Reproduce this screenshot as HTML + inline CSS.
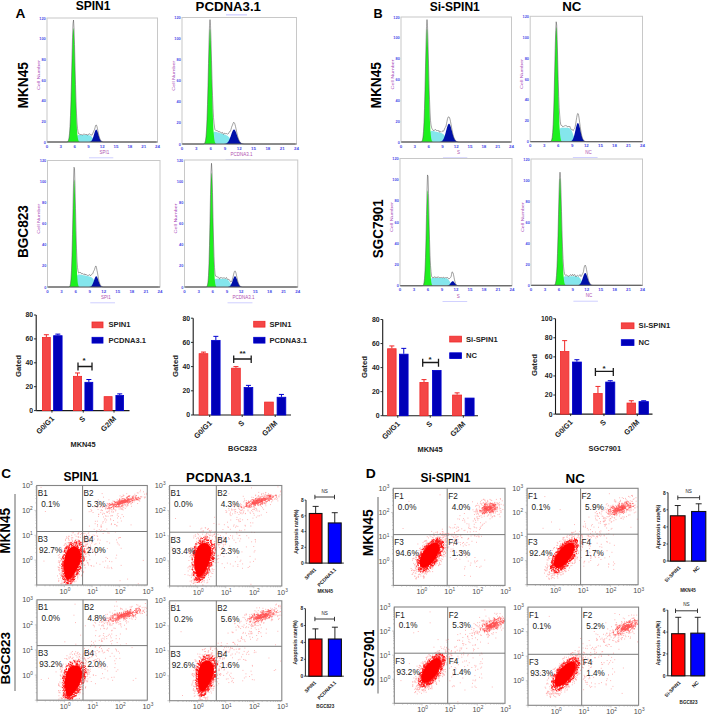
<!DOCTYPE html><html><head><meta charset="utf-8"><style>html,body{margin:0;padding:0;background:#fff;}svg{display:block;}</style></head><body><svg width="709" height="714" viewBox="0 0 709 714" font-family='"Liberation Sans", sans-serif'>
<rect width="709" height="714" fill="#fff"/>
<text x="15.6" y="18.3" font-size="12.57" font-weight="bold" fill="#000" textLength="9.91" lengthAdjust="spacingAndGlyphs">A</text>
<text x="75.67" y="10.2" font-size="13.13" font-weight="bold" fill="#000" textLength="34.85" lengthAdjust="spacingAndGlyphs">SPIN1</text>
<text x="195.59" y="10.5" font-size="12.78" font-weight="bold" fill="#000" textLength="65.32" lengthAdjust="spacingAndGlyphs">PCDNA3.1</text>
<text x="373.38" y="17.8" font-size="12.99" font-weight="bold" fill="#000" textLength="9.14" lengthAdjust="spacingAndGlyphs">B</text>
<text x="429.71" y="10.5" font-size="12.29" font-weight="bold" fill="#000" textLength="50.08" lengthAdjust="spacingAndGlyphs">Si-SPIN1</text>
<text x="562.21" y="10.5" font-size="12.29" font-weight="bold" fill="#000" textLength="19.18" lengthAdjust="spacingAndGlyphs">NC</text>
<text transform="translate(28.1,108.61) rotate(-90)" x="0" y="0" font-size="15.36" font-weight="bold" fill="#000" textLength="46.53" lengthAdjust="spacingAndGlyphs">MKN45</text>
<text transform="translate(28.1,258.1) rotate(-90)" x="0" y="0" font-size="15.08" font-weight="bold" fill="#000" textLength="53.01" lengthAdjust="spacingAndGlyphs">BGC823</text>
<text transform="translate(381,108.39) rotate(-90)" x="0" y="0" font-size="14.8" font-weight="bold" fill="#000" textLength="46.28" lengthAdjust="spacingAndGlyphs">MKN45</text>
<text transform="translate(382.7,258.19) rotate(-90)" x="0" y="0" font-size="14.8" font-weight="bold" fill="#000" textLength="58.98" lengthAdjust="spacingAndGlyphs">SGC7901</text>
<rect x="47" y="18" width="110.5" height="124" fill="#fff" stroke="#c8c8c8" stroke-width="1"/>
<polygon points="72.75,142 72.75,141.94 73,141.91 73.25,141.87 73.5,141.8 73.75,141.7 74,141.55 74.25,141.34 74.5,141.05 74.75,140.65 75,140.14 75.25,139.52 75.5,138.82 75.75,138.09 76,137.4 76.25,136.79 76.5,136.29 76.75,135.91 77,135.63 77.25,135.43 77.5,135.29 77.75,135.19 78,135.13 78.25,135.08 78.5,135.06 78.75,135.04 79,135.02 79.25,135.02 79.5,135.01 79.75,135.01 80,135 80.25,135 80.5,135 80.75,135 81,135 81.25,135 81.5,135 81.75,135 82,135 82.25,135 82.5,135 82.75,135 83,135 83.25,135 83.5,135 83.75,135 84,135 84.25,135 84.5,135.01 84.75,135.01 85,135.01 85.25,135.01 85.5,135.01 85.75,135.02 86,135.02 86.25,135.03 86.5,135.03 86.75,135.04 87,135.05 87.25,135.06 87.5,135.07 87.75,135.09 88,135.11 88.25,135.13 88.5,135.16 88.75,135.2 89,135.24 89.25,135.29 89.5,135.36 89.75,135.44 90,135.53 90.25,135.64 90.5,135.78 90.75,135.93 91,136.11 91.25,136.32 91.5,136.56 91.75,136.83 92,137.12 92.25,137.44 92.5,137.78 92.75,138.14 93,138.5 93.25,138.86 93.5,139.22 93.75,139.56 94,139.88 94.25,140.17 94.5,140.44 94.75,140.68 95,140.89 95.25,141.07 95.5,141.22 95.75,141.36 96,141.47 96.25,141.56 96.5,141.64 96.75,141.71 97,141.76 97.25,141.8 97.5,141.84 97.75,141.87 98,141.89 98.25,141.91 98.5,141.93 98.75,141.94 98.75,142" fill="#84e6ec"/>
<polygon points="67,142 67,141.9 67.25,141.84 67.5,141.72 67.75,141.54 68,141.27 68.25,140.84 68.5,140.21 68.75,139.29 69,138 69.25,136.21 69.5,133.8 69.75,130.63 70,126.57 70.25,121.52 70.5,115.39 70.75,108.17 71,99.92 71.25,90.76 71.5,80.95 71.75,70.82 72,60.79 72.25,51.31 72.5,42.91 72.75,36.04 73,31.11 73.25,28.44 73.5,28.2 73.75,30.39 74,34.88 74.25,41.4 74.5,49.53 74.75,58.83 75,68.79 75.25,78.94 75.5,88.84 75.75,98.15 76,106.6 76.25,114.04 76.5,120.38 76.75,125.64 77,129.89 77.25,133.23 77.5,135.78 77.75,137.68 78,139.07 78.25,140.05 78.5,140.73 78.75,141.19 79,141.5 79.25,141.69 79.5,141.82 79.75,141.89 79.75,142" fill="#1ef01e"/>
<polygon points="89.25,142 89.25,141.92 89.5,141.88 89.75,141.83 90,141.77 90.25,141.68 90.5,141.57 90.75,141.42 91,141.24 91.25,141.01 91.5,140.73 91.75,140.4 92,140 92.25,139.53 92.5,138.99 92.75,138.37 93,137.69 93.25,136.95 93.5,136.16 93.75,135.33 94,134.48 94.25,133.63 94.5,132.8 94.75,132.02 95,131.31 95.25,130.7 95.5,130.21 95.75,129.86 96,129.65 96.25,129.6 96.5,129.71 96.75,129.98 97,130.39 97.25,130.93 97.5,131.59 97.75,132.33 98,133.13 98.25,133.97 98.5,134.82 98.75,135.67 99,136.48 99.25,137.26 99.5,137.97 99.75,138.63 100,139.21 100.25,139.72 100.5,140.16 100.75,140.54 101,140.85 101.25,141.11 101.5,141.32 101.75,141.49 102,141.62 102.25,141.72 102.5,141.79 102.75,141.85 103,141.9 103,142" fill="#0010a8"/>
<path d="M48,142 L48.5,142 L49,142 L49.5,142 L50,142 L50.5,142 L51,142 L51.5,142 L52,142 L52.5,142 L53,142 L53.5,142 L54,142 L54.5,142 L55,142 L55.5,142 L56,142 L56.5,142 L57,142 L57.5,142 L58,142 L58.5,142 L59,142 L59.5,142 L60,142 L60.5,142 L61,142 L61.5,142 L62,142 L62.5,142 L63,142 L63.5,142 L64,142 L64.5,142 L65,142 L65.5,142 L66,141.99 L66.5,141.97 L67,141.9 L67.5,141.72 L68,141.27 L68.5,140.21 L69,138 L69.5,133.79 L70,126.56 L70.5,115.33 L71,99.62 L71.5,79.93 L72,58.16 L72.5,37.83 L73,23.71 L73.5,20.02 L74,27.88 L74.5,44.48 L75,65.1 L75.5,84.4 L76,101.34 L76.5,113.88 L77,122.93 L77.5,128.56 L78,131.61 L78.5,133.6 L79,133.91 L79.5,133.89 L80,134.8 L80.5,134.6 L81,134.28 L81.5,134.62 L82,134.93 L82.5,134.96 L83,134.51 L83.5,134.23 L84,134.31 L84.5,134.23 L85,134.5 L85.5,134.49 L86,134.79 L86.5,134.53 L87,134.29 L87.5,135.24 L88,134.81 L88.5,134.38 L89,134.24 L89.5,133.6 L90,134.25 L90.5,134.91 L91,134.71 L91.5,134.93 L92,135.31 L92.5,134.21 L93,132.9 L93.5,131.87 L94,130.64 L94.5,129.51 L95,127.88 L95.5,125.71 L96,124.91 L96.5,125.23 L97,126.63 L97.5,128.82 L98,131.35 L98.5,133.82 L99,135.99 L99.5,137.76 L100,139.12 L100.5,140.13 L101,140.84 L101.5,141.31 L102,141.61 L102.5,141.79 L103,141.89 L103.5,141.95 L104,141.98 L104.5,141.99 L105,142 L105.5,142 L106,142 L106.5,142 L107,142 L107.5,142 L108,142 L108.5,142 L109,142 L109.5,142 L110,142 L110.5,142 L111,142 L111.5,142 L112,142 L112.5,142 L113,142 L113.5,142 L114,142 L114.5,142 L115,142 L115.5,142 L116,142 L116.5,142 L117,142 L117.5,142 L118,142 L118.5,142 L119,142 L119.5,142 L120,142 L120.5,142 L121,142 L121.5,142 L122,142 L122.5,142 L123,142 L123.5,142 L124,142 L124.5,142 L125,142 L125.5,142 L126,142 L126.5,142 L127,142 L127.5,142 L128,142 L128.5,142 L129,142 L129.5,142 L130,142 L130.5,142 L131,142 L131.5,142 L132,142 L132.5,142 L133,142 L133.5,142 L134,142 L134.5,142 L135,142 L135.5,142 L136,142 L136.5,142 L137,142 L137.5,142 L138,142 L138.5,142 L139,142 L139.5,142 L140,142 L140.5,142 L141,142 L141.5,142 L142,142 L142.5,142 L143,142 L143.5,142 L144,142 L144.5,142 L145,142 L145.5,142 L146,142 L146.5,142 L147,142 L147.5,142 L148,142 L148.5,142 L149,142 L149.5,142 L150,142 L150.5,142 L151,142 L151.5,142 L152,142 L152.5,142 L153,142 L153.5,142 L154,142 L154.5,142 L155,142 L155.5,142 L156,142" fill="none" stroke="#444" stroke-width="0.5"/>
<line x1="47" y1="142" x2="157.5" y2="142" stroke="#5a5a5a" stroke-width="1"/>
<text x="45.8" y="19.5" font-size="3.9" fill="#4a4ae8" text-anchor="end" font-weight="bold">120</text>
<text x="45.8" y="40.17" font-size="3.9" fill="#4a4ae8" text-anchor="end" font-weight="bold">100</text>
<text x="45.8" y="60.83" font-size="3.9" fill="#4a4ae8" text-anchor="end" font-weight="bold">80</text>
<text x="45.8" y="81.5" font-size="3.9" fill="#4a4ae8" text-anchor="end" font-weight="bold">60</text>
<text x="45.8" y="102.17" font-size="3.9" fill="#4a4ae8" text-anchor="end" font-weight="bold">40</text>
<text x="45.8" y="122.83" font-size="3.9" fill="#4a4ae8" text-anchor="end" font-weight="bold">20</text>
<text x="45.8" y="143.5" font-size="3.9" fill="#4a4ae8" text-anchor="end" font-weight="bold">0</text>
<text x="47" y="147.6" font-size="4.4" fill="#4a4ae8" text-anchor="middle" font-weight="bold">0</text>
<text x="60.81" y="147.6" font-size="4.4" fill="#4a4ae8" text-anchor="middle" font-weight="bold">3</text>
<text x="74.62" y="147.6" font-size="4.4" fill="#4a4ae8" text-anchor="middle" font-weight="bold">6</text>
<text x="88.44" y="147.6" font-size="4.4" fill="#4a4ae8" text-anchor="middle" font-weight="bold">9</text>
<text x="102.25" y="147.6" font-size="4.4" fill="#4a4ae8" text-anchor="middle" font-weight="bold">12</text>
<text x="116.06" y="147.6" font-size="4.4" fill="#4a4ae8" text-anchor="middle" font-weight="bold">15</text>
<text x="129.88" y="147.6" font-size="4.4" fill="#4a4ae8" text-anchor="middle" font-weight="bold">18</text>
<text x="143.69" y="147.6" font-size="4.4" fill="#4a4ae8" text-anchor="middle" font-weight="bold">21</text>
<text x="157.5" y="147.6" font-size="4.4" fill="#4a4ae8" text-anchor="middle" font-weight="bold">24</text>
<text transform="translate(39.8,75.04) rotate(-90)" font-size="4.3" fill="#a848b8" text-anchor="middle" textLength="30" lengthAdjust="spacingAndGlyphs">Cell Number</text>
<text x="104.46" y="154" font-size="4.5" fill="#b050b0" text-anchor="middle">SPI1</text>
<rect x="88.99" y="157.5" width="24.31" height="0.7" fill="#9090ff" opacity="0.6"/>
<rect x="182" y="17.5" width="114.5" height="126.5" fill="#fff" stroke="#c8c8c8" stroke-width="1"/>
<polygon points="209,144 209,143.94 209.25,143.9 209.5,143.85 209.75,143.78 210,143.67 210.25,143.5 210.5,143.26 210.75,142.91 211,142.41 211.25,141.73 211.5,140.83 211.75,139.72 212,138.46 212.25,137.11 212.5,135.8 212.75,134.63 213,133.67 213.25,132.94 213.5,132.41 213.75,132.05 214,131.83 214.25,131.7 214.5,131.64 214.75,131.63 215,131.64 215.25,131.68 215.5,131.73 215.75,131.79 216,131.86 216.25,131.93 216.5,132 216.75,132.08 217,132.15 217.25,132.23 217.5,132.3 217.75,132.38 218,132.46 218.25,132.54 218.5,132.61 218.75,132.69 219,132.77 219.25,132.85 219.5,132.93 219.75,133 220,133.08 220.25,133.16 220.5,133.24 220.75,133.32 221,133.39 221.25,133.47 221.5,133.55 221.75,133.63 222,133.71 222.25,133.79 222.5,133.87 222.75,133.95 223,134.03 223.25,134.11 223.5,134.19 223.75,134.27 224,134.35 224.25,134.44 224.5,134.52 224.75,134.61 225,134.7 225.25,134.79 225.5,134.88 225.75,134.98 226,135.08 226.25,135.19 226.5,135.31 226.75,135.43 227,135.56 227.25,135.7 227.5,135.85 227.75,136.02 228,136.21 228.25,136.41 228.5,136.64 228.75,136.89 229,137.17 229.25,137.47 229.5,137.81 229.75,138.17 230,138.56 230.25,138.96 230.5,139.39 230.75,139.82 231,140.25 231.25,140.64 231.5,141.02 231.75,141.39 232,141.73 232.25,142.04 232.5,142.33 232.75,142.58 233,142.81 233.25,143 233.5,143.17 233.75,143.31 234,143.43 234.25,143.53 234.5,143.61 234.75,143.68 235,143.74 235.25,143.79 235.5,143.83 235.75,143.86 236,143.89 236.25,143.91 236.5,143.92 236.75,143.94 237,143.95 237,144" fill="#84e6ec"/>
<polygon points="203.75,144 203.75,143.87 204,143.77 204.25,143.62 204.5,143.38 204.75,143.02 205,142.47 205.25,141.67 205.5,140.53 205.75,138.93 206,136.76 206.25,133.88 206.5,130.15 206.75,125.46 207,119.7 207.25,112.84 207.5,104.9 207.75,95.98 208,86.29 208.25,76.12 208.5,65.88 208.75,56.01 209,47.02 209.25,39.39 209.5,33.58 209.75,29.94 210,28.7 210.25,29.94 210.5,33.58 210.75,39.39 211,47.02 211.25,56.01 211.5,65.88 211.75,76.12 212,86.29 212.25,95.98 212.5,104.9 212.75,112.84 213,119.7 213.25,125.46 213.5,130.15 213.75,133.88 214,136.76 214.25,138.93 214.5,140.53 214.75,141.67 215,142.47 215.25,143.02 215.5,143.38 215.75,143.62 216,143.77 216.25,143.87 216.25,144" fill="#1ef01e"/>
<polygon points="224.5,144 224.5,143.9 224.75,143.87 225,143.84 225.25,143.79 225.5,143.74 225.75,143.67 226,143.59 226.25,143.48 226.5,143.36 226.75,143.22 227,143.05 227.25,142.85 227.5,142.61 227.75,142.34 228,142.04 228.25,141.69 228.5,141.3 228.75,140.86 229,140.38 229.25,139.86 229.5,139.29 229.75,138.68 230,138.04 230.25,137.36 230.5,136.66 230.75,135.94 231,135.21 231.25,134.47 231.5,133.75 231.75,133.05 232,132.39 232.25,131.77 232.5,131.2 232.75,130.71 233,130.28 233.25,129.95 233.5,129.7 233.75,129.55 234,129.5 234.25,129.55 234.5,129.7 234.75,129.95 235,130.28 235.25,130.71 235.5,131.2 235.75,131.77 236,132.39 236.25,133.05 236.5,133.75 236.75,134.47 237,135.21 237.25,135.94 237.5,136.66 237.75,137.36 238,138.04 238.25,138.68 238.5,139.29 238.75,139.86 239,140.38 239.25,140.86 239.5,141.3 239.75,141.69 240,142.04 240.25,142.34 240.5,142.61 240.75,142.85 241,143.05 241.25,143.22 241.5,143.36 241.75,143.48 242,143.59 242.25,143.67 242.5,143.74 242.75,143.79 243,143.84 243.25,143.87 243.5,143.9 243.5,144" fill="#0010a8"/>
<path d="M183,144 L183.5,144 L184,144 L184.5,144 L185,144 L185.5,144 L186,144 L186.5,144 L187,144 L187.5,144 L188,144 L188.5,144 L189,144 L189.5,144 L190,144 L190.5,144 L191,144 L191.5,144 L192,144 L192.5,144 L193,144 L193.5,144 L194,144 L194.5,144 L195,144 L195.5,144 L196,144 L196.5,144 L197,144 L197.5,144 L198,144 L198.5,144 L199,144 L199.5,144 L200,144 L200.5,144 L201,144 L201.5,144 L202,144 L202.5,143.99 L203,143.98 L203.5,143.92 L204,143.77 L204.5,143.38 L205,142.47 L205.5,140.53 L206,136.76 L206.5,130.14 L207,119.65 L207.5,104.65 L208,85.39 L208.5,63.45 L209,42.04 L209.5,25.88 L210,19.64 L210.5,25.23 L211,40.8 L211.5,60.23 L212,78.91 L212.5,95.22 L213,108.28 L213.5,117.46 L214,123.18 L214.5,127.2 L215,129.71 L215.5,130.26 L216,130.11 L216.5,130.55 L217,130.36 L217.5,130.69 L218,131.59 L218.5,131.65 L219,131.9 L219.5,131.84 L220,131.54 L220.5,132.2 L221,132.98 L221.5,132.96 L222,132.48 L222.5,132.41 L223,133.45 L223.5,134.41 L224,133.83 L224.5,133.14 L225,133.17 L225.5,133.66 L226,134.12 L226.5,133.52 L227,133.84 L227.5,134.19 L228,133.56 L228.5,133.44 L229,132.59 L229.5,131.72 L230,131.77 L230.5,130.68 L231,129.38 L231.5,127.55 L232,125.94 L232.5,125.14 L233,123.54 L233.5,122.53 L234,122.37 L234.5,123.02 L235,124.43 L235.5,126.42 L236,128.76 L236.5,131.19 L237,133.53 L237.5,135.64 L238,137.46 L238.5,138.99 L239,140.24 L239.5,141.23 L240,142.01 L240.5,142.6 L241,143.04 L241.5,143.36 L242,143.58 L242.5,143.74 L243,143.84 L243.5,143.9 L244,143.94 L244.5,143.97 L245,143.98 L245.5,143.99 L246,144 L246.5,144 L247,144 L247.5,144 L248,144 L248.5,144 L249,144 L249.5,144 L250,144 L250.5,144 L251,144 L251.5,144 L252,144 L252.5,144 L253,144 L253.5,144 L254,144 L254.5,144 L255,144 L255.5,144 L256,144 L256.5,144 L257,144 L257.5,144 L258,144 L258.5,144 L259,144 L259.5,144 L260,144 L260.5,144 L261,144 L261.5,144 L262,144 L262.5,144 L263,144 L263.5,144 L264,144 L264.5,144 L265,144 L265.5,144 L266,144 L266.5,144 L267,144 L267.5,144 L268,144 L268.5,144 L269,144 L269.5,144 L270,144 L270.5,144 L271,144 L271.5,144 L272,144 L272.5,144 L273,144 L273.5,144 L274,144 L274.5,144 L275,144 L275.5,144 L276,144 L276.5,144 L277,144 L277.5,144 L278,144 L278.5,144 L279,144 L279.5,144 L280,144 L280.5,144 L281,144 L281.5,144 L282,144 L282.5,144 L283,144 L283.5,144 L284,144 L284.5,144 L285,144 L285.5,144 L286,144 L286.5,144 L287,144 L287.5,144 L288,144 L288.5,144 L289,144 L289.5,144 L290,144 L290.5,144 L291,144 L291.5,144 L292,144 L292.5,144 L293,144 L293.5,144 L294,144 L294.5,144 L295,144" fill="none" stroke="#444" stroke-width="0.5"/>
<line x1="182" y1="144" x2="296.5" y2="144" stroke="#5a5a5a" stroke-width="1"/>
<text x="180.8" y="19" font-size="3.9" fill="#4a4ae8" text-anchor="end" font-weight="bold">120</text>
<text x="180.8" y="40.08" font-size="3.9" fill="#4a4ae8" text-anchor="end" font-weight="bold">100</text>
<text x="180.8" y="61.17" font-size="3.9" fill="#4a4ae8" text-anchor="end" font-weight="bold">80</text>
<text x="180.8" y="82.25" font-size="3.9" fill="#4a4ae8" text-anchor="end" font-weight="bold">60</text>
<text x="180.8" y="103.33" font-size="3.9" fill="#4a4ae8" text-anchor="end" font-weight="bold">40</text>
<text x="180.8" y="124.42" font-size="3.9" fill="#4a4ae8" text-anchor="end" font-weight="bold">20</text>
<text x="180.8" y="145.5" font-size="3.9" fill="#4a4ae8" text-anchor="end" font-weight="bold">0</text>
<text x="182" y="149.6" font-size="4.4" fill="#4a4ae8" text-anchor="middle" font-weight="bold">0</text>
<text x="196.31" y="149.6" font-size="4.4" fill="#4a4ae8" text-anchor="middle" font-weight="bold">3</text>
<text x="210.62" y="149.6" font-size="4.4" fill="#4a4ae8" text-anchor="middle" font-weight="bold">6</text>
<text x="224.94" y="149.6" font-size="4.4" fill="#4a4ae8" text-anchor="middle" font-weight="bold">9</text>
<text x="239.25" y="149.6" font-size="4.4" fill="#4a4ae8" text-anchor="middle" font-weight="bold">12</text>
<text x="253.56" y="149.6" font-size="4.4" fill="#4a4ae8" text-anchor="middle" font-weight="bold">15</text>
<text x="267.88" y="149.6" font-size="4.4" fill="#4a4ae8" text-anchor="middle" font-weight="bold">18</text>
<text x="282.19" y="149.6" font-size="4.4" fill="#4a4ae8" text-anchor="middle" font-weight="bold">21</text>
<text x="296.5" y="149.6" font-size="4.4" fill="#4a4ae8" text-anchor="middle" font-weight="bold">24</text>
<text transform="translate(174.8,75.69) rotate(-90)" font-size="4.3" fill="#a848b8" text-anchor="middle" textLength="30" lengthAdjust="spacingAndGlyphs">Cell Number</text>
<text x="241.54" y="156" font-size="4.5" fill="#b050b0" text-anchor="middle">PCDNA3.1</text>
<rect x="225.51" y="159.5" width="25.19" height="0.7" fill="#9090ff" opacity="0.6"/>
<rect x="47.5" y="160.5" width="112.5" height="126.5" fill="#fff" stroke="#c8c8c8" stroke-width="1"/>
<polygon points="72.75,287 72.75,286.94 73,286.91 73.25,286.87 73.5,286.8 73.75,286.7 74,286.56 74.25,286.34 74.5,286.02 74.75,285.57 75,284.95 75.25,284.11 75.5,283.06 75.75,281.83 76,280.5 76.25,279.17 76.5,277.94 76.75,276.91 77,276.1 77.25,275.5 77.5,275.08 77.75,274.8 78,274.63 78.25,274.52 78.5,274.47 78.75,274.45 79,274.45 79.25,274.47 79.5,274.5 79.75,274.54 80,274.58 80.25,274.62 80.5,274.67 80.75,274.71 81,274.76 81.25,274.81 81.5,274.86 81.75,274.91 82,274.95 82.25,275 82.5,275.05 82.75,275.1 83,275.15 83.25,275.2 83.5,275.25 83.75,275.3 84,275.35 84.25,275.4 84.5,275.45 84.75,275.49 85,275.54 85.25,275.59 85.5,275.64 85.75,275.69 86,275.74 86.25,275.79 86.5,275.84 86.75,275.9 87,275.95 87.25,276 87.5,276.05 87.75,276.11 88,276.16 88.25,276.22 88.5,276.27 88.75,276.33 89,276.4 89.25,276.46 89.5,276.53 89.75,276.6 90,276.68 90.25,276.77 90.5,276.86 90.75,276.96 91,277.07 91.25,277.2 91.5,277.34 91.75,277.5 92,277.68 92.25,277.88 92.5,278.12 92.75,278.38 93,278.68 93.25,279.01 93.5,279.39 93.75,279.8 94,280.24 94.25,280.72 94.5,281.22 94.75,281.73 95,282.25 95.25,282.74 95.5,283.23 95.75,283.69 96,284.12 96.25,284.52 96.5,284.88 96.75,285.21 97,285.49 97.25,285.74 97.5,285.95 97.75,286.13 98,286.28 98.25,286.41 98.5,286.51 98.75,286.6 99,286.67 99.25,286.73 99.5,286.78 99.75,286.82 100,286.85 100.25,286.88 100.5,286.9 100.75,286.92 101,286.94 101.25,286.95 101.25,287" fill="#84e6ec"/>
<polygon points="69,287 69,286.89 69.25,286.79 69.5,286.62 69.75,286.31 70,285.81 70.25,284.99 70.5,283.73 70.75,281.84 71,279.11 71.25,275.32 71.5,270.26 71.75,263.75 72,255.73 72.25,246.25 72.5,235.57 72.75,224.13 73,212.55 73.25,201.61 73.5,192.13 73.75,184.91 74,180.59 74.25,179.57 74.5,181.94 74.75,187.48 75,195.69 75.25,205.85 75.5,217.15 75.75,228.76 76,239.96 76.25,250.2 76.5,259.12 76.75,266.54 77,272.45 77.25,276.98 77.5,280.32 77.75,282.68 78,284.3 78.25,285.36 78.5,286.04 78.75,286.45 79,286.7 79.25,286.84 79.5,286.92 79.5,287" fill="#1ef01e"/>
<polygon points="89.5,287 89.5,286.9 89.75,286.85 90,286.8 90.25,286.72 90.5,286.62 90.75,286.5 91,286.34 91.25,286.14 91.5,285.9 91.75,285.6 92,285.25 92.25,284.85 92.5,284.37 92.75,283.84 93,283.25 93.25,282.6 93.5,281.91 93.75,281.19 94,280.45 94.25,279.71 94.5,278.99 94.75,278.31 95,277.69 95.25,277.16 95.5,276.73 95.75,276.42 96,276.24 96.25,276.2 96.5,276.3 96.75,276.53 97,276.89 97.25,277.36 97.5,277.93 97.75,278.57 98,279.27 98.25,280 98.5,280.75 98.75,281.48 99,282.2 99.25,282.87 99.5,283.49 99.75,284.06 100,284.57 100.25,285.02 100.5,285.4 100.75,285.73 101,286 101.25,286.23 101.5,286.41 101.75,286.55 102,286.67 102.25,286.75 102.5,286.82 102.75,286.87 103,286.91 103,287" fill="#0010a8"/>
<path d="M48.5,287 L49,287 L49.5,287 L50,287 L50.5,287 L51,287 L51.5,287 L52,287 L52.5,287 L53,287 L53.5,287 L54,287 L54.5,287 L55,287 L55.5,287 L56,287 L56.5,287 L57,287 L57.5,287 L58,287 L58.5,287 L59,287 L59.5,287 L60,287 L60.5,287 L61,287 L61.5,287 L62,287 L62.5,287 L63,287 L63.5,287 L64,287 L64.5,287 L65,287 L65.5,287 L66,287 L66.5,287 L67,287 L67.5,287 L68,286.99 L68.5,286.97 L69,286.89 L69.5,286.62 L70,285.81 L70.5,283.73 L71,279.11 L71.5,270.22 L72,255.48 L72.5,234.36 L73,208.51 L73.5,183.12 L74,167.24 L74.5,168.54 L75,185.74 L75.5,208.74 L76,230.36 L76.5,248.83 L77,261.12 L77.5,267.53 L78,271.06 L78.5,272.81 L79,273.2 L79.5,272.47 L80,272.55 L80.5,272.49 L81,272.77 L81.5,273.84 L82,273.43 L82.5,273.47 L83,274.23 L83.5,274.26 L84,273.7 L84.5,274.15 L85,275.1 L85.5,274.49 L86,274.26 L86.5,274.99 L87,275.32 L87.5,275.39 L88,275.73 L88.5,275.37 L89,274.98 L89.5,274.55 L90,275.14 L90.5,275.9 L91,274.98 L91.5,274.4 L92,274.26 L92.5,273.92 L93,273.12 L93.5,271.39 L94,270.58 L94.5,269.57 L95,267.84 L95.5,266.38 L96,265.91 L96.5,267.78 L97,270.62 L97.5,272.85 L98,275.84 L98.5,278.74 L99,281.13 L99.5,282.96 L100,284.3 L100.5,285.26 L101,285.92 L101.5,286.36 L102,286.63 L102.5,286.8 L103,286.9 L103.5,286.95 L104,286.97 L104.5,286.99 L105,286.99 L105.5,287 L106,287 L106.5,287 L107,287 L107.5,287 L108,287 L108.5,287 L109,287 L109.5,287 L110,287 L110.5,287 L111,287 L111.5,287 L112,287 L112.5,287 L113,287 L113.5,287 L114,287 L114.5,287 L115,287 L115.5,287 L116,287 L116.5,287 L117,287 L117.5,287 L118,287 L118.5,287 L119,287 L119.5,287 L120,287 L120.5,287 L121,287 L121.5,287 L122,287 L122.5,287 L123,287 L123.5,287 L124,287 L124.5,287 L125,287 L125.5,287 L126,287 L126.5,287 L127,287 L127.5,287 L128,287 L128.5,287 L129,287 L129.5,287 L130,287 L130.5,287 L131,287 L131.5,287 L132,287 L132.5,287 L133,287 L133.5,287 L134,287 L134.5,287 L135,287 L135.5,287 L136,287 L136.5,287 L137,287 L137.5,287 L138,287 L138.5,287 L139,287 L139.5,287 L140,287 L140.5,287 L141,287 L141.5,287 L142,287 L142.5,287 L143,287 L143.5,287 L144,287 L144.5,287 L145,287 L145.5,287 L146,287 L146.5,287 L147,287 L147.5,287 L148,287 L148.5,287 L149,287 L149.5,287 L150,287 L150.5,287 L151,287 L151.5,287 L152,287 L152.5,287 L153,287 L153.5,287 L154,287 L154.5,287 L155,287 L155.5,287 L156,287 L156.5,287 L157,287 L157.5,287 L158,287 L158.5,287" fill="none" stroke="#444" stroke-width="0.5"/>
<line x1="47.5" y1="287" x2="160" y2="287" stroke="#5a5a5a" stroke-width="1"/>
<text x="46.3" y="162" font-size="3.9" fill="#4a4ae8" text-anchor="end" font-weight="bold">120</text>
<text x="46.3" y="183.08" font-size="3.9" fill="#4a4ae8" text-anchor="end" font-weight="bold">100</text>
<text x="46.3" y="204.17" font-size="3.9" fill="#4a4ae8" text-anchor="end" font-weight="bold">80</text>
<text x="46.3" y="225.25" font-size="3.9" fill="#4a4ae8" text-anchor="end" font-weight="bold">60</text>
<text x="46.3" y="246.33" font-size="3.9" fill="#4a4ae8" text-anchor="end" font-weight="bold">40</text>
<text x="46.3" y="267.42" font-size="3.9" fill="#4a4ae8" text-anchor="end" font-weight="bold">20</text>
<text x="46.3" y="288.5" font-size="3.9" fill="#4a4ae8" text-anchor="end" font-weight="bold">0</text>
<text x="47.5" y="292.6" font-size="4.4" fill="#4a4ae8" text-anchor="middle" font-weight="bold">0</text>
<text x="61.56" y="292.6" font-size="4.4" fill="#4a4ae8" text-anchor="middle" font-weight="bold">3</text>
<text x="75.62" y="292.6" font-size="4.4" fill="#4a4ae8" text-anchor="middle" font-weight="bold">6</text>
<text x="89.69" y="292.6" font-size="4.4" fill="#4a4ae8" text-anchor="middle" font-weight="bold">9</text>
<text x="103.75" y="292.6" font-size="4.4" fill="#4a4ae8" text-anchor="middle" font-weight="bold">12</text>
<text x="117.81" y="292.6" font-size="4.4" fill="#4a4ae8" text-anchor="middle" font-weight="bold">15</text>
<text x="131.88" y="292.6" font-size="4.4" fill="#4a4ae8" text-anchor="middle" font-weight="bold">18</text>
<text x="145.94" y="292.6" font-size="4.4" fill="#4a4ae8" text-anchor="middle" font-weight="bold">21</text>
<text x="160" y="292.6" font-size="4.4" fill="#4a4ae8" text-anchor="middle" font-weight="bold">24</text>
<text transform="translate(40.3,218.69) rotate(-90)" font-size="4.3" fill="#a848b8" text-anchor="middle" textLength="30" lengthAdjust="spacingAndGlyphs">Cell Number</text>
<text x="106" y="299" font-size="4.5" fill="#b050b0" text-anchor="middle">SPI1</text>
<rect x="90.25" y="302.5" width="24.75" height="0.7" fill="#9090ff" opacity="0.6"/>
<rect x="184.5" y="160" width="113.25" height="127" fill="#fff" stroke="#c8c8c8" stroke-width="1"/>
<polygon points="210.5,287 210.5,286.93 210.75,286.89 211,286.83 211.25,286.74 211.5,286.62 211.75,286.43 212,286.17 212.25,285.81 212.5,285.31 212.75,284.69 213,283.93 213.25,283.09 213.5,282.23 213.75,281.42 214,280.72 214.25,280.15 214.5,279.72 214.75,279.4 215,279.18 215.25,279.02 215.5,278.91 215.75,278.84 216,278.79 216.25,278.76 216.5,278.74 216.75,278.73 217,278.72 217.25,278.71 217.5,278.71 217.75,278.71 218,278.7 218.25,278.7 218.5,278.7 218.75,278.7 219,278.7 219.25,278.7 219.5,278.7 219.75,278.7 220,278.7 220.25,278.7 220.5,278.7 220.75,278.7 221,278.7 221.25,278.71 221.5,278.71 221.75,278.71 222,278.71 222.25,278.71 222.5,278.72 222.75,278.72 223,278.72 223.25,278.73 223.5,278.74 223.75,278.75 224,278.76 224.25,278.77 224.5,278.78 224.75,278.8 225,278.83 225.25,278.86 225.5,278.89 225.75,278.93 226,278.99 226.25,279.05 226.5,279.13 226.75,279.22 227,279.33 227.25,279.46 227.5,279.62 227.75,279.8 228,280.02 228.25,280.27 228.5,280.55 228.75,280.86 229,281.21 229.25,281.59 229.5,282 229.75,282.42 230,282.85 230.25,283.28 230.5,283.7 230.75,284.11 231,284.49 231.25,284.84 231.5,285.15 231.75,285.43 232,285.68 232.25,285.9 232.5,286.08 232.75,286.24 233,286.37 233.25,286.48 233.5,286.57 233.75,286.65 234,286.71 234.25,286.77 234.5,286.81 234.75,286.84 235,286.87 235.25,286.9 235.5,286.92 235.75,286.93 236,286.94 236,287" fill="#84e6ec"/>
<polygon points="206.25,287 206.25,286.9 206.5,286.81 206.75,286.64 207,286.35 207.25,285.86 207.5,285.07 207.75,283.83 208,281.97 208.25,279.26 208.5,275.47 208.75,270.37 209,263.75 209.25,255.53 209.5,245.73 209.75,234.58 210,222.5 210.25,210.14 210.5,198.28 210.75,187.81 211,179.57 211.25,174.31 211.5,172.5 211.75,174.31 212,179.57 212.25,187.81 212.5,198.28 212.75,210.14 213,222.5 213.25,234.58 213.5,245.73 213.75,255.53 214,263.75 214.25,270.37 214.5,275.47 214.75,279.26 215,281.97 215.25,283.83 215.5,285.07 215.75,285.86 216,286.35 216.25,286.64 216.5,286.81 216.75,286.9 216.75,287" fill="#1ef01e"/>
<polygon points="228,287 228,286.89 228.25,286.85 228.5,286.8 228.75,286.73 229,286.64 229.25,286.53 229.5,286.38 229.75,286.2 230,285.98 230.25,285.72 230.5,285.41 230.75,285.04 231,284.62 231.25,284.14 231.5,283.61 231.75,283.02 232,282.39 232.25,281.72 232.5,281.02 232.75,280.31 233,279.6 233.25,278.91 233.5,278.27 233.75,277.68 234,277.17 234.25,276.76 234.5,276.45 234.75,276.26 235,276.2 235.25,276.26 235.5,276.45 235.75,276.76 236,277.17 236.25,277.68 236.5,278.27 236.75,278.91 237,279.6 237.25,280.31 237.5,281.02 237.75,281.72 238,282.39 238.25,283.02 238.5,283.61 238.75,284.14 239,284.62 239.25,285.04 239.5,285.41 239.75,285.72 240,285.98 240.25,286.2 240.5,286.38 240.75,286.53 241,286.64 241.25,286.73 241.5,286.8 241.75,286.85 242,286.89 242,287" fill="#0010a8"/>
<path d="M185.5,287 L186,287 L186.5,287 L187,287 L187.5,287 L188,287 L188.5,287 L189,287 L189.5,287 L190,287 L190.5,287 L191,287 L191.5,287 L192,287 L192.5,287 L193,287 L193.5,287 L194,287 L194.5,287 L195,287 L195.5,287 L196,287 L196.5,287 L197,287 L197.5,287 L198,287 L198.5,287 L199,287 L199.5,287 L200,287 L200.5,287 L201,287 L201.5,287 L202,287 L202.5,287 L203,287 L203.5,287 L204,287 L204.5,287 L205,287 L205.5,286.99 L206,286.95 L206.5,286.81 L207,286.35 L207.5,285.07 L208,281.97 L208.5,275.47 L209,263.7 L209.5,245.41 L210,221.15 L210.5,194.41 L211,172.26 L211.5,163.28 L212,171.54 L212.5,192.67 L213,217.75 L213.5,239.95 L214,256.38 L214.5,267.42 L215,273.93 L215.5,276.11 L216,276.28 L216.5,276.46 L217,276.74 L217.5,276.97 L218,277.07 L218.5,277.22 L219,277.73 L219.5,278.98 L220,278.54 L220.5,277.54 L221,277.58 L221.5,277.6 L222,278.18 L222.5,278.05 L223,277.73 L223.5,277.88 L224,277.86 L224.5,277.95 L225,278.13 L225.5,278.39 L226,278.18 L226.5,277.51 L227,278.89 L227.5,279.31 L228,279.12 L228.5,279.42 L229,279.33 L229.5,279.95 L230,280.92 L230.5,281.86 L231,281.54 L231.5,281.53 L232,280.57 L232.5,279 L233,277.09 L233.5,274.92 L234,272.86 L234.5,271.37 L235,270.86 L235.5,271.49 L236,273.11 L236.5,275.35 L237,277.75 L237.5,279.99 L238,281.89 L238.5,283.39 L239,284.54 L239.5,285.38 L240,285.97 L240.5,286.38 L241,286.64 L241.5,286.8 L242,286.89 L242.5,286.95 L243,286.97 L243.5,286.99 L244,286.99 L244.5,287 L245,287 L245.5,287 L246,287 L246.5,287 L247,287 L247.5,287 L248,287 L248.5,287 L249,287 L249.5,287 L250,287 L250.5,287 L251,287 L251.5,287 L252,287 L252.5,287 L253,287 L253.5,287 L254,287 L254.5,287 L255,287 L255.5,287 L256,287 L256.5,287 L257,287 L257.5,287 L258,287 L258.5,287 L259,287 L259.5,287 L260,287 L260.5,287 L261,287 L261.5,287 L262,287 L262.5,287 L263,287 L263.5,287 L264,287 L264.5,287 L265,287 L265.5,287 L266,287 L266.5,287 L267,287 L267.5,287 L268,287 L268.5,287 L269,287 L269.5,287 L270,287 L270.5,287 L271,287 L271.5,287 L272,287 L272.5,287 L273,287 L273.5,287 L274,287 L274.5,287 L275,287 L275.5,287 L276,287 L276.5,287 L277,287 L277.5,287 L278,287 L278.5,287 L279,287 L279.5,287 L280,287 L280.5,287 L281,287 L281.5,287 L282,287 L282.5,287 L283,287 L283.5,287 L284,287 L284.5,287 L285,287 L285.5,287 L286,287 L286.5,287 L287,287 L287.5,287 L288,287 L288.5,287 L289,287 L289.5,287 L290,287 L290.5,287 L291,287 L291.5,287 L292,287 L292.5,287 L293,287 L293.5,287 L294,287 L294.5,287 L295,287 L295.5,287 L296,287 L296.5,287" fill="none" stroke="#444" stroke-width="0.5"/>
<line x1="184.5" y1="287" x2="297.75" y2="287" stroke="#5a5a5a" stroke-width="1"/>
<text x="183.3" y="161.5" font-size="3.9" fill="#4a4ae8" text-anchor="end" font-weight="bold">120</text>
<text x="183.3" y="182.67" font-size="3.9" fill="#4a4ae8" text-anchor="end" font-weight="bold">100</text>
<text x="183.3" y="203.83" font-size="3.9" fill="#4a4ae8" text-anchor="end" font-weight="bold">80</text>
<text x="183.3" y="225" font-size="3.9" fill="#4a4ae8" text-anchor="end" font-weight="bold">60</text>
<text x="183.3" y="246.17" font-size="3.9" fill="#4a4ae8" text-anchor="end" font-weight="bold">40</text>
<text x="183.3" y="267.33" font-size="3.9" fill="#4a4ae8" text-anchor="end" font-weight="bold">20</text>
<text x="183.3" y="288.5" font-size="3.9" fill="#4a4ae8" text-anchor="end" font-weight="bold">0</text>
<text x="184.5" y="292.6" font-size="4.4" fill="#4a4ae8" text-anchor="middle" font-weight="bold">0</text>
<text x="198.66" y="292.6" font-size="4.4" fill="#4a4ae8" text-anchor="middle" font-weight="bold">3</text>
<text x="212.81" y="292.6" font-size="4.4" fill="#4a4ae8" text-anchor="middle" font-weight="bold">6</text>
<text x="226.97" y="292.6" font-size="4.4" fill="#4a4ae8" text-anchor="middle" font-weight="bold">9</text>
<text x="241.12" y="292.6" font-size="4.4" fill="#4a4ae8" text-anchor="middle" font-weight="bold">12</text>
<text x="255.28" y="292.6" font-size="4.4" fill="#4a4ae8" text-anchor="middle" font-weight="bold">15</text>
<text x="269.44" y="292.6" font-size="4.4" fill="#4a4ae8" text-anchor="middle" font-weight="bold">18</text>
<text x="283.59" y="292.6" font-size="4.4" fill="#4a4ae8" text-anchor="middle" font-weight="bold">21</text>
<text x="297.75" y="292.6" font-size="4.4" fill="#4a4ae8" text-anchor="middle" font-weight="bold">24</text>
<text transform="translate(177.3,218.42) rotate(-90)" font-size="4.3" fill="#a848b8" text-anchor="middle" textLength="30" lengthAdjust="spacingAndGlyphs">Cell Number</text>
<text x="243.39" y="299" font-size="4.5" fill="#b050b0" text-anchor="middle">PCDNA3.1</text>
<rect x="227.53" y="302.5" width="24.91" height="0.7" fill="#9090ff" opacity="0.6"/>
<rect x="401" y="17" width="110.5" height="125" fill="#fff" stroke="#c8c8c8" stroke-width="1"/>
<polygon points="426,142 426,141.93 426.25,141.89 426.5,141.84 426.75,141.76 427,141.64 427.25,141.46 427.5,141.2 427.75,140.82 428,140.3 428.25,139.59 428.5,138.69 428.75,137.62 429,136.44 429.25,135.24 429.5,134.12 429.75,133.16 430,132.39 430.25,131.83 430.5,131.43 430.75,131.16 431,131 431.25,130.91 431.5,130.86 431.75,130.85 432,130.87 432.25,130.9 432.5,130.93 432.75,130.98 433,131.03 433.25,131.08 433.5,131.13 433.75,131.19 434,131.24 434.25,131.3 434.5,131.36 434.75,131.42 435,131.47 435.25,131.53 435.5,131.59 435.75,131.65 436,131.7 436.25,131.76 436.5,131.82 436.75,131.88 437,131.94 437.25,132 437.5,132.05 437.75,132.11 438,132.17 438.25,132.23 438.5,132.29 438.75,132.36 439,132.42 439.25,132.48 439.5,132.55 439.75,132.61 440,132.68 440.25,132.75 440.5,132.83 440.75,132.91 441,132.99 441.25,133.08 441.5,133.17 441.75,133.28 442,133.39 442.25,133.51 442.5,133.65 442.75,133.8 443,133.97 443.25,134.16 443.5,134.37 443.75,134.62 444,134.88 444.25,135.18 444.5,135.51 444.75,135.87 445,136.26 445.25,136.68 445.5,137.11 445.75,137.55 446,138 446.25,138.42 446.5,138.82 446.75,139.21 447,139.58 447.25,139.91 447.5,140.22 447.75,140.49 448,140.73 448.25,140.94 448.5,141.11 448.75,141.27 449,141.39 449.25,141.5 449.5,141.59 449.75,141.66 450,141.72 450.25,141.77 450.5,141.82 450.75,141.85 451,141.88 451.25,141.9 451.5,141.92 451.75,141.93 452,141.95 452,142" fill="#84e6ec"/>
<polygon points="421,142 421,141.9 421.25,141.82 421.5,141.69 421.75,141.48 422,141.14 422.25,140.62 422.5,139.83 422.75,138.67 423,137.02 423.25,134.73 423.5,131.65 423.75,127.6 424,122.46 424.25,116.13 424.5,108.57 424.75,99.85 425,90.13 425.25,79.7 425.5,68.99 425.75,58.5 426,48.8 426.25,40.49 426.5,34.1 426.75,30.07 427,28.7 427.25,30.07 427.5,34.1 427.75,40.49 428,48.8 428.25,58.5 428.5,68.99 428.75,79.7 429,90.13 429.25,99.85 429.5,108.57 429.75,116.13 430,122.46 430.25,127.6 430.5,131.65 430.75,134.73 431,137.02 431.25,138.67 431.5,139.83 431.75,140.62 432,141.14 432.25,141.48 432.5,141.69 432.75,141.82 433,141.9 433,142" fill="#1ef01e"/>
<polygon points="439.5,142 439.5,141.91 439.75,141.89 440,141.85 440.25,141.81 440.5,141.75 440.75,141.68 441,141.59 441.25,141.49 441.5,141.35 441.75,141.2 442,141.01 442.25,140.78 442.5,140.52 442.75,140.21 443,139.85 443.25,139.44 443.5,138.97 443.75,138.45 444,137.86 444.25,137.21 444.5,136.51 444.75,135.75 445,134.93 445.25,134.07 445.5,133.17 445.75,132.23 446,131.28 446.25,130.33 446.5,129.38 446.75,128.46 447,127.57 447.25,126.75 447.5,125.99 447.75,125.32 448,124.76 448.25,124.3 448.5,123.97 448.75,123.77 449,123.7 449.25,123.77 449.5,123.97 449.75,124.3 450,124.76 450.25,125.32 450.5,125.99 450.75,126.75 451,127.57 451.25,128.46 451.5,129.38 451.75,130.33 452,131.28 452.25,132.23 452.5,133.17 452.75,134.07 453,134.93 453.25,135.75 453.5,136.51 453.75,137.21 454,137.86 454.25,138.45 454.5,138.97 454.75,139.44 455,139.85 455.25,140.21 455.5,140.52 455.75,140.78 456,141.01 456.25,141.2 456.5,141.35 456.75,141.49 457,141.59 457.25,141.68 457.5,141.75 457.75,141.81 458,141.85 458.25,141.89 458.5,141.91 458.5,142" fill="#0010a8"/>
<path d="M402,142 L402.5,142 L403,142 L403.5,142 L404,142 L404.5,142 L405,142 L405.5,142 L406,142 L406.5,142 L407,142 L407.5,142 L408,142 L408.5,142 L409,142 L409.5,142 L410,142 L410.5,142 L411,142 L411.5,142 L412,142 L412.5,142 L413,142 L413.5,142 L414,142 L414.5,142 L415,142 L415.5,142 L416,142 L416.5,142 L417,142 L417.5,142 L418,142 L418.5,142 L419,142 L419.5,142 L420,141.99 L420.5,141.97 L421,141.9 L421.5,141.69 L422,141.14 L422.5,139.83 L423,137.02 L423.5,131.64 L424,122.44 L424.5,108.41 L425,89.46 L425.5,66.92 L426,44.16 L426.5,26.52 L427,19.6 L427.5,25.81 L428,41.88 L428.5,63.07 L429,83.09 L429.5,99.19 L430,112.05 L430.5,120.62 L431,125.06 L431.5,127.25 L432,128.69 L432.5,129.35 L433,130.42 L433.5,130.48 L434,130.18 L434.5,130.14 L435,129.77 L435.5,129.54 L436,129.83 L436.5,130.65 L437,130.86 L437.5,130.33 L438,130.98 L438.5,130.86 L439,130.49 L439.5,131.92 L440,132.35 L440.5,131.7 L441,131.61 L441.5,132.15 L442,131.53 L442.5,131.05 L443,131.36 L443.5,131.19 L444,130.23 L444.5,129.1 L445,127.58 L445.5,127.16 L446,126.22 L446.5,123.7 L447,121.31 L447.5,118.81 L448,117.17 L448.5,117.05 L449,116.83 L449.5,117.57 L450,119.2 L450.5,121.51 L451,124.24 L451.5,127.08 L452,129.82 L452.5,132.31 L453,134.46 L453.5,136.27 L454,137.75 L454.5,138.92 L455,139.83 L455.5,140.51 L456,141 L456.5,141.35 L457,141.59 L457.5,141.75 L458,141.85 L458.5,141.91 L459,141.95 L459.5,141.97 L460,141.99 L460.5,141.99 L461,142 L461.5,142 L462,142 L462.5,142 L463,142 L463.5,142 L464,142 L464.5,142 L465,142 L465.5,142 L466,142 L466.5,142 L467,142 L467.5,142 L468,142 L468.5,142 L469,142 L469.5,142 L470,142 L470.5,142 L471,142 L471.5,142 L472,142 L472.5,142 L473,142 L473.5,142 L474,142 L474.5,142 L475,142 L475.5,142 L476,142 L476.5,142 L477,142 L477.5,142 L478,142 L478.5,142 L479,142 L479.5,142 L480,142 L480.5,142 L481,142 L481.5,142 L482,142 L482.5,142 L483,142 L483.5,142 L484,142 L484.5,142 L485,142 L485.5,142 L486,142 L486.5,142 L487,142 L487.5,142 L488,142 L488.5,142 L489,142 L489.5,142 L490,142 L490.5,142 L491,142 L491.5,142 L492,142 L492.5,142 L493,142 L493.5,142 L494,142 L494.5,142 L495,142 L495.5,142 L496,142 L496.5,142 L497,142 L497.5,142 L498,142 L498.5,142 L499,142 L499.5,142 L500,142 L500.5,142 L501,142 L501.5,142 L502,142 L502.5,142 L503,142 L503.5,142 L504,142 L504.5,142 L505,142 L505.5,142 L506,142 L506.5,142 L507,142 L507.5,142 L508,142 L508.5,142 L509,142 L509.5,142 L510,142" fill="none" stroke="#444" stroke-width="0.5"/>
<line x1="401" y1="142" x2="511.5" y2="142" stroke="#5a5a5a" stroke-width="1"/>
<text x="399.8" y="18.5" font-size="3.9" fill="#4a4ae8" text-anchor="end" font-weight="bold">120</text>
<text x="399.8" y="39.33" font-size="3.9" fill="#4a4ae8" text-anchor="end" font-weight="bold">100</text>
<text x="399.8" y="60.17" font-size="3.9" fill="#4a4ae8" text-anchor="end" font-weight="bold">80</text>
<text x="399.8" y="81" font-size="3.9" fill="#4a4ae8" text-anchor="end" font-weight="bold">60</text>
<text x="399.8" y="101.83" font-size="3.9" fill="#4a4ae8" text-anchor="end" font-weight="bold">40</text>
<text x="399.8" y="122.67" font-size="3.9" fill="#4a4ae8" text-anchor="end" font-weight="bold">20</text>
<text x="399.8" y="143.5" font-size="3.9" fill="#4a4ae8" text-anchor="end" font-weight="bold">0</text>
<text x="401" y="147.6" font-size="4.4" fill="#4a4ae8" text-anchor="middle" font-weight="bold">0</text>
<text x="414.81" y="147.6" font-size="4.4" fill="#4a4ae8" text-anchor="middle" font-weight="bold">3</text>
<text x="428.62" y="147.6" font-size="4.4" fill="#4a4ae8" text-anchor="middle" font-weight="bold">6</text>
<text x="442.44" y="147.6" font-size="4.4" fill="#4a4ae8" text-anchor="middle" font-weight="bold">9</text>
<text x="456.25" y="147.6" font-size="4.4" fill="#4a4ae8" text-anchor="middle" font-weight="bold">12</text>
<text x="470.06" y="147.6" font-size="4.4" fill="#4a4ae8" text-anchor="middle" font-weight="bold">15</text>
<text x="483.88" y="147.6" font-size="4.4" fill="#4a4ae8" text-anchor="middle" font-weight="bold">18</text>
<text x="497.69" y="147.6" font-size="4.4" fill="#4a4ae8" text-anchor="middle" font-weight="bold">21</text>
<text x="511.5" y="147.6" font-size="4.4" fill="#4a4ae8" text-anchor="middle" font-weight="bold">24</text>
<text transform="translate(393.8,74.5) rotate(-90)" font-size="4.3" fill="#a848b8" text-anchor="middle" textLength="30" lengthAdjust="spacingAndGlyphs">Cell Number</text>
<text x="458.46" y="154" font-size="4.5" fill="#b050b0" text-anchor="middle">S</text>
<rect x="442.99" y="157.5" width="24.31" height="0.7" fill="#9090ff" opacity="0.6"/>
<rect x="530.2" y="16.3" width="112.3" height="125.4" fill="#fff" stroke="#c8c8c8" stroke-width="1"/>
<polygon points="555.2,141.7 555.2,141.63 555.45,141.59 555.7,141.54 555.95,141.46 556.2,141.34 556.45,141.16 556.7,140.9 556.95,140.52 557.2,139.98 557.45,139.25 557.7,138.29 557.95,137.11 558.2,135.74 558.45,134.29 558.7,132.88 558.95,131.6 559.2,130.54 559.45,129.71 559.7,129.1 559.95,128.65 560.2,128.34 560.45,128.13 560.7,127.99 560.95,127.89 561.2,127.83 561.45,127.78 561.7,127.76 561.95,127.74 562.2,127.73 562.45,127.72 562.7,127.71 562.95,127.71 563.2,127.71 563.45,127.71 563.7,127.71 563.95,127.71 564.2,127.71 564.45,127.71 564.7,127.71 564.95,127.71 565.2,127.72 565.45,127.72 565.7,127.73 565.95,127.73 566.2,127.74 566.45,127.75 566.7,127.76 566.95,127.78 567.2,127.79 567.45,127.82 567.7,127.84 567.95,127.87 568.2,127.91 568.45,127.96 568.7,128.02 568.95,128.09 569.2,128.18 569.45,128.29 569.7,128.42 569.95,128.57 570.2,128.76 570.45,128.99 570.7,129.25 570.95,129.56 571.2,129.92 571.45,130.34 571.7,130.82 571.95,131.35 572.2,131.94 572.45,132.58 572.7,133.26 572.95,133.97 573.2,134.7 573.45,135.43 573.7,136.14 573.95,136.82 574.2,137.46 574.45,138.05 574.7,138.58 574.95,139.06 575.2,139.48 575.45,139.84 575.7,140.15 575.95,140.41 576.2,140.64 576.45,140.83 576.7,140.98 576.95,141.11 577.2,141.22 577.45,141.31 577.7,141.38 577.95,141.44 578.2,141.49 578.45,141.53 578.7,141.56 578.95,141.58 579.2,141.61 579.45,141.62 579.7,141.64 579.95,141.65 579.95,141.7" fill="#84e6ec"/>
<polygon points="550.2,141.7 550.2,141.62 550.45,141.56 550.7,141.45 550.95,141.27 551.2,140.99 551.45,140.54 551.7,139.86 551.95,138.85 552.2,137.4 552.45,135.36 552.7,132.57 552.95,128.89 553.2,124.14 553.45,118.23 553.7,111.07 553.95,102.69 554.2,93.23 554.45,82.92 554.7,72.13 554.95,61.35 555.2,51.14 555.45,42.1 555.7,34.79 555.95,29.71 556.2,27.22 556.45,27.5 556.7,30.53 556.95,36.08 557.2,43.78 557.45,53.11 557.7,63.48 557.95,74.3 558.2,85.03 558.45,95.2 558.7,104.46 558.95,112.6 559.2,119.51 559.45,125.18 559.7,129.7 559.95,133.2 560.2,135.82 560.45,137.73 560.7,139.09 560.95,140.02 561.2,140.65 561.45,141.05 561.7,141.31 561.95,141.48 562.2,141.57 562.2,141.7" fill="#1ef01e"/>
<polygon points="569.7,141.7 569.7,141.61 569.95,141.58 570.2,141.54 570.45,141.48 570.7,141.4 570.95,141.31 571.2,141.18 571.45,141.03 571.7,140.84 571.95,140.6 572.2,140.31 572.45,139.96 572.7,139.55 572.95,139.07 573.2,138.51 573.45,137.86 573.7,137.14 573.95,136.33 574.2,135.45 574.45,134.48 574.7,133.46 574.95,132.38 575.2,131.26 575.45,130.13 575.7,129 575.95,127.9 576.2,126.86 576.45,125.9 576.7,125.03 576.95,124.3 577.2,123.72 577.45,123.3 577.7,123.06 577.95,123 578.2,123.13 578.45,123.45 578.7,123.93 578.95,124.58 579.2,125.36 579.45,126.27 579.7,127.27 579.95,128.34 580.2,129.45 580.45,130.58 580.7,131.71 580.95,132.82 581.2,133.88 581.45,134.88 581.7,135.81 581.95,136.67 582.2,137.44 582.45,138.13 582.7,138.74 582.95,139.27 583.2,139.72 583.45,140.11 583.7,140.43 583.95,140.7 584.2,140.92 584.45,141.1 584.7,141.24 584.95,141.35 585.2,141.44 585.45,141.5 585.7,141.56 585.95,141.6 585.95,141.7" fill="#0010a8"/>
<path d="M531.2,141.7 L531.7,141.7 L532.2,141.7 L532.7,141.7 L533.2,141.7 L533.7,141.7 L534.2,141.7 L534.7,141.7 L535.2,141.7 L535.7,141.7 L536.2,141.7 L536.7,141.7 L537.2,141.7 L537.7,141.7 L538.2,141.7 L538.7,141.7 L539.2,141.7 L539.7,141.7 L540.2,141.7 L540.7,141.7 L541.2,141.7 L541.7,141.7 L542.2,141.7 L542.7,141.7 L543.2,141.7 L543.7,141.7 L544.2,141.7 L544.7,141.7 L545.2,141.7 L545.7,141.7 L546.2,141.7 L546.7,141.7 L547.2,141.7 L547.7,141.7 L548.2,141.7 L548.7,141.7 L549.2,141.69 L549.7,141.68 L550.2,141.62 L550.7,141.45 L551.2,140.99 L551.7,139.86 L552.2,137.4 L552.7,132.57 L553.2,124.13 L553.7,111 L554.2,92.92 L554.7,71.12 L555.2,48.73 L555.7,30.57 L556.2,21.76 L556.7,25.05 L557.2,39.53 L557.7,59.86 L558.2,79.39 L558.7,96.43 L559.2,107.5 L559.7,115.05 L560.2,121.2 L560.7,124.4 L561.2,125.5 L561.7,125.45 L562.2,125.79 L562.7,126.77 L563.2,126.74 L563.7,126.22 L564.2,125.77 L564.7,126.02 L565.2,125.93 L565.7,125.43 L566.2,125.56 L566.7,125.88 L567.2,126.66 L567.7,126.88 L568.2,126.22 L568.7,126.61 L569.2,126.65 L569.7,126.12 L570.2,127.36 L570.7,128.59 L571.2,129.14 L571.7,129.48 L572.2,129.41 L572.7,130.29 L573.2,130.69 L573.7,129.51 L574.2,129.16 L574.7,128.63 L575.2,126.62 L575.7,124.1 L576.2,120.6 L576.7,117.49 L577.2,114.85 L577.7,113.49 L578.2,113.78 L578.7,115.71 L579.2,118.87 L579.7,122.67 L580.2,126.54 L580.7,130.05 L581.2,133.03 L581.7,135.42 L582.2,137.28 L582.7,138.68 L583.2,139.7 L583.7,140.42 L584.2,140.92 L584.7,141.24 L585.2,141.44 L585.7,141.56 L586.2,141.62 L586.7,141.66 L587.2,141.68 L587.7,141.69 L588.2,141.7 L588.7,141.7 L589.2,141.7 L589.7,141.7 L590.2,141.7 L590.7,141.7 L591.2,141.7 L591.7,141.7 L592.2,141.7 L592.7,141.7 L593.2,141.7 L593.7,141.7 L594.2,141.7 L594.7,141.7 L595.2,141.7 L595.7,141.7 L596.2,141.7 L596.7,141.7 L597.2,141.7 L597.7,141.7 L598.2,141.7 L598.7,141.7 L599.2,141.7 L599.7,141.7 L600.2,141.7 L600.7,141.7 L601.2,141.7 L601.7,141.7 L602.2,141.7 L602.7,141.7 L603.2,141.7 L603.7,141.7 L604.2,141.7 L604.7,141.7 L605.2,141.7 L605.7,141.7 L606.2,141.7 L606.7,141.7 L607.2,141.7 L607.7,141.7 L608.2,141.7 L608.7,141.7 L609.2,141.7 L609.7,141.7 L610.2,141.7 L610.7,141.7 L611.2,141.7 L611.7,141.7 L612.2,141.7 L612.7,141.7 L613.2,141.7 L613.7,141.7 L614.2,141.7 L614.7,141.7 L615.2,141.7 L615.7,141.7 L616.2,141.7 L616.7,141.7 L617.2,141.7 L617.7,141.7 L618.2,141.7 L618.7,141.7 L619.2,141.7 L619.7,141.7 L620.2,141.7 L620.7,141.7 L621.2,141.7 L621.7,141.7 L622.2,141.7 L622.7,141.7 L623.2,141.7 L623.7,141.7 L624.2,141.7 L624.7,141.7 L625.2,141.7 L625.7,141.7 L626.2,141.7 L626.7,141.7 L627.2,141.7 L627.7,141.7 L628.2,141.7 L628.7,141.7 L629.2,141.7 L629.7,141.7 L630.2,141.7 L630.7,141.7 L631.2,141.7 L631.7,141.7 L632.2,141.7 L632.7,141.7 L633.2,141.7 L633.7,141.7 L634.2,141.7 L634.7,141.7 L635.2,141.7 L635.7,141.7 L636.2,141.7 L636.7,141.7 L637.2,141.7 L637.7,141.7 L638.2,141.7 L638.7,141.7 L639.2,141.7 L639.7,141.7 L640.2,141.7 L640.7,141.7 L641.2,141.7" fill="none" stroke="#444" stroke-width="0.5"/>
<line x1="530.2" y1="141.7" x2="642.5" y2="141.7" stroke="#5a5a5a" stroke-width="1"/>
<text x="529" y="17.8" font-size="3.9" fill="#4a4ae8" text-anchor="end" font-weight="bold">120</text>
<text x="529" y="38.7" font-size="3.9" fill="#4a4ae8" text-anchor="end" font-weight="bold">100</text>
<text x="529" y="59.6" font-size="3.9" fill="#4a4ae8" text-anchor="end" font-weight="bold">80</text>
<text x="529" y="80.5" font-size="3.9" fill="#4a4ae8" text-anchor="end" font-weight="bold">60</text>
<text x="529" y="101.4" font-size="3.9" fill="#4a4ae8" text-anchor="end" font-weight="bold">40</text>
<text x="529" y="122.3" font-size="3.9" fill="#4a4ae8" text-anchor="end" font-weight="bold">20</text>
<text x="529" y="143.2" font-size="3.9" fill="#4a4ae8" text-anchor="end" font-weight="bold">0</text>
<text x="530.2" y="147.3" font-size="4.4" fill="#4a4ae8" text-anchor="middle" font-weight="bold">0</text>
<text x="544.24" y="147.3" font-size="4.4" fill="#4a4ae8" text-anchor="middle" font-weight="bold">3</text>
<text x="558.28" y="147.3" font-size="4.4" fill="#4a4ae8" text-anchor="middle" font-weight="bold">6</text>
<text x="572.31" y="147.3" font-size="4.4" fill="#4a4ae8" text-anchor="middle" font-weight="bold">9</text>
<text x="586.35" y="147.3" font-size="4.4" fill="#4a4ae8" text-anchor="middle" font-weight="bold">12</text>
<text x="600.39" y="147.3" font-size="4.4" fill="#4a4ae8" text-anchor="middle" font-weight="bold">15</text>
<text x="614.42" y="147.3" font-size="4.4" fill="#4a4ae8" text-anchor="middle" font-weight="bold">18</text>
<text x="628.46" y="147.3" font-size="4.4" fill="#4a4ae8" text-anchor="middle" font-weight="bold">21</text>
<text x="642.5" y="147.3" font-size="4.4" fill="#4a4ae8" text-anchor="middle" font-weight="bold">24</text>
<text transform="translate(523,73.98) rotate(-90)" font-size="4.3" fill="#a848b8" text-anchor="middle" textLength="30" lengthAdjust="spacingAndGlyphs">Cell Number</text>
<text x="588.6" y="153.7" font-size="4.5" fill="#b050b0" text-anchor="middle">NC</text>
<rect x="572.87" y="157.2" width="24.71" height="0.7" fill="#9090ff" opacity="0.6"/>
<rect x="400" y="158.5" width="112" height="127.25" fill="#fff" stroke="#c8c8c8" stroke-width="1"/>
<polygon points="426.5,285.75 426.5,285.7 426.75,285.67 427,285.64 427.25,285.58 427.5,285.49 427.75,285.36 428,285.18 428.25,284.92 428.5,284.55 428.75,284.07 429,283.46 429.25,282.73 429.5,281.94 429.75,281.14 430,280.4 430.25,279.77 430.5,279.27 430.75,278.88 431,278.61 431.25,278.41 431.5,278.28 431.75,278.18 432,278.12 432.25,278.08 432.5,278.05 432.75,278.04 433,278.02 433.25,278.02 433.5,278.01 433.75,278.01 434,278 434.25,278 434.5,278 434.75,278 435,278 435.25,278 435.5,278 435.75,278 436,278 436.25,278 436.5,278 436.75,278 437,278 437.25,278 437.5,278 437.75,278 438,278 438.25,278 438.5,278 438.75,278 439,278 439.25,278 439.5,278 439.75,278 440,278 440.25,278 440.5,278 440.75,278 441,278 441.25,278.01 441.5,278.01 441.75,278.01 442,278.01 442.25,278.01 442.5,278.01 442.75,278.02 443,278.02 443.25,278.03 443.5,278.03 443.75,278.04 444,278.05 444.25,278.06 444.5,278.08 444.75,278.1 445,278.12 445.25,278.15 445.5,278.18 445.75,278.22 446,278.27 446.25,278.33 446.5,278.4 446.75,278.48 447,278.59 447.25,278.71 447.5,278.86 447.75,279.03 448,279.23 448.25,279.46 448.5,279.73 448.75,280.02 449,280.35 449.25,280.7 449.5,281.08 449.75,281.47 450,281.88 450.25,282.28 450.5,282.67 450.75,283.05 451,283.4 451.25,283.73 451.5,284.02 451.75,284.29 452,284.52 452.25,284.72 452.5,284.89 452.75,285.04 453,285.16 453.25,285.27 453.5,285.35 453.75,285.42 454,285.48 454.25,285.53 454.5,285.57 454.75,285.6 455,285.63 455.25,285.65 455.5,285.67 455.75,285.69 456,285.7 456,285.75" fill="#84e6ec"/>
<polygon points="422.5,285.75 422.5,285.65 422.75,285.57 423,285.41 423.25,285.14 423.5,284.69 423.75,283.96 424,282.84 424.25,281.15 424.5,278.72 424.75,275.35 425,270.84 425.25,265.04 425.5,257.89 425.75,249.45 426,239.94 426.25,229.75 426.5,219.44 426.75,209.69 427,201.25 427.25,194.82 427.5,190.97 427.75,190.06 428,192.17 428.25,197.11 428.5,204.42 428.75,213.47 429,223.53 429.25,233.87 429.5,243.85 429.75,252.97 430,260.92 430.25,267.52 430.5,272.79 430.75,276.83 431,279.8 431.25,281.9 431.5,283.34 431.75,284.29 432,284.89 432.25,285.26 432.5,285.48 432.75,285.61 432.75,285.75" fill="#1ef01e"/>
<polygon points="447.25,285.75 447.25,285.64 447.5,285.6 447.75,285.54 448,285.46 448.25,285.37 448.5,285.25 448.75,285.1 449,284.93 449.25,284.72 449.5,284.48 449.75,284.22 450,283.92 450.25,283.6 450.5,283.27 450.75,282.92 451,282.58 451.25,282.25 451.5,281.95 451.75,281.69 452,281.47 452.25,281.31 452.5,281.22 452.75,281.2 453,281.25 453.25,281.37 453.5,281.55 453.75,281.79 454,282.07 454.25,282.38 454.5,282.72 454.75,283.06 455,283.4 455.25,283.73 455.5,284.04 455.75,284.33 456,284.58 456.25,284.81 456.5,285 456.75,285.16 457,285.3 457.25,285.41 457.5,285.49 457.75,285.56 458,285.61 458.25,285.65 458.25,285.75" fill="#0010a8"/>
<path d="M401,285.75 L401.5,285.75 L402,285.75 L402.5,285.75 L403,285.75 L403.5,285.75 L404,285.75 L404.5,285.75 L405,285.75 L405.5,285.75 L406,285.75 L406.5,285.75 L407,285.75 L407.5,285.75 L408,285.75 L408.5,285.75 L409,285.75 L409.5,285.75 L410,285.75 L410.5,285.75 L411,285.75 L411.5,285.75 L412,285.75 L412.5,285.75 L413,285.75 L413.5,285.75 L414,285.75 L414.5,285.75 L415,285.75 L415.5,285.75 L416,285.75 L416.5,285.75 L417,285.75 L417.5,285.75 L418,285.75 L418.5,285.75 L419,285.75 L419.5,285.75 L420,285.75 L420.5,285.75 L421,285.75 L421.5,285.74 L422,285.73 L422.5,285.65 L423,285.41 L423.5,284.69 L424,282.84 L424.5,278.72 L425,270.8 L425.5,257.61 L426,238.49 L426.5,214.54 L427,190.34 L427.5,174.93 L428,176.44 L428.5,193.37 L429,217.06 L429.5,239.19 L430,255.29 L430.5,265.48 L431,271.76 L431.5,275.84 L432,277.3 L432.5,277.58 L433,277.8 L433.5,277.51 L434,277.63 L434.5,276.87 L435,276.58 L435.5,277.63 L436,277.38 L436.5,277.3 L437,277.98 L437.5,277.45 L438,276.65 L438.5,277.24 L439,277.66 L439.5,277.56 L440,278.01 L440.5,277.56 L441,277.16 L441.5,277.44 L442,277.48 L442.5,277.75 L443,277.52 L443.5,277.33 L444,277.55 L444.5,278.14 L445,277.76 L445.5,277.12 L446,277.69 L446.5,277.8 L447,277.74 L447.5,277.54 L448,277.83 L448.5,278.77 L449,278.81 L449.5,278.52 L450,278.16 L450.5,277.58 L451,276.81 L451.5,274.81 L452,271.9 L452.5,272.19 L453,272.66 L453.5,274.55 L454,277.21 L454.5,279.86 L455,281.96 L455.5,283.42 L456,284.34 L456.5,284.91 L457,285.26 L457.5,285.48 L458,285.6 L458.5,285.67 L459,285.71 L459.5,285.73 L460,285.74 L460.5,285.75 L461,285.75 L461.5,285.75 L462,285.75 L462.5,285.75 L463,285.75 L463.5,285.75 L464,285.75 L464.5,285.75 L465,285.75 L465.5,285.75 L466,285.75 L466.5,285.75 L467,285.75 L467.5,285.75 L468,285.75 L468.5,285.75 L469,285.75 L469.5,285.75 L470,285.75 L470.5,285.75 L471,285.75 L471.5,285.75 L472,285.75 L472.5,285.75 L473,285.75 L473.5,285.75 L474,285.75 L474.5,285.75 L475,285.75 L475.5,285.75 L476,285.75 L476.5,285.75 L477,285.75 L477.5,285.75 L478,285.75 L478.5,285.75 L479,285.75 L479.5,285.75 L480,285.75 L480.5,285.75 L481,285.75 L481.5,285.75 L482,285.75 L482.5,285.75 L483,285.75 L483.5,285.75 L484,285.75 L484.5,285.75 L485,285.75 L485.5,285.75 L486,285.75 L486.5,285.75 L487,285.75 L487.5,285.75 L488,285.75 L488.5,285.75 L489,285.75 L489.5,285.75 L490,285.75 L490.5,285.75 L491,285.75 L491.5,285.75 L492,285.75 L492.5,285.75 L493,285.75 L493.5,285.75 L494,285.75 L494.5,285.75 L495,285.75 L495.5,285.75 L496,285.75 L496.5,285.75 L497,285.75 L497.5,285.75 L498,285.75 L498.5,285.75 L499,285.75 L499.5,285.75 L500,285.75 L500.5,285.75 L501,285.75 L501.5,285.75 L502,285.75 L502.5,285.75 L503,285.75 L503.5,285.75 L504,285.75 L504.5,285.75 L505,285.75 L505.5,285.75 L506,285.75 L506.5,285.75 L507,285.75 L507.5,285.75 L508,285.75 L508.5,285.75 L509,285.75 L509.5,285.75 L510,285.75 L510.5,285.75" fill="none" stroke="#444" stroke-width="0.5"/>
<line x1="400" y1="285.75" x2="512" y2="285.75" stroke="#5a5a5a" stroke-width="1"/>
<text x="398.8" y="160" font-size="3.9" fill="#4a4ae8" text-anchor="end" font-weight="bold">120</text>
<text x="398.8" y="181.21" font-size="3.9" fill="#4a4ae8" text-anchor="end" font-weight="bold">100</text>
<text x="398.8" y="202.42" font-size="3.9" fill="#4a4ae8" text-anchor="end" font-weight="bold">80</text>
<text x="398.8" y="223.62" font-size="3.9" fill="#4a4ae8" text-anchor="end" font-weight="bold">60</text>
<text x="398.8" y="244.83" font-size="3.9" fill="#4a4ae8" text-anchor="end" font-weight="bold">40</text>
<text x="398.8" y="266.04" font-size="3.9" fill="#4a4ae8" text-anchor="end" font-weight="bold">20</text>
<text x="398.8" y="287.25" font-size="3.9" fill="#4a4ae8" text-anchor="end" font-weight="bold">0</text>
<text x="400" y="291.35" font-size="4.4" fill="#4a4ae8" text-anchor="middle" font-weight="bold">0</text>
<text x="414" y="291.35" font-size="4.4" fill="#4a4ae8" text-anchor="middle" font-weight="bold">3</text>
<text x="428" y="291.35" font-size="4.4" fill="#4a4ae8" text-anchor="middle" font-weight="bold">6</text>
<text x="442" y="291.35" font-size="4.4" fill="#4a4ae8" text-anchor="middle" font-weight="bold">9</text>
<text x="456" y="291.35" font-size="4.4" fill="#4a4ae8" text-anchor="middle" font-weight="bold">12</text>
<text x="470" y="291.35" font-size="4.4" fill="#4a4ae8" text-anchor="middle" font-weight="bold">15</text>
<text x="484" y="291.35" font-size="4.4" fill="#4a4ae8" text-anchor="middle" font-weight="bold">18</text>
<text x="498" y="291.35" font-size="4.4" fill="#4a4ae8" text-anchor="middle" font-weight="bold">21</text>
<text x="512" y="291.35" font-size="4.4" fill="#4a4ae8" text-anchor="middle" font-weight="bold">24</text>
<text transform="translate(392.8,217.03) rotate(-90)" font-size="4.3" fill="#a848b8" text-anchor="middle" textLength="30" lengthAdjust="spacingAndGlyphs">Cell Number</text>
<text x="458.24" y="297.75" font-size="4.5" fill="#b050b0" text-anchor="middle">S</text>
<rect x="442.56" y="301.25" width="24.64" height="0.7" fill="#9090ff" opacity="0.6"/>
<rect x="531" y="159" width="111.5" height="126.3" fill="#fff" stroke="#c8c8c8" stroke-width="1"/>
<polygon points="559,285.3 559,285.25 559.25,285.22 559.5,285.18 559.75,285.12 560,285.03 560.25,284.89 560.5,284.7 560.75,284.42 561,284.02 561.25,283.5 561.5,282.82 561.75,282.01 562,281.1 562.25,280.17 562.5,279.29 562.75,278.52 563,277.9 563.25,277.42 563.5,277.07 563.75,276.82 564,276.65 564.25,276.54 564.5,276.46 564.75,276.4 565,276.37 565.25,276.35 565.5,276.33 565.75,276.32 566,276.31 566.25,276.31 566.5,276.31 566.75,276.3 567,276.3 567.25,276.3 567.5,276.3 567.75,276.3 568,276.3 568.25,276.3 568.5,276.3 568.75,276.3 569,276.3 569.25,276.3 569.5,276.3 569.75,276.3 570,276.3 570.25,276.3 570.5,276.3 570.75,276.3 571,276.3 571.25,276.3 571.5,276.3 571.75,276.3 572,276.3 572.25,276.3 572.5,276.3 572.75,276.31 573,276.31 573.25,276.31 573.5,276.31 573.75,276.31 574,276.32 574.25,276.32 574.5,276.32 574.75,276.33 575,276.34 575.25,276.35 575.5,276.36 575.75,276.37 576,276.38 576.25,276.4 576.5,276.43 576.75,276.46 577,276.49 577.25,276.53 577.5,276.59 577.75,276.65 578,276.73 578.25,276.82 578.5,276.93 578.75,277.07 579,277.23 579.25,277.41 579.5,277.63 579.75,277.89 580,278.18 580.25,278.51 580.5,278.87 580.75,279.27 581,279.7 581.25,280.15 581.5,280.61 581.75,281.08 582,281.54 582.25,281.99 582.5,282.41 582.75,282.81 583,283.16 583.25,283.48 583.5,283.77 583.75,284.01 584,284.23 584.25,284.41 584.5,284.56 584.75,284.69 585,284.8 585.25,284.89 585.5,284.96 585.75,285.03 586,285.08 586.25,285.12 586.5,285.15 586.75,285.18 587,285.2 587.25,285.22 587.5,285.23 587.75,285.25 587.75,285.3" fill="#84e6ec"/>
<polygon points="554,285.3 554,285.21 554.25,285.13 554.5,285.01 554.75,284.81 555,284.49 555.25,283.99 555.5,283.24 555.75,282.15 556,280.59 556.25,278.42 556.5,275.49 556.75,271.66 557,266.8 557.25,260.8 557.5,253.64 557.75,245.38 558,236.17 558.25,226.3 558.5,216.16 558.75,206.22 559,197.04 559.25,189.16 559.5,183.11 559.75,179.3 560,178 560.25,179.3 560.5,183.11 560.75,189.16 561,197.04 561.25,206.22 561.5,216.16 561.75,226.3 562,236.17 562.25,245.38 562.5,253.64 562.75,260.8 563,266.8 563.25,271.66 563.5,275.49 563.75,278.42 564,280.59 564.25,282.15 564.5,283.24 564.75,283.99 565,284.49 565.25,284.81 565.5,285.01 565.75,285.13 566,285.21 566,285.3" fill="#1ef01e"/>
<polygon points="577.75,285.3 577.75,285.2 578,285.16 578.25,285.11 578.5,285.05 578.75,284.97 579,284.86 579.25,284.73 579.5,284.57 579.75,284.37 580,284.12 580.25,283.83 580.5,283.49 580.75,283.1 581,282.64 581.25,282.13 581.5,281.55 581.75,280.92 582,280.24 582.25,279.52 582.5,278.77 582.75,278 583,277.22 583.25,276.46 583.5,275.73 583.75,275.05 584,274.45 584.25,273.93 584.5,273.51 584.75,273.21 585,273.04 585.25,273 585.5,273.1 585.75,273.32 586,273.66 586.25,274.12 586.5,274.68 586.75,275.32 587,276.02 587.25,276.76 587.5,277.53 587.75,278.31 588,279.07 588.25,279.81 588.5,280.52 588.75,281.18 589,281.79 589.25,282.34 589.5,282.83 589.75,283.26 590,283.64 590.25,283.96 590.5,284.23 590.75,284.45 591,284.64 591.25,284.79 591.5,284.91 591.75,285 592,285.08 592.25,285.14 592.5,285.18 592.75,285.21 592.75,285.3" fill="#0010a8"/>
<path d="M532,285.3 L532.5,285.3 L533,285.3 L533.5,285.3 L534,285.3 L534.5,285.3 L535,285.3 L535.5,285.3 L536,285.3 L536.5,285.3 L537,285.3 L537.5,285.3 L538,285.3 L538.5,285.3 L539,285.3 L539.5,285.3 L540,285.3 L540.5,285.3 L541,285.3 L541.5,285.3 L542,285.3 L542.5,285.3 L543,285.3 L543.5,285.3 L544,285.3 L544.5,285.3 L545,285.3 L545.5,285.3 L546,285.3 L546.5,285.3 L547,285.3 L547.5,285.3 L548,285.3 L548.5,285.3 L549,285.3 L549.5,285.3 L550,285.3 L550.5,285.3 L551,285.3 L551.5,285.3 L552,285.3 L552.5,285.3 L553,285.29 L553.5,285.27 L554,285.21 L554.5,285.01 L555,284.49 L555.5,283.24 L556,280.58 L556.5,275.49 L557,266.78 L557.5,253.54 L558,235.75 L558.5,214.85 L559,194.1 L559.5,178.3 L560,172.2 L560.5,177.77 L561,192.92 L561.5,211.68 L562,230.43 L562.5,246.89 L563,258.52 L563.5,266.09 L564,271.21 L564.5,273.62 L565,274.98 L565.5,275.28 L566,274.97 L566.5,275 L567,275.17 L567.5,275.92 L568,276.14 L568.5,276.2 L569,276.33 L569.5,275.65 L570,274.98 L570.5,274.62 L571,275.08 L571.5,275.86 L572,275.04 L572.5,274.31 L573,275.17 L573.5,275.9 L574,274.95 L574.5,274.37 L575,274.94 L575.5,276.16 L576,276.86 L576.5,275.92 L577,275.47 L577.5,275.34 L578,275.77 L578.5,276.2 L579,275.91 L579.5,275.25 L580,274.57 L580.5,275.74 L581,276.62 L581.5,275.84 L582,274.91 L582.5,273.82 L583,273.1 L583.5,271.66 L584,268.09 L584.5,266.13 L585,265.16 L585.5,265.49 L586,267.08 L586.5,269.59 L587,272.52 L587.5,275.39 L588,277.91 L588.5,279.95 L589,281.54 L589.5,282.73 L590,283.6 L590.5,284.21 L591,284.63 L591.5,284.9 L592,285.08 L592.5,285.18 L593,285.24 L593.5,285.27 L594,285.28 L594.5,285.29 L595,285.3 L595.5,285.3 L596,285.3 L596.5,285.3 L597,285.3 L597.5,285.3 L598,285.3 L598.5,285.3 L599,285.3 L599.5,285.3 L600,285.3 L600.5,285.3 L601,285.3 L601.5,285.3 L602,285.3 L602.5,285.3 L603,285.3 L603.5,285.3 L604,285.3 L604.5,285.3 L605,285.3 L605.5,285.3 L606,285.3 L606.5,285.3 L607,285.3 L607.5,285.3 L608,285.3 L608.5,285.3 L609,285.3 L609.5,285.3 L610,285.3 L610.5,285.3 L611,285.3 L611.5,285.3 L612,285.3 L612.5,285.3 L613,285.3 L613.5,285.3 L614,285.3 L614.5,285.3 L615,285.3 L615.5,285.3 L616,285.3 L616.5,285.3 L617,285.3 L617.5,285.3 L618,285.3 L618.5,285.3 L619,285.3 L619.5,285.3 L620,285.3 L620.5,285.3 L621,285.3 L621.5,285.3 L622,285.3 L622.5,285.3 L623,285.3 L623.5,285.3 L624,285.3 L624.5,285.3 L625,285.3 L625.5,285.3 L626,285.3 L626.5,285.3 L627,285.3 L627.5,285.3 L628,285.3 L628.5,285.3 L629,285.3 L629.5,285.3 L630,285.3 L630.5,285.3 L631,285.3 L631.5,285.3 L632,285.3 L632.5,285.3 L633,285.3 L633.5,285.3 L634,285.3 L634.5,285.3 L635,285.3 L635.5,285.3 L636,285.3 L636.5,285.3 L637,285.3 L637.5,285.3 L638,285.3 L638.5,285.3 L639,285.3 L639.5,285.3 L640,285.3 L640.5,285.3 L641,285.3" fill="none" stroke="#444" stroke-width="0.5"/>
<line x1="531" y1="285.3" x2="642.5" y2="285.3" stroke="#5a5a5a" stroke-width="1"/>
<text x="529.8" y="160.5" font-size="3.9" fill="#4a4ae8" text-anchor="end" font-weight="bold">120</text>
<text x="529.8" y="181.55" font-size="3.9" fill="#4a4ae8" text-anchor="end" font-weight="bold">100</text>
<text x="529.8" y="202.6" font-size="3.9" fill="#4a4ae8" text-anchor="end" font-weight="bold">80</text>
<text x="529.8" y="223.65" font-size="3.9" fill="#4a4ae8" text-anchor="end" font-weight="bold">60</text>
<text x="529.8" y="244.7" font-size="3.9" fill="#4a4ae8" text-anchor="end" font-weight="bold">40</text>
<text x="529.8" y="265.75" font-size="3.9" fill="#4a4ae8" text-anchor="end" font-weight="bold">20</text>
<text x="529.8" y="286.8" font-size="3.9" fill="#4a4ae8" text-anchor="end" font-weight="bold">0</text>
<text x="531" y="290.9" font-size="4.4" fill="#4a4ae8" text-anchor="middle" font-weight="bold">0</text>
<text x="544.94" y="290.9" font-size="4.4" fill="#4a4ae8" text-anchor="middle" font-weight="bold">3</text>
<text x="558.88" y="290.9" font-size="4.4" fill="#4a4ae8" text-anchor="middle" font-weight="bold">6</text>
<text x="572.81" y="290.9" font-size="4.4" fill="#4a4ae8" text-anchor="middle" font-weight="bold">9</text>
<text x="586.75" y="290.9" font-size="4.4" fill="#4a4ae8" text-anchor="middle" font-weight="bold">12</text>
<text x="600.69" y="290.9" font-size="4.4" fill="#4a4ae8" text-anchor="middle" font-weight="bold">15</text>
<text x="614.62" y="290.9" font-size="4.4" fill="#4a4ae8" text-anchor="middle" font-weight="bold">18</text>
<text x="628.56" y="290.9" font-size="4.4" fill="#4a4ae8" text-anchor="middle" font-weight="bold">21</text>
<text x="642.5" y="290.9" font-size="4.4" fill="#4a4ae8" text-anchor="middle" font-weight="bold">24</text>
<text transform="translate(523.8,217.1) rotate(-90)" font-size="4.3" fill="#a848b8" text-anchor="middle" textLength="30" lengthAdjust="spacingAndGlyphs">Cell Number</text>
<text x="588.98" y="297.3" font-size="4.5" fill="#b050b0" text-anchor="middle">NC</text>
<rect x="573.37" y="300.8" width="24.53" height="0.7" fill="#9090ff" opacity="0.6"/>
<rect x="226" y="14.5" width="21" height="0.8" fill="#8080ff" opacity="0.6"/>
<line x1="36.2" y1="315" x2="36.2" y2="410.6" stroke="#1a1a1a" stroke-width="1.1"/>
<line x1="36.2" y1="410.6" x2="129.5" y2="410.6" stroke="#1a1a1a" stroke-width="1.1"/>
<line x1="34" y1="410.6" x2="36.2" y2="410.6" stroke="#1a1a1a" stroke-width="0.9"/>
<text x="33.2" y="413" font-size="6.9" font-weight="bold" fill="#222" text-anchor="end">0</text>
<line x1="34" y1="386.7" x2="36.2" y2="386.7" stroke="#1a1a1a" stroke-width="0.9"/>
<text x="33.2" y="389.1" font-size="6.9" font-weight="bold" fill="#222" text-anchor="end">20</text>
<line x1="34" y1="362.8" x2="36.2" y2="362.8" stroke="#1a1a1a" stroke-width="0.9"/>
<text x="33.2" y="365.2" font-size="6.9" font-weight="bold" fill="#222" text-anchor="end">40</text>
<line x1="34" y1="338.9" x2="36.2" y2="338.9" stroke="#1a1a1a" stroke-width="0.9"/>
<text x="33.2" y="341.3" font-size="6.9" font-weight="bold" fill="#222" text-anchor="end">60</text>
<line x1="34" y1="315" x2="36.2" y2="315" stroke="#1a1a1a" stroke-width="0.9"/>
<text x="33.2" y="317.4" font-size="6.9" font-weight="bold" fill="#222" text-anchor="end">80</text>
<line x1="46.35" y1="337.11" x2="46.35" y2="334.72" stroke="#f02828" stroke-width="1"/>
<line x1="43.85" y1="334.72" x2="48.85" y2="334.72" stroke="#f02828" stroke-width="1"/>
<rect x="42.4" y="337.51" width="7.9" height="73.09" fill="#f44646" stroke="#f02828" stroke-width="0.8"/>
<line x1="57.85" y1="335.31" x2="57.85" y2="334.12" stroke="#0000d0" stroke-width="1"/>
<line x1="55.35" y1="334.12" x2="60.35" y2="334.12" stroke="#0000d0" stroke-width="1"/>
<rect x="53.6" y="335.71" width="8.5" height="74.89" fill="#0000b8" stroke="#0000d0" stroke-width="0.8"/>
<line x1="77.5" y1="375.94" x2="77.5" y2="372.96" stroke="#f02828" stroke-width="1"/>
<line x1="75" y1="372.96" x2="80" y2="372.96" stroke="#f02828" stroke-width="1"/>
<rect x="73.4" y="376.34" width="8.2" height="34.26" fill="#f44646" stroke="#f02828" stroke-width="0.8"/>
<line x1="88.85" y1="381.92" x2="88.85" y2="379.53" stroke="#0000d0" stroke-width="1"/>
<line x1="86.35" y1="379.53" x2="91.35" y2="379.53" stroke="#0000d0" stroke-width="1"/>
<rect x="84.9" y="382.32" width="7.9" height="28.28" fill="#0000b8" stroke="#0000d0" stroke-width="0.8"/>
<rect x="104.1" y="396.66" width="8" height="13.94" fill="#f44646" stroke="#f02828" stroke-width="0.8"/>
<line x1="119.75" y1="395.06" x2="119.75" y2="393.87" stroke="#0000d0" stroke-width="1"/>
<line x1="117.25" y1="393.87" x2="122.25" y2="393.87" stroke="#0000d0" stroke-width="1"/>
<rect x="115.9" y="395.46" width="7.7" height="15.14" fill="#0000b8" stroke="#0000d0" stroke-width="0.8"/>
<rect x="92" y="322" width="11" height="5.8" fill="#f44646" stroke="#f02828" stroke-width="0.8"/>
<rect x="92" y="337.3" width="11" height="5.8" fill="#0000b8" stroke="#0000d0" stroke-width="0.8"/>
<text x="108.5" y="327.4" font-size="7.6" font-weight="bold" fill="#222">SPIN1</text>
<text x="108.5" y="342.7" font-size="7.6" font-weight="bold" fill="#222">PCDNA3.1</text>
<path d="M78,362.5 V370.5 M78,366.5 H92 M92,362.5 V370.5" stroke="#1a1a1a" stroke-width="1.3" fill="none"/>
<text x="84" y="363.3" font-size="8" font-weight="bold" fill="#222" text-anchor="middle">*</text>
<line x1="51.95" y1="410.6" x2="51.95" y2="412.6" stroke="#1a1a1a" stroke-width="0.9"/>
<text transform="translate(54.55,419.2) rotate(-45)" font-size="7.4" font-weight="bold" fill="#222" text-anchor="end">G0/G1</text>
<line x1="83.25" y1="410.6" x2="83.25" y2="412.6" stroke="#1a1a1a" stroke-width="0.9"/>
<text transform="translate(85.85,419.2) rotate(-45)" font-size="7.4" font-weight="bold" fill="#222" text-anchor="end">S</text>
<line x1="114" y1="410.6" x2="114" y2="412.6" stroke="#1a1a1a" stroke-width="0.9"/>
<text transform="translate(116.6,419.2) rotate(-45)" font-size="7.4" font-weight="bold" fill="#222" text-anchor="end">G2/M</text>
<text x="83" y="446.7" font-size="7.4" font-weight="bold" fill="#222" text-anchor="middle">MKN45</text>
<text transform="translate(20.6,366) rotate(-90)" font-size="7.7" font-weight="bold" fill="#222" text-anchor="middle">Gated</text>
<line x1="193.2" y1="318.2" x2="193.2" y2="415" stroke="#1a1a1a" stroke-width="1.1"/>
<line x1="193.2" y1="415" x2="291" y2="415" stroke="#1a1a1a" stroke-width="1.1"/>
<line x1="191" y1="415" x2="193.2" y2="415" stroke="#1a1a1a" stroke-width="0.9"/>
<text x="190.2" y="417.4" font-size="6.9" font-weight="bold" fill="#222" text-anchor="end">0</text>
<line x1="191" y1="390.8" x2="193.2" y2="390.8" stroke="#1a1a1a" stroke-width="0.9"/>
<text x="190.2" y="393.2" font-size="6.9" font-weight="bold" fill="#222" text-anchor="end">20</text>
<line x1="191" y1="366.6" x2="193.2" y2="366.6" stroke="#1a1a1a" stroke-width="0.9"/>
<text x="190.2" y="369" font-size="6.9" font-weight="bold" fill="#222" text-anchor="end">40</text>
<line x1="191" y1="342.4" x2="193.2" y2="342.4" stroke="#1a1a1a" stroke-width="0.9"/>
<text x="190.2" y="344.8" font-size="6.9" font-weight="bold" fill="#222" text-anchor="end">60</text>
<line x1="191" y1="318.2" x2="193.2" y2="318.2" stroke="#1a1a1a" stroke-width="0.9"/>
<text x="190.2" y="320.6" font-size="6.9" font-weight="bold" fill="#222" text-anchor="end">80</text>
<line x1="203.45" y1="353.29" x2="203.45" y2="352.08" stroke="#f02828" stroke-width="1"/>
<line x1="200.95" y1="352.08" x2="205.95" y2="352.08" stroke="#f02828" stroke-width="1"/>
<rect x="199.1" y="353.69" width="8.7" height="61.31" fill="#f44646" stroke="#f02828" stroke-width="0.8"/>
<line x1="215.85" y1="339.98" x2="215.85" y2="336.35" stroke="#0000d0" stroke-width="1"/>
<line x1="213.35" y1="336.35" x2="218.35" y2="336.35" stroke="#0000d0" stroke-width="1"/>
<rect x="211.6" y="340.38" width="8.5" height="74.62" fill="#0000b8" stroke="#0000d0" stroke-width="0.8"/>
<line x1="235.95" y1="367.81" x2="235.95" y2="366.6" stroke="#f02828" stroke-width="1"/>
<line x1="233.45" y1="366.6" x2="238.45" y2="366.6" stroke="#f02828" stroke-width="1"/>
<rect x="231.6" y="368.21" width="8.7" height="46.79" fill="#f44646" stroke="#f02828" stroke-width="0.8"/>
<line x1="248.45" y1="387.17" x2="248.45" y2="385.36" stroke="#0000d0" stroke-width="1"/>
<line x1="245.95" y1="385.36" x2="250.95" y2="385.36" stroke="#0000d0" stroke-width="1"/>
<rect x="244.1" y="387.57" width="8.7" height="27.43" fill="#0000b8" stroke="#0000d0" stroke-width="0.8"/>
<rect x="264.6" y="402.09" width="8.7" height="12.91" fill="#f44646" stroke="#f02828" stroke-width="0.8"/>
<line x1="281.45" y1="396.85" x2="281.45" y2="394.43" stroke="#0000d0" stroke-width="1"/>
<line x1="278.95" y1="394.43" x2="283.95" y2="394.43" stroke="#0000d0" stroke-width="1"/>
<rect x="277.1" y="397.25" width="8.7" height="17.75" fill="#0000b8" stroke="#0000d0" stroke-width="0.8"/>
<rect x="253.7" y="321.3" width="11.3" height="5.8" fill="#f44646" stroke="#f02828" stroke-width="0.8"/>
<rect x="253.7" y="337.3" width="11.3" height="5.8" fill="#0000b8" stroke="#0000d0" stroke-width="0.8"/>
<text x="269.5" y="326.7" font-size="7.6" font-weight="bold" fill="#222">SPIN1</text>
<text x="269.5" y="342.7" font-size="7.6" font-weight="bold" fill="#222">PCDNA3.1</text>
<path d="M233.7,355.5 V363 M233.7,359 H251.2 M251.2,355.5 V363" stroke="#1a1a1a" stroke-width="1.3" fill="none"/>
<text x="242.5" y="356.3" font-size="8" font-weight="bold" fill="#222" text-anchor="middle">**</text>
<line x1="209.7" y1="415" x2="209.7" y2="417" stroke="#1a1a1a" stroke-width="0.9"/>
<text transform="translate(212.3,423.6) rotate(-45)" font-size="7.4" font-weight="bold" fill="#222" text-anchor="end">G0/G1</text>
<line x1="242.2" y1="415" x2="242.2" y2="417" stroke="#1a1a1a" stroke-width="0.9"/>
<text transform="translate(244.8,423.6) rotate(-45)" font-size="7.4" font-weight="bold" fill="#222" text-anchor="end">S</text>
<line x1="275.2" y1="415" x2="275.2" y2="417" stroke="#1a1a1a" stroke-width="0.9"/>
<text transform="translate(277.8,423.6) rotate(-45)" font-size="7.4" font-weight="bold" fill="#222" text-anchor="end">G2/M</text>
<text x="242.5" y="450.7" font-size="7.4" font-weight="bold" fill="#222" text-anchor="middle">BGC823</text>
<text transform="translate(177.6,366) rotate(-90)" font-size="7.7" font-weight="bold" fill="#222" text-anchor="middle">Gated</text>
<line x1="382.7" y1="319.5" x2="382.7" y2="415.7" stroke="#1a1a1a" stroke-width="1.1"/>
<line x1="382.7" y1="415.7" x2="478" y2="415.7" stroke="#1a1a1a" stroke-width="1.1"/>
<line x1="380.5" y1="415.7" x2="382.7" y2="415.7" stroke="#1a1a1a" stroke-width="0.9"/>
<text x="379.7" y="418.1" font-size="6.9" font-weight="bold" fill="#222" text-anchor="end">0</text>
<line x1="380.5" y1="391.65" x2="382.7" y2="391.65" stroke="#1a1a1a" stroke-width="0.9"/>
<text x="379.7" y="394.05" font-size="6.9" font-weight="bold" fill="#222" text-anchor="end">20</text>
<line x1="380.5" y1="367.6" x2="382.7" y2="367.6" stroke="#1a1a1a" stroke-width="0.9"/>
<text x="379.7" y="370" font-size="6.9" font-weight="bold" fill="#222" text-anchor="end">40</text>
<line x1="380.5" y1="343.55" x2="382.7" y2="343.55" stroke="#1a1a1a" stroke-width="0.9"/>
<text x="379.7" y="345.95" font-size="6.9" font-weight="bold" fill="#222" text-anchor="end">60</text>
<line x1="380.5" y1="319.5" x2="382.7" y2="319.5" stroke="#1a1a1a" stroke-width="0.9"/>
<text x="379.7" y="321.9" font-size="6.9" font-weight="bold" fill="#222" text-anchor="end">80</text>
<line x1="391.85" y1="348.36" x2="391.85" y2="345.95" stroke="#f02828" stroke-width="1"/>
<line x1="389.35" y1="345.95" x2="394.35" y2="345.95" stroke="#f02828" stroke-width="1"/>
<rect x="387.6" y="348.76" width="8.5" height="66.94" fill="#f44646" stroke="#f02828" stroke-width="0.8"/>
<line x1="403.75" y1="353.77" x2="403.75" y2="348.36" stroke="#0000d0" stroke-width="1"/>
<line x1="401.25" y1="348.36" x2="406.25" y2="348.36" stroke="#0000d0" stroke-width="1"/>
<rect x="399.4" y="354.17" width="8.7" height="61.53" fill="#0000b8" stroke="#0000d0" stroke-width="0.8"/>
<line x1="424" y1="382.03" x2="424" y2="379.62" stroke="#f02828" stroke-width="1"/>
<line x1="421.5" y1="379.62" x2="426.5" y2="379.62" stroke="#f02828" stroke-width="1"/>
<rect x="419.9" y="382.43" width="8.2" height="33.27" fill="#f44646" stroke="#f02828" stroke-width="0.8"/>
<rect x="432.4" y="370.4" width="8.7" height="45.29" fill="#0000b8" stroke="#0000d0" stroke-width="0.8"/>
<line x1="457.1" y1="394.66" x2="457.1" y2="392.85" stroke="#f02828" stroke-width="1"/>
<line x1="454.6" y1="392.85" x2="459.6" y2="392.85" stroke="#f02828" stroke-width="1"/>
<rect x="452.6" y="395.06" width="9" height="20.64" fill="#f44646" stroke="#f02828" stroke-width="0.8"/>
<rect x="465.1" y="398.06" width="9" height="17.64" fill="#0000b8" stroke="#0000d0" stroke-width="0.8"/>
<rect x="449.7" y="336.2" width="11.8" height="5.8" fill="#f44646" stroke="#f02828" stroke-width="0.8"/>
<rect x="449.7" y="352.8" width="11.8" height="5.8" fill="#0000b8" stroke="#0000d0" stroke-width="0.8"/>
<text x="466" y="341.6" font-size="7.6" font-weight="bold" fill="#222">Si-SPIN1</text>
<text x="466" y="358.2" font-size="7.6" font-weight="bold" fill="#222">NC</text>
<path d="M422.7,358.7 V366.7 M422.7,362.5 H438.5 M438.5,358.7 V366.7" stroke="#1a1a1a" stroke-width="1.3" fill="none"/>
<text x="430" y="362.1" font-size="8" font-weight="bold" fill="#222" text-anchor="middle">*</text>
<line x1="397.75" y1="415.7" x2="397.75" y2="417.7" stroke="#1a1a1a" stroke-width="0.9"/>
<text transform="translate(400.35,424.3) rotate(-45)" font-size="7.4" font-weight="bold" fill="#222" text-anchor="end">G0/G1</text>
<line x1="430.25" y1="415.7" x2="430.25" y2="417.7" stroke="#1a1a1a" stroke-width="0.9"/>
<text transform="translate(432.85,424.3) rotate(-45)" font-size="7.4" font-weight="bold" fill="#222" text-anchor="end">S</text>
<line x1="463.35" y1="415.7" x2="463.35" y2="417.7" stroke="#1a1a1a" stroke-width="0.9"/>
<text transform="translate(465.95,424.3) rotate(-45)" font-size="7.4" font-weight="bold" fill="#222" text-anchor="end">G2/M</text>
<text x="430" y="451.7" font-size="7.4" font-weight="bold" fill="#222" text-anchor="middle">MKN45</text>
<text transform="translate(367.1,367) rotate(-90)" font-size="7.7" font-weight="bold" fill="#222" text-anchor="middle">Gated</text>
<line x1="555.5" y1="318.7" x2="555.5" y2="414.1" stroke="#1a1a1a" stroke-width="1.1"/>
<line x1="555.5" y1="414.1" x2="652.5" y2="414.1" stroke="#1a1a1a" stroke-width="1.1"/>
<line x1="553.3" y1="414.1" x2="555.5" y2="414.1" stroke="#1a1a1a" stroke-width="0.9"/>
<text x="552.5" y="416.5" font-size="6.9" font-weight="bold" fill="#222" text-anchor="end">0</text>
<line x1="553.3" y1="395.02" x2="555.5" y2="395.02" stroke="#1a1a1a" stroke-width="0.9"/>
<text x="552.5" y="397.42" font-size="6.9" font-weight="bold" fill="#222" text-anchor="end">20</text>
<line x1="553.3" y1="375.94" x2="555.5" y2="375.94" stroke="#1a1a1a" stroke-width="0.9"/>
<text x="552.5" y="378.34" font-size="6.9" font-weight="bold" fill="#222" text-anchor="end">40</text>
<line x1="553.3" y1="356.86" x2="555.5" y2="356.86" stroke="#1a1a1a" stroke-width="0.9"/>
<text x="552.5" y="359.26" font-size="6.9" font-weight="bold" fill="#222" text-anchor="end">60</text>
<line x1="553.3" y1="337.78" x2="555.5" y2="337.78" stroke="#1a1a1a" stroke-width="0.9"/>
<text x="552.5" y="340.18" font-size="6.9" font-weight="bold" fill="#222" text-anchor="end">80</text>
<line x1="553.3" y1="318.7" x2="555.5" y2="318.7" stroke="#1a1a1a" stroke-width="0.9"/>
<text x="552.5" y="321.1" font-size="6.9" font-weight="bold" fill="#222" text-anchor="end">100</text>
<line x1="564.65" y1="351.14" x2="564.65" y2="340.64" stroke="#f02828" stroke-width="1"/>
<line x1="562.15" y1="340.64" x2="567.15" y2="340.64" stroke="#f02828" stroke-width="1"/>
<rect x="560.4" y="351.54" width="8.5" height="62.56" fill="#f44646" stroke="#f02828" stroke-width="0.8"/>
<line x1="576.9" y1="361.63" x2="576.9" y2="359.72" stroke="#0000d0" stroke-width="1"/>
<line x1="574.4" y1="359.72" x2="579.4" y2="359.72" stroke="#0000d0" stroke-width="1"/>
<rect x="572.4" y="362.03" width="9" height="52.07" fill="#0000b8" stroke="#0000d0" stroke-width="0.8"/>
<line x1="597.95" y1="393.11" x2="597.95" y2="386.43" stroke="#f02828" stroke-width="1"/>
<line x1="595.45" y1="386.43" x2="600.45" y2="386.43" stroke="#f02828" stroke-width="1"/>
<rect x="593.7" y="393.51" width="8.5" height="20.59" fill="#f44646" stroke="#f02828" stroke-width="0.8"/>
<line x1="610.25" y1="381.66" x2="610.25" y2="380.71" stroke="#0000d0" stroke-width="1"/>
<line x1="607.75" y1="380.71" x2="612.75" y2="380.71" stroke="#0000d0" stroke-width="1"/>
<rect x="605.7" y="382.06" width="9.1" height="32.04" fill="#0000b8" stroke="#0000d0" stroke-width="0.8"/>
<line x1="631.3" y1="402.65" x2="631.3" y2="400.74" stroke="#f02828" stroke-width="1"/>
<line x1="628.8" y1="400.74" x2="633.8" y2="400.74" stroke="#f02828" stroke-width="1"/>
<rect x="627" y="403.05" width="8.6" height="11.05" fill="#f44646" stroke="#f02828" stroke-width="0.8"/>
<line x1="643.7" y1="401.22" x2="643.7" y2="400.74" stroke="#0000d0" stroke-width="1"/>
<line x1="641.2" y1="400.74" x2="646.2" y2="400.74" stroke="#0000d0" stroke-width="1"/>
<rect x="639" y="401.62" width="9.4" height="12.48" fill="#0000b8" stroke="#0000d0" stroke-width="0.8"/>
<rect x="621.3" y="322.9" width="12.7" height="5.8" fill="#f44646" stroke="#f02828" stroke-width="0.8"/>
<rect x="621.3" y="339.7" width="12.7" height="5.8" fill="#0000b8" stroke="#0000d0" stroke-width="0.8"/>
<text x="638.6" y="328.3" font-size="7.6" font-weight="bold" fill="#222">Si-SPIN1</text>
<text x="638.6" y="345.1" font-size="7.6" font-weight="bold" fill="#222">NC</text>
<path d="M595.4,368 V376 M595.4,371.4 H613.3 M613.3,368 V376" stroke="#1a1a1a" stroke-width="1.3" fill="none"/>
<text x="604" y="370.6" font-size="8" font-weight="bold" fill="#222" text-anchor="middle">*</text>
<line x1="570.65" y1="414.1" x2="570.65" y2="416.1" stroke="#1a1a1a" stroke-width="0.9"/>
<text transform="translate(573.25,422.7) rotate(-45)" font-size="7.4" font-weight="bold" fill="#222" text-anchor="end">G0/G1</text>
<line x1="603.95" y1="414.1" x2="603.95" y2="416.1" stroke="#1a1a1a" stroke-width="0.9"/>
<text transform="translate(606.55,422.7) rotate(-45)" font-size="7.4" font-weight="bold" fill="#222" text-anchor="end">S</text>
<line x1="637.3" y1="414.1" x2="637.3" y2="416.1" stroke="#1a1a1a" stroke-width="0.9"/>
<text transform="translate(639.9,422.7) rotate(-45)" font-size="7.4" font-weight="bold" fill="#222" text-anchor="end">G2/M</text>
<text x="604.8" y="450.7" font-size="7.4" font-weight="bold" fill="#222" text-anchor="middle">SGC7901</text>
<text transform="translate(536.5,365) rotate(-90)" font-size="7.7" font-weight="bold" fill="#222" text-anchor="middle">Gated</text>
<text x="1.18" y="477.8" font-size="12.99" font-weight="bold" fill="#000" textLength="9.84" lengthAdjust="spacingAndGlyphs">C</text>
<text x="63.49" y="480.6" font-size="12.71" font-weight="bold" fill="#000" textLength="34.82" lengthAdjust="spacingAndGlyphs">SPIN1</text>
<text x="186.08" y="482" font-size="12.99" font-weight="bold" fill="#000" textLength="65.34" lengthAdjust="spacingAndGlyphs">PCDNA3.1</text>
<text x="365.67" y="478.3" font-size="13.27" font-weight="bold" fill="#000" textLength="10.06" lengthAdjust="spacingAndGlyphs">D</text>
<text x="420.38" y="482" font-size="12.99" font-weight="bold" fill="#000" textLength="50.04" lengthAdjust="spacingAndGlyphs">Si-SPIN1</text>
<text x="565.47" y="482.9" font-size="13.13" font-weight="bold" fill="#000" textLength="19.35" lengthAdjust="spacingAndGlyphs">NC</text>
<text transform="translate(10.3,553.76) rotate(-90)" x="0" y="0" font-size="13.97" font-weight="bold" fill="#000" textLength="45.82" lengthAdjust="spacingAndGlyphs">MKN45</text>
<text transform="translate(10.3,684.54) rotate(-90)" x="0" y="0" font-size="13.41" font-weight="bold" fill="#000" textLength="52.67" lengthAdjust="spacingAndGlyphs">BGC823</text>
<text transform="translate(372.8,556.18) rotate(-90)" x="0" y="0" font-size="14.39" font-weight="bold" fill="#000" textLength="46.75" lengthAdjust="spacingAndGlyphs">MKN45</text>
<text transform="translate(374.3,686.18) rotate(-90)" x="0" y="0" font-size="14.39" font-weight="bold" fill="#000" textLength="56.75" lengthAdjust="spacingAndGlyphs">SGC7901</text>
<line x1="15" y1="494" x2="15" y2="691" stroke="#666" stroke-width="1"/>
<line x1="378" y1="497" x2="378" y2="693.5" stroke="#666" stroke-width="1"/>
<rect x="36.7" y="485.5" width="110.6" height="99.5" fill="#fff"/>
<clipPath id="cp11"><rect x="36.7" y="485.5" width="110.6" height="99.5"/></clipPath>
<g clip-path="url(#cp11)">
<path d="M87.6 563.7h0.9M70.9 557.6h0.9M74.7 563.9h0.9M114.2 524.4h0.9M104.3 519.9h0.9M117.5 513.5h0.9M118.0 507.1h0.9M84.7 545.8h0.9M83.8 538.2h0.9M102.0 514.3h0.9M93.7 529.3h0.9M122.2 506.2h0.9M113.1 520.5h0.9M85.0 551.5h0.9M80.1 537.3h0.9M94.9 521.3h0.9M74.5 563.0h0.9M111.1 523.7h0.9M105.3 515.7h0.9M75.3 546.1h0.9M78.2 558.4h0.9M80.4 549.1h0.9M101.3 529.9h0.9M120.2 518.1h0.9M76.8 570.7h0.9M85.6 539.1h0.9M86.9 536.7h0.9M110.7 509.6h0.9M76.3 541.7h0.9M76.6 569.5h0.9M102.2 507.4h0.9M116.3 525.6h0.9M120.9 506.3h0.9M73.7 556.9h0.9M116.5 506.9h0.9M86.4 549.5h0.9M68.8 563.6h0.9M89.4 559.7h0.9M69.5 562.5h0.9M96.9 521.2h0.9M71.6 554.1h0.9M89.4 550.9h0.9M84.6 552.1h0.9M103.1 497.2h0.9M96.0 532.8h0.9M116.5 526.0h0.9M105.6 516.4h0.9M70.6 552.1h0.9M111.9 515.7h0.9M98.3 514.3h0.9M99.0 543.2h0.9M97.3 540.1h0.9M116.1 539.9h0.9M89.0 548.5h0.9M103.5 530.7h0.9M74.1 546.1h0.9M100.4 526.2h0.9M118.0 516.4h0.9M118.1 504.9h0.9M100.9 526.4h0.9M120.3 500.2h0.9M94.7 523.7h0.9M96.4 530.5h0.9M105.6 507.4h0.9M97.1 524.6h0.9M105.3 522.1h0.9M106.4 529.0h0.9M117.1 518.0h0.9M94.4 544.4h0.9M100.0 530.9h0.9M68.4 564.4h0.9M66.1 562.9h0.9M84.4 552.1h0.9M104.7 518.6h0.9M68.3 548.8h0.9M88.9 526.1h0.9M114.4 509.6h0.9M89.8 548.5h0.9M60.8 560.8h0.9M106.2 520.0h0.9M67.8 549.9h0.9M115.3 506.4h0.9M121.6 514.6h0.9M107.4 532.9h0.9M110.0 518.8h0.9M83.1 551.5h0.9M114.7 524.5h0.9M97.2 536.5h0.9M106.7 512.5h0.9M123.3 495.8h0.9M76.6 539.9h0.9M90.3 547.2h0.9M92.2 542.0h0.9M99.7 540.2h0.9M121.2 500.7h0.9M123.0 516.6h0.9M94.2 535.4h0.9M107.6 516.2h0.9M104.6 531.0h0.9M88.5 538.2h0.9M64.1 565.1h0.9M106.7 512.5h0.9M73.8 549.2h0.9M86.3 548.9h0.9M86.2 535.2h0.9M137.2 503.5h0.9M100.7 527.4h0.9M88.6 538.4h0.9M118.2 538.1h0.9M88.6 535.2h0.9M81.3 563.4h0.9M125.8 506.8h0.9M80.4 564.3h0.9M90.1 546.8h0.9M97.1 526.1h0.9M101.6 502.1h0.9M110.3 519.8h0.9M116.8 515.1h0.9M82.5 551.6h0.9M90.6 565.5h0.9M71.7 548.3h0.9M97.6 539.0h0.9M62.3 564.6h0.9M88.3 549.1h0.9M118.7 509.0h0.9M111.5 515.6h0.9M92.8 551.4h0.9M110.3 515.9h0.9M93.8 539.1h0.9M98.1 516.4h0.9M102.3 523.0h0.9M92.3 536.6h0.9M117.3 522.3h0.9M121.8 509.1h0.9M80.0 555.9h0.9M112.5 512.1h0.9M102.7 521.6h0.9M120.9 521.0h0.9M80.2 548.7h0.9M110.9 524.6h0.9M87.8 533.3h0.9M108.5 499.8h0.9M84.1 535.6h0.9M102.7 533.5h0.9M116.7 499.7h0.9M100.8 525.0h0.9M103.1 517.0h0.9M80.7 555.6h0.9M92.6 535.1h0.9M122.7 509.9h0.9M120.0 537.5h0.9M89.0 540.1h0.9M96.6 535.8h0.9M88.4 532.2h0.9M118.8 545.0h0.9M106.9 548.5h0.9M111.4 561.7h0.9M97.5 551.5h0.9M86.4 542.2h0.9M91.2 543.1h0.9M95.2 553.0h0.9M95.5 543.7h0.9M114.9 532.0h0.9M82.8 533.6h0.9M116.2 555.2h0.9M110.9 567.4h0.9M91.1 566.0h0.9M92.0 550.9h0.9M109.0 561.4h0.9M92.2 549.4h0.9M84.4 542.3h0.9M120.7 565.4h0.9M105.2 561.0h0.9M117.6 543.9h0.9M120.7 548.3h0.9M88.8 551.4h0.9M105.6 557.4h0.9M108.6 533.1h0.9M107.4 566.0h0.9M108.6 568.0h0.9M102.5 561.8h0.9M88.0 565.0h0.9M99.5 564.3h0.9M95.1 554.9h0.9M115.5 558.1h0.9M106.7 567.9h0.9M86.0 535.3h0.9M104.0 567.3h0.9M109.2 543.1h0.9M86.8 548.3h0.9M101.2 549.0h0.9M106.6 541.7h0.9M116.8 542.3h0.9M86.8 544.6h0.9M118.9 537.5h0.9M93.4 566.2h0.9M96.1 563.1h0.9M84.4 564.8h0.9M91.8 538.3h0.9M111.4 568.6h0.9M142.8 560.4h0.9M137.8 583.7h0.9M97.8 499.9h0.9M130.6 524.9h0.9M71.3 535.3h0.9M40.6 487.4h0.9M65.9 544.8h0.9M119.6 580.7h0.9M127.2 579.1h0.9M107.1 558.5h0.9M101.7 493.6h0.9M43.5 561.1h0.9M59.1 564.1h0.9M98.8 529.6h0.9M44.9 511.5h0.9M70.6 519.9h0.9M114.9 502.1h0.9M85.7 545.9h0.9M141.4 496.9h0.9M135.1 499.4h0.9M125.8 503.8h0.9M135.5 499.2h0.9M127.0 504.8h0.9M111.5 502.6h0.9M129.4 502.2h0.9M122.3 505.1h0.9M92.6 512.5h0.9M118.7 500.2h0.9M134.7 498.6h0.9M107.3 508.4h0.9M116.6 501.4h0.9M123.4 507.2h0.9M103.4 506.3h0.9M132.5 497.1h0.9M131.1 503.7h0.9M90.5 509.4h0.9M144.2 494.2h0.9M122.3 496.5h0.9M138.7 500.4h0.9M117.7 507.0h0.9M129.8 501.8h0.9M136.8 492.8h0.9M121.7 498.8h0.9M111.1 507.2h0.9M97.8 506.1h0.9M126.3 493.7h0.9M122.5 507.6h0.9M138.1 500.2h0.9M139.5 499.4h0.9M106.2 506.3h0.9M108.9 511.0h0.9M104.9 508.2h0.9M134.8 500.2h0.9M140.0 490.2h0.9M102.7 513.2h0.9M131.9 496.7h0.9M120.4 508.2h0.9M113.1 511.9h0.9M106.5 511.5h0.9M117.8 500.5h0.9M132.5 496.1h0.9M132.4 500.5h0.9M100.6 510.6h0.9M120.5 509.1h0.9M121.2 509.0h0.9M137.4 497.8h0.9M133.6 501.9h0.9M113.0 508.2h0.9M134.4 494.2h0.9M108.0 504.3h0.9M128.4 495.9h0.9M119.6 495.9h0.9M107.6 504.2h0.9M121.8 509.2h0.9M123.3 495.5h0.9M127.0 504.6h0.9M132.8 496.5h0.9M129.4 495.5h0.9M126.9 504.3h0.9M145.0 497.2h0.9M120.0 500.2h0.9M115.5 510.0h0.9M130.2 503.9h0.9M128.6 495.5h0.9M120.7 497.8h0.9M112.8 509.4h0.9M113.0 506.9h0.9M131.8 500.8h0.9M130.4 502.3h0.9M106.9 503.4h0.9M97.2 506.8h0.9M137.6 499.3h0.9M139.0 498.6h0.9M133.8 499.6h0.9M137.1 499.6h0.9M122.8 498.5h0.9M120.8 499.3h0.9M119.2 507.2h0.9M139.8 498.3h0.9M96.5 507.2h0.9M102.0 506.6h0.9M120.2 507.3h0.9M91.3 510.5h0.9M93.6 506.9h0.9M126.8 505.9h0.9M103.9 506.0h0.9M106.7 503.7h0.9M111.6 510.0h0.9M140.0 498.5h0.9M109.2 507.2h0.9M99.6 507.2h0.9M134.3 500.6h0.9M143.8 497.0h0.9M135.6 499.3h0.9M105.0 509.0h0.9M126.8 505.6h0.9M127.8 505.1h0.9M113.7 507.7h0.9M100.9 509.8h0.9M101.2 505.7h0.9M121.8 505.0h0.9M123.2 505.4h0.9M107.7 504.3h0.9M118.5 505.9h0.9M111.5 504.0h0.9M97.6 509.5h0.9M112.3 503.2h0.9M104.0 513.7h0.9M144.1 497.9h0.9M102.0 510.6h0.9M112.8 506.9h0.9M111.1 504.7h0.9M139.6 491.8h0.9M108.8 509.7h0.9M88.7 511.7h0.9M137.8 498.0h0.9M100.3 512.6h0.9M119.0 499.1h0.9M146.3 494.6h0.9M112.2 506.9h0.9M108.9 503.4h0.9M118.2 506.5h0.9M107.7 506.4h0.9M98.2 514.4h0.9M107.9 507.2h0.9M90.6 511.4h0.9M137.7 493.0h0.9M143.1 491.8h0.9M113.6 501.2h0.9M139.3 501.2h0.9M98.6 504.2h0.9M111.1 511.8h0.9M131.0 506.3h0.9M134.7 498.0h0.9M108.9 513.2h0.9M146.1 493.3h0.9M131.0 501.2h0.9M124.8 508.5h0.9M127.6 496.5h0.9M122.7 495.0h0.9M115.0 510.9h0.9M121.6 505.9h0.9M135.6 498.6h0.9M110.8 505.0h0.9M109.2 505.5h0.9M121.6 499.4h0.9M127.5 503.6h0.9M96.9 507.2h0.9M121.3 496.5h0.9M112.5 501.0h0.9M115.7 506.7h0.9M133.4 495.5h0.9M114.6 502.4h0.9M115.0 506.6h0.9M107.9 511.3h0.9M61.0 583.9h0.9M73.4 579.9h0.9M60.6 573.8h0.9M88.0 546.6h0.9M80.4 570.0h0.9M61.6 582.3h0.9M77.3 578.9h0.9M57.1 575.9h0.9M80.8 568.2h0.9M57.9 562.2h0.9M77.0 543.2h0.9M61.9 571.2h0.9M88.3 554.1h0.9M61.5 580.9h0.9M83.2 556.7h0.9M89.0 550.2h0.9M75.7 536.3h0.9M71.4 539.3h0.9M64.7 550.8h0.9M61.5 549.8h0.9M59.1 562.5h0.9M58.0 567.5h0.9M74.1 543.5h0.9M78.2 542.6h0.9M75.8 574.2h0.9M62.5 583.5h0.9M63.8 579.8h0.9M78.5 541.6h0.9M83.2 550.4h0.9M71.8 541.6h0.9M85.4 544.3h0.9M70.9 544.4h0.9M77.0 541.3h0.9M77.7 533.6h0.9M73.2 577.4h0.9M80.3 531.7h0.9M84.8 552.2h0.9M81.1 548.0h0.9M78.8 574.3h0.9M58.9 554.6h0.9M81.8 564.1h0.9M60.0 575.2h0.9M80.9 564.7h0.9M71.9 540.9h0.9M62.1 573.5h0.9M59.8 565.7h0.9M60.9 576.1h0.9M66.1 538.2h0.9M63.1 552.1h0.9M82.2 560.6h0.9M81.7 574.6h0.9M66.0 582.4h0.9M61.9 575.7h0.9M65.2 581.5h0.9M61.3 570.5h0.9M82.3 533.3h0.9M58.5 557.8h0.9M64.3 551.2h0.9M65.6 582.5h0.9M79.4 545.1h0.9M60.5 583.6h0.9M85.1 546.3h0.9M74.8 542.3h0.9M81.9 535.7h0.9M62.1 572.6h0.9M81.0 571.0h0.9M67.8 547.2h0.9M57.8 555.4h0.9M79.0 568.6h0.9M78.3 573.3h0.9M58.4 580.6h0.9M76.9 573.0h0.9M82.3 558.0h0.9M81.1 565.5h0.9M64.3 545.0h0.9M64.6 543.9h0.9M66.7 548.5h0.9M68.6 540.5h0.9M65.5 582.2h0.9M82.9 537.7h0.9M85.8 544.2h0.9M60.7 572.6h0.9M61.7 551.5h0.9M83.2 558.5h0.9M77.5 544.5h0.9M86.7 553.0h0.9M59.0 561.9h0.9M87.3 562.5h0.9M69.8 581.5h0.9M65.2 581.7h0.9M80.2 534.5h0.9M72.1 578.9h0.9M79.0 540.6h0.9M66.2 536.8h0.9M82.7 551.7h0.9M74.5 534.8h0.9M84.7 553.1h0.9M71.2 583.4h0.9M62.0 577.8h0.9M82.6 539.8h0.9M70.9 537.9h0.9M72.1 578.9h0.9M58.3 578.8h0.9M67.5 537.9h0.9M65.1 540.6h0.9M84.2 565.5h0.9M89.1 541.7h0.9M77.6 534.2h0.9M75.9 573.7h0.9M83.4 555.9h0.9M64.7 580.9h0.9M67.9 547.0h0.9M80.3 543.9h0.9M78.4 532.4h0.9M71.9 540.8h0.9M65.0 539.3h0.9M73.5 542.3h0.9M84.7 567.8h0.9M67.2 547.7h0.9M61.5 552.2h0.9M67.0 582.7h0.9M63.9 582.4h0.9M86.5 548.4h0.9M73.5 579.8h0.9M75.6 581.1h0.9M82.1 549.4h0.9M62.0 560.7h0.9M82.2 562.5h0.9M62.7 554.9h0.9M78.6 574.9h0.9M76.2 543.3h0.9M65.4 549.3h0.9M77.7 542.4h0.9M71.8 537.6h0.9M64.3 551.4h0.9M82.5 545.8h0.9M79.0 540.4h0.9M58.7 569.0h0.9M58.5 569.6h0.9M72.9 532.1h0.9M61.5 573.0h0.9M82.8 565.0h0.9M59.1 573.8h0.9M78.3 537.3h0.9M88.0 552.5h0.9M82.8 555.1h0.9M77.9 533.2h0.9M62.4 563.8h0.9M63.0 555.1h0.9M83.0 572.6h0.9M84.4 542.6h0.9M77.9 536.8h0.9M62.2 565.5h0.9M64.4 550.2h0.9M73.1 579.8h0.9M62.9 555.2h0.9M60.2 561.0h0.9M81.6 575.6h0.9M63.2 556.0h0.9M81.4 563.2h0.9M75.3 539.4h0.9M61.2 563.2h0.9M59.0 570.9h0.9M69.0 581.5h0.9M81.2 547.8h0.9M66.7 542.8h0.9M81.8 562.3h0.9M82.9 552.4h0.9M70.7 544.3h0.9M80.3 542.0h0.9M81.6 561.4h0.9M77.4 577.2h0.9M84.2 553.7h0.9M77.7 571.2h0.9M60.5 550.1h0.9M78.0 540.0h0.9M67.1 582.6h0.9M67.7 583.1h0.9M84.6 553.2h0.9M74.3 581.9h0.9M62.5 566.1h0.9M87.3 562.7h0.9M59.0 567.6h0.9M68.1 538.4h0.9M62.2 568.3h0.9M81.4 542.6h0.9M58.4 570.2h0.9M71.4 531.8h0.9M60.1 577.8h0.9M75.6 574.4h0.9M66.1 583.8h0.9M61.8 567.8h0.9M84.4 556.8h0.9M58.2 581.3h0.9M82.9 537.4h0.9M87.5 552.1h0.9M83.2 571.4h0.9M61.5 571.6h0.9M61.0 564.1h0.9M87.3 543.7h0.9M76.3 542.5h0.9M62.4 568.3h0.9M75.7 543.9h0.9M62.6 573.5h0.9M88.1 541.1h0.9M65.8 546.8h0.9M84.4 533.4h0.9M63.8 580.8h0.9M76.3 574.1h0.9M79.6 568.6h0.9M74.5 543.3h0.9M68.4 544.4h0.9M60.7 569.8h0.9M74.1 581.2h0.9M82.6 554.2h0.9M77.0 577.2h0.9M63.9 581.0h0.9M81.9 563.9h0.9M86.3 553.8h0.9M79.4 569.1h0.9M77.3 576.2h0.9M82.7 554.7h0.9M78.8 568.4h0.9M65.7 582.4h0.9M86.3 560.8h0.9M85.6 556.7h0.9M84.3 540.5h0.9M81.3 546.1h0.9M62.0 565.5h0.9M63.9 581.3h0.9M85.1 551.4h0.9M85.0 554.5h0.9M88.9 555.3h0.9M61.1 548.1h0.9M65.3 581.5h0.9M66.1 549.3h0.9M59.4 565.5h0.9M81.0 533.5h0.9M59.7 560.7h0.9M57.6 566.9h0.9M65.1 580.5h0.9M84.5 541.9h0.9M73.8 543.3h0.9M77.7 536.9h0.9M63.6 545.4h0.9M71.7 582.6h0.9M59.4 556.9h0.9M72.5 533.0h0.9M82.0 549.7h0.9M69.9 542.3h0.9M75.2 578.6h0.9M86.4 541.6h0.9M74.4 576.9h0.9M72.6 531.8h0.9M76.0 573.7h0.9M72.4 537.9h0.9M80.6 545.5h0.9M58.3 560.8h0.9M61.7 576.5h0.9M82.1 571.8h0.9M61.1 568.1h0.9M68.1 536.3h0.9M83.6 549.0h0.9M65.5 546.7h0.9M86.2 541.2h0.9M68.8 536.3h0.9M60.3 558.6h0.9M81.7 565.8h0.9M65.2 543.4h0.9M63.7 552.5h0.9M68.4 539.4h0.9M64.5 548.7h0.9M71.4 584.2h0.9M81.1 575.8h0.9M62.9 578.6h0.9M62.3 567.0h0.9M89.9 545.1h0.9M83.4 542.5h0.9" stroke="#ff2828" stroke-width="0.9" opacity="0.4"/>
<ellipse cx="122.5" cy="502" rx="9.8" ry="1.68" transform="rotate(-18 122.5 502)" fill="#ff3030" opacity="0.3"/>
<path d="M127.6 499.9h1M118.9 503.4h1M108.4 508.2h1M117.4 502.0h1M112.2 504.8h1M116.6 502.9h1M119.3 503.0h1M112.3 506.2h1M123.6 502.7h1M123.4 501.0h1M128.1 503.1h1M126.5 501.5h1M128.0 499.4h1M127.0 497.9h1M126.7 500.7h1M127.0 499.9h1M109.5 508.3h1M136.6 499.9h1M115.7 502.4h1M132.8 498.7h1M124.9 499.9h1M125.6 501.3h1M128.7 500.7h1M123.5 501.1h1M117.3 504.5h1M116.0 505.2h1M118.5 503.1h1M124.3 499.6h1M113.1 508.1h1M121.3 501.6h1M131.6 498.6h1M120.4 503.5h1M126.7 501.0h1M121.5 503.6h1M132.1 498.7h1M125.0 502.4h1M119.8 503.1h1M114.6 504.9h1M128.2 499.3h1M117.6 501.3h1M127.2 502.3h1M119.1 503.4h1M140.4 496.8h1M136.1 499.4h1M120.6 503.1h1M133.0 498.1h1M111.1 507.5h1M120.3 501.3h1M119.2 500.4h1M128.8 502.3h1M132.0 497.7h1M126.8 496.9h1M124.2 499.8h1M110.2 504.9h1M120.4 502.2h1M127.1 500.9h1M124.0 500.6h1M117.4 506.5h1M126.1 501.6h1M122.6 502.6h1M121.9 501.0h1M118.0 504.1h1M136.2 498.8h1M126.1 501.7h1M121.1 501.2h1M116.9 503.8h1M117.4 503.2h1M120.0 503.0h1M130.7 499.5h1M128.8 496.3h1M124.8 499.5h1M115.1 502.5h1M119.1 499.2h1M118.9 504.5h1M123.0 500.9h1M136.0 499.6h1M138.1 497.3h1M125.6 500.6h1M122.3 500.9h1M121.3 506.2h1M131.7 497.1h1M106.7 508.7h1M106.2 505.6h1M121.8 501.6h1M125.9 497.9h1M129.5 498.2h1M137.3 498.0h1M119.1 503.5h1M123.8 502.4h1M123.5 501.1h1M124.8 501.0h1M121.5 501.4h1M118.7 503.2h1M125.3 500.6h1M112.9 505.6h1M118.6 503.6h1M119.4 506.5h1M124.5 501.8h1M134.9 496.1h1M119.0 501.6h1M128.8 499.5h1M129.6 499.8h1M113.7 504.5h1M124.6 500.9h1M127.2 499.0h1M121.3 500.9h1M121.2 503.6h1M121.8 503.8h1M110.3 504.1h1M126.3 502.2h1M108.6 505.9h1M119.3 500.8h1M118.8 501.8h1M126.6 497.7h1M119.4 502.7h1M118.4 503.8h1M124.6 502.4h1M124.6 500.2h1M117.0 504.4h1M126.8 502.5h1M108.7 508.3h1M108.9 503.8h1M127.1 499.1h1M126.7 500.7h1M132.1 500.7h1M129.9 501.4h1M119.5 504.5h1M122.4 500.9h1M125.2 502.1h1M130.7 498.6h1M121.9 502.9h1M127.8 500.8h1M116.6 502.8h1M128.2 496.5h1M117.1 503.2h1M123.2 501.1h1M122.4 498.6h1M122.8 501.2h1M110.1 504.5h1M110.6 507.5h1M127.3 502.1h1M109.7 505.1h1M118.7 503.8h1M121.5 501.6h1M117.8 504.8h1M123.7 500.1h1M111.9 504.5h1M113.8 501.5h1M113.6 505.4h1M126.5 500.8h1M122.8 502.8h1M118.5 503.2h1M109.3 505.0h1M126.7 501.1h1M119.7 502.9h1M128.8 501.6h1M110.3 508.0h1M110.6 504.7h1M119.3 504.2h1M128.1 498.4h1M126.3 500.2h1M131.4 500.7h1M124.7 501.7h1M114.2 506.3h1M115.0 506.6h1M117.8 503.8h1M112.7 504.7h1M128.7 501.7h1M131.9 502.3h1M118.4 503.1h1M126.6 500.9h1M119.2 505.0h1M115.7 502.0h1M113.1 505.9h1M117.5 503.2h1M124.2 502.9h1M121.0 501.8h1M120.6 502.2h1M127.6 502.6h1M126.3 498.1h1M120.3 501.8h1M132.2 498.7h1M135.9 495.7h1M124.8 505.0h1M132.0 500.1h1M122.6 502.7h1M118.6 502.9h1M123.7 500.0h1M122.3 502.6h1M118.1 501.3h1M124.3 500.1h1M124.7 501.0h1M133.4 497.1h1M137.3 499.5h1M133.6 499.9h1M123.6 504.2h1M124.0 500.9h1M116.4 507.1h1M119.0 503.3h1M125.5 501.4h1M127.4 501.2h1M123.2 500.2h1M127.5 501.1h1M115.3 504.5h1M114.8 502.6h1M121.8 500.3h1M135.4 498.3h1M124.2 498.8h1M108.6 507.8h1M133.2 500.1h1M112.5 503.8h1M138.7 498.3h1M126.3 500.9h1M113.2 504.8h1M125.0 502.2h1M127.0 499.9h1M119.5 503.2h1M111.6 504.5h1M122.0 501.2h1M115.7 506.0h1M135.2 497.4h1M123.2 502.4h1M119.0 504.8h1M121.5 505.3h1M122.6 502.7h1M111.8 503.8h1M124.4 502.6h1M122.5 502.6h1M121.2 501.9h1M114.2 503.2h1M119.7 502.8h1M130.7 499.8h1M119.8 502.9h1M135.6 497.9h1M117.8 505.9h1M124.3 502.4h1M125.6 500.5h1M116.0 505.1h1M120.9 501.4h1M119.8 502.1h1" stroke="#ff0000" stroke-width="1" opacity="0.55"/>
<polygon points="78.84,564.83 77.96,566.87 76.99,568.84 75.95,570.72 74.87,572.48 73.79,574.09 72.72,575.52 71.68,576.76 70.7,577.77 69.78,578.54 68.93,579.05 68.15,579.3 67.44,579.27 66.8,578.96 66.23,578.38 65.72,577.53 65.27,576.41 64.88,575.06 64.54,573.49 64.27,571.72 64.07,569.79 63.95,567.73 63.91,565.58 63.98,563.38 64.16,561.17 64.47,558.99 64.91,556.88 65.5,554.89 66.22,553.04 67.09,551.38 68.08,549.93 69.19,548.71 70.39,547.76 71.66,547.07 72.97,546.67 74.28,546.56 75.56,546.73 76.76,547.18 77.87,547.89 78.83,548.86 79.63,550.06 80.25,551.47 80.66,553.06 80.85,554.81 80.83,556.69 80.61,558.66 80.19,560.69 79.59,562.76" fill="#ff0000"/>
<path d="M71.2 549.2h1M70.1 576.7h1M74.5 576.3h1M61.9 565.4h1M79.2 562.4h1M78.6 541.2h1M66.4 576.0h1M63.1 565.4h1M71.6 545.5h1M66.5 576.6h1M64.8 576.5h1M70.0 577.8h1M81.1 553.7h1M73.0 577.5h1M64.3 575.8h1M65.0 571.0h1M75.1 545.0h1M78.4 563.7h1M65.7 553.4h1M62.3 568.9h1M67.7 579.4h1M72.5 577.3h1M64.8 567.1h1M68.1 579.3h1M65.3 558.4h1M66.6 547.0h1M66.0 574.8h1M71.8 579.9h1M65.2 558.3h1M70.5 581.8h1M71.0 544.5h1M72.2 581.7h1M67.4 578.9h1M68.0 548.3h1M62.5 571.3h1M63.5 564.5h1M71.5 580.8h1M77.3 573.7h1M81.7 556.3h1M71.0 576.5h1M72.2 578.8h1M62.0 578.8h1M65.2 575.5h1M70.7 542.6h1M65.2 558.8h1M70.4 580.8h1M78.4 540.9h1M64.3 551.7h1M70.7 546.1h1M78.2 549.8h1M71.4 576.6h1M61.7 576.1h1M81.1 546.8h1M81.0 554.5h1M82.2 563.5h1M69.9 578.4h1M66.3 576.5h1M80.8 558.7h1M81.7 551.5h1M76.3 570.7h1M77.1 548.0h1M66.8 576.6h1M61.1 564.2h1M80.3 567.8h1M67.0 552.2h1M84.3 552.4h1M80.3 562.2h1M62.8 571.1h1M80.8 554.4h1M65.2 576.6h1M79.9 568.0h1M63.5 565.7h1M67.5 546.0h1M72.7 547.1h1M66.3 577.8h1M62.7 556.5h1M79.5 566.0h1M80.9 549.7h1M64.1 573.4h1M63.2 559.1h1M76.4 574.0h1M65.3 556.2h1M81.0 556.6h1M76.8 548.0h1M65.5 556.8h1M66.8 578.4h1M72.0 579.6h1M63.9 566.3h1M66.5 553.6h1M63.1 568.1h1M67.4 550.3h1M76.2 541.8h1M81.0 561.1h1M83.2 560.9h1M69.8 549.7h1M68.6 547.9h1M72.5 547.6h1M79.1 564.2h1M78.6 564.7h1M62.5 563.6h1M67.1 579.3h1M69.7 544.7h1M81.8 556.2h1M79.8 561.3h1M66.2 548.4h1M75.8 574.8h1M79.9 548.0h1M82.6 556.4h1M62.8 576.9h1M63.0 558.5h1M80.9 563.8h1M78.6 543.4h1M69.6 576.9h1M75.5 572.2h1M80.4 561.4h1M80.5 557.6h1M72.0 576.7h1M83.3 546.3h1M64.7 557.2h1M77.8 547.5h1M64.7 581.2h1M75.8 574.7h1M79.5 560.6h1M76.7 549.5h1M72.8 575.0h1M78.1 564.6h1M63.6 565.8h1M69.8 583.9h1M63.5 555.5h1M75.7 544.0h1M81.0 544.3h1M71.9 575.0h1M64.6 565.7h1M64.5 548.7h1M64.9 559.9h1M73.4 575.9h1M76.1 542.5h1M76.1 546.2h1M81.6 552.3h1M71.3 549.2h1M64.8 562.2h1M68.9 578.5h1M66.4 554.9h1M73.2 546.6h1M70.0 548.4h1M73.0 576.1h1M77.2 546.2h1M66.4 576.1h1M67.6 583.2h1M70.9 583.0h1M74.3 546.5h1M69.7 579.2h1M79.5 560.5h1M68.1 577.4h1M74.8 540.7h1M65.4 555.7h1M81.2 561.1h1M80.2 560.9h1M71.7 575.1h1M66.8 579.4h1M76.6 546.4h1M65.3 584.1h1M65.1 552.4h1M80.5 547.1h1M71.1 576.2h1M69.0 547.0h1M67.6 582.2h1M74.3 574.2h1M83.5 558.6h1M65.8 548.6h1M70.2 548.9h1M81.6 550.5h1M64.8 548.0h1M65.4 555.4h1M63.2 569.8h1M83.3 550.1h1M63.8 572.0h1M77.5 570.6h1M77.9 549.6h1M68.8 550.6h1M81.6 548.0h1M80.4 558.6h1M70.5 579.4h1M77.6 572.3h1M69.4 577.3h1M71.7 579.4h1M76.8 569.7h1M69.8 581.9h1M76.1 569.4h1M77.2 546.2h1M74.0 579.5h1M64.4 573.9h1M75.2 545.8h1M80.2 548.8h1M67.3 580.6h1M79.5 551.1h1M68.2 547.8h1M71.9 547.2h1M67.8 581.8h1M80.6 550.6h1M72.4 579.6h1M63.3 557.4h1M74.6 576.5h1M62.3 577.0h1M68.0 577.2h1M64.4 579.9h1M74.3 542.0h1M68.6 580.9h1M75.3 571.0h1M77.7 570.1h1M82.1 553.9h1M65.4 547.7h1M64.7 577.8h1M78.2 549.9h1M72.5 548.6h1M65.1 572.9h1M64.4 567.8h1M76.3 570.9h1M62.8 574.0h1M79.4 566.7h1M77.3 569.4h1M80.3 568.1h1M63.5 562.4h1M76.6 573.5h1M66.7 579.7h1M74.3 542.6h1M65.2 571.4h1M79.1 563.5h1M77.8 569.7h1M79.7 554.1h1M77.8 570.3h1M66.0 554.5h1M66.0 582.7h1M77.7 566.7h1M63.1 577.0h1M66.3 575.7h1M75.8 543.8h1M72.9 578.2h1M67.9 550.1h1M65.5 552.9h1M80.4 542.6h1M65.8 574.5h1M63.8 575.6h1M67.6 577.6h1M68.1 583.7h1M73.1 548.3h1M66.3 577.3h1M74.0 577.9h1M65.8 579.9h1M65.2 571.7h1M78.4 569.3h1M67.9 549.0h1M70.3 577.8h1M64.6 560.6h1M64.2 551.0h1M69.8 583.4h1M61.3 559.3h1M79.1 561.8h1M71.2 548.2h1M66.5 546.2h1M62.6 565.9h1M70.5 549.0h1M64.2 568.6h1M62.1 562.9h1M71.8 577.9h1M64.1 560.7h1M79.9 550.9h1M77.5 550.0h1M64.6 567.0h1M81.5 549.1h1M68.8 579.0h1M73.1 579.6h1M84.0 551.9h1M67.2 551.9h1M62.6 566.2h1M64.8 568.2h1M65.2 559.0h1M67.0 583.5h1M66.4 547.6h1M71.0 544.9h1M66.8 582.3h1M72.6 574.0h1M65.7 574.8h1M72.0 547.7h1M78.9 569.4h1M82.6 557.6h1M82.5 559.8h1M82.4 557.1h1M79.0 543.9h1M73.2 574.6h1M67.6 550.8h1M79.6 554.1h1M72.6 575.4h1M63.3 579.3h1M80.2 567.2h1M78.9 562.2h1M81.9 559.7h1M72.7 579.5h1M73.1 575.1h1M67.8 579.3h1M71.8 576.7h1M65.3 553.9h1M62.0 557.6h1M79.4 552.6h1M75.4 542.6h1M81.0 556.0h1M81.8 556.8h1M63.3 564.5h1M62.7 571.4h1M62.4 556.3h1M64.7 564.2h1M71.2 577.5h1M61.8 564.4h1M66.8 553.4h1M65.5 579.1h1M79.2 545.2h1M68.9 549.8h1M66.0 554.7h1M76.9 572.7h1M68.5 542.8h1M75.1 547.7h1M77.9 567.7h1M64.6 576.8h1M65.3 572.2h1M75.7 571.1h1M66.7 553.5h1M70.3 577.2h1M75.8 543.0h1M64.8 562.5h1M83.5 557.8h1M66.7 576.1h1M64.6 562.1h1M64.3 573.1h1M63.8 582.3h1M65.0 571.2h1M63.9 550.8h1M67.9 580.3h1M63.3 574.9h1M66.0 576.6h1M82.6 560.4h1M72.7 544.3h1M79.7 558.9h1M62.8 568.0h1M73.1 580.8h1M71.5 543.6h1M81.0 561.4h1M80.9 556.4h1M81.6 556.8h1M76.7 548.2h1M63.1 563.7h1M61.7 558.3h1M61.4 566.5h1M73.4 573.7h1M70.5 576.8h1M66.7 553.9h1M70.5 542.9h1M79.8 558.0h1M67.5 579.7h1M79.5 566.8h1M63.6 566.0h1M71.3 575.6h1M82.0 552.8h1M63.0 579.4h1M73.2 575.0h1M76.5 573.8h1M80.5 554.2h1M81.9 544.3h1M64.0 578.7h1M64.8 557.4h1M67.4 553.0h1M63.6 560.8h1M67.7 546.3h1M83.2 551.2h1M80.7 552.9h1M74.2 575.9h1M78.9 571.4h1M64.3 563.0h1M79.4 569.2h1M78.9 551.4h1M76.3 549.0h1M72.2 545.6h1M69.1 550.4h1M79.5 544.4h1M80.1 550.5h1M66.8 580.6h1M72.5 543.3h1M62.8 567.0h1M68.8 547.1h1M73.4 547.2h1M68.1 578.6h1M80.3 542.3h1M64.7 579.4h1M64.3 550.2h1M79.3 566.8h1M84.1 548.9h1M63.6 570.1h1M82.9 546.2h1M72.9 573.7h1M76.9 567.5h1M74.1 572.8h1M77.7 550.0h1M69.3 581.4h1M66.6 551.3h1M62.3 570.1h1M62.4 561.9h1M77.8 565.7h1M69.7 580.2h1M64.4 550.2h1M83.3 551.8h1M66.0 574.9h1M84.2 550.8h1M77.1 566.7h1M70.3 578.0h1M72.8 546.1h1M69.6 544.1h1M70.4 577.6h1M80.7 561.9h1M63.3 561.8h1M63.6 555.0h1M81.9 551.4h1M67.9 548.1h1M67.0 582.9h1M69.5 577.9h1M64.6 576.9h1M79.0 549.4h1M66.8 551.2h1M60.9 568.2h1M69.5 550.4h1M81.1 551.6h1M79.3 561.4h1M81.7 560.5h1M67.5 549.4h1M82.5 561.2h1M64.4 558.7h1M63.9 572.8h1M70.3 577.2h1M69.6 544.5h1M80.1 556.5h1M66.3 576.4h1M68.1 550.4h1M66.2 575.5h1M78.8 541.9h1M72.3 576.9h1M79.4 543.1h1M65.6 573.8h1M77.5 544.1h1M61.4 575.0h1M73.6 545.0h1M66.9 553.7h1M83.8 560.0h1M70.7 581.0h1M65.9 553.3h1M66.9 553.5h1M65.0 575.0h1M71.2 546.1h1M77.6 567.2h1M64.4 572.6h1M79.3 543.6h1M83.7 559.1h1M63.2 562.3h1M66.6 550.7h1M76.7 567.9h1M79.6 544.9h1M66.2 576.4h1M63.8 551.8h1M77.2 571.2h1M68.5 578.3h1M64.5 566.9h1M74.8 548.5h1M62.7 561.4h1M80.3 548.7h1M72.8 579.1h1M79.6 559.3h1M82.2 555.8h1M66.6 551.9h1M70.9 579.3h1M79.7 555.1h1M64.2 554.5h1M79.8 557.7h1M65.3 572.8h1M63.8 582.3h1M70.2 578.1h1M81.0 546.5h1M80.0 557.4h1M75.3 570.9h1M62.7 561.5h1M73.4 576.6h1M65.8 556.2h1M80.2 549.4h1M77.2 545.9h1M80.5 554.4h1M79.0 562.0h1M65.1 572.3h1M78.5 563.6h1M66.3 578.5h1M76.7 574.8h1M77.2 545.9h1M64.7 570.1h1M70.8 577.8h1M66.2 547.2h1M66.6 584.1h1M70.1 549.4h1M76.9 567.3h1M79.7 561.4h1M76.6 572.3h1M69.7 543.2h1M68.9 545.5h1M63.6 565.3h1M76.9 548.9h1M77.4 573.7h1M63.7 573.7h1" stroke="#ff0000" stroke-width="1" opacity="0.9"/>
</g>
<rect x="36.7" y="485.5" width="110.6" height="99.5" fill="none" stroke="#858585" stroke-width="1.1"/>
<line x1="82.6" y1="485.5" x2="82.6" y2="585" stroke="#7a7a7a" stroke-width="1"/>
<line x1="36.7" y1="531.5" x2="147.3" y2="531.5" stroke="#7a7a7a" stroke-width="1"/>
<path d="M34.5,585H36.7M36.7,585V587.2M35.4,577.51H36.7M45.02,585V586.3M35.4,573.13H36.7M49.89,585V586.3M35.4,570.02H36.7M53.35,585V586.3M35.4,567.61H36.7M56.03,585V586.3M35.4,565.64H36.7M58.22,585V586.3M35.4,563.98H36.7M60.07,585V586.3M35.4,562.54H36.7M61.67,585V586.3M35.4,561.26H36.7M63.08,585V586.3M34.5,560.12H36.7M64.35,585V587.2M35.4,552.64H36.7M72.67,585V586.3M35.4,548.26H36.7M77.54,585V586.3M35.4,545.15H36.7M81,585V586.3M35.4,542.74H36.7M83.68,585V586.3M35.4,540.77H36.7M85.87,585V586.3M35.4,539.1H36.7M87.72,585V586.3M35.4,537.66H36.7M89.32,585V586.3M35.4,536.39H36.7M90.73,585V586.3M34.5,535.25H36.7M92,585V587.2M35.4,527.76H36.7M100.32,585V586.3M35.4,523.38H36.7M105.19,585V586.3M35.4,520.27H36.7M108.65,585V586.3M35.4,517.86H36.7M111.33,585V586.3M35.4,515.89H36.7M113.52,585V586.3M35.4,514.23H36.7M115.37,585V586.3M35.4,512.79H36.7M116.97,585V586.3M35.4,511.51H36.7M118.38,585V586.3M34.5,510.38H36.7M119.65,585V587.2M35.4,502.89H36.7M127.97,585V586.3M35.4,498.51H36.7M132.84,585V586.3M35.4,495.4H36.7M136.3,585V586.3M35.4,492.99H36.7M138.98,585V586.3M35.4,491.02H36.7M141.17,585V586.3M35.4,489.35H36.7M143.02,585V586.3M35.4,487.91H36.7M144.62,585V586.3M35.4,486.64H36.7M146.03,585V586.3" stroke="#999" stroke-width="0.5" fill="none"/>
<text x="32.7" y="562.73" font-size="7.3" fill="#505050" text-anchor="end">10<tspan dy="-2.7" font-size="4.8">0</tspan></text>
<text x="32.7" y="537.85" font-size="7.3" fill="#505050" text-anchor="end">10<tspan dy="-2.7" font-size="4.8">1</tspan></text>
<text x="32.7" y="512.98" font-size="7.3" fill="#505050" text-anchor="end">10<tspan dy="-2.7" font-size="4.8">2</tspan></text>
<text x="32.7" y="488.1" font-size="7.3" fill="#505050" text-anchor="end">10<tspan dy="-2.7" font-size="4.8">3</tspan></text>
<text x="64.95" y="593.6" font-size="7.3" fill="#505050" text-anchor="middle">10<tspan dy="-2.7" font-size="4.8">0</tspan></text>
<text x="92.6" y="593.6" font-size="7.3" fill="#505050" text-anchor="middle">10<tspan dy="-2.7" font-size="4.8">1</tspan></text>
<text x="120.25" y="593.6" font-size="7.3" fill="#505050" text-anchor="middle">10<tspan dy="-2.7" font-size="4.8">2</tspan></text>
<text x="147.9" y="593.6" font-size="7.3" fill="#505050" text-anchor="middle">10<tspan dy="-2.7" font-size="4.8">3</tspan></text>
<text x="37.7" y="496.1" font-size="8.2" fill="#222">B1</text>
<text x="50.5" y="506.9" font-size="8.2" fill="#222" text-anchor="middle">0.1%</text>
<text x="83.6" y="496.1" font-size="8.2" fill="#222">B2</text>
<text x="96.4" y="506.9" font-size="8.2" fill="#222" text-anchor="middle">5.3%</text>
<text x="37.7" y="542.1" font-size="8.2" fill="#222">B3</text>
<text x="50.5" y="552.9" font-size="8.2" fill="#222" text-anchor="middle">92.7%</text>
<text x="83.6" y="542.1" font-size="8.2" fill="#222">B4</text>
<text x="96.4" y="552.9" font-size="8.2" fill="#222" text-anchor="middle">2.0%</text>
<rect x="169.6" y="485.5" width="112.2" height="100.5" fill="#fff"/>
<clipPath id="cp12"><rect x="169.6" y="485.5" width="112.2" height="100.5"/></clipPath>
<g clip-path="url(#cp12)">
<path d="M223.4 550.5h0.9M223.4 541.1h0.9M230.3 520.0h0.9M249.9 513.3h0.9M209.0 547.4h0.9M233.6 540.1h0.9M220.8 549.5h0.9M251.5 503.8h0.9M201.4 554.3h0.9M256.2 497.8h0.9M242.0 509.8h0.9M212.3 546.5h0.9M199.4 559.5h0.9M238.5 520.9h0.9M210.6 554.2h0.9M240.1 503.8h0.9M235.9 526.0h0.9M224.7 539.7h0.9M266.2 512.4h0.9M251.3 532.3h0.9M252.3 511.7h0.9M229.6 513.7h0.9M221.6 532.2h0.9M205.5 552.7h0.9M255.9 517.2h0.9M256.2 500.2h0.9M215.4 552.3h0.9M244.6 525.3h0.9M194.3 550.1h0.9M250.0 503.7h0.9M209.7 547.1h0.9M236.4 519.5h0.9M241.6 513.8h0.9M231.2 509.0h0.9M240.5 512.3h0.9M212.9 556.1h0.9M242.2 519.8h0.9M240.0 521.4h0.9M239.4 535.4h0.9M215.3 538.4h0.9M209.2 551.9h0.9M216.2 547.3h0.9M204.7 548.4h0.9M223.9 524.7h0.9M240.7 530.7h0.9M197.5 559.5h0.9M216.3 544.3h0.9M219.3 539.9h0.9M213.5 523.5h0.9M217.7 534.6h0.9M252.5 518.1h0.9M257.4 511.0h0.9M232.2 536.0h0.9M215.7 543.5h0.9M227.3 526.9h0.9M206.5 547.5h0.9M206.5 564.4h0.9M220.1 554.9h0.9M228.0 527.3h0.9M201.5 531.3h0.9M228.4 508.6h0.9M244.9 526.0h0.9M203.3 556.1h0.9M218.9 547.6h0.9M256.3 509.6h0.9M265.4 503.7h0.9M228.6 539.4h0.9M242.8 496.3h0.9M242.9 512.0h0.9M206.8 562.9h0.9M244.9 513.7h0.9M238.0 519.9h0.9M213.2 561.7h0.9M221.3 543.2h0.9M265.4 505.8h0.9M202.8 550.6h0.9M238.7 535.5h0.9M228.0 537.6h0.9M213.4 559.5h0.9M216.2 541.8h0.9M216.1 524.7h0.9M205.6 539.3h0.9M204.3 557.7h0.9M206.4 542.3h0.9M233.7 524.9h0.9M250.4 526.0h0.9M261.9 496.4h0.9M245.0 513.4h0.9M257.5 515.9h0.9M263.2 509.3h0.9M242.8 506.0h0.9M238.4 506.7h0.9M260.8 515.0h0.9M229.9 529.3h0.9M244.3 529.8h0.9M253.6 504.2h0.9M250.2 522.8h0.9M233.0 526.1h0.9M201.0 551.8h0.9M259.1 511.2h0.9M237.4 526.4h0.9M225.2 544.0h0.9M259.9 505.1h0.9M240.2 538.8h0.9M261.1 501.3h0.9M222.5 529.5h0.9M258.9 515.8h0.9M220.0 542.5h0.9M219.3 544.7h0.9M211.7 539.3h0.9M252.4 522.9h0.9M211.2 562.6h0.9M225.7 532.7h0.9M239.7 518.9h0.9M234.5 511.8h0.9M239.0 530.3h0.9M205.1 556.9h0.9M253.7 508.0h0.9M236.9 512.6h0.9M224.7 544.6h0.9M258.3 492.4h0.9M251.3 497.2h0.9M252.1 502.8h0.9M214.2 547.9h0.9M255.6 510.7h0.9M221.7 547.3h0.9M194.5 555.9h0.9M235.2 511.5h0.9M222.8 542.1h0.9M211.1 543.1h0.9M236.5 517.4h0.9M210.9 560.1h0.9M248.9 501.7h0.9M235.0 527.2h0.9M216.7 558.8h0.9M247.2 519.6h0.9M205.3 548.7h0.9M214.8 545.6h0.9M207.1 547.9h0.9M228.7 538.5h0.9M219.6 543.1h0.9M207.9 547.9h0.9M230.5 515.6h0.9M220.9 539.5h0.9M238.7 521.7h0.9M224.4 551.4h0.9M211.9 536.3h0.9M227.1 522.2h0.9M225.7 533.7h0.9M197.6 543.1h0.9M225.3 550.3h0.9M255.1 539.9h0.9M247.7 567.5h0.9M237.6 538.3h0.9M234.9 561.7h0.9M242.2 563.9h0.9M236.1 532.5h0.9M217.6 562.3h0.9M237.4 566.5h0.9M249.6 556.4h0.9M239.6 561.4h0.9M223.0 546.1h0.9M241.5 551.9h0.9M222.8 544.4h0.9M221.7 563.7h0.9M223.4 556.6h0.9M222.9 537.0h0.9M217.9 545.8h0.9M249.2 566.4h0.9M237.4 564.7h0.9M242.0 568.3h0.9M224.5 541.8h0.9M226.9 563.1h0.9M253.1 561.4h0.9M254.1 532.5h0.9M222.7 537.9h0.9M229.3 546.1h0.9M232.1 538.1h0.9M236.9 557.0h0.9M248.3 537.9h0.9M255.0 541.9h0.9M232.7 566.1h0.9M222.2 548.1h0.9M230.1 535.5h0.9M218.0 540.0h0.9M236.5 533.9h0.9M224.1 567.7h0.9M235.4 542.6h0.9M254.8 559.1h0.9M229.9 564.0h0.9M217.8 544.2h0.9M253.7 552.0h0.9M220.1 535.5h0.9M253.3 546.5h0.9M251.2 541.8h0.9M239.3 541.1h0.9M249.7 562.1h0.9M254.5 550.7h0.9M246.3 535.7h0.9M240.4 560.2h0.9M253.3 513.4h0.9M171.5 547.4h0.9M254.7 539.5h0.9M189.7 526.2h0.9M194.9 573.7h0.9M245.9 546.9h0.9M250.5 584.3h0.9M277.5 486.9h0.9M211.4 559.3h0.9M212.1 565.5h0.9M253.8 515.2h0.9M251.0 487.9h0.9M174.7 537.0h0.9M175.0 518.5h0.9M184.5 574.5h0.9M214.2 517.3h0.9M218.6 524.2h0.9M228.5 493.7h0.9M271.1 499.0h0.9M277.4 500.9h0.9M249.6 512.2h0.9M272.3 500.8h0.9M253.7 500.2h0.9M238.7 506.7h0.9M262.5 496.1h0.9M246.0 505.7h0.9M243.9 498.9h0.9M261.3 493.8h0.9M257.3 498.3h0.9M269.3 496.5h0.9M230.0 512.2h0.9M255.2 499.0h0.9M253.8 507.8h0.9M249.0 506.7h0.9M255.7 508.5h0.9M239.0 509.3h0.9M267.4 500.2h0.9M234.3 509.9h0.9M248.0 501.0h0.9M268.2 499.7h0.9M255.0 495.7h0.9M238.2 508.2h0.9M228.6 510.3h0.9M243.8 507.5h0.9M265.4 492.5h0.9M245.9 503.3h0.9M271.1 501.9h0.9M247.0 503.9h0.9M251.8 501.0h0.9M245.9 500.6h0.9M268.7 495.3h0.9M234.1 506.9h0.9M271.6 497.8h0.9M232.7 506.0h0.9M229.7 514.8h0.9M275.4 495.4h0.9M243.5 510.8h0.9M237.6 502.4h0.9M270.0 504.6h0.9M242.8 507.3h0.9M247.9 507.2h0.9M252.7 509.6h0.9M240.2 513.3h0.9M248.1 501.2h0.9M241.2 510.4h0.9M244.8 503.8h0.9M279.6 494.8h0.9M247.6 510.9h0.9M269.7 494.9h0.9M238.5 514.5h0.9M262.8 493.4h0.9M262.0 507.8h0.9M241.2 504.8h0.9M260.9 506.5h0.9M261.3 496.2h0.9M258.2 495.5h0.9M255.4 508.2h0.9M274.0 499.1h0.9M231.5 510.1h0.9M257.6 496.4h0.9M271.0 497.4h0.9M234.4 504.7h0.9M233.6 509.8h0.9M275.7 496.1h0.9M269.5 496.2h0.9M263.8 503.6h0.9M246.1 505.9h0.9M278.5 496.9h0.9M272.6 496.6h0.9M257.5 505.2h0.9M270.0 495.8h0.9M249.1 501.9h0.9M280.4 490.9h0.9M265.2 504.0h0.9M246.5 504.5h0.9M267.1 495.7h0.9M253.2 500.3h0.9M241.6 508.0h0.9M253.5 499.5h0.9M270.5 499.4h0.9M242.9 512.9h0.9M225.7 512.4h0.9M244.5 506.4h0.9M260.3 505.0h0.9M276.9 498.8h0.9M276.2 497.0h0.9M225.5 510.5h0.9M232.0 513.9h0.9M235.2 509.4h0.9M268.0 493.8h0.9M239.0 512.0h0.9M266.6 501.5h0.9M268.2 495.4h0.9M269.8 496.1h0.9M244.5 506.5h0.9M252.8 497.5h0.9M254.1 505.9h0.9M280.0 491.8h0.9M236.7 505.2h0.9M270.7 497.3h0.9M266.9 495.3h0.9M255.3 495.0h0.9M268.8 495.3h0.9M261.0 494.4h0.9M234.6 513.2h0.9M246.2 506.9h0.9M246.4 503.9h0.9M269.5 496.5h0.9M253.8 506.8h0.9M272.2 499.4h0.9M246.7 506.2h0.9M276.2 497.5h0.9M251.0 510.6h0.9M267.6 500.1h0.9M226.3 511.9h0.9M246.6 503.3h0.9M240.0 505.2h0.9M278.5 496.0h0.9M265.0 492.9h0.9M251.7 506.9h0.9M240.6 510.1h0.9M270.3 498.8h0.9M275.7 499.4h0.9M232.3 505.8h0.9M257.8 505.6h0.9M273.9 495.8h0.9M248.1 502.5h0.9M259.3 498.0h0.9M264.1 495.9h0.9M244.3 500.7h0.9M261.0 504.1h0.9M276.0 496.3h0.9M240.3 510.3h0.9M269.0 500.3h0.9M247.5 510.0h0.9M252.4 509.4h0.9M231.5 509.8h0.9M257.2 498.3h0.9M260.7 496.5h0.9M265.3 494.5h0.9M263.6 494.9h0.9M274.9 498.3h0.9M263.9 497.0h0.9M258.2 496.9h0.9M243.3 501.8h0.9M254.1 509.6h0.9M215.8 566.1h0.9M187.7 571.0h0.9M208.0 528.7h0.9M200.9 540.8h0.9M208.1 575.4h0.9M210.8 530.4h0.9M201.4 528.2h0.9M195.4 580.9h0.9M211.2 573.1h0.9M198.0 534.7h0.9M193.2 556.4h0.9M219.1 538.4h0.9M207.3 582.2h0.9M195.2 536.3h0.9M218.3 544.5h0.9M189.6 566.3h0.9M209.0 569.6h0.9M193.2 565.4h0.9M214.0 534.4h0.9M192.2 564.8h0.9M209.0 579.3h0.9M204.9 573.7h0.9M190.1 585.1h0.9M208.8 566.9h0.9M195.2 582.3h0.9M206.7 538.7h0.9M189.4 575.7h0.9M198.5 581.1h0.9M215.1 537.4h0.9M217.6 555.3h0.9M200.9 541.1h0.9M205.6 573.9h0.9M209.2 538.7h0.9M212.3 573.5h0.9M194.0 572.6h0.9M210.1 532.8h0.9M195.7 578.3h0.9M206.2 540.2h0.9M206.2 535.2h0.9M214.4 551.2h0.9M216.1 544.5h0.9M192.9 583.6h0.9M192.6 573.6h0.9M191.9 568.5h0.9M213.5 569.5h0.9M199.5 579.3h0.9M215.4 558.7h0.9M209.0 537.6h0.9M215.1 562.8h0.9M215.0 551.5h0.9M206.6 573.1h0.9M212.5 555.5h0.9M193.7 573.1h0.9M208.9 530.7h0.9M189.4 556.7h0.9M212.7 559.3h0.9M189.2 550.3h0.9M208.0 577.4h0.9M195.9 580.1h0.9M202.9 580.1h0.9M196.3 543.6h0.9M193.4 554.3h0.9M196.2 541.4h0.9M208.4 572.9h0.9M196.2 542.9h0.9M190.9 554.9h0.9M192.9 561.9h0.9M210.4 566.5h0.9M199.6 532.0h0.9M191.3 554.9h0.9M201.7 538.5h0.9M215.4 551.4h0.9M195.0 585.2h0.9M199.8 541.9h0.9M204.7 539.1h0.9M191.6 547.6h0.9M202.8 531.2h0.9M190.7 549.3h0.9M212.3 565.5h0.9M194.9 534.8h0.9M193.4 569.7h0.9M193.3 548.3h0.9M194.6 550.1h0.9M207.8 574.5h0.9M206.5 533.7h0.9M193.4 583.5h0.9M218.0 540.5h0.9M213.9 541.5h0.9M213.9 555.6h0.9M211.5 560.9h0.9M208.3 568.6h0.9M193.3 537.9h0.9M202.3 581.7h0.9M210.7 566.4h0.9M209.4 531.2h0.9M209.5 535.6h0.9M211.7 568.8h0.9M207.6 537.4h0.9M215.8 559.2h0.9M194.2 551.3h0.9M211.7 565.8h0.9M190.8 552.6h0.9M197.3 533.8h0.9M200.4 540.1h0.9M193.7 578.5h0.9M201.6 578.7h0.9M195.1 546.3h0.9M193.5 581.2h0.9M214.3 533.2h0.9M188.5 552.7h0.9M193.7 573.2h0.9M190.3 547.9h0.9M212.4 564.9h0.9M203.8 582.0h0.9M216.3 559.4h0.9M206.2 533.4h0.9M216.3 540.3h0.9M191.9 558.0h0.9M207.4 573.5h0.9M193.3 579.7h0.9M192.3 566.3h0.9M202.9 578.6h0.9M203.9 576.2h0.9M193.2 551.8h0.9M189.8 566.9h0.9M193.3 549.6h0.9M212.2 546.4h0.9M193.1 564.6h0.9M209.7 535.1h0.9M205.2 528.0h0.9M218.2 555.7h0.9M207.7 528.8h0.9M214.7 536.5h0.9M192.7 579.9h0.9M189.4 569.2h0.9M210.2 540.3h0.9M191.5 574.3h0.9M211.8 569.2h0.9M200.7 580.0h0.9M190.0 553.5h0.9M193.8 582.4h0.9M198.5 580.1h0.9M191.7 565.3h0.9M203.2 540.3h0.9M203.5 576.1h0.9M192.1 548.5h0.9M212.4 560.2h0.9M209.7 531.3h0.9M206.2 538.3h0.9M214.0 534.5h0.9M204.6 535.8h0.9M197.9 538.3h0.9M219.6 538.3h0.9M201.5 578.1h0.9M205.6 538.9h0.9M207.6 570.5h0.9M211.3 561.6h0.9M187.6 575.0h0.9M212.6 571.2h0.9M209.7 564.7h0.9M195.4 578.9h0.9M191.7 573.2h0.9M209.7 571.9h0.9M216.8 556.1h0.9M199.5 536.2h0.9M202.1 579.7h0.9M196.8 542.5h0.9M192.8 573.9h0.9M208.3 534.2h0.9M202.4 585.1h0.9M192.5 561.7h0.9M189.3 550.7h0.9M193.3 548.6h0.9M209.4 569.8h0.9M213.0 552.8h0.9M213.8 547.5h0.9M207.1 529.5h0.9M215.5 539.9h0.9M194.5 545.0h0.9M202.2 534.2h0.9M198.7 541.0h0.9M208.7 567.1h0.9M208.5 570.2h0.9M190.5 548.7h0.9M202.9 539.2h0.9M196.9 581.8h0.9M200.8 582.3h0.9M211.6 535.1h0.9M193.0 556.7h0.9M192.8 565.2h0.9M191.6 548.6h0.9M193.8 546.7h0.9M196.0 546.2h0.9M201.4 577.9h0.9M196.1 538.7h0.9M216.7 559.7h0.9M194.3 546.6h0.9M203.6 539.4h0.9M198.0 582.3h0.9M210.9 540.5h0.9M202.4 585.0h0.9M202.5 578.2h0.9M216.1 548.6h0.9M210.2 571.1h0.9M191.6 565.1h0.9M191.0 582.0h0.9M204.7 539.8h0.9M215.0 536.8h0.9M192.3 572.8h0.9M213.5 562.4h0.9M189.7 581.2h0.9M198.2 538.2h0.9M208.1 540.2h0.9M208.6 572.4h0.9M212.9 544.3h0.9M200.3 580.5h0.9M205.8 574.2h0.9M219.4 542.4h0.9M193.0 554.0h0.9M187.5 567.8h0.9M217.4 542.9h0.9M192.8 583.2h0.9M192.6 576.0h0.9M188.4 552.4h0.9M191.3 575.9h0.9M208.5 540.0h0.9M192.7 561.9h0.9M202.2 540.7h0.9M193.5 536.0h0.9M204.2 574.8h0.9M195.7 543.9h0.9M198.9 582.1h0.9M209.3 535.4h0.9M214.5 560.2h0.9M192.8 555.2h0.9M192.6 562.0h0.9M194.5 548.4h0.9M211.3 542.2h0.9M210.4 576.6h0.9M191.8 574.9h0.9M203.8 540.3h0.9M208.8 571.8h0.9M205.5 534.8h0.9M200.8 538.2h0.9M192.3 564.2h0.9M192.3 551.6h0.9M203.9 580.4h0.9M203.2 540.0h0.9M206.1 571.7h0.9M202.8 530.9h0.9M206.5 582.8h0.9M213.3 544.2h0.9M203.6 536.9h0.9M211.4 563.8h0.9M194.6 578.4h0.9M191.4 556.9h0.9M190.6 566.9h0.9M194.3 551.0h0.9M214.7 541.7h0.9M206.0 572.3h0.9M215.1 536.5h0.9M188.5 566.7h0.9M190.9 577.6h0.9M190.4 548.0h0.9M193.4 573.7h0.9M201.7 581.6h0.9M191.7 564.7h0.9M204.8 527.7h0.9M200.1 579.4h0.9M200.4 529.0h0.9M207.6 540.0h0.9M200.9 582.6h0.9M211.0 564.5h0.9M191.2 580.7h0.9M190.2 555.3h0.9M193.4 578.0h0.9M206.8 580.1h0.9M196.1 580.7h0.9M216.1 549.7h0.9M213.4 549.6h0.9M209.0 541.6h0.9M211.4 543.2h0.9M190.5 549.7h0.9M188.5 560.5h0.9M197.5 537.7h0.9M215.5 553.9h0.9M218.3 558.5h0.9M198.1 540.2h0.9M213.2 534.9h0.9M216.3 543.9h0.9M216.0 550.6h0.9M215.3 549.8h0.9M209.0 568.0h0.9M214.7 531.5h0.9M189.4 565.9h0.9M191.7 563.6h0.9" stroke="#ff2828" stroke-width="0.9" opacity="0.4"/>
<ellipse cx="258" cy="501.5" rx="9.8" ry="1.8" transform="rotate(-19 258 501.5)" fill="#ff3030" opacity="0.3"/>
<path d="M258.9 500.4h1M246.0 504.0h1M250.3 507.2h1M256.5 503.5h1M261.6 501.3h1M262.8 498.4h1M248.7 505.0h1M250.3 505.5h1M256.3 501.2h1M253.8 503.1h1M269.4 497.9h1M271.7 496.0h1M253.9 503.1h1M266.3 497.9h1M261.8 499.3h1M250.4 501.4h1M256.8 500.6h1M269.3 496.8h1M258.9 502.1h1M257.7 500.6h1M257.8 503.5h1M258.7 502.1h1M254.9 503.6h1M253.0 506.0h1M264.6 500.0h1M257.4 499.6h1M260.7 500.7h1M260.4 498.1h1M253.5 502.2h1M254.7 504.0h1M251.0 506.2h1M259.3 502.7h1M254.6 500.7h1M257.6 502.4h1M245.8 502.5h1M252.2 499.5h1M253.2 500.2h1M270.5 495.0h1M255.0 498.9h1M255.2 502.3h1M264.6 500.4h1M260.6 500.9h1M254.2 503.3h1M272.3 497.5h1M240.9 507.4h1M264.1 498.5h1M258.2 502.8h1M270.1 496.5h1M245.5 506.3h1M258.6 499.4h1M268.8 500.8h1M246.0 505.3h1M262.2 501.8h1M256.8 502.7h1M261.4 500.3h1M259.6 499.5h1M268.9 497.2h1M260.7 501.6h1M249.7 506.9h1M248.6 507.6h1M261.7 503.2h1M268.8 498.6h1M240.7 507.0h1M260.2 501.9h1M258.0 500.8h1M265.9 502.0h1M257.4 499.7h1M254.5 501.6h1M258.3 502.1h1M264.5 499.2h1M253.0 500.5h1M258.8 500.0h1M259.4 499.6h1M246.7 505.5h1M264.2 499.2h1M254.6 505.4h1M265.3 499.3h1M266.9 498.3h1M261.1 501.6h1M260.5 503.4h1M261.4 499.4h1M264.4 498.8h1M264.8 501.7h1M263.5 503.1h1M259.3 498.5h1M257.3 500.0h1M267.4 496.3h1M252.9 503.4h1M261.2 502.9h1M261.2 499.3h1M255.0 503.1h1M261.7 501.1h1M256.2 500.5h1M247.1 506.9h1M245.8 504.4h1M268.6 496.9h1M255.2 502.4h1M270.1 498.8h1M266.5 499.6h1M266.5 501.5h1M256.5 500.9h1M258.6 499.2h1M254.1 504.6h1M261.7 500.0h1M259.5 500.5h1M260.6 501.2h1M241.1 507.4h1M261.0 501.3h1M253.8 502.7h1M253.3 502.8h1M263.0 499.8h1M270.6 498.8h1M258.2 502.6h1M266.3 498.8h1M267.4 498.7h1M259.8 498.2h1M261.7 498.4h1M261.8 503.6h1M240.5 506.5h1M261.2 499.4h1M270.1 495.7h1M259.5 497.0h1M265.7 497.0h1M256.7 500.5h1M263.1 497.3h1M253.1 504.2h1M253.9 501.7h1M257.4 500.7h1M260.2 501.2h1M251.9 503.3h1M257.1 501.0h1M261.1 499.2h1M267.6 495.2h1M247.7 502.2h1M247.3 503.3h1M260.5 500.5h1M255.7 499.8h1M256.8 501.1h1M263.1 500.1h1M252.2 503.8h1M255.8 503.2h1M254.0 502.5h1M268.4 495.6h1M262.9 498.6h1M257.1 504.3h1M264.9 498.7h1M258.0 500.6h1M264.0 500.5h1M248.7 502.7h1M255.6 503.0h1M264.5 497.0h1M248.2 506.0h1M243.5 508.2h1M247.4 503.4h1M272.8 496.2h1M253.1 501.3h1M256.5 501.0h1M248.8 506.1h1M255.3 503.9h1M257.0 499.3h1M256.3 501.4h1M255.1 502.3h1M268.7 499.3h1M253.0 502.1h1M245.4 506.2h1M265.7 499.7h1M254.0 503.1h1M248.6 502.1h1M245.8 506.2h1M265.7 495.7h1M267.7 497.4h1M255.3 500.4h1M270.5 499.1h1M275.4 495.1h1M275.5 495.4h1M256.0 502.6h1M259.8 501.4h1M257.7 502.8h1M262.1 502.5h1M253.8 500.2h1M268.9 496.6h1M257.1 503.2h1M249.2 505.8h1M259.5 504.8h1M262.2 502.5h1M251.9 502.0h1M257.3 499.4h1M254.9 498.8h1M255.2 504.5h1M256.2 502.7h1M248.5 506.2h1M254.2 503.8h1M255.1 502.1h1M255.6 502.9h1M268.3 498.5h1M255.1 502.6h1M261.6 501.2h1M252.8 502.2h1M272.7 496.9h1M257.3 500.6h1M267.3 498.3h1M265.0 500.1h1M260.0 504.2h1M258.4 499.6h1M261.9 504.2h1M254.1 503.2h1M269.1 495.3h1M259.7 502.3h1M260.7 500.8h1M258.5 498.5h1M257.0 500.7h1M267.8 500.3h1M264.3 502.8h1M251.7 502.5h1M265.1 499.5h1M254.8 505.6h1M258.2 498.7h1M255.7 498.7h1M270.4 496.3h1M259.3 502.0h1M261.4 498.9h1M253.2 503.9h1M250.9 504.3h1M257.7 504.9h1M255.1 503.6h1M256.9 501.3h1M268.5 499.8h1M252.8 502.9h1M256.4 501.0h1M251.3 499.9h1M249.0 505.8h1M256.6 502.9h1M255.2 500.9h1M250.2 501.0h1M256.1 502.9h1M261.8 500.3h1M261.3 500.5h1M252.3 503.0h1M262.1 500.6h1M269.6 497.6h1" stroke="#ff0000" stroke-width="1" opacity="0.55"/>
<polygon points="209.39,561.57 208.58,563.69 207.66,565.75 206.68,567.72 205.66,569.57 204.62,571.26 203.59,572.77 202.59,574.08 201.64,575.15 200.74,575.98 199.91,576.54 199.13,576.82 198.42,576.82 197.78,576.54 197.19,575.96 196.65,575.11 196.17,573.99 195.73,572.62 195.35,571.02 195.03,569.22 194.77,567.26 194.58,565.15 194.49,562.95 194.49,560.7 194.61,558.43 194.85,556.18 195.23,554.01 195.75,551.94 196.42,550.02 197.24,548.28 198.19,546.76 199.26,545.47 200.44,544.44 201.69,543.69 202.99,543.22 204.29,543.05 205.58,543.18 206.8,543.59 207.92,544.27 208.92,545.22 209.75,546.42 210.41,547.84 210.87,549.45 211.12,551.23 211.15,553.15 210.98,555.18 210.62,557.28 210.09,559.42" fill="#ff0000"/>
<path d="M210.4 546.7h1M207.0 536.9h1M199.9 575.2h1M199.4 576.5h1M204.6 569.6h1M211.9 556.4h1M204.7 575.1h1M204.2 573.9h1M210.2 553.7h1M207.1 565.4h1M192.6 555.6h1M194.7 566.0h1M197.1 572.9h1M210.1 562.4h1M195.0 558.2h1M200.7 575.7h1M209.1 547.4h1M195.4 552.5h1M200.1 546.1h1M196.2 570.2h1M205.6 543.9h1M197.4 580.4h1M210.7 541.7h1M192.7 554.1h1M201.9 574.0h1M201.3 575.9h1M194.7 562.8h1M195.1 563.6h1M197.7 576.6h1M199.0 576.8h1M209.4 562.7h1M205.9 545.4h1M209.8 550.0h1M194.6 565.8h1M206.1 568.9h1M205.3 571.6h1M204.2 543.7h1M208.4 565.5h1M194.7 568.1h1M193.3 572.4h1M201.2 546.0h1M200.0 579.8h1M204.6 572.9h1M210.5 565.7h1M210.1 541.0h1M192.2 570.1h1M195.8 550.9h1M209.3 559.4h1M211.5 550.3h1M202.2 541.4h1M207.8 567.3h1M200.0 575.1h1M194.2 551.0h1M199.1 580.8h1M193.1 551.5h1M210.1 542.6h1M211.7 557.5h1M203.5 575.6h1M211.7 556.3h1M208.1 568.8h1M193.7 554.2h1M193.5 550.8h1M194.6 569.4h1M202.7 578.0h1M212.7 561.1h1M210.0 551.8h1M210.7 552.1h1M202.2 543.8h1M214.8 550.1h1M193.0 571.6h1M197.5 547.1h1M205.3 569.4h1M196.7 572.3h1M200.9 544.3h1M213.5 544.7h1M203.5 543.3h1M210.0 540.8h1M203.6 542.8h1M195.4 567.9h1M196.4 544.2h1M210.5 547.9h1M195.1 568.2h1M209.2 566.8h1M210.4 560.5h1M197.3 578.9h1M194.7 572.6h1M194.0 555.1h1M211.7 554.4h1M207.4 543.6h1M202.0 574.4h1M196.9 575.3h1M208.5 567.9h1M207.6 564.1h1M207.0 565.7h1M201.4 576.5h1M197.1 576.3h1M193.8 557.1h1M211.0 544.7h1M209.7 545.5h1M194.2 559.7h1M194.8 553.2h1M201.9 579.1h1M211.1 558.6h1M215.0 549.0h1M195.6 569.2h1M208.4 565.9h1M210.6 552.5h1M198.6 543.7h1M212.1 548.7h1M207.0 566.1h1M212.5 551.4h1M205.0 545.3h1M199.7 545.1h1M212.3 552.3h1M195.1 558.3h1M197.1 574.2h1M203.0 573.7h1M208.0 540.1h1M193.0 574.3h1M204.1 577.4h1M194.3 565.8h1M195.3 543.8h1M199.3 579.2h1M213.3 548.6h1M196.8 579.4h1M200.7 538.0h1M197.9 542.4h1M208.1 546.7h1M195.3 546.1h1M210.3 555.1h1M199.9 542.9h1M196.7 582.5h1M203.4 577.5h1M195.3 566.4h1M204.1 571.3h1M197.2 549.0h1M199.6 576.6h1M202.1 574.4h1M209.6 562.6h1M201.7 544.6h1M205.4 568.9h1M194.6 550.4h1M202.0 545.1h1M205.9 569.2h1M213.6 557.8h1M194.5 563.5h1M211.6 553.8h1M199.9 541.6h1M212.8 557.6h1M207.0 571.8h1M194.1 580.0h1M205.0 544.6h1M198.3 578.2h1M196.0 550.6h1M203.3 537.5h1M197.6 549.6h1M200.3 576.6h1M205.5 568.8h1M210.7 553.4h1M212.5 561.5h1M193.6 572.1h1M202.4 575.1h1M199.8 545.9h1M199.9 580.3h1M211.1 564.3h1M203.6 541.3h1M195.4 558.4h1M198.0 575.3h1M194.3 559.1h1M210.1 555.6h1M194.5 554.9h1M195.2 562.0h1M194.2 560.5h1M193.8 552.7h1M212.0 552.0h1M194.3 576.0h1M209.0 563.3h1M201.5 575.8h1M194.3 572.8h1M199.4 547.0h1M204.6 541.9h1M194.9 560.5h1M203.8 572.5h1M195.0 577.3h1M194.5 558.2h1M207.3 572.9h1M197.9 546.4h1M203.6 574.1h1M214.7 547.1h1M210.2 565.0h1M193.6 562.0h1M213.8 558.3h1M203.5 572.5h1M198.1 576.6h1M191.9 564.7h1M196.5 550.1h1M194.1 562.6h1M194.3 567.9h1M198.7 548.2h1M197.9 575.8h1M197.1 550.9h1M199.6 579.9h1M194.6 579.2h1M193.6 552.9h1M196.4 552.5h1M199.7 544.9h1M195.3 556.0h1M206.0 568.1h1M198.0 575.8h1M207.2 565.7h1M201.5 577.7h1M205.1 569.1h1M214.2 543.8h1M214.2 553.2h1M199.0 578.9h1M195.0 572.7h1M198.9 576.2h1M208.0 564.0h1M196.4 572.1h1M197.1 575.6h1M208.0 542.5h1M201.5 579.7h1M196.5 548.1h1M203.0 572.6h1M212.6 544.9h1M195.4 544.1h1M213.6 555.1h1M200.1 575.9h1M194.0 547.6h1M200.4 575.0h1M200.7 544.4h1M202.0 575.6h1M192.9 575.5h1M210.7 553.5h1M206.4 572.5h1M211.2 563.1h1M207.4 573.0h1M194.3 573.7h1M198.5 548.5h1M200.1 575.8h1M196.7 576.8h1M200.6 545.3h1M205.0 568.9h1M194.9 548.9h1M207.2 570.7h1M195.7 569.9h1M210.7 555.2h1M198.6 582.0h1M210.4 551.0h1M213.4 555.3h1M212.2 548.9h1M194.1 550.6h1M199.8 543.4h1M206.1 568.2h1M207.7 565.6h1M206.7 540.5h1M202.0 541.3h1M212.7 558.2h1M196.5 580.0h1M196.2 552.0h1M207.2 542.4h1M204.1 539.8h1M201.4 545.3h1M191.5 558.0h1M194.5 557.2h1M195.3 573.3h1M195.3 558.2h1M197.9 577.4h1M198.9 578.1h1M211.4 553.4h1M199.9 580.0h1M195.6 553.8h1M205.0 570.9h1M194.4 554.6h1M194.8 552.8h1M211.7 549.7h1M200.8 579.3h1M201.9 541.1h1M193.6 571.4h1M197.2 574.8h1M194.2 568.0h1M208.7 546.5h1M205.2 570.2h1M194.9 561.5h1M201.0 542.8h1M208.9 565.4h1M196.5 579.0h1M204.7 571.0h1M202.0 538.6h1M198.5 581.4h1M211.5 551.0h1M205.0 570.5h1M196.2 548.3h1M196.4 552.6h1M205.2 544.8h1M199.4 547.4h1M205.6 536.9h1M203.8 571.3h1M195.9 580.2h1M196.1 553.2h1M211.1 565.0h1M198.3 578.2h1M193.5 554.2h1M210.0 547.8h1M208.7 569.2h1M203.4 573.6h1M193.8 564.0h1M194.2 548.1h1M201.4 544.6h1M199.7 575.0h1M191.8 569.2h1M212.0 558.1h1M195.6 577.5h1M206.4 570.7h1M213.9 547.0h1M209.9 550.0h1M195.0 563.5h1M214.4 552.9h1M212.5 552.7h1M210.2 547.5h1M195.8 555.3h1M209.4 547.4h1M205.6 568.5h1M192.0 559.1h1M196.4 571.1h1M194.5 553.9h1M211.2 545.3h1M201.1 574.4h1M209.3 564.7h1M213.3 558.5h1M194.6 549.6h1M208.0 540.5h1M194.9 558.9h1M207.4 564.7h1M213.0 559.4h1M196.5 577.5h1M202.2 542.6h1M206.2 542.6h1M202.1 542.7h1M209.0 547.8h1M204.0 575.8h1M209.2 547.3h1M212.1 544.3h1M199.9 577.7h1M210.9 558.0h1M212.1 544.6h1M205.6 538.0h1M211.3 548.7h1M193.5 572.9h1M213.7 553.7h1M196.2 551.5h1M214.0 545.1h1M195.1 561.0h1M195.6 573.8h1M195.8 554.3h1M206.7 544.4h1M193.1 552.7h1M208.9 570.1h1M205.4 574.0h1M199.6 575.3h1M211.1 562.6h1M211.4 545.1h1M195.0 561.8h1M193.5 574.8h1M211.7 558.3h1M195.9 568.7h1M195.9 568.5h1M194.7 550.7h1M194.4 546.7h1M201.0 575.5h1M199.5 546.6h1M200.7 574.5h1M202.2 572.8h1M209.4 549.1h1M200.7 576.1h1M201.7 577.3h1M191.3 562.9h1M199.2 541.2h1M191.5 559.7h1M195.9 554.9h1M211.7 553.9h1M204.1 575.5h1M199.8 546.3h1M199.7 543.8h1M203.6 573.3h1M210.9 556.0h1M195.4 579.3h1M195.5 572.7h1M212.3 558.6h1M196.3 573.5h1M194.5 572.4h1M208.3 564.0h1M194.0 561.3h1M195.9 552.0h1M197.2 573.8h1M202.5 575.7h1M212.0 559.5h1M209.7 566.1h1M210.3 557.5h1M192.2 559.9h1M210.4 554.0h1M209.9 560.4h1M194.2 550.3h1M204.8 538.9h1M195.9 572.4h1M203.6 571.1h1M194.1 564.7h1M195.9 578.5h1M212.8 557.2h1M204.5 570.3h1M211.6 546.5h1M205.2 575.9h1M201.7 543.5h1M207.5 545.0h1M212.6 558.1h1M199.0 546.3h1M199.5 540.2h1M201.1 544.2h1M202.5 545.3h1M195.5 567.3h1M204.6 573.1h1M203.2 541.1h1M199.5 540.2h1M198.9 574.9h1M204.1 572.4h1M194.3 563.2h1M205.9 574.3h1M206.3 573.4h1M210.7 543.4h1M203.3 577.0h1M192.4 567.3h1M212.0 559.4h1M193.9 547.0h1M192.9 566.0h1M206.6 568.9h1M206.6 540.7h1M204.3 539.1h1M210.6 552.5h1M208.4 563.8h1M203.6 578.1h1M197.7 576.5h1M207.5 571.9h1M199.3 579.2h1M213.0 547.9h1M209.0 563.3h1M196.8 576.4h1M206.5 543.4h1M209.1 544.7h1M208.1 562.7h1M210.2 555.1h1M200.3 538.8h1M208.6 562.3h1M192.5 565.0h1M201.7 541.6h1M202.3 577.0h1M206.5 544.4h1M209.1 559.8h1M205.6 539.7h1M197.7 579.7h1M203.0 574.3h1M200.3 546.1h1M197.2 573.7h1M205.2 544.6h1M204.6 537.0h1M211.2 563.9h1M209.9 550.1h1M203.1 545.2h1M195.1 557.8h1M199.3 577.6h1M195.3 558.0h1M208.4 566.6h1M210.7 540.4h1M195.3 578.8h1M199.5 574.7h1M210.0 548.6h1M199.1 543.4h1M196.8 579.3h1M199.8 575.8h1M209.2 564.0h1M203.5 571.7h1M200.8 577.5h1M196.1 575.5h1M197.4 578.7h1M196.3 551.6h1M193.0 553.0h1M198.9 543.3h1M195.3 547.6h1M206.7 545.8h1M211.5 550.6h1M197.2 576.8h1M194.2 557.2h1M200.2 543.4h1M194.4 566.2h1M209.3 560.5h1M202.7 577.3h1M206.6 540.3h1M207.0 540.1h1M194.6 579.8h1M206.6 568.7h1M198.2 579.1h1M203.7 577.6h1M204.5 544.0h1M211.0 543.2h1M194.8 557.9h1M212.3 558.6h1M199.4 576.5h1M209.7 559.0h1M201.6 573.4h1M209.5 563.5h1M195.7 555.5h1M195.1 551.7h1M207.1 569.6h1M208.4 544.0h1M211.9 559.3h1M191.7 569.5h1M204.7 543.2h1M195.7 553.9h1M198.8 579.2h1M204.6 543.8h1M210.0 547.8h1" stroke="#ff0000" stroke-width="1" opacity="0.9"/>
</g>
<rect x="169.6" y="485.5" width="112.2" height="100.5" fill="none" stroke="#858585" stroke-width="1.1"/>
<line x1="216.3" y1="485.5" x2="216.3" y2="586" stroke="#7a7a7a" stroke-width="1"/>
<line x1="169.6" y1="532.2" x2="281.8" y2="532.2" stroke="#7a7a7a" stroke-width="1"/>
<path d="M167.4,586H169.6M169.6,586V588.2M168.3,578.44H169.6M178.04,586V587.3M168.3,574.01H169.6M182.98,586V587.3M168.3,570.87H169.6M186.49,586V587.3M168.3,568.44H169.6M189.21,586V587.3M168.3,566.45H169.6M191.43,586V587.3M168.3,564.77H169.6M193.31,586V587.3M168.3,563.31H169.6M194.93,586V587.3M168.3,562.02H169.6M196.37,586V587.3M167.4,560.88H169.6M197.65,586V588.2M168.3,553.31H169.6M206.09,586V587.3M168.3,548.89H169.6M211.03,586V587.3M168.3,545.75H169.6M214.54,586V587.3M168.3,543.31H169.6M217.26,586V587.3M168.3,541.32H169.6M219.48,586V587.3M168.3,539.64H169.6M221.36,586V587.3M168.3,538.18H169.6M222.98,586V587.3M168.3,536.9H169.6M224.42,586V587.3M167.4,535.75H169.6M225.7,586V588.2M168.3,528.19H169.6M234.14,586V587.3M168.3,523.76H169.6M239.08,586V587.3M168.3,520.62H169.6M242.59,586V587.3M168.3,518.19H169.6M245.31,586V587.3M168.3,516.2H169.6M247.53,586V587.3M168.3,514.52H169.6M249.41,586V587.3M168.3,513.06H169.6M251.03,586V587.3M168.3,511.77H169.6M252.47,586V587.3M167.4,510.62H169.6M253.75,586V588.2M168.3,503.06H169.6M262.19,586V587.3M168.3,498.64H169.6M267.13,586V587.3M168.3,495.5H169.6M270.64,586V587.3M168.3,493.06H169.6M273.36,586V587.3M168.3,491.07H169.6M275.58,586V587.3M168.3,489.39H169.6M277.46,586V587.3M168.3,487.93H169.6M279.08,586V587.3M168.3,486.65H169.6M280.52,586V587.3" stroke="#999" stroke-width="0.5" fill="none"/>
<text x="165.6" y="563.48" font-size="7.3" fill="#505050" text-anchor="end">10<tspan dy="-2.7" font-size="4.8">0</tspan></text>
<text x="165.6" y="538.35" font-size="7.3" fill="#505050" text-anchor="end">10<tspan dy="-2.7" font-size="4.8">1</tspan></text>
<text x="165.6" y="513.23" font-size="7.3" fill="#505050" text-anchor="end">10<tspan dy="-2.7" font-size="4.8">2</tspan></text>
<text x="165.6" y="488.1" font-size="7.3" fill="#505050" text-anchor="end">10<tspan dy="-2.7" font-size="4.8">3</tspan></text>
<text x="198.25" y="594.6" font-size="7.3" fill="#505050" text-anchor="middle">10<tspan dy="-2.7" font-size="4.8">0</tspan></text>
<text x="226.3" y="594.6" font-size="7.3" fill="#505050" text-anchor="middle">10<tspan dy="-2.7" font-size="4.8">1</tspan></text>
<text x="254.35" y="594.6" font-size="7.3" fill="#505050" text-anchor="middle">10<tspan dy="-2.7" font-size="4.8">2</tspan></text>
<text x="282.4" y="594.6" font-size="7.3" fill="#505050" text-anchor="middle">10<tspan dy="-2.7" font-size="4.8">3</tspan></text>
<text x="170.6" y="496.1" font-size="8.2" fill="#222">B1</text>
<text x="183.4" y="506.9" font-size="8.2" fill="#222" text-anchor="middle">0.0%</text>
<text x="217.3" y="496.1" font-size="8.2" fill="#222">B2</text>
<text x="230.1" y="506.9" font-size="8.2" fill="#222" text-anchor="middle">4.3%</text>
<text x="170.6" y="542.8" font-size="8.2" fill="#222">B3</text>
<text x="183.4" y="553.6" font-size="8.2" fill="#222" text-anchor="middle">93.4%</text>
<text x="217.3" y="542.8" font-size="8.2" fill="#222">B4</text>
<text x="230.1" y="553.6" font-size="8.2" fill="#222" text-anchor="middle">2.3%</text>
<rect x="37" y="599.8" width="110.3" height="100.4" fill="#fff"/>
<clipPath id="cp13"><rect x="37" y="599.8" width="110.3" height="100.4"/></clipPath>
<g clip-path="url(#cp13)">
<path d="M95.5 630.6h0.9M95.2 666.4h0.9M104.3 636.9h0.9M126.2 613.5h0.9M81.8 680.5h0.9M91.0 641.4h0.9M83.7 674.0h0.9M113.8 656.2h0.9M84.4 672.4h0.9M68.2 675.7h0.9M111.3 630.8h0.9M72.8 685.0h0.9M120.0 609.0h0.9M100.1 628.9h0.9M125.5 621.4h0.9M101.7 641.3h0.9M111.2 643.8h0.9M93.2 660.6h0.9M81.4 679.8h0.9M100.9 639.1h0.9M85.1 666.0h0.9M99.5 661.1h0.9M55.6 671.9h0.9M106.8 623.4h0.9M88.6 652.5h0.9M114.7 628.4h0.9M119.7 623.5h0.9M98.8 640.4h0.9M104.2 628.6h0.9M103.4 628.3h0.9M97.4 658.5h0.9M115.7 638.7h0.9M120.7 615.1h0.9M98.0 667.1h0.9M107.1 628.0h0.9M102.8 652.9h0.9M113.5 628.1h0.9M100.8 645.3h0.9M83.4 653.6h0.9M111.8 640.5h0.9M119.9 634.0h0.9M92.1 666.8h0.9M106.3 629.1h0.9M71.7 680.3h0.9M94.9 651.9h0.9M94.1 660.5h0.9M76.9 665.6h0.9M75.2 680.6h0.9M119.0 638.8h0.9M101.4 640.9h0.9M68.4 683.9h0.9M114.3 618.7h0.9M84.2 674.0h0.9M114.2 606.2h0.9M93.1 642.8h0.9M88.0 649.5h0.9M92.8 660.5h0.9M80.6 671.9h0.9M96.2 660.0h0.9M125.8 643.7h0.9M126.1 629.0h0.9M94.8 641.2h0.9M120.3 625.1h0.9M99.6 665.5h0.9M110.7 637.8h0.9M84.9 625.8h0.9M120.8 626.9h0.9M91.2 644.7h0.9M88.5 653.7h0.9M107.8 635.4h0.9M85.4 660.4h0.9M101.9 650.3h0.9M93.1 653.7h0.9M81.4 670.3h0.9M90.8 681.5h0.9M103.8 639.0h0.9M88.6 670.7h0.9M94.7 647.1h0.9M108.8 634.3h0.9M82.2 656.0h0.9M79.9 678.0h0.9M101.8 651.4h0.9M103.5 645.6h0.9M93.2 654.8h0.9M71.6 658.7h0.9M118.4 619.1h0.9M82.4 662.0h0.9M75.4 644.2h0.9M88.7 674.2h0.9M98.2 652.0h0.9M99.0 647.3h0.9M111.3 634.0h0.9M77.1 661.3h0.9M103.3 633.5h0.9M99.5 635.7h0.9M111.6 630.3h0.9M77.4 669.6h0.9M110.0 636.0h0.9M100.6 665.2h0.9M115.9 622.8h0.9M78.0 670.8h0.9M88.8 664.4h0.9M93.7 644.8h0.9M75.2 673.9h0.9M85.7 673.7h0.9M103.9 623.5h0.9M77.7 654.8h0.9M116.7 642.6h0.9M75.4 660.1h0.9M99.1 659.3h0.9M100.0 646.3h0.9M74.0 672.3h0.9M89.3 657.6h0.9M118.9 615.9h0.9M95.6 653.7h0.9M75.5 684.3h0.9M101.0 648.6h0.9M95.3 655.3h0.9M110.4 641.4h0.9M89.3 657.5h0.9M106.6 650.3h0.9M106.3 636.5h0.9M89.8 671.3h0.9M73.3 668.2h0.9M99.1 647.6h0.9M101.4 622.0h0.9M99.2 651.7h0.9M73.1 686.1h0.9M67.1 672.1h0.9M108.4 648.6h0.9M109.5 624.6h0.9M98.7 636.4h0.9M111.6 653.3h0.9M73.3 686.6h0.9M124.1 625.2h0.9M120.4 623.9h0.9M95.1 635.7h0.9M102.5 638.3h0.9M125.6 628.9h0.9M102.9 635.4h0.9M105.7 620.3h0.9M96.1 656.2h0.9M69.4 678.2h0.9M101.1 641.1h0.9M94.7 659.5h0.9M108.7 622.8h0.9M104.2 652.3h0.9M115.8 635.6h0.9M106.3 638.6h0.9M101.4 641.1h0.9M115.7 658.7h0.9M86.9 669.5h0.9M116.0 649.9h0.9M84.1 657.8h0.9M93.5 651.5h0.9M93.7 661.8h0.9M91.6 665.9h0.9M98.8 660.7h0.9M87.3 674.5h0.9M106.9 666.8h0.9M95.0 683.7h0.9M111.3 677.4h0.9M104.6 669.2h0.9M109.7 656.4h0.9M92.8 674.9h0.9M95.2 646.7h0.9M100.8 678.5h0.9M99.3 667.1h0.9M117.8 651.4h0.9M90.1 646.3h0.9M96.7 650.5h0.9M105.1 658.3h0.9M86.5 673.4h0.9M112.2 680.3h0.9M96.7 666.4h0.9M107.6 679.1h0.9M119.4 658.4h0.9M91.3 656.2h0.9M93.1 675.2h0.9M107.0 650.2h0.9M107.2 670.9h0.9M102.0 673.7h0.9M85.7 672.0h0.9M85.2 678.3h0.9M103.6 677.8h0.9M88.6 653.2h0.9M115.2 649.0h0.9M95.4 675.5h0.9M116.0 650.9h0.9M85.5 669.6h0.9M91.5 656.9h0.9M85.1 659.1h0.9M114.4 667.6h0.9M84.1 648.4h0.9M117.4 669.8h0.9M89.8 669.2h0.9M113.7 677.2h0.9M108.0 651.0h0.9M115.8 671.3h0.9M114.8 663.7h0.9M132.8 680.4h0.9M73.5 615.2h0.9M105.5 620.5h0.9M75.0 622.6h0.9M80.2 635.2h0.9M114.3 660.8h0.9M55.8 665.4h0.9M120.1 645.2h0.9M40.8 679.5h0.9M116.6 606.2h0.9M67.5 676.1h0.9M106.9 614.3h0.9M74.6 604.2h0.9M135.4 678.4h0.9M64.4 641.8h0.9M119.1 653.1h0.9M48.0 678.3h0.9M115.9 601.8h0.9M131.6 647.6h0.9M101.4 668.0h0.9M137.8 607.5h0.9M125.1 619.1h0.9M138.7 606.3h0.9M103.9 619.6h0.9M92.8 625.1h0.9M138.8 609.2h0.9M137.1 611.1h0.9M124.9 619.2h0.9M112.1 613.2h0.9M93.5 625.5h0.9M138.5 613.4h0.9M131.1 607.1h0.9M100.2 620.6h0.9M95.2 623.1h0.9M132.7 616.3h0.9M139.1 609.7h0.9M109.5 612.1h0.9M104.6 619.7h0.9M109.6 619.0h0.9M99.0 622.1h0.9M108.4 619.8h0.9M114.8 619.7h0.9M107.2 624.7h0.9M115.7 614.2h0.9M117.7 622.6h0.9M100.8 622.2h0.9M106.8 618.0h0.9M110.6 615.6h0.9M143.1 611.1h0.9M123.3 620.2h0.9M144.1 612.5h0.9M109.7 623.3h0.9M145.4 607.4h0.9M126.8 611.3h0.9M116.6 622.3h0.9M133.1 617.2h0.9M115.0 621.8h0.9M146.4 611.4h0.9M124.4 619.0h0.9M132.4 615.6h0.9M146.0 615.1h0.9M131.7 606.4h0.9M136.9 613.0h0.9M134.9 616.7h0.9M114.6 613.9h0.9M117.9 620.1h0.9M119.1 612.6h0.9M121.0 612.9h0.9M94.4 622.4h0.9M132.8 614.5h0.9M121.1 612.4h0.9M113.0 617.2h0.9M106.6 620.5h0.9M139.1 610.8h0.9M105.5 622.1h0.9M115.7 623.0h0.9M123.0 612.1h0.9M137.3 608.7h0.9M98.1 618.0h0.9M116.0 613.2h0.9M123.4 611.1h0.9M103.2 626.1h0.9M113.1 619.3h0.9M102.5 625.6h0.9M140.1 606.2h0.9M114.5 610.4h0.9M141.7 607.7h0.9M135.7 612.3h0.9M101.9 621.6h0.9M144.0 612.2h0.9M120.0 608.2h0.9M93.9 626.8h0.9M131.3 618.0h0.9M126.7 618.4h0.9M126.1 623.0h0.9M143.6 607.3h0.9M136.7 612.8h0.9M132.5 615.8h0.9M108.5 621.3h0.9M98.7 625.0h0.9M106.9 622.5h0.9M109.8 619.8h0.9M112.5 616.7h0.9M141.5 613.1h0.9M119.0 613.5h0.9M111.5 618.8h0.9M112.9 623.5h0.9M114.0 614.1h0.9M136.2 604.7h0.9M134.9 619.5h0.9M127.7 621.9h0.9M97.0 618.4h0.9M111.4 625.2h0.9M112.3 623.9h0.9M120.9 608.7h0.9M110.6 615.7h0.9M112.5 617.1h0.9M117.2 613.0h0.9M112.8 614.5h0.9M129.7 607.0h0.9M144.9 603.5h0.9M146.1 608.3h0.9M135.5 611.1h0.9M123.8 611.2h0.9M112.4 617.4h0.9M105.3 614.7h0.9M121.9 609.2h0.9M139.1 606.9h0.9M129.3 618.5h0.9M129.5 609.7h0.9M101.2 625.7h0.9M135.4 612.6h0.9M109.6 625.6h0.9M140.3 613.6h0.9M117.7 614.2h0.9M137.4 605.1h0.9M142.6 610.1h0.9M102.5 624.8h0.9M140.0 610.8h0.9M143.2 610.7h0.9M119.4 619.1h0.9M119.6 621.4h0.9M128.3 616.9h0.9M125.6 609.1h0.9M129.9 609.8h0.9M144.3 609.1h0.9M109.0 618.1h0.9M115.5 619.5h0.9M135.4 610.5h0.9M110.6 620.2h0.9M112.9 616.0h0.9M142.8 611.0h0.9M125.8 620.5h0.9M118.5 624.3h0.9M106.1 618.2h0.9M103.4 622.1h0.9M104.4 619.6h0.9M135.6 617.8h0.9M114.3 620.5h0.9M105.3 617.0h0.9M109.4 624.3h0.9M128.5 616.5h0.9M131.7 619.2h0.9M142.1 613.5h0.9M103.8 619.0h0.9M117.0 621.1h0.9M130.4 609.1h0.9M141.8 611.3h0.9M136.2 612.6h0.9M63.2 672.9h0.9M79.2 687.9h0.9M66.3 669.6h0.9M80.5 658.0h0.9M60.6 667.9h0.9M59.7 692.8h0.9M65.6 664.2h0.9M58.6 692.7h0.9M64.7 671.6h0.9M87.8 671.0h0.9M84.0 652.9h0.9M76.5 660.7h0.9M78.6 657.0h0.9M89.5 677.3h0.9M83.7 677.0h0.9M84.1 667.6h0.9M62.5 695.5h0.9M82.6 663.5h0.9M76.7 653.6h0.9M85.3 686.7h0.9M85.0 688.0h0.9M79.1 698.4h0.9M60.3 676.1h0.9M71.3 664.0h0.9M72.0 662.4h0.9M78.7 698.5h0.9M81.0 662.1h0.9M58.3 683.7h0.9M69.5 698.8h0.9M83.6 653.9h0.9M63.6 692.1h0.9M87.5 678.9h0.9M81.9 662.4h0.9M87.5 673.9h0.9M84.0 681.2h0.9M65.1 695.9h0.9M79.1 662.3h0.9M64.7 695.2h0.9M62.1 687.4h0.9M88.9 672.8h0.9M83.9 673.7h0.9M75.5 693.1h0.9M66.7 665.3h0.9M63.5 697.3h0.9M79.7 663.8h0.9M79.7 686.7h0.9M79.9 692.8h0.9M63.8 677.8h0.9M64.6 694.2h0.9M61.1 670.7h0.9M86.0 653.6h0.9M61.6 676.3h0.9M85.1 687.5h0.9M82.7 658.7h0.9M79.0 662.3h0.9M84.0 658.5h0.9M61.7 670.0h0.9M59.7 698.0h0.9M81.6 682.6h0.9M70.1 664.7h0.9M70.0 657.1h0.9M62.2 683.0h0.9M84.4 680.9h0.9M59.4 682.0h0.9M78.5 694.7h0.9M83.9 674.8h0.9M86.7 681.8h0.9M83.9 674.0h0.9M60.1 675.3h0.9M80.1 662.9h0.9M82.3 681.1h0.9M75.2 651.7h0.9M87.8 658.5h0.9M58.2 685.6h0.9M87.3 670.6h0.9M70.1 664.5h0.9M70.8 652.9h0.9M83.9 659.1h0.9M61.7 694.9h0.9M62.2 674.4h0.9M82.1 656.7h0.9M63.5 693.1h0.9M71.0 663.0h0.9M79.5 660.3h0.9M61.4 698.9h0.9M76.6 657.1h0.9M80.4 660.4h0.9M87.0 676.0h0.9M74.5 662.8h0.9M61.4 671.8h0.9M58.0 690.7h0.9M85.4 663.9h0.9M60.4 679.0h0.9M76.9 652.9h0.9M64.3 698.5h0.9M62.2 667.7h0.9M66.5 655.7h0.9M62.5 675.3h0.9M71.9 651.5h0.9M71.9 658.4h0.9M66.3 669.6h0.9M81.2 689.2h0.9M62.1 666.1h0.9M78.2 659.0h0.9M82.9 664.1h0.9M85.0 662.8h0.9M86.9 672.2h0.9M82.5 654.7h0.9M61.8 665.6h0.9M62.0 685.2h0.9M60.6 686.7h0.9M72.4 697.4h0.9M74.5 696.7h0.9M74.1 695.8h0.9M87.1 673.2h0.9M74.3 653.6h0.9M71.9 699.3h0.9M58.3 684.5h0.9M68.5 657.2h0.9M64.0 671.7h0.9M63.8 673.5h0.9M79.0 656.6h0.9M63.7 689.5h0.9M64.0 677.0h0.9M80.5 686.8h0.9M83.6 672.5h0.9M71.8 698.6h0.9M72.6 657.4h0.9M86.1 671.4h0.9M58.5 695.7h0.9M63.0 686.8h0.9M71.5 698.3h0.9M63.5 672.1h0.9M79.7 689.6h0.9M82.1 689.8h0.9M69.8 656.9h0.9M88.0 669.6h0.9M76.9 691.5h0.9M82.1 661.7h0.9M83.6 674.7h0.9M83.2 669.3h0.9M79.2 661.7h0.9M71.7 663.7h0.9M66.8 698.8h0.9M59.9 690.5h0.9M63.5 681.9h0.9M82.1 681.3h0.9M65.3 666.5h0.9M62.8 664.1h0.9M63.5 680.8h0.9M72.8 661.8h0.9M63.2 683.5h0.9M65.7 699.3h0.9M87.1 674.5h0.9M72.4 696.7h0.9M78.8 689.4h0.9M79.6 654.7h0.9M64.7 669.6h0.9M85.9 661.7h0.9M60.8 683.0h0.9M85.6 670.6h0.9M87.5 658.4h0.9M81.4 686.9h0.9M79.7 661.2h0.9M74.8 699.2h0.9M84.6 669.6h0.9M77.6 652.3h0.9M59.8 675.2h0.9M62.0 677.5h0.9M65.1 667.7h0.9M82.1 658.3h0.9M66.6 659.4h0.9M62.0 696.6h0.9M79.2 653.8h0.9M70.6 663.6h0.9M63.5 680.4h0.9M77.3 691.1h0.9M62.4 688.0h0.9M62.2 698.5h0.9M68.7 699.2h0.9M75.6 655.6h0.9M74.1 654.3h0.9M62.9 686.3h0.9M85.8 669.7h0.9M82.4 666.9h0.9M80.3 685.8h0.9M87.7 672.4h0.9M71.9 654.6h0.9M84.4 680.1h0.9M76.5 698.7h0.9M85.2 660.2h0.9M60.9 672.0h0.9M69.6 654.2h0.9M81.8 689.3h0.9M58.4 690.7h0.9M85.9 668.3h0.9M64.5 658.5h0.9M83.1 669.3h0.9M65.8 667.5h0.9M62.7 683.9h0.9M85.7 680.7h0.9M61.3 697.7h0.9M87.6 666.7h0.9M81.3 683.5h0.9M62.9 684.8h0.9M68.7 658.7h0.9M63.3 677.9h0.9M86.6 681.3h0.9M83.8 675.4h0.9M77.7 689.9h0.9M66.2 658.5h0.9M58.4 699.2h0.9M78.1 661.7h0.9M78.4 659.9h0.9M73.3 695.7h0.9M76.4 692.6h0.9M70.7 662.3h0.9M79.9 692.0h0.9M60.5 671.8h0.9M82.6 693.8h0.9M66.6 698.2h0.9M70.1 699.0h0.9M82.0 656.8h0.9M58.9 692.2h0.9M75.6 662.8h0.9M64.7 697.7h0.9M63.2 690.1h0.9M87.3 681.0h0.9M59.8 669.5h0.9M61.2 698.4h0.9M63.4 677.4h0.9M63.2 697.1h0.9M82.0 687.1h0.9M78.7 693.2h0.9M80.5 686.7h0.9M75.9 693.3h0.9M61.3 666.6h0.9M81.8 683.7h0.9M77.4 660.5h0.9M83.0 685.6h0.9M60.0 668.0h0.9M86.7 669.4h0.9M81.6 686.9h0.9M65.8 666.3h0.9M72.2 662.2h0.9M70.7 662.4h0.9M86.4 676.5h0.9M64.4 699.4h0.9M79.6 690.6h0.9M77.4 691.7h0.9M58.4 685.3h0.9M63.6 689.1h0.9M73.9 662.6h0.9M59.1 686.0h0.9M67.5 665.7h0.9M65.1 696.2h0.9M80.5 686.4h0.9M83.1 688.1h0.9M87.9 669.7h0.9M61.4 687.2h0.9M70.8 662.6h0.9M60.9 666.6h0.9M75.6 661.7h0.9" stroke="#ff2828" stroke-width="0.9" opacity="0.4"/>
<ellipse cx="124" cy="615" rx="9.45" ry="1.92" transform="rotate(-17 124 615)" fill="#ff3030" opacity="0.3"/>
<path d="M122.5 614.3h1M122.3 614.8h1M129.0 611.3h1M117.8 614.4h1M122.6 616.0h1M125.7 611.3h1M118.2 619.8h1M118.1 617.7h1M117.9 616.9h1M112.7 621.0h1M129.8 613.6h1M116.3 615.1h1M123.8 617.3h1M117.5 619.8h1M123.0 614.6h1M115.5 620.4h1M114.6 614.3h1M123.1 614.3h1M133.6 615.8h1M127.8 614.4h1M117.3 616.8h1M127.3 616.7h1M124.9 612.0h1M132.6 612.3h1M136.3 612.0h1M120.7 615.4h1M121.4 615.8h1M117.9 617.7h1M126.4 613.6h1M125.7 615.1h1M128.0 612.6h1M113.6 615.1h1M124.2 614.1h1M122.4 616.2h1M126.9 614.2h1M114.7 620.2h1M125.5 615.2h1M120.3 616.0h1M120.4 616.5h1M117.0 618.7h1M134.0 610.5h1M127.6 615.0h1M121.7 616.9h1M107.6 618.2h1M119.0 613.0h1M139.4 611.9h1M127.1 616.2h1M111.5 620.5h1M125.1 613.2h1M136.9 611.3h1M112.4 616.1h1M116.4 620.6h1M117.2 613.3h1M120.4 617.6h1M116.9 615.6h1M120.5 615.1h1M127.3 614.2h1M125.7 613.8h1M130.1 609.7h1M128.1 613.9h1M110.5 619.2h1M120.4 615.9h1M127.7 614.6h1M112.9 621.3h1M116.1 619.0h1M128.5 613.0h1M125.2 615.3h1M114.6 615.7h1M117.5 617.1h1M131.0 613.5h1M124.0 613.6h1M126.7 613.9h1M112.7 618.1h1M135.6 613.0h1M119.0 617.2h1M109.8 619.4h1M117.4 615.3h1M128.8 613.0h1M118.0 616.4h1M110.1 619.7h1M134.8 615.1h1M124.4 614.0h1M123.4 616.7h1M127.9 614.7h1M121.0 614.7h1M117.7 618.5h1M127.2 611.9h1M131.0 613.6h1M127.0 614.4h1M123.7 615.9h1M124.1 616.2h1M131.6 615.9h1M122.0 614.8h1M124.3 614.1h1M136.0 612.7h1M124.1 615.7h1M124.9 617.0h1M125.3 611.4h1M136.0 609.9h1M128.5 612.8h1M121.8 615.1h1M120.8 617.4h1M135.4 608.7h1M117.7 615.6h1M120.5 613.2h1M115.2 621.0h1M111.6 617.4h1M116.9 619.1h1M114.6 618.6h1M124.6 614.2h1M127.6 614.4h1M123.1 613.7h1M128.3 613.5h1M127.5 615.3h1M109.9 618.6h1M128.4 613.6h1M132.0 614.5h1M112.2 615.6h1M135.2 614.5h1M121.3 613.8h1M127.8 611.3h1M127.4 612.2h1M129.0 615.4h1M130.5 615.8h1M130.4 610.2h1M123.9 618.7h1M125.5 616.5h1M110.6 616.9h1M119.3 615.0h1M126.6 614.2h1M135.5 609.2h1M116.7 614.8h1M118.6 618.3h1M125.9 613.9h1M112.7 620.6h1M116.8 615.1h1M130.1 613.9h1M123.0 616.2h1M120.5 615.7h1M127.3 612.6h1M120.6 615.2h1M132.8 616.0h1M116.5 619.3h1M115.8 619.5h1M132.9 611.7h1M118.8 616.7h1M133.7 612.6h1M124.0 615.8h1M139.0 608.7h1M129.0 616.4h1M125.6 613.3h1M122.9 614.7h1M128.3 615.7h1M121.2 616.2h1M113.5 618.8h1M124.4 615.8h1M135.6 612.1h1M125.3 616.6h1M120.9 617.6h1M138.2 610.1h1M120.4 614.5h1M111.7 621.5h1M135.3 611.8h1M128.1 612.4h1M125.6 615.2h1M129.1 612.1h1M109.6 619.7h1M123.5 614.4h1M133.3 615.6h1M122.9 612.8h1M127.1 610.6h1M127.7 614.2h1M127.0 613.1h1M122.2 614.7h1M124.8 616.0h1M135.3 610.1h1M115.4 618.5h1M125.1 615.5h1M117.3 617.8h1M129.3 613.3h1M126.7 611.6h1M126.7 615.6h1M123.4 617.6h1M132.4 612.7h1M129.8 611.4h1M120.4 618.6h1M118.8 618.6h1M130.2 612.4h1M126.7 612.9h1M128.2 613.1h1M127.6 613.8h1M126.5 616.7h1M121.6 616.2h1M122.9 616.3h1M127.5 614.1h1M131.6 611.9h1M122.5 614.9h1M119.0 618.3h1M109.6 617.4h1M114.4 614.4h1M120.8 615.1h1M139.2 612.1h1M129.0 614.0h1M116.5 618.2h1M125.2 612.7h1M129.5 612.2h1M108.2 620.7h1M127.5 612.7h1M112.0 618.7h1M123.0 617.8h1M128.6 616.6h1M128.7 612.7h1M131.8 612.8h1M137.7 608.7h1M114.6 614.9h1M120.4 615.7h1M119.3 615.3h1M140.0 609.7h1M137.6 610.7h1M123.8 613.2h1M107.9 620.8h1M127.2 612.9h1M124.4 617.1h1M125.9 618.1h1M129.2 613.0h1M129.1 611.2h1M121.3 615.8h1M119.7 616.5h1M129.2 613.9h1M139.8 610.2h1M131.6 613.4h1M126.1 613.9h1M122.3 617.7h1M129.9 615.6h1M127.4 614.8h1M136.3 608.4h1M123.1 618.8h1M122.7 616.3h1M137.0 613.2h1M117.3 618.3h1" stroke="#ff0000" stroke-width="1" opacity="0.55"/>
<polygon points="79.8,682.96 78.92,684.87 77.94,686.72 76.9,688.48 75.82,690.12 74.73,691.62 73.66,692.96 72.62,694.1 71.64,695.03 70.72,695.74 69.86,696.2 69.09,696.42 68.38,696.37 67.75,696.06 67.18,695.48 66.68,694.66 66.23,693.58 65.85,692.28 65.52,690.78 65.26,689.09 65.07,687.24 64.95,685.28 64.93,683.23 65.01,681.14 65.2,679.04 65.51,676.98 65.96,674.99 66.55,673.1 67.29,671.37 68.16,669.81 69.15,668.46 70.26,667.33 71.47,666.46 72.74,665.85 74.04,665.5 75.35,665.43 76.62,665.63 77.82,666.09 78.92,666.81 79.87,667.76 80.67,668.92 81.27,670.28 81.67,671.81 81.86,673.48 81.83,675.26 81.6,677.13 81.17,679.06 80.56,681.01" fill="#ff0000"/>
<path d="M83.3 680.8h1M84.7 677.6h1M67.3 698.3h1M81.7 678.1h1M80.8 681.2h1M82.5 662.5h1M69.4 664.3h1M84.7 676.4h1M77.4 661.1h1M79.5 668.6h1M72.3 666.2h1M68.7 697.0h1M79.5 681.7h1M68.0 672.0h1M83.2 673.4h1M81.4 683.3h1M71.5 699.1h1M77.3 686.8h1M65.4 680.8h1M66.1 669.4h1M65.0 683.0h1M76.1 689.2h1M74.4 667.0h1M75.5 690.5h1M73.5 691.7h1M64.7 672.0h1M74.9 695.6h1M75.5 689.2h1M81.7 672.9h1M77.4 665.9h1M74.6 693.0h1M76.2 664.0h1M65.7 697.9h1M83.6 671.9h1M82.6 673.5h1M64.6 671.9h1M73.8 694.5h1M65.1 682.4h1M78.2 666.6h1M82.6 670.8h1M80.7 680.1h1M73.0 694.5h1M70.3 694.8h1M78.5 667.0h1M63.0 695.0h1M75.9 690.5h1M83.1 674.5h1M68.2 695.1h1M63.8 675.0h1M81.6 674.6h1M75.9 667.3h1M69.0 670.4h1M68.5 665.4h1M78.1 690.2h1M65.1 697.7h1M66.0 677.0h1M75.1 689.7h1M75.8 665.4h1M66.0 676.2h1M75.8 690.0h1M81.5 676.1h1M69.0 695.9h1M63.4 697.1h1M72.0 693.2h1M67.7 696.8h1M63.9 696.0h1M79.5 681.9h1M79.4 669.0h1M71.4 666.4h1M69.7 697.8h1M63.8 672.9h1M77.4 691.7h1M82.9 667.8h1M67.5 673.2h1M67.8 699.0h1M63.8 683.3h1M64.0 687.2h1M72.0 665.1h1M68.3 664.2h1M82.8 667.5h1M67.5 672.6h1M64.5 678.1h1M66.1 671.9h1M66.7 690.9h1M64.1 670.3h1M69.1 670.4h1M72.2 693.8h1M76.7 687.7h1M69.9 696.0h1M71.2 697.0h1M84.0 678.4h1M75.0 690.1h1M66.3 694.8h1M83.3 682.2h1M65.4 683.8h1M64.6 682.8h1M65.3 672.1h1M80.4 671.5h1M63.4 685.8h1M62.9 680.3h1M64.8 694.7h1M84.2 676.1h1M64.0 693.2h1M66.1 671.9h1M84.9 670.3h1M76.5 666.3h1M64.1 673.0h1M78.0 685.5h1M66.1 678.1h1M76.9 688.6h1M76.2 664.1h1M66.4 672.0h1M73.6 667.1h1M73.8 696.6h1M71.5 694.7h1M66.4 675.0h1M78.2 691.9h1M71.9 698.3h1M81.4 667.2h1M81.0 674.3h1M83.1 675.5h1M72.0 693.4h1M81.1 677.2h1M75.0 693.2h1M70.5 668.8h1M83.0 676.6h1M71.1 694.0h1M64.4 684.6h1M67.3 665.7h1M81.7 669.6h1M70.9 665.5h1M69.0 695.8h1M83.6 672.0h1M80.3 668.9h1M63.4 683.7h1M80.6 672.8h1M65.7 690.4h1M81.3 673.3h1M66.4 666.0h1M81.3 666.8h1M78.1 688.3h1M71.2 697.4h1M65.7 685.9h1M82.9 665.7h1M64.9 682.1h1M68.1 663.8h1M71.2 694.7h1M68.8 694.4h1M76.5 691.8h1M65.2 671.4h1M62.8 676.0h1M65.6 690.3h1M72.6 665.3h1M74.7 693.2h1M67.1 674.1h1M68.4 694.5h1M62.4 690.7h1M71.1 667.8h1M69.9 667.8h1M71.5 697.4h1M64.2 685.6h1M77.2 686.4h1M80.7 673.2h1M70.2 694.7h1M67.6 697.7h1M66.9 692.8h1M70.0 698.7h1M70.1 699.0h1M65.8 693.0h1M76.4 688.9h1M65.8 685.8h1M64.9 679.5h1M76.7 663.4h1M63.0 676.5h1M66.9 698.0h1M76.9 664.6h1M75.7 663.9h1M65.5 673.8h1M79.5 681.7h1M81.0 668.1h1M72.3 694.4h1M82.0 673.0h1M66.7 694.0h1M82.9 683.0h1M68.2 671.7h1M69.6 697.4h1M78.6 683.8h1M81.3 667.9h1M75.4 662.2h1M65.8 689.8h1M80.9 668.2h1M77.0 663.2h1M70.1 666.8h1M79.3 682.5h1M63.6 686.6h1M72.9 694.5h1M63.8 681.9h1M78.2 667.5h1M80.9 673.3h1M82.5 676.7h1M66.8 691.4h1M71.9 668.1h1M72.9 666.2h1M71.0 665.6h1M77.0 666.4h1M68.6 694.9h1M81.8 675.5h1M83.1 665.3h1M70.8 664.9h1M71.4 667.8h1M64.9 679.8h1M79.6 689.5h1M65.8 687.2h1M65.7 693.1h1M69.7 695.7h1M65.5 682.1h1M80.1 679.9h1M66.3 690.4h1M82.5 683.4h1M66.6 691.5h1M70.7 695.1h1M67.8 672.2h1M68.3 670.2h1M73.2 660.3h1M71.0 694.1h1M64.7 682.3h1M79.0 682.9h1M79.6 687.6h1M74.6 690.3h1M80.6 678.1h1M80.5 671.6h1M83.3 666.3h1M74.2 661.9h1M84.2 673.3h1M70.6 698.3h1M80.9 665.1h1M68.3 694.1h1M78.1 692.1h1M80.5 684.6h1M85.0 666.3h1M63.3 686.6h1M81.6 682.5h1M76.9 689.1h1M65.6 690.9h1M78.4 685.9h1M68.7 697.9h1M78.6 667.5h1M73.1 666.7h1M81.5 672.4h1M65.1 696.8h1M79.9 670.3h1M81.7 665.8h1M63.7 679.1h1M66.0 687.3h1M69.1 670.1h1M80.8 671.5h1M71.2 668.3h1M85.2 668.5h1M74.7 667.2h1M73.1 692.5h1M80.3 680.4h1M70.5 694.9h1M65.7 683.0h1M62.8 693.1h1M67.5 672.7h1M67.7 697.7h1M84.6 671.8h1M72.9 696.4h1M66.2 695.7h1M65.8 687.2h1M77.3 665.4h1M65.5 680.8h1M68.9 666.4h1M72.8 667.6h1M69.8 669.7h1M64.1 682.6h1M66.8 673.1h1M84.4 679.0h1M81.4 677.8h1M71.7 693.7h1M66.6 692.8h1M62.9 680.1h1M78.8 661.5h1M85.7 672.0h1M81.8 673.4h1M78.7 686.8h1M66.2 673.2h1M65.6 680.2h1M67.4 698.9h1M68.7 670.2h1M64.0 691.2h1M79.6 670.1h1M68.4 695.3h1M70.1 664.4h1M76.1 693.8h1M80.6 672.3h1M76.1 666.6h1M65.7 682.8h1M64.9 674.7h1M69.7 695.9h1M77.6 690.2h1M62.4 677.4h1M66.3 666.2h1M82.2 671.5h1M66.0 697.1h1M77.8 668.4h1M64.6 682.4h1M72.2 696.4h1M65.2 681.1h1M75.6 665.2h1M65.3 693.1h1M68.9 668.1h1M80.1 679.7h1M67.2 673.3h1M70.6 668.5h1M83.2 663.3h1M71.9 663.4h1M66.0 694.9h1M79.7 668.3h1M70.2 662.5h1M78.5 666.1h1M62.3 682.3h1M65.4 682.3h1M74.0 692.9h1M63.1 692.8h1M64.0 687.9h1M78.6 664.3h1M68.1 668.3h1M65.8 669.3h1M74.5 692.8h1M64.6 689.9h1M63.1 680.9h1M65.7 683.6h1M78.4 692.0h1M77.6 667.6h1M66.3 676.7h1M66.7 695.7h1M74.2 666.7h1M65.5 686.2h1M68.6 694.8h1M82.0 667.0h1M82.0 679.9h1M63.9 677.0h1M78.2 684.7h1M63.6 678.1h1M79.3 689.6h1M68.1 669.3h1M65.2 679.8h1M72.3 694.8h1M68.1 698.1h1M65.7 678.2h1M62.2 685.0h1M83.8 669.9h1M83.6 677.0h1M65.5 681.2h1M72.1 663.5h1M77.3 664.5h1M63.3 678.3h1M77.1 686.7h1M82.6 677.0h1M78.7 669.1h1M84.1 667.5h1M70.4 667.4h1M65.4 687.5h1M85.4 672.6h1M77.1 689.7h1M64.4 686.4h1M85.3 672.6h1M76.2 693.1h1M84.2 674.5h1M82.0 673.2h1M74.6 696.0h1M74.3 660.7h1M81.4 675.1h1M84.5 676.7h1M69.1 699.2h1M82.1 678.0h1M67.4 694.4h1M63.6 686.0h1M67.0 692.2h1M84.9 672.5h1M67.6 672.6h1M82.8 682.4h1M66.4 674.6h1M66.2 690.8h1M82.7 670.4h1M64.0 682.7h1M75.9 664.4h1M63.1 689.9h1M80.1 668.5h1M71.0 668.6h1M67.0 696.5h1M67.6 695.1h1M83.4 675.5h1M82.1 673.4h1M69.7 666.0h1M76.3 666.9h1M64.5 688.1h1M73.9 692.1h1M65.2 683.0h1M65.8 695.0h1M83.7 674.4h1M80.6 668.5h1M77.5 667.6h1M81.5 674.3h1M74.9 695.5h1M76.6 687.4h1M77.0 692.9h1M78.3 685.2h1M81.9 676.7h1M79.4 666.6h1M63.5 695.0h1M72.2 698.8h1M84.0 676.6h1M75.7 695.7h1M62.9 695.5h1M82.2 663.0h1M67.8 672.0h1M72.5 697.3h1M63.3 688.7h1M69.4 670.1h1M69.0 670.3h1M82.0 673.1h1M75.5 692.8h1M70.4 694.3h1M75.6 664.0h1M65.3 695.5h1M73.4 691.7h1M66.8 672.6h1M66.0 687.9h1M72.5 692.6h1M82.1 670.2h1M78.8 689.2h1M78.3 667.6h1M83.1 679.3h1M68.9 699.1h1M78.8 667.4h1M68.2 696.9h1M66.3 695.5h1M80.5 672.2h1M73.8 695.9h1M81.4 671.0h1M64.6 671.1h1M65.2 697.6h1M70.5 666.2h1M74.1 661.5h1M68.9 694.8h1M64.9 679.4h1M63.7 694.4h1M64.2 685.4h1M74.8 691.2h1M66.3 674.4h1M67.1 693.3h1M69.4 661.8h1M66.3 697.5h1M83.7 669.5h1M80.6 667.1h1M68.4 671.1h1M62.9 680.4h1M76.2 666.4h1M79.6 667.9h1M79.3 669.9h1M66.3 691.1h1M65.7 678.3h1M65.6 678.4h1M65.5 684.1h1M65.4 678.6h1M62.1 678.5h1M66.0 668.6h1M80.5 672.5h1M83.6 675.6h1M65.3 669.8h1M65.6 683.3h1M79.0 684.4h1M65.0 690.2h1M80.0 669.2h1M78.7 665.7h1M63.8 690.7h1M82.0 672.2h1M68.6 696.1h1M76.7 661.7h1M70.3 662.2h1M80.2 663.8h1M68.8 696.7h1M77.0 690.7h1M75.4 695.7h1M82.4 663.1h1M64.1 676.4h1M65.5 686.0h1M83.7 665.8h1M80.8 676.8h1M64.0 681.2h1M71.1 695.5h1M78.7 690.5h1M65.5 684.6h1M78.4 659.9h1M82.3 673.4h1M62.1 687.6h1M68.9 697.3h1M67.3 695.4h1M65.7 681.0h1M80.7 682.1h1M63.8 687.4h1M80.8 662.4h1M65.1 676.3h1" stroke="#ff0000" stroke-width="1" opacity="0.9"/>
</g>
<rect x="37" y="599.8" width="110.3" height="100.4" fill="none" stroke="#858585" stroke-width="1.1"/>
<line x1="83" y1="599.8" x2="83" y2="700.2" stroke="#7a7a7a" stroke-width="1"/>
<line x1="37" y1="645.6" x2="147.3" y2="645.6" stroke="#7a7a7a" stroke-width="1"/>
<path d="M34.8,700.2H37M37,700.2V702.4M35.7,692.64H37M45.3,700.2V701.5M35.7,688.22H37M50.16,700.2V701.5M35.7,685.09H37M53.6,700.2V701.5M35.7,682.66H37M56.27,700.2V701.5M35.7,680.67H37M58.46,700.2V701.5M35.7,678.99H37M60.3,700.2V701.5M35.7,677.53H37M61.9,700.2V701.5M35.7,676.25H37M63.31,700.2V701.5M34.8,675.1H37M64.58,700.2V702.4M35.7,667.54H37M72.88,700.2V701.5M35.7,663.12H37M77.73,700.2V701.5M35.7,659.99H37M81.18,700.2V701.5M35.7,657.56H37M83.85,700.2V701.5M35.7,655.57H37M86.03,700.2V701.5M35.7,653.89H37M87.88,700.2V701.5M35.7,652.43H37M89.48,700.2V701.5M35.7,651.15H37M90.89,700.2V701.5M34.8,650H37M92.15,700.2V702.4M35.7,642.44H37M100.45,700.2V701.5M35.7,638.02H37M105.31,700.2V701.5M35.7,634.89H37M108.75,700.2V701.5M35.7,632.46H37M111.42,700.2V701.5M35.7,630.47H37M113.61,700.2V701.5M35.7,628.79H37M115.45,700.2V701.5M35.7,627.33H37M117.05,700.2V701.5M35.7,626.05H37M118.46,700.2V701.5M34.8,624.9H37M119.73,700.2V702.4M35.7,617.34H37M128.03,700.2V701.5M35.7,612.92H37M132.88,700.2V701.5M35.7,609.79H37M136.33,700.2V701.5M35.7,607.36H37M139,700.2V701.5M35.7,605.37H37M141.18,700.2V701.5M35.7,603.69H37M143.03,700.2V701.5M35.7,602.23H37M144.63,700.2V701.5M35.7,600.95H37M146.04,700.2V701.5" stroke="#999" stroke-width="0.5" fill="none"/>
<text x="33" y="677.7" font-size="7.3" fill="#505050" text-anchor="end">10<tspan dy="-2.7" font-size="4.8">0</tspan></text>
<text x="33" y="652.6" font-size="7.3" fill="#505050" text-anchor="end">10<tspan dy="-2.7" font-size="4.8">1</tspan></text>
<text x="33" y="627.5" font-size="7.3" fill="#505050" text-anchor="end">10<tspan dy="-2.7" font-size="4.8">2</tspan></text>
<text x="33" y="602.4" font-size="7.3" fill="#505050" text-anchor="end">10<tspan dy="-2.7" font-size="4.8">3</tspan></text>
<text x="65.17" y="708.8" font-size="7.3" fill="#505050" text-anchor="middle">10<tspan dy="-2.7" font-size="4.8">0</tspan></text>
<text x="92.75" y="708.8" font-size="7.3" fill="#505050" text-anchor="middle">10<tspan dy="-2.7" font-size="4.8">1</tspan></text>
<text x="120.33" y="708.8" font-size="7.3" fill="#505050" text-anchor="middle">10<tspan dy="-2.7" font-size="4.8">2</tspan></text>
<text x="147.9" y="708.8" font-size="7.3" fill="#505050" text-anchor="middle">10<tspan dy="-2.7" font-size="4.8">3</tspan></text>
<text x="38" y="610.4" font-size="8.2" fill="#222">B1</text>
<text x="50.8" y="621.2" font-size="8.2" fill="#222" text-anchor="middle">0.0%</text>
<text x="84" y="610.4" font-size="8.2" fill="#222">B2</text>
<text x="96.8" y="621.2" font-size="8.2" fill="#222" text-anchor="middle">4.8%</text>
<text x="38" y="656.2" font-size="8.2" fill="#222">B3</text>
<text x="50.8" y="667" font-size="8.2" fill="#222" text-anchor="middle">93.2%</text>
<text x="84" y="656.2" font-size="8.2" fill="#222">B4</text>
<text x="96.8" y="667" font-size="8.2" fill="#222" text-anchor="middle">2.0%</text>
<rect x="169.6" y="600.8" width="112.2" height="99.9" fill="#fff"/>
<clipPath id="cp14"><rect x="169.6" y="600.8" width="112.2" height="99.9"/></clipPath>
<g clip-path="url(#cp14)">
<path d="M245.5 615.1h0.9M251.6 633.1h0.9M252.0 637.4h0.9M256.2 635.5h0.9M261.0 636.4h0.9M230.3 647.9h0.9M255.8 629.6h0.9M254.1 625.1h0.9M244.2 640.0h0.9M258.8 619.0h0.9M257.7 613.4h0.9M241.3 637.5h0.9M254.0 622.9h0.9M244.6 641.6h0.9M206.9 668.1h0.9M223.9 669.2h0.9M251.7 626.5h0.9M232.0 657.8h0.9M213.2 674.5h0.9M209.9 666.3h0.9M223.0 654.3h0.9M254.5 622.9h0.9M212.8 660.6h0.9M222.9 663.6h0.9M203.8 666.9h0.9M250.8 628.3h0.9M233.6 649.7h0.9M215.5 648.2h0.9M217.7 643.2h0.9M258.3 629.2h0.9M193.4 670.4h0.9M228.6 651.3h0.9M241.0 636.7h0.9M222.2 659.3h0.9M223.6 670.1h0.9M251.3 633.8h0.9M217.2 657.9h0.9M230.1 647.9h0.9M240.1 641.0h0.9M257.7 625.6h0.9M257.9 633.2h0.9M260.8 627.8h0.9M249.4 636.8h0.9M253.6 623.4h0.9M207.4 661.5h0.9M238.6 641.4h0.9M235.7 630.0h0.9M210.9 676.5h0.9M223.2 654.1h0.9M250.2 631.8h0.9M226.7 643.6h0.9M222.3 653.4h0.9M222.3 658.0h0.9M256.4 607.9h0.9M263.6 622.8h0.9M240.7 638.4h0.9M217.3 661.0h0.9M239.5 659.3h0.9M216.9 653.8h0.9M251.4 624.0h0.9M246.7 620.9h0.9M239.4 648.7h0.9M221.3 645.6h0.9M230.4 655.2h0.9M212.6 675.3h0.9M205.8 666.9h0.9M237.9 659.8h0.9M265.9 629.1h0.9M231.6 632.0h0.9M237.5 640.0h0.9M250.6 633.4h0.9M229.5 649.8h0.9M241.1 656.9h0.9M246.1 623.4h0.9M232.1 648.3h0.9M248.0 633.8h0.9M207.6 669.5h0.9M251.1 631.6h0.9M250.1 639.3h0.9M208.1 670.7h0.9M240.2 628.5h0.9M232.8 642.4h0.9M219.1 657.9h0.9M263.5 617.8h0.9M239.4 646.4h0.9M209.6 678.2h0.9M258.1 631.5h0.9M242.5 633.4h0.9M232.7 642.4h0.9M228.4 652.3h0.9M242.9 632.4h0.9M248.9 631.2h0.9M223.9 657.9h0.9M263.1 623.0h0.9M255.9 614.6h0.9M220.5 674.1h0.9M245.1 633.1h0.9M247.9 651.3h0.9M242.4 654.4h0.9M246.8 652.4h0.9M261.2 621.7h0.9M235.8 649.2h0.9M217.5 661.6h0.9M210.6 656.7h0.9M209.4 670.8h0.9M246.0 635.6h0.9M236.5 652.0h0.9M223.2 649.8h0.9M254.6 618.5h0.9M217.1 650.1h0.9M227.9 647.1h0.9M208.1 666.2h0.9M205.4 673.6h0.9M220.9 642.8h0.9M234.9 654.0h0.9M260.4 632.8h0.9M227.6 633.1h0.9M265.7 633.2h0.9M219.7 666.8h0.9M212.7 664.8h0.9M232.8 642.5h0.9M206.0 664.5h0.9M210.9 681.3h0.9M254.7 627.9h0.9M231.5 648.4h0.9M225.5 646.1h0.9M225.7 650.4h0.9M229.6 662.8h0.9M249.5 633.9h0.9M238.7 652.9h0.9M258.4 623.0h0.9M237.1 644.9h0.9M217.4 653.5h0.9M226.5 651.5h0.9M242.4 639.4h0.9M234.2 643.3h0.9M251.0 614.4h0.9M220.5 645.6h0.9M241.1 638.5h0.9M218.2 683.7h0.9M225.9 647.1h0.9M257.3 622.8h0.9M232.5 632.4h0.9M210.0 662.6h0.9M252.9 626.1h0.9M257.3 638.8h0.9M234.6 644.6h0.9M257.1 618.5h0.9M254.5 619.1h0.9M259.0 631.5h0.9M242.5 670.4h0.9M253.8 652.6h0.9M243.7 651.4h0.9M225.9 679.1h0.9M225.4 652.5h0.9M216.4 665.1h0.9M248.4 654.4h0.9M217.1 657.5h0.9M224.1 647.7h0.9M217.5 664.5h0.9M231.8 654.0h0.9M243.9 678.0h0.9M239.2 649.2h0.9M251.4 674.7h0.9M230.6 673.2h0.9M226.2 652.4h0.9M251.9 679.6h0.9M229.1 675.1h0.9M219.8 658.7h0.9M246.0 654.2h0.9M217.7 670.8h0.9M250.6 671.2h0.9M255.5 652.2h0.9M227.4 672.2h0.9M230.2 676.7h0.9M227.6 678.8h0.9M226.6 664.8h0.9M233.2 678.4h0.9M243.2 659.5h0.9M244.4 648.1h0.9M242.3 680.8h0.9M245.5 673.8h0.9M220.7 656.4h0.9M254.1 650.7h0.9M226.4 673.7h0.9M232.9 682.6h0.9M245.5 676.8h0.9M231.4 681.6h0.9M249.0 676.5h0.9M253.8 679.9h0.9M231.4 678.2h0.9M238.1 649.1h0.9M223.2 675.4h0.9M242.3 646.5h0.9M231.8 680.4h0.9M244.7 659.9h0.9M251.9 665.4h0.9M252.0 666.1h0.9M218.6 660.4h0.9M245.5 660.5h0.9M252.3 622.7h0.9M268.5 658.0h0.9M202.0 667.8h0.9M280.3 661.1h0.9M174.9 604.0h0.9M216.3 602.1h0.9M277.4 631.3h0.9M253.0 618.7h0.9M223.7 658.8h0.9M275.2 669.7h0.9M180.6 631.7h0.9M182.0 695.5h0.9M229.9 618.8h0.9M273.8 670.5h0.9M228.4 682.6h0.9M256.4 640.2h0.9M234.1 620.6h0.9M232.4 632.7h0.9M275.0 644.8h0.9M271.5 619.7h0.9M269.4 610.8h0.9M279.4 611.9h0.9M270.0 610.6h0.9M261.3 620.6h0.9M271.0 616.6h0.9M277.1 610.4h0.9M260.9 612.8h0.9M263.4 612.2h0.9M255.0 624.6h0.9M273.6 610.6h0.9M268.1 617.1h0.9M271.3 619.4h0.9M246.1 626.8h0.9M265.2 609.3h0.9M251.2 624.9h0.9M274.1 609.4h0.9M278.4 606.8h0.9M266.7 611.1h0.9M245.0 619.6h0.9M260.1 625.0h0.9M246.1 614.3h0.9M240.6 621.3h0.9M234.4 623.7h0.9M253.8 613.5h0.9M262.5 608.3h0.9M274.3 607.7h0.9M245.6 614.0h0.9M272.4 610.1h0.9M279.6 605.3h0.9M275.3 604.9h0.9M239.4 622.0h0.9M271.4 619.0h0.9M271.7 616.3h0.9M273.5 615.7h0.9M270.9 609.6h0.9M273.0 609.9h0.9M249.4 618.1h0.9M251.0 624.3h0.9M261.5 611.0h0.9M235.5 627.2h0.9M253.8 615.9h0.9M244.0 615.1h0.9M271.9 608.9h0.9M245.8 621.0h0.9M238.5 627.5h0.9M259.0 607.8h0.9M238.3 626.4h0.9M252.3 625.3h0.9M262.9 611.5h0.9M254.2 620.3h0.9M254.3 620.6h0.9M279.9 606.7h0.9M256.5 625.6h0.9M252.2 615.4h0.9M278.7 618.4h0.9M270.9 610.7h0.9M252.2 625.9h0.9M252.6 614.2h0.9M253.4 614.3h0.9M267.9 611.5h0.9M260.3 619.9h0.9M247.9 627.3h0.9M280.0 611.5h0.9M234.5 623.3h0.9M278.3 606.3h0.9M256.8 621.1h0.9M245.3 627.7h0.9M274.1 610.4h0.9M275.2 612.1h0.9M257.7 620.1h0.9M244.3 617.9h0.9M270.2 616.7h0.9M272.5 613.9h0.9M249.3 614.8h0.9M266.8 611.8h0.9M260.9 622.6h0.9M241.7 626.4h0.9M272.7 612.3h0.9M277.2 616.6h0.9M256.3 621.4h0.9M260.8 620.9h0.9M268.8 617.2h0.9M238.2 626.3h0.9M278.4 615.4h0.9M254.5 610.7h0.9M261.8 619.8h0.9M263.0 611.6h0.9M237.0 625.4h0.9M272.1 616.4h0.9M280.6 608.2h0.9M259.5 624.8h0.9M275.7 614.1h0.9M257.0 613.1h0.9M250.4 625.3h0.9M248.8 618.9h0.9M276.8 615.4h0.9M260.1 620.3h0.9M255.2 615.0h0.9M279.5 615.0h0.9M254.9 622.3h0.9M280.9 615.4h0.9M262.8 610.6h0.9M276.0 604.2h0.9M248.7 624.4h0.9M269.6 610.7h0.9M253.0 620.7h0.9M261.8 610.9h0.9M254.8 625.2h0.9M260.5 620.9h0.9M234.3 620.5h0.9M274.8 615.1h0.9M265.2 611.9h0.9M278.0 619.4h0.9M273.7 613.0h0.9M255.7 612.0h0.9M275.4 609.0h0.9M266.9 609.8h0.9M251.5 621.2h0.9M249.2 619.7h0.9M278.0 605.6h0.9M262.4 619.2h0.9M242.6 617.4h0.9M272.2 619.8h0.9M250.9 626.3h0.9M268.4 611.7h0.9M271.0 611.6h0.9M270.8 620.7h0.9M257.5 620.5h0.9M250.8 617.9h0.9M243.6 625.0h0.9M239.2 622.9h0.9M275.8 608.4h0.9M271.8 612.1h0.9M262.4 612.2h0.9M254.4 624.2h0.9M243.0 627.2h0.9M257.8 610.6h0.9M255.5 623.1h0.9M250.9 617.3h0.9M254.3 615.2h0.9M270.3 608.2h0.9M201.2 693.7h0.9M204.3 651.5h0.9M209.6 658.3h0.9M207.4 697.0h0.9M194.5 690.0h0.9M205.4 699.8h0.9M213.3 661.4h0.9M212.6 655.4h0.9M200.5 661.4h0.9M199.4 698.4h0.9M195.8 667.8h0.9M197.6 695.2h0.9M195.0 672.7h0.9M208.2 650.7h0.9M200.3 699.5h0.9M201.0 694.5h0.9M219.0 674.4h0.9M199.0 662.6h0.9M217.1 662.0h0.9M193.8 693.3h0.9M216.8 653.2h0.9M210.1 649.5h0.9M207.1 691.3h0.9M214.4 675.4h0.9M196.4 683.7h0.9M204.0 658.4h0.9M216.9 674.4h0.9M204.3 692.5h0.9M206.7 690.7h0.9M203.1 655.6h0.9M197.8 667.1h0.9M215.8 662.6h0.9M197.1 662.2h0.9M203.6 693.5h0.9M209.7 687.4h0.9M210.5 687.3h0.9M198.4 695.6h0.9M195.9 678.2h0.9M199.5 699.7h0.9M200.4 657.5h0.9M205.5 697.5h0.9M214.1 675.4h0.9M210.8 654.3h0.9M192.4 681.1h0.9M209.8 658.0h0.9M195.4 672.5h0.9M198.5 690.3h0.9M215.0 672.4h0.9M204.3 697.6h0.9M203.9 649.3h0.9M197.9 692.1h0.9M202.8 697.3h0.9M207.6 656.0h0.9M210.3 648.6h0.9M197.3 654.0h0.9M215.5 668.6h0.9M194.6 691.7h0.9M203.5 694.3h0.9M199.8 657.2h0.9M195.7 661.6h0.9M196.4 682.4h0.9M218.9 674.3h0.9M220.4 656.4h0.9M207.4 690.8h0.9M211.0 654.1h0.9M195.7 685.0h0.9M194.8 661.2h0.9M196.3 685.0h0.9M191.7 674.8h0.9M202.4 649.8h0.9M193.1 688.7h0.9M196.7 683.7h0.9M216.1 648.7h0.9M198.9 656.9h0.9M214.5 648.9h0.9M212.7 660.2h0.9M204.6 657.9h0.9M201.5 659.7h0.9M194.6 659.6h0.9M218.6 668.7h0.9M196.1 675.7h0.9M201.9 649.7h0.9M207.8 657.5h0.9M212.8 686.3h0.9M195.4 671.1h0.9M215.4 664.2h0.9M218.5 654.0h0.9M218.2 678.4h0.9M195.3 668.6h0.9M209.1 656.9h0.9M215.9 684.7h0.9M191.6 674.1h0.9M200.0 693.4h0.9M206.6 692.0h0.9M215.6 670.4h0.9M214.6 681.6h0.9M202.2 659.5h0.9M206.7 657.4h0.9M216.7 665.5h0.9M196.6 679.4h0.9M214.9 660.9h0.9M195.3 686.2h0.9M204.0 694.1h0.9M211.0 686.2h0.9M212.8 684.3h0.9M211.0 688.8h0.9M208.9 689.0h0.9M202.3 658.7h0.9M197.9 665.8h0.9M212.2 650.5h0.9M199.6 663.4h0.9M193.9 668.4h0.9M198.0 690.7h0.9M200.9 659.2h0.9M218.8 670.2h0.9M207.1 658.1h0.9M194.0 668.1h0.9M205.1 654.1h0.9M209.8 688.3h0.9M212.7 690.1h0.9M198.0 688.8h0.9M199.5 663.3h0.9M215.1 657.5h0.9M200.3 693.1h0.9M210.9 693.0h0.9M196.3 686.0h0.9M203.8 696.7h0.9M216.8 681.9h0.9M211.2 657.9h0.9M203.7 655.3h0.9M218.2 651.8h0.9M219.3 658.1h0.9M215.1 674.5h0.9M201.4 659.3h0.9M211.8 658.5h0.9M214.1 676.8h0.9M200.2 697.9h0.9M211.3 684.3h0.9M199.2 662.2h0.9M212.8 660.4h0.9M210.4 691.2h0.9M196.7 681.0h0.9M204.8 648.6h0.9M216.3 685.4h0.9M220.0 663.5h0.9M210.7 653.0h0.9M207.8 651.3h0.9M210.4 684.6h0.9M209.1 687.2h0.9M216.5 665.1h0.9M202.3 694.5h0.9M208.7 654.8h0.9M209.8 656.8h0.9M196.1 688.8h0.9M196.4 680.5h0.9M200.3 658.7h0.9M221.0 668.7h0.9M194.8 665.6h0.9M210.9 646.9h0.9M212.8 681.5h0.9M219.3 653.0h0.9M193.6 676.1h0.9M207.7 652.4h0.9M193.0 686.1h0.9M216.1 679.1h0.9M218.1 669.9h0.9M215.5 659.7h0.9M196.4 673.4h0.9M196.3 670.4h0.9M194.8 665.8h0.9M198.5 695.6h0.9M204.0 693.1h0.9M195.4 667.7h0.9M213.9 677.2h0.9M200.6 694.6h0.9M197.0 671.1h0.9M214.4 675.0h0.9M213.2 678.4h0.9M202.0 660.3h0.9M194.5 674.4h0.9M195.4 673.1h0.9M199.6 695.4h0.9M195.6 680.0h0.9M212.1 680.7h0.9M196.1 681.8h0.9M220.1 673.7h0.9M207.3 699.2h0.9M195.4 680.0h0.9M195.9 676.3h0.9M197.0 667.8h0.9M208.5 690.4h0.9M212.6 683.3h0.9M192.7 690.0h0.9M211.6 652.6h0.9M203.9 654.5h0.9M213.7 655.7h0.9M193.7 686.4h0.9M196.1 680.2h0.9M219.8 675.3h0.9M193.3 673.9h0.9M199.6 663.0h0.9M194.2 686.8h0.9M196.4 681.7h0.9M215.1 661.3h0.9M213.1 661.3h0.9M199.5 663.5h0.9M205.1 651.6h0.9M193.0 680.3h0.9M205.6 658.2h0.9M194.9 684.7h0.9M216.2 667.9h0.9M199.3 692.3h0.9M219.1 669.3h0.9M213.5 686.5h0.9M198.4 699.7h0.9M209.6 658.2h0.9M211.5 682.3h0.9M216.7 663.5h0.9M194.5 674.1h0.9M198.0 665.0h0.9M214.9 665.4h0.9M195.0 680.2h0.9M192.2 673.5h0.9M208.0 688.1h0.9M214.0 686.1h0.9M192.4 682.8h0.9M216.3 657.6h0.9M208.2 688.4h0.9M202.1 659.0h0.9M204.5 694.9h0.9M214.7 680.4h0.9M214.2 675.1h0.9M191.6 684.0h0.9M195.5 660.4h0.9M214.9 679.0h0.9M221.9 662.9h0.9M215.0 679.7h0.9M215.6 669.9h0.9M217.4 673.1h0.9M208.6 657.0h0.9M193.0 690.2h0.9M191.4 685.1h0.9M198.6 691.3h0.9M212.8 686.6h0.9M211.4 655.9h0.9M215.2 661.6h0.9M219.8 654.4h0.9M200.8 699.5h0.9M195.1 686.8h0.9M212.1 658.4h0.9M215.8 666.9h0.9M200.3 658.4h0.9M200.9 660.8h0.9M208.5 692.5h0.9M209.7 657.2h0.9M196.2 665.3h0.9M194.8 683.3h0.9M204.7 697.9h0.9M196.2 666.9h0.9M212.5 646.7h0.9M202.7 694.2h0.9M192.4 675.5h0.9M215.5 681.6h0.9M193.0 676.7h0.9M212.7 659.3h0.9M211.1 683.2h0.9M216.2 669.7h0.9M202.9 694.4h0.9M219.3 666.0h0.9M196.8 672.4h0.9M198.6 661.6h0.9M216.4 653.7h0.9M220.0 657.8h0.9M207.0 689.6h0.9M201.8 654.9h0.9M195.3 667.5h0.9M207.7 688.9h0.9M217.8 662.8h0.9M212.5 688.6h0.9M217.0 678.5h0.9M206.6 698.0h0.9M194.5 691.0h0.9M196.9 693.7h0.9M198.6 656.8h0.9M205.2 698.7h0.9M196.0 663.5h0.9M213.4 688.2h0.9M218.9 670.6h0.9M203.0 657.1h0.9M210.0 685.8h0.9M202.0 699.8h0.9M204.4 658.5h0.9M199.4 697.4h0.9M199.5 694.0h0.9M217.1 675.5h0.9M194.6 695.7h0.9M219.4 666.6h0.9M199.5 654.2h0.9M202.3 695.7h0.9M206.3 657.8h0.9M216.9 653.6h0.9M193.8 696.3h0.9M215.2 668.7h0.9M211.6 653.8h0.9M200.3 693.2h0.9M209.9 647.8h0.9M216.2 676.4h0.9M202.4 656.0h0.9M194.2 680.3h0.9" stroke="#ff2828" stroke-width="0.9" opacity="0.4"/>
<ellipse cx="262" cy="616" rx="8.4" ry="2.1" transform="rotate(-16 262 616)" fill="#ff3030" opacity="0.3"/>
<path d="M266.3 615.0h1M264.9 615.2h1M259.4 618.0h1M262.8 616.7h1M261.0 618.9h1M267.8 614.8h1M261.5 612.7h1M250.9 618.9h1M265.4 615.1h1M263.6 616.4h1M271.8 613.8h1M269.2 615.4h1M259.8 615.1h1M260.1 615.7h1M262.3 612.7h1M267.2 611.5h1M272.4 614.2h1M269.4 611.9h1M262.0 613.3h1M269.4 615.9h1M263.1 610.9h1M258.3 615.1h1M254.5 618.8h1M259.5 618.0h1M260.1 617.2h1M257.4 615.0h1M270.1 612.4h1M250.2 621.0h1M264.2 612.0h1M270.2 614.1h1M273.7 614.1h1M252.4 617.2h1M264.5 615.4h1M255.4 621.6h1M268.3 617.8h1M260.6 615.2h1M268.0 615.1h1M267.0 616.5h1M260.8 617.0h1M253.9 614.2h1M264.2 619.0h1M264.8 616.5h1M265.7 614.7h1M256.2 619.7h1M256.5 617.2h1M260.1 615.9h1M260.9 617.3h1M267.4 618.1h1M258.1 617.2h1M256.8 617.6h1M266.4 618.7h1M268.9 612.4h1M264.5 615.4h1M260.8 618.4h1M253.0 619.3h1M257.6 614.6h1M260.8 618.5h1M269.2 617.1h1M247.3 619.9h1M251.2 617.0h1M256.6 618.3h1M265.6 617.7h1M270.1 612.1h1M275.9 611.6h1M254.0 614.6h1M268.8 610.5h1M256.6 618.1h1M256.4 619.6h1M274.2 611.3h1M263.4 618.8h1M255.0 621.7h1M269.3 612.3h1M271.4 615.1h1M251.1 617.5h1M257.4 615.7h1M256.9 615.9h1M260.6 617.1h1M257.9 617.6h1M265.0 613.7h1M266.6 615.4h1M265.4 615.8h1M259.4 618.6h1M260.4 615.2h1M249.3 616.8h1M270.7 614.0h1M261.3 620.9h1M263.9 616.5h1M265.6 613.2h1M267.9 610.0h1M259.9 616.9h1M255.6 616.5h1M256.3 614.4h1M260.2 617.0h1M259.2 617.3h1M264.8 619.7h1M258.8 620.4h1M262.1 617.8h1M256.7 614.9h1M268.7 617.8h1M259.0 615.5h1M265.1 614.2h1M261.4 613.0h1M261.9 616.8h1M254.8 618.9h1M265.0 615.2h1M267.1 614.3h1M266.7 615.0h1M264.6 615.2h1M268.2 610.1h1M254.8 617.2h1M249.8 621.8h1M260.7 614.2h1M262.9 617.7h1M260.6 615.0h1M268.5 611.7h1M268.3 611.2h1M262.6 613.0h1M249.5 621.6h1M264.5 616.5h1M253.7 622.3h1M253.8 617.2h1M257.4 620.1h1M254.1 615.2h1M258.0 615.4h1M265.0 614.6h1M264.4 615.2h1M270.0 615.3h1M262.2 614.8h1M264.4 615.1h1M255.4 617.8h1M261.7 611.2h1M266.9 616.4h1M261.5 615.0h1M264.4 615.9h1M265.1 617.6h1M258.0 618.9h1M266.4 615.2h1M264.6 615.8h1M261.1 617.4h1M257.1 617.6h1M265.9 617.8h1M249.4 622.0h1M256.1 617.9h1M267.6 612.7h1M259.9 612.0h1M259.5 616.2h1M265.8 616.6h1M258.1 621.5h1M264.7 615.5h1M258.4 616.2h1M272.9 612.9h1M264.6 617.6h1M266.1 614.3h1M273.2 614.0h1M249.7 618.8h1M270.1 610.5h1M259.5 617.7h1M258.0 618.5h1M257.7 616.7h1M265.3 613.6h1M256.4 621.1h1M265.6 611.5h1M250.2 618.0h1M257.0 617.2h1M265.2 617.9h1M268.5 614.3h1M258.5 617.5h1M261.1 617.5h1M269.0 617.7h1M264.3 615.7h1M269.3 613.3h1M270.7 612.7h1M262.0 620.1h1M263.5 614.9h1M252.2 616.0h1M277.4 612.4h1M252.4 616.4h1M253.1 617.9h1M259.6 617.9h1M269.6 616.1h1M254.3 619.3h1M262.3 617.2h1M266.5 611.9h1M259.2 618.2h1M263.7 614.3h1M259.3 616.8h1M259.4 618.7h1M263.4 614.6h1M260.2 619.2h1M275.8 612.3h1M264.1 614.6h1M262.4 617.3h1M263.6 614.0h1M259.7 616.4h1M268.6 611.9h1M272.6 614.4h1M262.3 619.5h1M262.9 614.9h1M269.2 615.9h1M249.3 618.8h1M267.9 610.5h1M259.5 616.7h1M271.3 617.0h1M265.0 616.4h1M259.3 616.8h1M262.0 614.1h1M264.3 615.7h1M257.4 614.5h1M263.0 613.7h1M259.8 614.5h1M261.2 615.3h1M256.4 621.0h1M247.6 618.5h1M263.7 615.0h1M272.9 614.1h1M259.9 615.7h1M258.6 618.0h1M262.6 616.5h1M257.9 618.4h1M265.6 615.3h1M262.9 616.5h1M263.8 614.7h1M258.6 617.4h1M258.3 615.5h1M266.7 614.5h1M262.7 616.5h1M264.1 617.2h1M252.4 615.8h1M251.7 617.3h1M256.0 619.4h1M266.2 613.3h1M262.4 616.7h1M256.2 618.0h1M256.2 619.3h1M264.9 618.2h1M264.9 615.9h1M260.0 616.0h1M266.5 615.9h1M263.5 615.0h1M267.9 613.3h1" stroke="#ff0000" stroke-width="1" opacity="0.55"/>
<polygon points="211.98,677.48 211.23,679.39 210.39,681.24 209.48,683.01 208.53,684.66 207.57,686.18 206.62,687.53 205.69,688.7 204.8,689.66 203.96,690.4 203.17,690.9 202.45,691.15 201.78,691.14 201.17,690.88 200.61,690.35 200.09,689.58 199.63,688.56 199.21,687.32 198.83,685.88 198.51,684.26 198.25,682.48 198.06,680.58 197.94,678.6 197.93,676.56 198.02,674.52 198.22,672.49 198.56,670.54 199.04,668.68 199.65,666.95 200.41,665.39 201.29,664.02 202.29,662.87 203.39,661.95 204.56,661.29 205.78,660.88 207.01,660.74 208.22,660.86 209.37,661.24 210.44,661.87 211.39,662.74 212.19,663.82 212.82,665.11 213.26,666.57 213.51,668.18 213.56,669.91 213.42,671.73 213.1,673.63 212.62,675.55" fill="#ff0000"/>
<path d="M208.3 661.9h1M207.9 686.7h1M202.8 658.4h1M197.7 688.4h1M204.4 689.9h1M204.0 694.9h1M214.9 676.9h1M206.9 685.5h1M202.1 660.2h1M214.5 668.0h1M212.9 671.2h1M215.5 671.6h1M196.8 690.9h1M205.0 688.7h1M196.7 678.2h1M212.5 663.4h1M211.7 678.0h1M197.4 681.4h1M211.5 678.0h1M200.2 687.0h1M196.3 676.4h1M210.9 686.2h1M212.7 668.8h1M198.2 686.5h1M204.5 693.8h1M209.8 680.8h1M215.5 660.4h1M213.2 659.9h1M201.5 689.0h1M203.0 659.8h1M215.3 663.3h1M206.0 662.7h1M201.1 663.1h1M210.9 679.4h1M203.6 695.4h1M203.1 656.8h1M196.2 673.2h1M198.3 664.2h1M214.3 676.2h1M213.3 668.6h1M212.2 656.8h1M199.8 664.4h1M212.8 659.9h1M212.6 679.8h1M199.8 688.5h1M203.1 690.2h1M201.0 688.7h1M213.5 665.6h1M199.6 684.8h1M206.6 661.7h1M197.5 676.6h1M201.6 689.7h1M210.5 664.2h1M206.4 655.3h1M204.5 689.3h1M202.4 691.7h1M195.8 684.1h1M209.1 658.2h1M200.7 689.5h1M207.3 688.5h1M206.6 689.8h1M195.7 671.0h1M202.7 689.5h1M199.6 664.1h1M196.1 678.4h1M212.8 669.2h1M204.7 693.9h1M211.3 678.4h1M209.5 685.6h1M205.2 693.1h1M213.0 671.1h1M199.1 682.9h1M201.2 660.1h1M208.0 688.9h1M201.7 692.1h1M204.9 694.0h1M198.6 664.6h1M196.3 672.1h1M201.2 692.5h1M199.7 668.7h1M197.2 674.2h1M198.3 687.0h1M199.3 669.5h1M198.2 683.5h1M200.8 689.1h1M209.5 663.1h1M206.3 689.8h1M214.3 676.5h1M199.7 664.7h1M195.5 669.8h1M203.8 663.1h1M199.5 689.5h1M201.8 695.3h1M196.7 674.7h1M202.6 692.0h1M200.5 687.6h1M213.0 673.3h1M205.9 662.2h1M200.3 695.8h1M198.0 671.6h1M209.3 682.5h1M200.2 665.6h1M195.7 680.2h1M209.2 659.5h1M198.4 691.0h1M197.1 670.5h1M202.6 660.1h1M199.4 689.8h1M215.1 667.4h1M215.1 667.2h1M200.7 696.1h1M198.4 670.4h1M198.5 678.5h1M204.2 694.1h1M199.0 687.4h1M208.4 660.1h1M212.8 667.1h1M212.8 658.7h1M209.1 661.8h1M211.4 660.6h1M197.5 672.0h1M195.3 680.3h1M202.5 659.6h1M213.7 672.5h1M200.5 663.5h1M198.4 692.4h1M204.9 691.9h1M197.6 680.5h1M211.5 678.1h1M198.3 685.7h1M205.3 662.8h1M204.8 662.9h1M201.2 695.6h1M198.3 676.7h1M198.6 686.7h1M205.2 689.5h1M198.6 686.7h1M204.3 689.6h1M205.2 694.1h1M207.5 690.4h1M214.2 672.5h1M213.1 673.5h1M198.4 664.4h1M197.2 683.8h1M208.9 683.1h1M211.2 680.7h1M195.7 677.2h1M197.9 681.0h1M201.3 694.0h1M209.4 684.1h1M206.5 655.9h1M198.9 685.4h1M209.0 661.8h1M211.6 664.7h1M214.6 674.9h1M197.6 674.7h1M204.4 661.6h1M199.3 664.1h1M211.2 685.6h1M199.2 661.8h1M214.0 658.7h1M211.9 675.5h1M212.7 669.7h1M200.2 667.5h1M198.4 675.1h1M211.4 678.5h1M197.8 663.4h1M214.1 658.0h1M212.3 675.3h1M206.7 685.8h1M210.1 658.3h1M212.0 678.5h1M209.9 661.9h1M198.8 689.4h1M215.2 674.5h1M211.9 665.8h1M213.4 679.7h1M205.3 692.0h1M204.3 688.9h1M199.0 669.5h1M201.4 689.4h1M200.4 689.6h1M205.4 690.8h1M204.2 659.5h1M205.4 662.5h1M199.7 665.3h1M213.7 675.7h1M209.6 682.8h1M196.3 688.5h1M207.6 659.6h1M198.7 676.7h1M202.1 662.5h1M203.0 689.2h1M199.2 687.0h1M208.5 656.3h1M198.8 683.0h1M199.7 686.8h1M201.2 661.9h1M198.5 680.6h1M197.5 691.2h1M208.1 684.8h1M201.5 664.5h1M215.0 667.9h1M212.9 665.3h1M209.8 680.9h1M198.9 690.3h1M207.8 662.6h1M213.1 666.6h1M210.1 680.7h1M210.0 680.3h1M200.0 687.8h1M198.9 695.0h1M201.8 689.2h1M214.9 667.2h1M207.3 658.6h1M209.5 655.1h1M212.5 671.9h1M196.4 685.8h1M205.0 658.7h1M196.6 666.5h1M198.9 692.2h1M205.2 659.9h1M197.1 669.5h1M198.7 679.7h1M200.6 687.9h1M198.9 684.3h1M210.8 664.1h1M211.2 658.2h1M197.8 681.2h1M213.6 675.0h1M204.7 660.4h1M215.0 664.7h1M199.5 669.5h1M197.6 678.6h1M213.3 664.4h1M201.4 692.2h1M211.9 679.1h1M203.1 663.7h1M198.7 675.1h1M196.3 668.3h1M212.6 676.5h1M200.2 691.8h1M199.0 682.4h1M207.2 662.5h1M196.3 670.6h1M207.7 655.2h1M196.7 689.0h1M198.8 684.4h1M206.4 689.5h1M202.6 689.5h1M211.7 676.2h1M198.4 668.6h1M198.3 678.8h1M215.5 670.9h1M195.2 682.4h1M207.3 686.3h1M209.7 681.8h1M199.3 689.3h1M199.7 669.3h1M208.3 655.2h1M200.7 689.7h1M198.6 682.6h1M209.6 660.4h1M210.2 685.1h1M200.0 667.5h1M196.7 679.5h1M205.6 688.3h1M204.0 690.7h1M210.5 662.3h1M211.8 660.6h1M207.7 691.1h1M200.0 687.5h1M200.6 688.1h1M202.8 656.9h1M212.4 666.8h1M198.2 682.4h1M212.6 680.1h1M208.6 683.4h1M212.7 677.5h1M214.3 671.3h1M204.1 657.3h1M196.2 687.0h1M215.7 671.1h1M196.0 669.7h1M202.7 690.5h1M200.4 688.4h1M199.4 688.5h1M206.6 687.4h1M209.8 660.1h1M208.0 690.0h1M214.0 663.0h1M199.7 668.2h1M196.8 685.8h1M195.9 674.3h1M207.5 689.5h1M200.0 663.8h1M209.6 658.3h1M212.7 669.1h1M207.1 688.3h1M200.4 689.8h1M202.6 663.1h1M214.2 672.2h1M207.3 662.1h1M201.7 659.6h1M212.9 672.3h1M211.3 664.4h1M209.0 663.0h1M204.5 690.3h1M200.2 688.0h1M198.3 667.8h1M204.4 656.9h1M200.7 666.7h1M198.7 679.1h1M206.0 661.8h1M209.7 681.7h1M210.1 680.1h1M203.7 656.4h1M213.1 659.0h1M203.0 695.5h1M200.1 694.3h1M211.8 656.1h1M212.5 682.2h1M198.9 665.4h1M211.3 679.1h1M200.3 690.4h1M215.3 665.4h1M198.7 681.3h1M198.3 693.4h1M204.9 657.1h1M196.7 674.6h1M198.3 684.9h1M215.9 666.0h1M207.5 684.6h1M197.4 667.3h1M201.7 690.8h1M201.8 664.1h1M200.9 661.7h1M202.6 689.5h1M201.5 695.2h1M216.8 663.7h1M196.0 681.4h1M206.6 687.1h1M204.5 689.2h1M206.2 658.3h1M203.0 691.2h1M200.4 690.4h1M210.6 683.3h1M205.8 660.8h1M201.2 689.1h1M196.9 682.0h1M206.7 661.6h1M212.2 678.3h1M208.9 661.5h1M206.2 655.7h1M203.2 694.9h1M198.0 677.4h1M210.8 661.9h1M200.1 687.0h1M198.9 660.5h1M196.8 685.2h1M214.2 661.5h1M200.1 687.8h1M215.7 662.9h1M211.1 664.6h1M195.9 673.3h1M213.5 666.1h1M201.4 664.5h1M200.6 665.8h1M200.5 688.2h1M198.1 682.0h1M200.7 693.7h1M215.8 664.8h1M196.4 674.8h1M211.0 685.6h1M206.9 658.8h1M211.7 685.1h1M201.8 691.7h1M215.6 668.8h1M209.4 686.6h1M198.9 682.0h1M204.7 690.6h1M198.3 671.4h1M208.7 684.4h1M210.9 664.6h1M197.5 670.6h1M199.1 688.3h1M214.9 672.3h1M213.9 676.4h1M211.5 665.6h1M214.1 660.2h1M196.1 673.6h1M199.9 665.6h1M207.8 658.0h1M205.7 690.0h1M211.0 657.6h1M198.3 673.0h1M203.8 689.4h1M211.9 675.8h1M197.9 674.5h1M201.5 689.1h1M213.9 662.2h1M212.6 674.4h1M200.3 687.2h1M212.5 676.1h1M203.3 690.8h1M201.4 664.3h1M213.0 666.4h1M207.9 687.3h1M211.3 660.1h1M213.1 660.3h1M213.5 666.8h1M213.3 677.3h1M204.1 690.7h1M214.4 675.1h1M200.0 686.7h1M198.2 690.0h1M210.4 681.1h1M199.0 682.5h1M212.6 675.1h1M201.3 695.4h1M208.9 685.2h1M207.5 662.2h1M215.8 666.7h1M197.3 663.7h1M211.7 666.0h1M212.7 670.0h1M200.2 688.5h1M198.8 696.0h1M199.0 669.4h1M198.5 687.8h1M199.1 661.8h1M207.5 660.5h1M210.6 682.8h1M202.4 690.0h1M209.2 681.9h1M199.4 686.6h1M207.2 686.7h1M212.6 659.8h1M215.3 671.5h1M204.2 659.8h1M200.6 688.2h1M215.7 660.8h1M199.9 691.6h1M215.2 671.1h1M215.3 663.0h1M195.5 675.7h1M201.6 689.2h1M206.2 661.0h1M200.0 690.4h1M212.4 679.3h1M209.3 682.7h1M203.1 663.2h1M207.4 685.8h1M214.7 663.6h1M215.2 666.8h1M214.1 674.7h1M199.2 688.7h1M212.2 663.2h1M195.7 669.5h1M206.4 655.1h1M210.1 663.4h1M197.1 669.7h1M198.8 673.0h1M200.0 687.6h1M213.2 665.7h1M201.2 691.9h1M199.2 691.3h1M198.2 685.2h1M209.4 683.5h1M205.4 687.7h1M214.4 663.6h1M212.6 677.6h1M197.5 663.6h1M205.3 687.6h1M209.8 684.7h1M200.8 694.9h1M216.1 663.6h1M199.9 662.5h1M195.9 678.3h1M209.2 659.9h1M212.8 678.5h1M210.6 681.5h1M198.0 692.1h1M204.4 689.9h1M204.0 662.6h1M197.5 670.7h1M215.2 676.5h1M209.8 683.5h1M213.9 671.9h1M196.9 679.2h1M214.5 677.4h1M199.3 688.2h1M211.3 658.8h1M210.0 680.3h1M216.9 664.6h1M197.3 666.6h1M199.0 670.9h1M215.1 675.7h1M206.7 662.5h1M212.7 669.3h1M213.8 665.7h1M202.8 661.9h1M212.0 675.8h1M201.7 694.3h1M207.6 686.9h1M196.6 689.1h1M195.7 683.9h1M200.8 696.3h1M211.7 678.1h1M198.2 678.8h1M199.6 669.5h1M209.1 689.2h1M200.7 666.5h1M203.9 691.0h1M198.5 669.9h1M212.1 675.0h1M198.3 674.0h1M208.9 661.4h1M209.6 681.1h1M197.5 679.3h1" stroke="#ff0000" stroke-width="1" opacity="0.9"/>
</g>
<rect x="169.6" y="600.8" width="112.2" height="99.9" fill="none" stroke="#858585" stroke-width="1.1"/>
<line x1="216.3" y1="600.8" x2="216.3" y2="700.7" stroke="#7a7a7a" stroke-width="1"/>
<line x1="169.6" y1="646.3" x2="281.8" y2="646.3" stroke="#7a7a7a" stroke-width="1"/>
<path d="M167.4,700.7H169.6M169.6,700.7V702.9M168.3,693.18H169.6M178.04,700.7V702M168.3,688.78H169.6M182.98,700.7V702M168.3,685.66H169.6M186.49,700.7V702M168.3,683.24H169.6M189.21,700.7V702M168.3,681.27H169.6M191.43,700.7V702M168.3,679.59H169.6M193.31,700.7V702M168.3,678.15H169.6M194.93,700.7V702M168.3,676.87H169.6M196.37,700.7V702M167.4,675.73H169.6M197.65,700.7V702.9M168.3,668.21H169.6M206.09,700.7V702M168.3,663.81H169.6M211.03,700.7V702M168.3,660.69H169.6M214.54,700.7V702M168.3,658.27H169.6M217.26,700.7V702M168.3,656.29H169.6M219.48,700.7V702M168.3,654.62H169.6M221.36,700.7V702M168.3,653.17H169.6M222.98,700.7V702M168.3,651.89H169.6M224.42,700.7V702M167.4,650.75H169.6M225.7,700.7V702.9M168.3,643.23H169.6M234.14,700.7V702M168.3,638.83H169.6M239.08,700.7V702M168.3,635.71H169.6M242.59,700.7V702M168.3,633.29H169.6M245.31,700.7V702M168.3,631.32H169.6M247.53,700.7V702M168.3,629.64H169.6M249.41,700.7V702M168.3,628.2H169.6M251.03,700.7V702M168.3,626.92H169.6M252.47,700.7V702M167.4,625.77H169.6M253.75,700.7V702.9M168.3,618.26H169.6M262.19,700.7V702M168.3,613.86H169.6M267.13,700.7V702M168.3,610.74H169.6M270.64,700.7V702M168.3,608.32H169.6M273.36,700.7V702M168.3,606.34H169.6M275.58,700.7V702M168.3,604.67H169.6M277.46,700.7V702M168.3,603.22H169.6M279.08,700.7V702M168.3,601.94H169.6M280.52,700.7V702" stroke="#999" stroke-width="0.5" fill="none"/>
<text x="165.6" y="678.33" font-size="7.3" fill="#505050" text-anchor="end">10<tspan dy="-2.7" font-size="4.8">0</tspan></text>
<text x="165.6" y="653.35" font-size="7.3" fill="#505050" text-anchor="end">10<tspan dy="-2.7" font-size="4.8">1</tspan></text>
<text x="165.6" y="628.38" font-size="7.3" fill="#505050" text-anchor="end">10<tspan dy="-2.7" font-size="4.8">2</tspan></text>
<text x="165.6" y="603.4" font-size="7.3" fill="#505050" text-anchor="end">10<tspan dy="-2.7" font-size="4.8">3</tspan></text>
<text x="198.25" y="709.3" font-size="7.3" fill="#505050" text-anchor="middle">10<tspan dy="-2.7" font-size="4.8">0</tspan></text>
<text x="226.3" y="709.3" font-size="7.3" fill="#505050" text-anchor="middle">10<tspan dy="-2.7" font-size="4.8">1</tspan></text>
<text x="254.35" y="709.3" font-size="7.3" fill="#505050" text-anchor="middle">10<tspan dy="-2.7" font-size="4.8">2</tspan></text>
<text x="282.4" y="709.3" font-size="7.3" fill="#505050" text-anchor="middle">10<tspan dy="-2.7" font-size="4.8">3</tspan></text>
<text x="170.6" y="611.4" font-size="8.2" fill="#222">B1</text>
<text x="183.4" y="622.2" font-size="8.2" fill="#222" text-anchor="middle">0.2%</text>
<text x="217.3" y="611.4" font-size="8.2" fill="#222">B2</text>
<text x="230.1" y="622.2" font-size="8.2" fill="#222" text-anchor="middle">5.6%</text>
<text x="170.6" y="656.9" font-size="8.2" fill="#222">B3</text>
<text x="183.4" y="667.7" font-size="8.2" fill="#222" text-anchor="middle">92.6%</text>
<text x="217.3" y="656.9" font-size="8.2" fill="#222">B4</text>
<text x="230.1" y="667.7" font-size="8.2" fill="#222" text-anchor="middle">1.6%</text>
<rect x="393.3" y="488.3" width="111.7" height="97.1" fill="#fff"/>
<clipPath id="cp15"><rect x="393.3" y="488.3" width="111.7" height="97.1"/></clipPath>
<g clip-path="url(#cp15)">
<path d="M475.5 512.8h0.9M434.9 549.2h0.9M477.2 511.5h0.9M482.4 524.3h0.9M458.2 530.6h0.9M483.8 523.4h0.9M472.4 534.6h0.9M472.0 501.8h0.9M479.0 529.6h0.9M464.4 522.0h0.9M418.0 556.7h0.9M439.1 550.1h0.9M422.6 563.8h0.9M457.4 531.0h0.9M454.6 524.5h0.9M469.8 531.9h0.9M481.8 525.3h0.9M456.3 542.4h0.9M485.5 522.0h0.9M479.3 511.4h0.9M452.4 534.1h0.9M459.7 542.5h0.9M439.1 563.7h0.9M442.6 531.7h0.9M433.4 541.9h0.9M453.0 545.5h0.9M458.1 527.3h0.9M451.9 541.1h0.9M458.5 529.8h0.9M499.0 514.2h0.9M475.7 531.5h0.9M456.3 534.7h0.9M451.3 535.9h0.9M473.8 524.3h0.9M460.5 534.8h0.9M474.4 527.6h0.9M477.1 510.2h0.9M476.2 527.9h0.9M461.1 552.6h0.9M483.2 506.3h0.9M434.2 554.0h0.9M464.5 530.3h0.9M485.6 509.5h0.9M463.6 530.6h0.9M468.6 526.0h0.9M487.1 505.6h0.9M448.3 546.9h0.9M452.6 536.3h0.9M473.6 526.8h0.9M434.7 546.6h0.9M457.6 536.5h0.9M463.1 542.5h0.9M464.2 520.1h0.9M433.9 548.9h0.9M426.7 557.3h0.9M484.5 508.6h0.9M457.6 542.3h0.9M432.1 549.5h0.9M454.1 532.7h0.9M479.9 503.4h0.9M448.9 527.0h0.9M452.5 528.0h0.9M478.4 518.5h0.9M448.2 533.4h0.9M442.4 549.2h0.9M499.6 516.8h0.9M447.8 535.6h0.9M424.1 547.6h0.9M448.4 533.6h0.9M485.5 508.5h0.9M448.9 539.8h0.9M485.3 512.0h0.9M474.2 519.1h0.9M459.0 519.2h0.9M457.9 509.4h0.9M457.4 518.9h0.9M470.2 528.8h0.9M446.7 550.6h0.9M467.5 518.1h0.9M496.6 502.6h0.9M480.0 528.4h0.9M490.0 508.0h0.9M491.6 517.7h0.9M450.1 543.6h0.9M441.9 529.2h0.9M435.9 561.1h0.9M432.5 544.3h0.9M467.4 539.2h0.9M445.9 541.2h0.9M454.1 539.9h0.9M463.0 518.6h0.9M454.6 537.0h0.9M454.0 527.3h0.9M457.2 536.8h0.9M459.5 515.6h0.9M431.7 543.3h0.9M446.7 547.1h0.9M481.3 500.4h0.9M460.2 535.9h0.9M477.4 520.1h0.9M453.1 537.4h0.9M444.9 538.9h0.9M432.0 557.1h0.9M443.0 554.4h0.9M438.3 565.3h0.9M438.6 548.9h0.9M430.6 536.7h0.9M483.3 499.2h0.9M468.0 527.8h0.9M456.4 531.5h0.9M466.5 523.7h0.9M475.6 510.2h0.9M467.1 532.0h0.9M425.6 559.2h0.9M430.5 553.0h0.9M461.1 537.5h0.9M452.3 551.2h0.9M426.8 536.7h0.9M444.7 545.1h0.9M432.1 556.8h0.9M475.4 522.4h0.9M472.8 521.0h0.9M463.9 513.5h0.9M462.3 520.4h0.9M454.6 539.0h0.9M454.0 532.8h0.9M482.0 513.0h0.9M434.5 546.4h0.9M453.1 544.6h0.9M432.8 545.9h0.9M430.5 565.7h0.9M478.6 534.0h0.9M456.7 527.0h0.9M478.6 516.1h0.9M479.7 527.8h0.9M473.3 531.4h0.9M461.3 528.8h0.9M437.3 540.9h0.9M474.2 534.9h0.9M455.3 535.2h0.9M464.5 544.2h0.9M469.2 509.7h0.9M450.6 549.1h0.9M468.9 528.4h0.9M436.7 543.8h0.9M446.6 547.5h0.9M447.0 547.8h0.9M468.5 524.1h0.9M450.7 534.0h0.9M480.0 522.7h0.9M457.6 539.4h0.9M471.5 541.3h0.9M469.9 565.2h0.9M449.8 557.5h0.9M464.0 568.9h0.9M462.1 543.3h0.9M470.6 536.0h0.9M474.5 557.5h0.9M456.0 558.5h0.9M464.6 566.7h0.9M475.9 561.3h0.9M474.6 562.8h0.9M474.0 561.1h0.9M466.3 557.1h0.9M476.1 542.3h0.9M479.3 567.3h0.9M468.2 538.6h0.9M459.7 551.9h0.9M467.8 561.1h0.9M478.5 537.0h0.9M466.5 542.6h0.9M476.2 566.5h0.9M480.6 566.2h0.9M449.2 542.4h0.9M452.6 549.0h0.9M460.0 544.7h0.9M470.5 563.0h0.9M481.1 536.3h0.9M462.8 546.0h0.9M478.5 536.3h0.9M477.5 535.9h0.9M450.8 543.2h0.9M465.7 545.5h0.9M474.1 535.9h0.9M465.9 554.5h0.9M468.6 544.7h0.9M463.2 553.5h0.9M450.4 551.4h0.9M461.6 537.7h0.9M462.4 555.4h0.9M452.7 540.8h0.9M454.6 559.4h0.9M456.3 552.3h0.9M447.4 548.0h0.9M459.4 559.3h0.9M477.2 560.8h0.9M455.6 540.3h0.9M455.9 537.1h0.9M474.9 534.7h0.9M468.1 538.3h0.9M402.6 528.5h0.9M480.6 526.3h0.9M475.1 520.3h0.9M476.6 516.5h0.9M439.6 494.8h0.9M470.1 576.3h0.9M417.4 544.0h0.9M496.9 509.0h0.9M450.2 527.8h0.9M431.2 531.4h0.9M440.3 564.4h0.9M464.3 575.5h0.9M428.0 537.9h0.9M455.8 528.4h0.9M484.3 560.1h0.9M398.1 550.1h0.9M408.5 501.3h0.9M475.8 536.4h0.9M489.6 518.8h0.9M495.9 499.4h0.9M484.6 512.7h0.9M476.5 517.7h0.9M488.3 514.7h0.9M494.5 506.5h0.9M481.5 512.0h0.9M495.1 504.2h0.9M494.1 508.5h0.9M495.1 507.5h0.9M501.8 500.8h0.9M498.8 504.6h0.9M481.9 512.4h0.9M484.6 500.3h0.9M485.2 502.0h0.9M495.2 509.3h0.9M492.0 516.5h0.9M476.3 514.2h0.9M490.1 504.4h0.9M487.3 501.5h0.9M473.7 511.6h0.9M486.4 513.2h0.9M489.0 513.0h0.9M482.9 502.6h0.9M494.6 509.4h0.9M497.3 504.2h0.9M482.0 514.1h0.9M494.2 505.7h0.9M490.5 503.4h0.9M494.2 503.4h0.9M478.1 514.2h0.9M481.0 511.2h0.9M480.9 504.4h0.9M502.9 505.1h0.9M494.1 510.7h0.9M476.2 508.8h0.9M474.0 514.5h0.9M483.5 505.6h0.9M493.1 505.2h0.9M487.2 500.4h0.9M485.0 503.5h0.9M500.7 511.0h0.9M481.4 503.7h0.9M479.6 512.5h0.9M484.0 506.6h0.9M495.0 512.9h0.9M478.4 505.3h0.9M487.3 502.0h0.9M484.6 506.0h0.9M500.1 499.3h0.9M492.2 510.7h0.9M488.0 503.8h0.9M500.2 508.4h0.9M492.9 505.0h0.9M502.4 509.5h0.9M489.1 504.2h0.9M490.6 515.9h0.9M481.9 513.1h0.9M500.7 504.3h0.9M494.6 508.2h0.9M494.3 507.0h0.9M497.5 514.6h0.9M480.6 515.6h0.9M493.8 508.3h0.9M489.8 512.5h0.9M498.7 505.3h0.9M486.9 516.1h0.9M484.2 506.0h0.9M494.1 502.4h0.9M481.7 505.5h0.9M481.1 511.1h0.9M498.6 504.8h0.9M492.4 510.0h0.9M482.8 503.1h0.9M475.1 506.2h0.9M496.8 503.4h0.9M492.6 510.7h0.9M477.0 513.0h0.9M498.9 508.8h0.9M481.4 517.2h0.9M493.2 505.2h0.9M474.2 518.4h0.9M480.1 501.8h0.9M482.8 499.5h0.9M476.0 511.1h0.9M478.8 509.2h0.9M487.8 515.1h0.9M493.3 513.3h0.9M481.9 509.2h0.9M484.3 504.6h0.9M499.0 507.0h0.9M472.5 509.8h0.9M482.1 511.5h0.9M479.2 516.4h0.9M486.7 504.8h0.9M499.9 498.5h0.9M489.6 503.8h0.9M495.4 507.0h0.9M489.6 503.6h0.9M492.1 503.2h0.9M479.5 510.8h0.9M499.7 510.7h0.9M500.5 512.5h0.9M492.2 512.6h0.9M489.5 499.4h0.9M484.2 500.0h0.9M494.1 506.4h0.9M490.3 511.5h0.9M476.7 505.3h0.9M477.1 518.7h0.9M484.2 503.4h0.9M494.7 511.3h0.9M483.2 507.2h0.9M484.1 503.9h0.9M481.9 507.6h0.9M478.8 507.1h0.9M479.2 506.8h0.9M489.8 513.2h0.9M494.5 508.6h0.9M481.5 509.0h0.9M490.4 500.0h0.9M481.9 509.2h0.9M491.3 500.5h0.9M480.2 510.3h0.9M482.9 513.1h0.9M493.7 516.0h0.9M493.8 504.4h0.9M481.8 510.5h0.9M493.2 512.4h0.9M498.9 502.7h0.9M475.9 505.6h0.9M480.7 511.8h0.9M490.5 514.7h0.9M493.2 503.7h0.9M497.8 503.5h0.9M483.2 506.9h0.9M491.8 511.8h0.9M487.4 504.7h0.9M475.3 511.4h0.9M494.5 502.7h0.9M496.6 506.3h0.9M483.9 513.6h0.9M485.5 504.1h0.9M486.2 502.5h0.9M497.1 511.4h0.9M481.4 511.7h0.9M475.9 509.6h0.9M495.7 511.4h0.9M496.5 510.1h0.9M483.0 512.9h0.9M490.9 512.9h0.9M477.1 503.3h0.9M482.8 512.5h0.9M493.8 515.7h0.9M491.2 511.0h0.9M483.8 516.2h0.9M494.4 516.3h0.9M477.5 513.3h0.9M494.5 510.4h0.9M441.9 546.2h0.9M432.3 566.3h0.9M422.7 576.3h0.9M420.0 572.4h0.9M435.2 560.9h0.9M421.6 552.2h0.9M414.8 573.1h0.9M417.8 577.3h0.9M446.5 534.7h0.9M417.6 569.2h0.9M426.9 545.6h0.9M443.7 535.6h0.9M432.6 566.4h0.9M426.7 544.6h0.9M415.4 570.2h0.9M426.9 569.7h0.9M417.9 571.5h0.9M445.1 547.9h0.9M424.4 570.6h0.9M428.1 571.4h0.9M445.1 553.3h0.9M443.4 536.8h0.9M446.3 534.8h0.9M415.9 577.4h0.9M445.5 544.6h0.9M445.7 533.8h0.9M424.3 548.0h0.9M444.7 556.1h0.9M424.4 570.7h0.9M426.9 545.1h0.9M412.0 560.2h0.9M442.5 550.2h0.9M444.6 533.8h0.9M443.0 554.5h0.9M438.5 558.2h0.9M415.9 569.6h0.9M418.2 552.6h0.9M435.6 540.2h0.9M444.0 551.5h0.9M439.1 556.2h0.9M441.2 541.9h0.9M431.6 569.0h0.9M418.3 574.5h0.9M419.9 548.0h0.9M439.6 553.0h0.9M439.6 538.2h0.9M436.7 563.5h0.9M443.9 551.2h0.9M443.9 551.2h0.9M437.1 532.9h0.9M419.7 554.4h0.9M435.5 532.4h0.9M441.5 550.3h0.9M438.9 541.4h0.9M431.1 541.7h0.9M445.6 542.1h0.9M432.2 565.9h0.9M436.4 559.7h0.9M440.6 550.1h0.9M420.7 551.0h0.9M442.1 533.8h0.9M441.1 545.4h0.9M445.6 542.2h0.9M415.4 557.3h0.9M414.2 576.1h0.9M440.8 558.8h0.9M424.9 573.6h0.9M444.7 542.1h0.9M418.9 558.2h0.9M436.4 561.8h0.9M425.2 569.1h0.9M445.0 553.3h0.9M432.3 539.6h0.9M439.8 537.3h0.9M427.6 543.8h0.9M416.5 567.2h0.9M429.6 535.9h0.9M415.6 559.1h0.9M438.3 537.9h0.9M411.8 569.9h0.9M445.1 547.4h0.9M424.8 540.6h0.9M425.5 541.2h0.9M420.4 554.3h0.9M426.2 540.4h0.9M439.9 533.6h0.9M440.4 560.3h0.9M420.9 553.3h0.9M442.2 549.2h0.9M425.0 572.4h0.9M442.4 544.0h0.9M433.7 565.0h0.9M442.2 535.8h0.9M425.9 546.5h0.9M440.0 541.8h0.9M433.2 565.3h0.9M441.5 556.4h0.9M443.0 552.8h0.9M415.1 557.0h0.9M432.7 537.8h0.9M415.5 573.2h0.9M445.1 540.1h0.9M412.3 573.9h0.9M420.3 571.2h0.9M438.6 537.0h0.9M412.9 572.4h0.9M443.9 543.5h0.9M441.0 543.6h0.9M434.8 561.9h0.9M431.9 567.1h0.9M424.1 576.9h0.9M421.7 549.0h0.9M440.7 542.9h0.9M416.4 571.4h0.9M423.6 544.9h0.9M418.1 566.1h0.9M445.4 552.2h0.9M414.5 576.3h0.9M439.0 562.6h0.9M443.1 537.5h0.9M425.5 543.4h0.9M445.6 535.0h0.9M417.8 567.2h0.9M417.0 564.6h0.9M413.4 558.2h0.9M446.9 540.2h0.9M419.2 554.1h0.9M441.0 548.0h0.9M410.7 568.5h0.9M413.2 563.4h0.9M418.0 559.8h0.9M444.8 547.9h0.9M442.0 542.9h0.9M440.8 554.9h0.9M436.1 562.7h0.9M433.4 533.2h0.9M443.0 544.8h0.9M426.1 544.2h0.9M443.1 544.5h0.9M438.8 564.6h0.9M433.4 535.6h0.9M419.6 574.5h0.9M441.8 538.0h0.9M427.0 569.6h0.9M418.9 574.1h0.9M415.9 578.8h0.9M426.1 574.1h0.9M437.7 558.7h0.9M435.4 540.5h0.9M416.3 567.9h0.9M441.7 555.4h0.9M437.4 536.3h0.9M415.3 578.7h0.9M419.6 570.5h0.9M445.5 533.9h0.9M441.0 544.9h0.9M414.0 564.6h0.9M441.8 531.5h0.9M424.3 571.9h0.9M440.5 537.6h0.9M444.1 554.6h0.9M437.9 557.1h0.9M445.9 535.1h0.9M421.5 573.6h0.9M419.7 569.0h0.9M441.4 542.5h0.9M438.9 541.4h0.9M433.8 541.1h0.9M426.7 545.7h0.9M441.7 546.7h0.9M441.1 555.2h0.9M426.4 572.7h0.9M437.6 540.5h0.9M427.8 543.9h0.9M431.6 566.6h0.9M414.2 570.9h0.9M438.2 557.0h0.9M442.4 537.7h0.9M432.2 537.4h0.9M432.2 571.6h0.9M419.4 554.2h0.9M427.0 568.8h0.9M442.7 539.9h0.9M421.8 551.0h0.9M415.0 559.6h0.9M441.4 535.4h0.9M415.9 553.3h0.9M443.1 556.9h0.9M415.6 555.5h0.9M444.5 552.1h0.9M415.1 568.3h0.9M432.4 541.0h0.9M414.9 553.0h0.9M422.6 547.4h0.9M418.1 553.5h0.9M435.5 562.0h0.9M438.9 537.5h0.9M429.5 567.4h0.9M423.1 576.7h0.9M436.2 561.2h0.9M423.8 541.5h0.9M426.2 544.0h0.9M416.0 557.6h0.9M440.4 553.1h0.9M417.7 569.2h0.9M439.1 538.3h0.9M440.4 541.6h0.9M444.3 548.3h0.9M411.1 570.5h0.9M444.6 536.7h0.9M418.4 568.1h0.9M441.1 542.6h0.9M435.6 539.7h0.9M442.5 555.9h0.9M438.6 560.1h0.9M435.9 534.8h0.9M440.8 555.7h0.9M441.7 534.0h0.9M443.6 535.7h0.9M435.3 565.0h0.9M429.1 567.3h0.9M424.6 541.0h0.9M419.2 548.6h0.9M431.7 567.2h0.9M433.8 539.5h0.9M433.5 534.4h0.9M421.4 549.6h0.9M415.1 564.0h0.9M431.7 542.0h0.9M441.1 546.5h0.9M414.3 570.4h0.9M429.6 571.7h0.9M431.1 567.2h0.9M445.5 549.7h0.9M427.0 572.1h0.9M434.8 561.5h0.9M423.1 575.9h0.9M421.1 569.5h0.9M440.2 560.6h0.9M413.4 558.6h0.9M419.0 555.1h0.9M440.1 551.7h0.9M441.2 539.6h0.9M422.0 545.8h0.9M442.0 548.1h0.9M445.9 545.6h0.9M426.4 542.1h0.9M419.5 569.2h0.9M429.1 570.5h0.9M440.9 561.7h0.9M436.9 531.8h0.9M441.2 544.3h0.9M411.7 574.5h0.9M418.7 554.7h0.9M418.9 556.2h0.9M442.1 531.8h0.9M419.4 568.4h0.9M417.8 576.2h0.9M423.6 577.9h0.9M428.5 570.9h0.9M421.5 551.8h0.9M425.8 544.1h0.9M415.9 559.4h0.9M436.0 540.6h0.9M432.8 565.0h0.9M443.3 545.3h0.9M422.5 569.8h0.9M438.7 558.4h0.9M438.3 560.9h0.9M439.7 533.4h0.9M422.6 542.6h0.9M418.1 576.8h0.9M447.8 535.0h0.9M416.1 557.2h0.9M427.0 571.4h0.9M442.2 559.3h0.9M418.5 557.2h0.9M422.5 546.9h0.9M417.8 562.7h0.9M444.1 548.6h0.9M443.3 533.1h0.9M420.4 576.0h0.9M441.1 546.6h0.9M438.0 565.7h0.9M435.8 538.0h0.9M412.4 558.6h0.9M445.7 536.7h0.9M414.5 565.8h0.9M420.3 549.9h0.9M435.4 564.0h0.9M439.9 537.2h0.9M444.3 540.9h0.9M438.6 557.7h0.9M423.1 578.0h0.9M433.8 535.9h0.9M440.2 541.8h0.9M426.8 568.8h0.9M436.0 561.4h0.9M416.8 565.8h0.9M423.8 573.9h0.9M433.6 563.8h0.9M447.3 538.4h0.9M413.0 570.4h0.9M445.8 538.5h0.9M435.1 539.2h0.9M418.5 550.5h0.9M443.7 551.5h0.9M438.5 556.1h0.9M432.4 567.8h0.9M414.8 567.8h0.9M429.7 566.9h0.9M447.1 533.7h0.9M444.6 539.3h0.9M422.9 569.8h0.9M428.2 544.3h0.9M441.7 541.5h0.9M442.6 552.5h0.9M420.6 549.5h0.9M418.3 571.0h0.9M443.9 547.0h0.9" stroke="#ff2828" stroke-width="0.9" opacity="0.4"/>
<ellipse cx="488" cy="508.5" rx="4.9" ry="2.4" transform="rotate(-20 488 508.5)" fill="#ff3030" opacity="0.3"/>
<path d="M493.6 506.8h1M492.8 506.3h1M489.3 508.4h1M485.7 506.7h1M489.4 508.7h1M483.4 509.9h1M493.7 509.2h1M484.5 511.6h1M493.5 508.7h1M489.8 506.7h1M488.4 509.7h1M494.0 505.9h1M484.8 506.6h1M483.9 508.4h1M484.5 504.3h1M483.7 506.4h1M492.6 507.6h1M493.3 507.6h1M485.3 505.7h1M492.7 512.0h1M483.3 509.0h1M482.5 510.4h1M486.3 507.9h1M484.3 511.7h1M490.3 506.3h1M486.6 509.0h1M489.1 512.1h1M484.2 513.4h1M486.4 508.7h1M491.3 505.6h1M489.3 507.0h1M486.0 508.5h1M487.6 510.6h1M488.6 510.9h1M491.9 503.9h1M491.9 509.3h1M489.9 507.2h1M493.3 509.7h1M487.9 511.3h1M485.5 508.2h1M487.4 507.1h1M483.4 508.2h1M489.7 509.7h1M482.9 512.1h1M491.5 507.3h1M490.6 509.7h1M488.8 509.4h1M488.9 507.2h1M489.2 506.6h1M488.9 509.0h1M489.8 510.8h1M492.0 504.7h1M487.1 510.3h1M488.9 507.3h1M486.3 508.3h1M491.3 508.8h1M484.2 508.3h1M484.7 508.6h1M488.5 506.9h1M491.7 511.5h1M483.4 511.7h1M488.6 509.3h1M489.5 509.7h1M484.7 507.9h1M488.9 512.5h1M487.2 507.8h1M486.4 508.9h1M485.8 507.9h1M485.9 506.6h1M486.4 508.4h1M487.5 507.0h1M481.8 513.3h1M488.5 507.5h1M487.1 508.0h1M489.3 510.0h1M494.7 507.9h1M490.1 506.6h1M491.4 504.3h1M485.6 504.2h1M487.1 507.9h1M488.3 507.2h1M491.6 507.1h1M488.8 509.8h1M486.3 507.9h1M489.7 507.3h1M486.1 509.4h1M487.2 509.4h1M480.7 510.9h1M485.8 510.2h1M491.9 511.4h1M486.1 506.7h1M486.8 508.1h1M495.0 508.9h1M489.0 505.0h1M483.2 509.8h1M485.7 509.5h1M486.0 510.9h1M489.7 505.6h1M486.9 510.3h1M486.6 507.8h1M489.9 511.9h1M486.9 509.5h1M479.6 510.7h1M486.4 512.7h1M490.2 507.2h1M493.6 505.3h1M492.9 505.5h1M495.1 504.7h1M488.5 509.5h1M484.2 513.3h1M495.1 504.6h1M489.1 508.7h1M493.2 504.6h1M486.2 508.4h1M491.8 507.4h1M491.0 507.8h1M489.3 507.5h1M492.6 511.1h1M487.2 510.4h1M488.2 509.4h1M484.4 509.4h1M496.8 507.3h1M488.8 507.5h1M487.8 509.5h1M488.2 507.0h1M486.5 508.3h1M483.7 507.6h1M489.2 509.2h1M489.1 507.3h1M489.3 506.8h1M489.5 509.9h1M486.8 508.3h1M492.8 507.5h1M488.5 510.4h1M491.7 510.9h1M491.1 507.9h1M494.6 506.1h1M496.3 508.0h1M495.5 509.3h1M485.9 511.5h1M491.6 508.7h1M489.9 506.3h1M490.6 507.7h1M485.3 504.1h1M486.8 509.2h1M488.5 507.1h1M484.2 507.4h1M488.1 509.5h1M496.5 507.7h1M490.9 507.0h1M488.9 509.2h1M484.3 504.5h1M495.4 504.9h1M485.0 512.5h1M487.2 507.5h1M485.1 508.5h1M494.1 509.2h1M485.6 506.6h1M485.2 510.6h1M489.8 503.8h1M486.3 508.6h1M492.1 505.6h1M485.1 508.1h1M486.0 509.2h1M483.8 513.8h1M492.1 511.3h1M487.5 506.0h1M489.7 502.9h1M482.5 509.9h1M485.8 509.3h1M493.4 504.3h1M485.1 507.6h1M486.3 506.5h1M488.9 509.2h1M492.3 509.7h1M491.6 511.5h1M483.8 506.7h1M484.0 506.2h1M493.1 506.9h1M491.0 510.1h1M490.0 508.7h1M484.2 508.8h1M487.8 507.7h1M484.0 506.6h1M491.0 503.6h1M488.1 507.3h1M489.4 507.6h1M490.6 508.3h1M483.4 507.4h1M479.9 510.9h1M487.1 510.5h1M490.0 506.7h1M493.2 505.1h1M484.1 510.2h1M482.2 507.7h1M485.2 509.1h1M490.6 507.9h1M483.6 512.4h1M489.2 507.4h1M492.8 511.5h1M489.8 509.4h1M489.2 512.2h1M486.3 507.9h1M492.2 504.6h1M491.7 511.3h1M492.8 507.6h1M489.3 509.5h1M479.4 510.5h1M492.1 505.4h1M488.9 509.1h1M491.0 508.4h1M489.0 506.0h1M490.6 512.2h1M491.3 510.6h1M488.7 507.5h1M489.6 509.4h1M489.3 508.6h1M485.4 506.1h1M491.3 510.7h1M492.6 509.7h1M486.6 509.0h1M486.6 508.3h1M490.5 507.7h1M486.6 504.0h1M488.8 509.2h1M485.8 511.7h1M491.2 510.2h1M485.4 506.5h1M494.3 505.3h1M481.4 508.2h1M494.3 505.1h1M486.7 509.7h1M489.5 506.4h1M488.0 509.6h1M482.4 513.7h1M484.2 504.7h1M486.6 512.2h1M482.1 508.0h1M489.8 508.1h1M484.1 510.7h1" stroke="#ff0000" stroke-width="1" opacity="0.55"/>
<polygon points="435,558.85 433.9,560.34 432.71,561.73 431.47,563.01 430.2,564.15 428.91,565.13 427.64,565.94 426.39,566.57 425.2,566.99 424.09,567.21 423.06,567.23 422.15,567.03 421.36,566.62 420.71,566.02 420.21,565.23 419.87,564.26 419.7,563.14 419.69,561.88 419.85,560.49 420.18,559.02 420.66,557.47 421.3,555.89 422.08,554.29 422.98,552.7 424,551.15 425.1,549.66 426.29,548.27 427.53,546.99 428.8,545.85 430.09,544.87 431.36,544.06 432.61,543.43 433.8,543.01 434.91,542.79 435.94,542.77 436.85,542.97 437.64,543.38 438.29,543.98 438.79,544.77 439.13,545.74 439.3,546.86 439.31,548.12 439.15,549.51 438.82,550.98 438.34,552.53 437.7,554.11 436.92,555.71 436.02,557.3" fill="#ff0000"/>
<path d="M436.0 542.8h1M419.9 568.7h1M434.5 540.9h1M427.5 543.3h1M421.1 554.9h1M438.4 545.6h1M430.8 544.0h1M436.6 544.5h1M418.6 557.8h1M438.1 542.5h1M420.7 557.1h1M435.5 541.3h1M421.2 565.4h1M427.9 565.8h1M434.5 560.0h1M437.7 552.2h1M418.0 562.1h1M421.8 564.8h1M424.5 551.3h1M437.0 539.4h1M435.4 558.6h1M433.1 539.4h1M434.9 561.5h1M437.6 555.2h1M420.2 571.9h1M422.4 568.0h1M425.0 565.9h1M432.8 560.9h1M440.3 542.6h1M436.0 539.5h1M429.9 564.6h1M424.7 566.9h1M424.9 565.7h1M425.1 569.0h1M439.4 552.5h1M438.3 549.2h1M433.3 562.1h1M418.9 569.8h1M420.5 568.3h1M421.0 566.4h1M417.1 561.2h1M427.0 546.5h1M435.8 560.5h1M417.8 565.5h1M419.6 560.6h1M425.9 566.2h1M423.1 553.0h1M436.8 556.1h1M423.5 550.0h1M431.7 540.4h1M441.4 546.8h1M442.7 541.9h1M442.6 548.6h1M441.1 544.2h1M433.6 559.8h1M427.4 548.0h1M436.7 559.8h1M441.5 540.9h1M439.4 544.7h1M439.6 543.3h1M439.5 541.5h1M420.3 565.9h1M442.8 547.7h1M440.1 546.9h1M422.9 552.2h1M418.8 557.0h1M431.0 562.3h1M436.9 542.5h1M419.5 571.1h1M418.1 556.0h1M430.1 568.2h1M438.2 551.9h1M417.6 562.9h1M426.2 545.8h1M429.9 545.4h1M441.6 543.6h1M417.4 564.8h1M437.6 552.0h1M420.7 560.9h1M433.6 543.2h1M441.3 546.1h1M427.3 546.4h1M434.3 558.8h1M422.3 566.2h1M427.4 547.9h1M419.9 569.2h1M427.0 568.4h1M425.8 547.5h1M426.1 548.2h1M427.8 547.6h1M420.4 561.5h1M427.0 568.4h1M419.0 563.2h1M434.0 563.4h1M433.9 564.3h1M439.4 545.0h1M422.5 571.0h1M417.2 559.5h1M440.2 543.7h1M427.4 565.6h1M424.0 565.7h1M436.8 557.0h1M425.0 549.9h1M425.2 548.2h1M424.9 567.5h1M437.5 544.0h1M425.8 569.8h1M437.4 542.3h1M426.3 549.3h1M421.1 563.3h1M442.5 541.8h1M430.4 562.8h1M432.7 542.7h1M429.4 545.4h1M434.3 558.9h1M433.3 543.4h1M415.9 566.2h1M439.5 539.7h1M437.9 550.6h1M433.3 544.2h1M421.0 564.6h1M421.0 569.2h1M421.6 554.9h1M420.6 568.3h1M428.1 543.9h1M425.4 546.2h1M438.7 545.8h1M420.5 563.9h1M422.1 553.6h1M437.3 543.3h1M435.9 543.5h1M440.9 543.1h1M435.4 541.1h1M422.7 567.4h1M417.9 569.4h1M439.2 550.7h1M438.8 546.0h1M427.8 546.3h1M434.6 559.9h1M438.4 548.8h1M441.0 545.5h1M437.7 552.2h1M438.9 550.4h1M432.1 563.9h1M429.4 544.9h1M429.8 542.9h1M436.6 543.1h1M419.4 557.6h1M419.5 555.2h1M442.5 546.0h1M419.2 560.6h1M421.3 553.2h1M418.9 558.4h1M439.6 553.7h1M422.4 549.3h1M439.8 547.7h1M438.6 551.1h1M421.9 567.0h1M438.7 548.6h1M436.9 541.9h1M419.9 563.2h1M434.7 558.1h1M435.8 544.3h1M439.6 552.6h1M424.9 567.2h1M420.9 561.2h1M420.5 554.7h1M425.5 566.2h1M442.0 541.6h1M436.8 538.1h1M438.4 541.3h1M431.3 565.1h1M421.5 553.6h1M436.4 555.1h1M439.6 546.9h1M422.9 548.6h1M430.3 544.7h1M439.4 543.3h1M425.9 549.8h1M437.1 538.2h1M432.9 544.4h1M425.8 567.0h1M426.2 569.0h1M438.0 553.4h1M417.6 563.4h1M433.7 561.9h1M420.7 568.7h1M427.1 567.1h1M428.1 546.4h1M439.6 543.2h1M419.9 566.9h1M436.1 544.4h1M425.1 565.7h1M434.3 562.8h1M436.4 541.8h1M424.3 548.0h1M435.0 557.6h1M424.0 570.5h1M425.3 548.0h1M437.2 541.4h1M430.8 545.3h1M423.9 568.4h1M432.5 544.7h1M441.2 551.5h1M438.6 544.0h1M435.1 541.3h1M423.2 553.4h1M417.9 560.4h1M420.7 564.9h1M435.9 544.2h1M429.8 563.8h1M437.4 539.8h1M420.4 565.3h1M431.7 562.3h1M423.5 569.6h1M433.4 543.7h1M443.0 542.6h1M433.9 562.7h1M424.4 551.3h1M428.0 564.9h1M439.5 545.2h1M431.8 561.8h1M433.5 562.3h1M422.3 571.9h1M418.3 569.0h1M421.8 556.5h1M427.9 565.2h1M437.9 550.9h1M438.7 552.5h1M436.9 560.9h1M420.4 558.5h1M425.8 546.5h1M430.3 564.6h1M438.0 545.3h1M429.3 543.6h1M440.6 544.4h1M430.5 565.5h1M438.9 540.3h1M435.6 538.2h1M426.3 548.7h1M422.4 555.1h1M433.1 543.9h1M423.8 570.6h1M434.2 562.9h1M439.8 551.6h1M432.6 562.4h1M426.2 545.8h1M442.1 542.6h1M421.6 566.4h1M437.6 545.0h1M430.8 545.3h1M419.4 556.0h1M427.7 564.7h1M443.1 544.9h1M424.6 566.7h1M431.3 544.5h1M426.1 567.7h1M422.3 567.8h1M427.0 548.5h1M438.9 553.6h1M435.5 561.7h1M426.9 566.5h1M436.0 557.6h1M420.3 553.3h1M421.2 554.5h1M431.5 540.0h1M418.8 563.6h1M431.4 543.2h1M441.6 546.5h1M423.4 548.5h1M435.8 541.8h1M421.5 564.2h1M418.4 559.1h1M436.6 543.3h1M421.1 564.6h1M437.2 543.5h1M421.8 566.6h1M430.7 542.6h1M437.1 538.7h1M420.8 562.3h1M424.6 569.6h1M441.6 546.4h1M421.1 555.8h1M432.4 541.0h1M426.6 546.3h1M432.4 565.4h1M438.9 538.3h1M423.8 550.5h1M423.7 568.7h1M425.3 571.2h1M431.3 543.4h1M432.8 560.6h1M422.5 569.3h1M420.4 555.3h1M422.1 553.7h1M437.4 552.9h1M419.7 562.6h1M441.9 546.6h1M439.5 547.4h1M438.4 547.9h1M438.2 541.7h1M422.5 565.4h1M442.8 542.5h1M434.5 562.4h1M422.6 566.6h1M420.6 557.6h1M430.9 564.5h1M431.4 563.0h1M423.9 546.7h1M437.1 544.0h1M438.3 550.3h1M440.3 555.5h1M426.3 547.1h1M426.9 567.1h1M433.6 562.1h1M428.8 543.1h1M437.6 541.4h1M434.7 542.7h1M421.5 565.1h1M420.1 561.3h1M423.1 570.4h1M423.6 551.1h1M420.2 569.5h1M441.7 547.3h1M420.3 560.1h1M427.6 545.4h1M438.2 553.3h1M437.4 539.8h1M431.5 566.0h1M434.7 544.2h1M440.7 543.1h1M426.1 568.0h1M435.6 561.2h1M425.1 548.4h1M429.8 542.0h1M433.7 561.1h1M421.4 557.0h1M420.9 555.3h1M426.1 549.4h1M418.3 567.9h1M434.6 542.3h1M423.0 552.4h1M419.2 556.5h1M433.1 541.7h1M429.5 568.0h1M419.1 560.3h1M425.1 548.7h1M423.5 567.2h1M424.1 549.4h1M437.4 554.4h1M416.3 561.0h1M428.2 545.1h1M423.0 551.6h1M421.2 555.1h1M429.1 545.5h1M422.9 566.6h1M439.0 549.6h1M421.7 553.6h1M440.6 551.0h1M435.4 559.8h1M428.2 566.3h1M430.2 563.1h1M440.6 547.3h1M430.5 545.4h1M419.2 567.8h1M420.9 560.1h1M438.6 551.8h1M431.4 545.0h1M425.2 567.4h1M438.5 549.1h1M440.9 541.9h1M434.7 558.2h1M432.2 563.0h1M425.8 549.8h1M424.6 546.1h1M440.2 541.0h1M417.7 562.6h1M419.3 561.4h1M420.8 558.3h1M427.8 546.4h1M432.5 540.4h1M420.8 567.1h1M440.6 544.9h1M438.9 548.2h1M435.6 542.1h1M428.5 545.5h1M421.7 549.6h1M434.3 543.4h1M420.6 551.9h1M424.8 566.4h1M441.6 546.4h1M420.7 563.0h1M422.7 567.7h1M434.5 561.5h1M423.3 567.5h1M422.4 555.3h1M436.2 555.9h1M425.6 568.8h1M420.7 568.6h1M430.3 545.8h1M439.8 553.2h1M420.4 552.3h1M442.6 548.1h1M423.7 567.3h1M427.9 569.2h1M429.1 564.2h1M435.8 559.1h1M417.5 564.1h1M437.9 541.5h1M439.4 553.8h1M442.0 551.0h1M432.4 563.3h1M433.0 544.5h1M429.7 567.0h1M439.2 552.3h1M436.8 540.9h1M439.4 549.5h1M416.6 562.8h1M436.2 555.5h1M423.3 568.1h1M427.6 547.2h1M422.5 572.0h1M420.7 559.7h1M420.6 554.1h1M419.6 561.8h1M421.2 557.9h1M433.3 560.8h1M429.0 564.2h1M420.2 566.2h1M427.7 545.6h1M422.5 549.6h1M430.0 545.6h1M427.6 546.8h1M438.1 540.2h1M439.8 555.5h1M437.7 551.8h1M439.2 547.7h1M425.9 565.7h1M435.4 540.5h1M420.8 559.3h1M429.7 566.0h1M439.2 540.9h1M436.6 540.6h1M438.8 543.6h1M441.6 547.4h1M437.8 554.2h1M421.7 565.6h1M438.8 556.0h1M440.7 544.7h1M430.9 541.5h1M440.3 552.1h1M432.7 565.7h1M428.3 564.4h1M429.2 564.3h1M431.9 565.7h1M423.1 565.7h1M430.7 565.3h1M423.0 571.0h1M439.1 549.1h1M432.3 542.8h1M436.5 541.6h1M442.4 542.4h1M443.1 547.5h1M439.1 555.0h1M420.3 563.6h1M431.8 562.0h1M420.0 557.4h1M431.8 562.6h1M416.7 560.1h1M418.7 561.9h1M433.1 562.7h1M424.2 550.2h1M436.0 544.5h1M431.8 544.0h1M429.0 546.3h1M438.1 549.8h1M436.1 540.9h1M418.4 570.9h1M438.8 542.2h1M427.8 566.2h1M427.6 547.7h1M433.7 539.9h1M420.7 571.1h1M420.1 557.8h1M420.3 565.4h1M436.2 540.5h1M430.0 563.5h1M438.7 548.2h1M427.7 544.8h1M425.0 567.6h1M420.3 563.3h1M425.8 567.2h1M434.2 563.5h1M422.6 566.2h1M423.5 565.8h1M442.6 549.7h1M422.4 553.6h1M440.2 554.8h1M438.4 542.4h1M438.6 541.5h1M435.2 557.7h1M424.7 547.0h1M434.6 558.3h1M432.7 541.4h1M435.4 558.9h1M439.0 547.3h1M430.7 562.9h1M436.1 544.2h1M434.2 561.3h1M420.9 563.2h1M418.5 556.1h1M440.3 540.0h1M432.0 541.9h1M438.6 545.8h1M423.3 553.2h1M425.6 570.9h1M421.2 557.1h1M438.1 549.9h1M426.1 547.6h1M437.3 556.8h1" stroke="#ff0000" stroke-width="1" opacity="0.9"/>
</g>
<rect x="393.3" y="488.3" width="111.7" height="97.1" fill="none" stroke="#858585" stroke-width="1.1"/>
<line x1="447.2" y1="488.3" x2="447.2" y2="585.4" stroke="#7a7a7a" stroke-width="1"/>
<line x1="393.3" y1="534.6" x2="505" y2="534.6" stroke="#7a7a7a" stroke-width="1"/>
<path d="M391.1,585.4H393.3M393.3,585.4V587.6M392,578.09H393.3M401.71,585.4V586.7M392,573.82H393.3M406.62,585.4V586.7M392,570.78H393.3M410.11,585.4V586.7M392,568.43H393.3M412.82,585.4V586.7M392,566.51H393.3M415.03,585.4V586.7M392,564.89H393.3M416.9,585.4V586.7M392,563.48H393.3M418.52,585.4V586.7M392,562.24H393.3M419.95,585.4V586.7M391.1,561.12H393.3M421.23,585.4V587.6M392,553.82H393.3M429.63,585.4V586.7M392,549.54H393.3M434.55,585.4V586.7M392,546.51H393.3M438.04,585.4V586.7M392,544.16H393.3M440.74,585.4V586.7M392,542.24H393.3M442.95,585.4V586.7M392,540.61H393.3M444.82,585.4V586.7M392,539.2H393.3M446.44,585.4V586.7M392,537.96H393.3M447.87,585.4V586.7M391.1,536.85H393.3M449.15,585.4V587.6M392,529.54H393.3M457.56,585.4V586.7M392,525.27H393.3M462.47,585.4V586.7M392,522.23H393.3M465.96,585.4V586.7M392,519.88H393.3M468.67,585.4V586.7M392,517.96H393.3M470.88,585.4V586.7M392,516.34H393.3M472.75,585.4V586.7M392,514.93H393.3M474.37,585.4V586.7M392,513.69H393.3M475.8,585.4V586.7M391.1,512.58H393.3M477.07,585.4V587.6M392,505.27H393.3M485.48,585.4V586.7M392,500.99H393.3M490.4,585.4V586.7M392,497.96H393.3M493.89,585.4V586.7M392,495.61H393.3M496.59,585.4V586.7M392,493.69H393.3M498.8,585.4V586.7M392,492.06H393.3M500.67,585.4V586.7M392,490.65H393.3M502.29,585.4V586.7M392,489.41H393.3M503.72,585.4V586.7" stroke="#999" stroke-width="0.5" fill="none"/>
<text x="389.3" y="563.73" font-size="7.3" fill="#505050" text-anchor="end">10<tspan dy="-2.7" font-size="4.8">0</tspan></text>
<text x="389.3" y="539.45" font-size="7.3" fill="#505050" text-anchor="end">10<tspan dy="-2.7" font-size="4.8">1</tspan></text>
<text x="389.3" y="515.18" font-size="7.3" fill="#505050" text-anchor="end">10<tspan dy="-2.7" font-size="4.8">2</tspan></text>
<text x="389.3" y="490.9" font-size="7.3" fill="#505050" text-anchor="end">10<tspan dy="-2.7" font-size="4.8">3</tspan></text>
<text x="421.83" y="594" font-size="7.3" fill="#505050" text-anchor="middle">10<tspan dy="-2.7" font-size="4.8">0</tspan></text>
<text x="449.75" y="594" font-size="7.3" fill="#505050" text-anchor="middle">10<tspan dy="-2.7" font-size="4.8">1</tspan></text>
<text x="477.68" y="594" font-size="7.3" fill="#505050" text-anchor="middle">10<tspan dy="-2.7" font-size="4.8">2</tspan></text>
<text x="505.6" y="594" font-size="7.3" fill="#505050" text-anchor="middle">10<tspan dy="-2.7" font-size="4.8">3</tspan></text>
<text x="394.3" y="498.9" font-size="8.2" fill="#222">F1</text>
<text x="407.1" y="509.7" font-size="8.2" fill="#222" text-anchor="middle">0.0%</text>
<text x="448.2" y="498.9" font-size="8.2" fill="#222">F2</text>
<text x="461" y="509.7" font-size="8.2" fill="#222" text-anchor="middle">4.0%</text>
<text x="394.3" y="545.2" font-size="8.2" fill="#222">F3</text>
<text x="407.1" y="556" font-size="8.2" fill="#222" text-anchor="middle">94.6%</text>
<text x="448.2" y="545.2" font-size="8.2" fill="#222">F4</text>
<text x="461" y="556" font-size="8.2" fill="#222" text-anchor="middle">1.3%</text>
<rect x="527.1" y="488.3" width="111" height="96.4" fill="#fff"/>
<clipPath id="cp16"><rect x="527.1" y="488.3" width="111" height="96.4"/></clipPath>
<g clip-path="url(#cp16)">
<path d="M600.2 536.1h0.9M596.2 536.4h0.9M621.1 518.2h0.9M599.0 512.9h0.9M566.3 546.9h0.9M623.2 513.2h0.9M584.9 523.9h0.9M570.2 542.9h0.9M572.7 550.7h0.9M593.5 527.1h0.9M556.4 560.2h0.9M611.5 528.4h0.9M610.4 518.7h0.9M608.3 530.5h0.9M603.9 524.5h0.9M571.3 556.3h0.9M579.2 560.4h0.9M592.6 536.1h0.9M588.5 517.1h0.9M600.0 521.5h0.9M567.7 562.1h0.9M589.9 546.1h0.9M565.5 550.7h0.9M581.4 543.0h0.9M571.5 555.8h0.9M581.9 535.0h0.9M573.9 554.6h0.9M565.5 550.1h0.9M628.2 515.1h0.9M592.5 535.4h0.9M616.7 514.6h0.9M610.7 529.1h0.9M621.4 509.7h0.9M601.3 511.8h0.9M583.2 526.8h0.9M604.5 526.2h0.9M595.4 538.0h0.9M602.9 518.6h0.9M588.5 545.7h0.9M587.2 538.8h0.9M609.4 512.3h0.9M582.2 539.7h0.9M556.8 542.4h0.9M576.5 541.1h0.9M601.4 547.2h0.9M574.1 524.6h0.9M586.9 528.4h0.9M584.9 527.3h0.9M578.8 538.2h0.9M566.7 552.3h0.9M603.8 535.8h0.9M603.1 517.9h0.9M570.6 550.9h0.9M591.1 525.8h0.9M574.2 562.8h0.9M562.6 554.3h0.9M570.0 550.7h0.9M569.7 541.8h0.9M591.8 524.5h0.9M610.1 518.6h0.9M608.7 509.4h0.9M568.2 554.3h0.9M559.9 553.0h0.9M569.5 535.4h0.9M596.6 533.5h0.9M575.6 540.3h0.9M558.7 553.8h0.9M583.8 561.6h0.9M606.4 534.1h0.9M569.0 555.3h0.9M572.3 546.3h0.9M582.1 547.3h0.9M570.7 555.1h0.9M577.1 541.2h0.9M598.4 523.0h0.9M576.8 540.6h0.9M619.9 509.1h0.9M622.8 519.0h0.9M621.0 508.4h0.9M599.9 523.2h0.9M622.0 507.9h0.9M596.5 534.4h0.9M605.6 518.4h0.9M595.0 532.0h0.9M610.8 522.3h0.9M567.4 541.9h0.9M590.0 533.4h0.9M614.4 514.4h0.9M584.2 521.4h0.9M606.2 528.0h0.9M599.7 533.1h0.9M616.0 514.5h0.9M613.8 510.9h0.9M596.1 511.5h0.9M591.1 537.2h0.9M605.1 524.3h0.9M592.1 531.7h0.9M582.8 526.2h0.9M565.1 549.7h0.9M590.1 529.6h0.9M590.2 536.4h0.9M559.9 546.5h0.9M613.6 510.1h0.9M574.2 556.7h0.9M606.1 524.3h0.9M621.9 504.3h0.9M604.8 525.2h0.9M608.2 505.3h0.9M608.4 533.7h0.9M618.8 504.8h0.9M609.8 508.0h0.9M585.2 526.0h0.9M580.2 546.4h0.9M605.8 504.7h0.9M597.2 537.1h0.9M586.8 535.8h0.9M568.6 547.8h0.9M602.8 521.3h0.9M593.0 506.7h0.9M587.8 530.0h0.9M572.0 547.1h0.9M599.1 531.8h0.9M611.8 517.1h0.9M603.1 521.3h0.9M600.4 531.0h0.9M626.0 511.9h0.9M588.2 535.5h0.9M571.4 542.7h0.9M614.2 518.1h0.9M585.3 542.3h0.9M622.4 516.9h0.9M590.1 538.9h0.9M608.5 523.8h0.9M611.4 516.8h0.9M605.7 512.0h0.9M604.5 517.7h0.9M596.7 543.2h0.9M591.4 534.8h0.9M597.2 516.0h0.9M621.7 508.2h0.9M616.7 506.3h0.9M596.7 536.2h0.9M598.0 527.3h0.9M561.8 558.2h0.9M558.4 553.6h0.9M577.2 557.1h0.9M615.9 511.1h0.9M572.7 541.3h0.9M561.3 551.7h0.9M563.9 548.9h0.9M599.4 546.7h0.9M598.6 534.8h0.9M606.6 550.7h0.9M613.3 569.4h0.9M614.2 563.7h0.9M608.1 566.9h0.9M606.2 538.1h0.9M599.9 554.2h0.9M580.7 557.5h0.9M603.1 551.9h0.9M594.4 556.3h0.9M598.5 554.6h0.9M596.0 550.8h0.9M590.7 543.5h0.9M613.0 562.0h0.9M593.6 536.2h0.9M583.4 566.2h0.9M588.5 562.0h0.9M600.8 544.3h0.9M602.2 554.8h0.9M612.9 534.9h0.9M600.9 534.9h0.9M598.2 564.3h0.9M607.1 542.0h0.9M589.2 548.5h0.9M611.5 552.3h0.9M588.4 536.4h0.9M590.4 558.4h0.9M589.4 552.2h0.9M590.3 560.5h0.9M594.9 557.3h0.9M598.4 557.5h0.9M613.9 545.3h0.9M608.5 564.2h0.9M595.0 550.3h0.9M598.9 535.3h0.9M590.6 557.0h0.9M597.4 565.5h0.9M608.0 564.0h0.9M583.5 562.9h0.9M606.2 541.7h0.9M609.4 543.2h0.9M604.4 557.9h0.9M612.9 565.2h0.9M588.5 536.9h0.9M596.9 536.3h0.9M584.3 561.2h0.9M590.4 556.3h0.9M603.6 535.0h0.9M600.5 559.5h0.9M631.6 503.6h0.9M555.0 565.6h0.9M630.5 527.3h0.9M636.9 519.2h0.9M544.4 496.6h0.9M633.3 505.3h0.9M551.1 522.0h0.9M559.7 509.6h0.9M561.0 553.7h0.9M559.3 529.3h0.9M609.0 556.7h0.9M569.4 540.7h0.9M578.0 544.8h0.9M542.6 528.3h0.9M627.0 501.0h0.9M608.9 493.7h0.9M562.5 543.1h0.9M585.6 492.6h0.9M629.6 509.6h0.9M603.4 510.2h0.9M610.0 508.3h0.9M612.1 513.0h0.9M594.8 516.0h0.9M604.7 507.8h0.9M614.4 513.3h0.9M609.7 512.5h0.9M610.0 510.6h0.9M616.5 515.0h0.9M608.8 519.9h0.9M631.2 505.2h0.9M635.7 501.2h0.9M601.7 516.1h0.9M623.9 510.9h0.9M596.9 513.5h0.9M620.0 500.3h0.9M629.5 514.9h0.9M621.1 504.0h0.9M604.3 518.2h0.9M630.7 510.7h0.9M629.5 511.0h0.9M631.5 501.5h0.9M612.6 513.6h0.9M610.4 511.3h0.9M600.1 508.4h0.9M612.3 514.7h0.9M635.5 497.7h0.9M613.4 520.7h0.9M632.8 499.5h0.9M600.3 507.3h0.9M614.7 501.7h0.9M595.0 518.2h0.9M619.6 514.4h0.9M607.7 516.8h0.9M610.5 512.1h0.9M623.1 498.5h0.9M633.8 505.6h0.9M604.3 520.2h0.9M630.6 507.2h0.9M614.3 499.7h0.9M607.7 506.0h0.9M620.3 512.3h0.9M598.0 516.4h0.9M613.4 506.4h0.9M622.3 503.3h0.9M628.5 507.7h0.9M610.2 508.8h0.9M620.4 518.3h0.9M615.9 515.7h0.9M615.5 519.6h0.9M634.3 507.9h0.9M625.6 499.7h0.9M596.6 515.8h0.9M609.7 518.5h0.9M619.1 504.6h0.9M596.7 520.2h0.9M622.1 504.0h0.9M626.6 503.7h0.9M610.5 505.9h0.9M621.8 497.7h0.9M626.3 501.2h0.9M633.6 498.7h0.9M630.2 506.4h0.9M607.0 508.8h0.9M599.0 518.5h0.9M611.3 521.5h0.9M610.6 509.1h0.9M629.8 500.8h0.9M629.4 508.5h0.9M613.8 517.6h0.9M619.2 512.9h0.9M600.7 514.0h0.9M624.8 502.8h0.9M631.0 495.5h0.9M634.6 507.8h0.9M610.4 512.0h0.9M613.9 500.9h0.9M606.6 503.6h0.9M629.4 497.0h0.9M619.2 497.8h0.9M631.9 495.4h0.9M599.2 512.8h0.9M630.8 509.0h0.9M604.2 521.4h0.9M609.7 507.0h0.9M623.1 503.7h0.9M620.0 501.1h0.9M617.9 513.3h0.9M626.0 516.6h0.9M612.6 505.1h0.9M625.1 498.4h0.9M615.9 513.7h0.9M627.6 509.4h0.9M602.5 516.4h0.9M613.9 514.1h0.9M610.9 507.6h0.9M608.8 516.5h0.9M631.7 501.2h0.9M626.7 510.3h0.9M616.3 513.4h0.9M624.5 502.7h0.9M629.8 505.3h0.9M606.2 512.6h0.9M611.8 514.0h0.9M636.8 506.9h0.9M604.7 509.4h0.9M596.6 513.9h0.9M629.5 507.6h0.9M619.3 512.7h0.9M632.8 509.8h0.9M616.8 505.6h0.9M634.7 505.1h0.9M601.6 510.9h0.9M632.0 496.4h0.9M633.8 512.8h0.9M628.5 510.5h0.9M617.8 503.0h0.9M623.8 517.1h0.9M627.7 501.7h0.9M604.9 520.2h0.9M620.9 512.9h0.9M626.1 503.3h0.9M613.5 513.5h0.9M615.3 501.0h0.9M615.2 505.4h0.9M628.1 496.4h0.9M609.5 520.8h0.9M632.5 506.4h0.9M595.6 519.8h0.9M619.4 501.6h0.9M615.4 502.0h0.9M609.1 509.5h0.9M594.8 512.7h0.9M635.3 512.1h0.9M612.2 506.6h0.9M631.0 507.0h0.9M606.6 516.7h0.9M603.3 521.9h0.9M619.0 516.0h0.9M600.3 507.1h0.9M626.6 510.1h0.9M608.8 514.1h0.9M606.2 509.9h0.9M564.4 542.5h0.9M568.2 570.3h0.9M562.1 544.8h0.9M553.9 547.5h0.9M562.3 571.7h0.9M574.1 560.9h0.9M572.2 539.5h0.9M544.9 570.6h0.9M562.7 573.6h0.9M550.8 576.2h0.9M560.3 569.1h0.9M558.4 573.8h0.9M573.9 537.8h0.9M556.8 576.5h0.9M578.6 537.7h0.9M557.6 574.6h0.9M567.2 566.0h0.9M551.3 560.3h0.9M563.2 543.9h0.9M554.7 555.9h0.9M575.4 557.7h0.9M558.4 569.8h0.9M581.3 535.2h0.9M546.7 569.8h0.9M557.3 570.1h0.9M565.7 571.3h0.9M570.3 565.8h0.9M557.4 573.8h0.9M575.5 558.3h0.9M563.2 540.1h0.9M553.6 573.8h0.9M547.2 574.2h0.9M555.0 572.2h0.9M551.5 569.2h0.9M579.0 541.9h0.9M572.0 540.5h0.9M550.9 578.7h0.9M568.8 568.3h0.9M549.0 556.3h0.9M552.3 566.6h0.9M552.8 558.0h0.9M566.3 542.6h0.9M545.5 570.8h0.9M571.5 533.2h0.9M547.5 566.5h0.9M577.9 553.5h0.9M575.5 549.4h0.9M572.4 540.4h0.9M580.1 552.3h0.9M581.7 546.4h0.9M567.5 540.6h0.9M563.9 541.4h0.9M581.7 536.5h0.9M571.4 565.5h0.9M548.8 558.8h0.9M551.6 565.7h0.9M560.4 546.5h0.9M572.2 535.0h0.9M544.8 570.1h0.9M569.0 567.4h0.9M547.6 560.2h0.9M575.3 551.8h0.9M552.9 559.8h0.9M575.8 545.4h0.9M552.0 562.2h0.9M553.3 557.0h0.9M553.8 578.3h0.9M564.9 540.2h0.9M573.6 539.3h0.9M559.5 546.4h0.9M582.0 537.8h0.9M551.3 564.1h0.9M566.0 542.6h0.9M556.3 552.8h0.9M571.5 538.4h0.9M556.6 545.3h0.9M544.2 569.6h0.9M554.3 569.5h0.9M544.9 566.8h0.9M551.8 562.7h0.9M571.9 532.9h0.9M564.5 539.9h0.9M579.6 543.2h0.9M581.0 543.6h0.9M567.0 537.2h0.9M556.2 570.1h0.9M546.3 576.4h0.9M568.8 563.4h0.9M550.7 573.5h0.9M555.0 570.4h0.9M562.5 574.2h0.9M559.1 541.4h0.9M551.0 569.6h0.9M554.8 553.3h0.9M572.6 532.6h0.9M552.3 563.3h0.9M562.4 539.7h0.9M553.8 572.0h0.9M575.8 547.3h0.9M574.8 560.7h0.9M571.2 532.4h0.9M575.6 556.2h0.9M580.2 539.0h0.9M555.8 551.5h0.9M577.1 540.7h0.9M562.5 542.1h0.9M567.6 542.0h0.9M558.8 549.1h0.9M557.1 573.5h0.9M560.5 575.1h0.9M559.7 572.6h0.9M551.6 577.5h0.9M557.3 570.1h0.9M570.5 563.0h0.9M564.3 541.1h0.9M577.2 544.7h0.9M548.0 557.5h0.9M559.1 572.4h0.9M573.9 536.0h0.9M544.1 573.1h0.9M575.7 549.3h0.9M552.9 554.9h0.9M557.8 550.7h0.9M549.2 574.2h0.9M579.4 531.5h0.9M562.3 538.0h0.9M559.4 572.9h0.9M552.4 573.8h0.9M573.7 563.5h0.9M575.3 553.9h0.9M552.4 561.2h0.9M569.9 540.1h0.9M576.4 545.9h0.9M575.1 551.2h0.9M551.6 575.5h0.9M570.2 534.5h0.9M576.9 540.6h0.9M571.2 535.2h0.9M546.4 564.6h0.9M561.3 568.6h0.9M569.5 562.2h0.9M548.0 556.8h0.9M574.1 537.8h0.9M566.0 537.0h0.9M557.1 570.6h0.9M573.2 555.8h0.9M578.5 545.1h0.9M571.8 562.3h0.9M548.6 579.1h0.9M580.7 542.2h0.9M551.6 562.0h0.9M575.6 533.5h0.9M557.1 574.0h0.9M571.5 538.5h0.9M551.5 570.9h0.9M573.6 532.1h0.9M566.9 539.9h0.9M561.6 568.4h0.9M558.3 549.9h0.9M571.8 558.9h0.9M573.6 559.1h0.9M570.3 540.9h0.9M575.3 554.1h0.9M564.9 542.0h0.9M549.1 579.0h0.9M574.8 534.7h0.9M549.2 572.7h0.9M580.7 550.2h0.9M559.2 545.8h0.9M548.2 558.6h0.9M563.2 537.8h0.9M581.7 537.2h0.9M557.4 578.0h0.9M546.6 563.0h0.9M578.9 540.1h0.9M561.0 572.2h0.9M553.0 568.7h0.9M552.5 575.2h0.9M574.9 542.0h0.9M548.9 572.6h0.9M576.0 546.7h0.9M563.0 537.9h0.9M560.0 547.5h0.9M568.4 541.5h0.9M573.0 555.8h0.9M553.4 557.6h0.9M563.1 569.4h0.9M568.9 535.4h0.9M575.1 541.7h0.9M549.6 553.4h0.9M561.2 570.2h0.9M560.9 546.5h0.9M554.1 547.5h0.9M547.0 567.5h0.9M550.2 568.4h0.9M557.0 574.9h0.9M580.2 549.0h0.9M579.9 546.4h0.9M565.6 542.7h0.9M575.1 542.0h0.9M578.1 552.9h0.9M565.5 569.1h0.9M555.6 569.9h0.9M572.2 540.9h0.9M555.8 573.3h0.9M572.0 537.1h0.9M555.3 570.6h0.9M552.4 566.7h0.9M571.8 540.4h0.9M547.9 574.9h0.9M549.7 564.9h0.9M552.1 557.0h0.9M553.8 547.7h0.9M575.1 562.1h0.9M556.8 570.7h0.9M577.1 543.9h0.9M564.9 571.7h0.9M549.8 565.9h0.9M575.7 548.6h0.9M576.9 549.9h0.9M562.5 571.8h0.9M567.2 565.7h0.9M577.6 533.4h0.9M576.7 559.0h0.9M548.7 574.7h0.9M568.0 540.6h0.9M554.4 574.8h0.9M548.9 571.7h0.9M579.6 547.2h0.9M551.7 550.5h0.9M564.2 570.2h0.9M576.8 537.4h0.9M571.9 563.5h0.9M574.6 559.5h0.9M551.8 558.6h0.9M572.2 563.4h0.9M553.1 548.7h0.9M576.0 544.9h0.9M556.8 545.5h0.9M580.7 541.6h0.9M569.1 563.5h0.9M579.8 535.1h0.9M575.8 545.5h0.9M553.8 573.6h0.9M550.5 569.9h0.9M579.1 545.9h0.9M575.0 531.2h0.9M557.4 543.4h0.9M552.4 560.5h0.9M553.2 559.1h0.9M576.3 549.9h0.9M582.4 545.0h0.9M577.0 557.6h0.9M549.9 566.3h0.9M553.8 556.4h0.9M546.7 559.9h0.9M552.3 559.8h0.9M550.0 568.2h0.9M572.9 536.5h0.9M569.1 541.4h0.9M571.9 558.2h0.9M556.6 572.6h0.9M559.2 572.5h0.9M575.8 548.2h0.9M571.3 537.5h0.9M545.8 567.8h0.9M556.7 570.1h0.9M550.5 553.5h0.9M562.4 567.9h0.9M568.8 538.3h0.9M567.2 564.2h0.9M549.0 569.2h0.9M555.8 552.3h0.9M560.5 574.5h0.9M550.5 564.6h0.9M561.9 543.4h0.9M579.6 543.7h0.9M555.7 551.4h0.9M553.8 575.3h0.9M552.8 573.2h0.9M580.0 548.8h0.9M556.4 547.6h0.9M546.4 570.7h0.9M578.3 551.1h0.9M574.6 552.7h0.9M552.5 558.6h0.9M554.7 555.9h0.9M552.9 555.9h0.9M583.3 542.5h0.9M576.6 554.2h0.9M578.1 534.8h0.9M560.2 543.7h0.9M575.4 539.1h0.9M555.3 552.6h0.9M566.8 535.2h0.9M563.7 537.4h0.9M577.3 547.9h0.9M556.2 548.4h0.9M549.5 565.8h0.9M546.6 568.6h0.9M577.7 535.6h0.9M581.1 534.8h0.9M580.7 541.5h0.9M580.4 535.5h0.9M552.5 577.4h0.9M564.0 570.6h0.9M557.6 570.4h0.9M576.0 545.4h0.9M552.0 560.9h0.9M548.7 572.1h0.9M552.9 569.3h0.9M573.7 554.8h0.9M564.8 570.8h0.9M547.3 565.4h0.9M559.8 545.2h0.9M560.5 541.1h0.9M548.2 578.1h0.9M549.4 558.4h0.9M578.3 536.1h0.9M571.4 537.2h0.9" stroke="#ff2828" stroke-width="0.9" opacity="0.4"/>
<ellipse cx="620" cy="508.5" rx="7.7" ry="2.4" transform="rotate(-20 620 508.5)" fill="#ff3030" opacity="0.3"/>
<path d="M630.0 503.7h1M622.0 509.0h1M617.2 509.4h1M622.0 512.5h1M607.8 514.1h1M624.8 508.2h1M621.0 506.1h1M629.1 507.5h1M623.4 508.1h1M623.0 508.9h1M617.9 510.7h1M615.9 506.6h1M622.8 513.2h1M624.5 506.0h1M615.3 510.4h1M623.8 507.9h1M613.6 508.5h1M622.4 510.2h1M619.5 507.8h1M622.5 508.3h1M625.9 502.5h1M620.8 505.3h1M622.0 508.3h1M627.2 506.0h1M623.7 510.3h1M620.7 507.0h1M609.3 511.7h1M630.4 506.7h1M614.7 510.8h1M618.0 508.5h1M622.1 508.1h1M620.0 507.3h1M621.9 508.3h1M620.5 511.3h1M615.5 508.4h1M629.2 506.8h1M622.1 509.3h1M618.6 507.6h1M617.5 510.4h1M629.6 503.2h1M627.7 502.0h1M624.3 507.4h1M622.6 506.8h1M614.2 514.0h1M618.3 506.5h1M621.9 507.0h1M621.1 507.0h1M622.9 507.6h1M621.1 507.4h1M622.0 511.1h1M611.1 514.1h1M620.5 509.8h1M619.2 507.1h1M618.3 506.6h1M632.4 503.4h1M617.7 504.8h1M608.1 510.5h1M609.6 515.1h1M614.8 508.5h1M616.3 512.5h1M616.7 510.2h1M621.4 503.3h1M628.4 506.5h1M622.7 508.7h1M615.7 510.2h1M615.1 512.8h1M622.6 511.3h1M609.6 513.7h1M618.9 511.2h1M616.3 509.8h1M616.9 510.5h1M619.6 510.0h1M618.9 506.9h1M622.4 507.4h1M618.4 511.1h1M617.4 507.2h1M614.3 514.4h1M623.7 508.2h1M620.8 510.0h1M632.6 506.5h1M621.9 507.0h1M613.1 506.9h1M627.9 505.4h1M620.1 509.4h1M623.3 508.0h1M615.2 511.6h1M614.2 515.1h1M611.1 507.2h1M617.7 508.9h1M613.0 512.2h1M621.0 505.3h1M621.1 510.8h1M609.7 509.6h1M622.0 507.6h1M630.1 505.5h1M615.2 510.3h1M614.0 512.4h1M617.9 505.6h1M622.0 511.3h1M632.3 503.6h1M619.0 503.6h1M619.2 507.9h1M612.6 508.0h1M607.8 510.8h1M624.3 503.1h1M623.5 511.9h1M616.0 508.2h1M627.0 505.8h1M617.9 509.5h1M627.2 509.4h1M622.3 508.5h1M613.5 509.1h1M611.9 508.4h1M632.6 506.4h1M625.7 502.9h1M618.5 512.2h1M620.3 510.7h1M622.3 505.1h1M619.1 505.3h1M627.3 504.6h1M607.9 512.0h1M618.0 505.3h1M623.5 508.1h1M622.6 506.3h1M615.1 508.6h1M618.4 510.5h1M615.5 511.1h1M621.6 508.6h1M627.8 504.6h1M624.7 501.9h1M607.5 513.5h1M615.1 509.5h1M628.7 503.2h1M625.4 504.6h1M618.2 508.2h1M623.3 509.5h1M608.4 511.3h1M627.9 508.1h1M623.4 507.7h1M618.8 507.2h1M613.4 511.5h1M615.2 512.6h1M614.0 512.0h1M612.3 508.1h1M626.0 503.2h1M625.9 509.9h1M625.1 508.4h1M621.7 509.1h1M611.4 507.5h1M617.9 509.0h1M619.8 509.5h1M626.8 504.1h1M610.7 511.2h1M629.8 507.5h1M619.1 509.7h1M622.7 509.6h1M622.1 505.7h1M622.2 507.9h1M622.3 508.1h1M619.0 510.9h1M616.3 511.1h1M617.0 509.1h1M620.0 506.8h1M624.6 507.1h1M626.6 503.6h1M621.0 510.4h1M623.8 507.9h1M614.8 509.5h1M615.0 508.2h1M613.1 510.6h1M622.6 508.8h1M620.8 506.9h1M627.9 505.4h1M618.7 510.0h1M613.0 514.5h1M617.6 510.3h1M620.9 510.5h1M625.5 506.3h1M622.6 511.5h1M615.8 508.7h1M617.1 508.5h1M624.4 507.6h1M626.4 501.7h1M622.1 509.1h1M624.2 512.2h1M619.1 510.0h1M620.6 512.5h1M622.2 508.5h1M618.9 510.4h1M613.3 507.0h1M616.0 508.6h1M616.6 510.9h1M623.9 506.2h1M608.0 509.9h1M615.1 513.2h1M622.8 507.6h1M617.2 510.9h1M624.0 506.9h1M618.9 503.2h1M616.4 512.8h1M612.6 512.5h1M623.4 507.6h1M616.2 507.8h1M617.8 508.5h1M611.9 510.4h1M616.3 508.3h1M614.2 514.6h1M617.8 508.7h1M622.2 506.4h1M618.9 509.7h1M622.8 507.0h1M624.2 504.2h1M613.2 514.4h1M627.6 505.6h1M620.7 509.3h1M629.7 505.1h1M625.8 509.2h1M616.1 513.1h1M612.1 512.4h1M616.9 511.5h1M616.3 508.2h1M613.8 510.8h1M612.2 506.2h1M619.5 507.8h1M619.1 510.1h1M623.2 506.4h1M623.2 505.6h1M629.0 505.2h1M624.2 508.5h1M625.0 508.2h1M614.3 509.1h1M620.9 507.4h1M619.8 509.5h1M614.0 507.6h1M623.0 504.8h1M626.1 502.8h1M609.5 509.8h1M617.9 509.2h1M620.5 511.9h1M615.1 509.3h1" stroke="#ff0000" stroke-width="1" opacity="0.55"/>
<polygon points="569.3,559.35 568.13,560.86 566.9,562.28 565.61,563.58 564.29,564.75 562.97,565.76 561.67,566.59 560.41,567.23 559.21,567.67 558.09,567.9 557.07,567.92 556.17,567.73 555.41,567.33 554.79,566.72 554.33,565.93 554.03,564.95 553.91,563.82 553.96,562.54 554.18,561.14 554.56,559.64 555.11,558.08 555.81,556.47 556.66,554.84 557.62,553.23 558.7,551.65 559.87,550.14 561.1,548.72 562.39,547.42 563.71,546.25 565.03,545.24 566.33,544.41 567.59,543.77 568.79,543.33 569.91,543.1 570.93,543.08 571.83,543.27 572.59,543.67 573.21,544.28 573.67,545.07 573.97,546.05 574.09,547.18 574.04,548.46 573.82,549.86 573.44,551.36 572.89,552.92 572.19,554.53 571.34,556.16 570.38,557.77" fill="#ff0000"/>
<path d="M574.6 540.6h1M577.0 547.4h1M570.1 544.2h1M553.7 567.5h1M563.5 547.4h1M561.9 545.9h1M560.4 568.6h1M554.2 572.7h1M573.3 540.9h1M557.1 550.0h1M560.2 567.7h1M561.0 565.8h1M573.8 547.5h1M569.7 561.1h1M573.3 554.5h1M569.9 557.8h1M556.0 565.4h1M564.2 566.6h1M561.7 549.0h1M559.2 552.2h1M561.1 549.1h1M555.2 563.7h1M564.4 566.3h1M568.4 543.2h1M561.1 546.6h1M576.2 545.9h1M572.0 554.0h1M570.2 543.5h1M571.9 553.3h1M562.0 567.8h1M568.2 541.9h1M559.2 567.3h1M568.6 544.7h1M551.1 566.0h1M551.0 570.8h1M553.0 564.0h1M560.7 566.8h1M553.0 567.2h1M565.8 543.9h1M553.7 560.8h1M551.9 567.1h1M573.9 556.7h1M565.1 543.5h1M573.5 545.4h1M561.2 548.6h1M577.3 545.0h1M570.5 541.1h1M569.8 558.0h1M563.8 543.6h1M572.0 544.2h1M558.1 570.3h1M561.2 565.9h1M573.8 549.6h1M558.0 568.3h1M553.7 562.7h1M551.9 560.9h1M568.5 543.6h1M570.7 543.3h1M558.9 551.8h1M559.7 547.4h1M558.1 569.9h1M551.1 562.0h1M573.0 550.1h1M554.6 565.2h1M567.7 543.7h1M565.5 545.1h1M552.2 561.7h1M566.6 545.2h1M555.0 563.0h1M573.3 550.6h1M573.1 547.7h1M558.1 572.1h1M553.4 567.0h1M571.1 540.0h1M559.3 568.5h1M576.3 547.0h1M566.4 541.7h1M572.4 553.1h1M550.0 566.3h1M574.9 540.8h1M573.5 547.0h1M577.6 545.3h1M572.7 546.4h1M551.2 567.5h1M561.4 547.7h1M567.4 544.3h1M573.4 546.6h1M574.0 538.7h1M576.4 545.8h1M567.1 541.8h1M562.5 544.9h1M555.0 568.4h1M566.0 545.4h1M571.7 559.3h1M573.3 544.4h1M561.5 567.0h1M570.3 542.1h1M558.5 571.5h1M562.1 565.7h1M552.4 567.6h1M572.7 541.6h1M560.8 569.0h1M555.1 564.1h1M576.3 549.1h1M550.0 568.4h1M573.1 549.7h1M559.1 566.4h1M572.4 543.2h1M559.6 566.3h1M560.8 547.4h1M556.6 572.5h1M576.9 541.4h1M550.1 566.9h1M557.3 553.9h1M557.8 553.8h1M552.0 564.8h1M573.5 550.4h1M551.2 567.2h1M569.1 543.8h1M561.9 543.9h1M569.6 539.9h1M576.8 540.3h1M553.0 563.8h1M561.6 568.0h1M576.0 542.9h1M573.0 548.3h1M551.5 570.9h1M560.3 547.8h1M562.0 568.5h1M561.9 546.1h1M558.9 548.7h1M553.3 560.7h1M572.8 545.8h1M562.7 565.5h1M555.2 558.9h1M551.7 563.3h1M554.8 561.2h1M558.2 568.4h1M572.8 550.9h1M558.5 551.6h1M560.2 566.4h1M553.2 569.3h1M564.6 564.6h1M563.6 567.3h1M575.8 543.9h1M555.3 555.8h1M572.6 546.0h1M555.4 560.0h1M573.5 547.9h1M561.5 569.4h1M574.2 554.8h1M570.9 559.8h1M573.9 549.0h1M571.6 554.7h1M573.3 545.3h1M571.8 544.5h1M555.6 572.1h1M553.5 564.3h1M562.3 547.3h1M552.1 559.4h1M564.5 545.3h1M555.4 557.9h1M557.8 548.6h1M562.2 567.1h1M561.2 549.7h1M556.3 555.1h1M556.5 566.4h1M571.7 553.7h1M561.9 548.5h1M575.6 540.0h1M554.4 556.9h1M565.7 541.6h1M551.0 561.1h1M561.0 569.4h1M573.0 550.3h1M554.5 570.9h1M576.1 548.7h1M557.4 554.8h1M553.3 564.3h1M571.5 558.4h1M566.3 542.8h1M572.1 553.8h1M562.8 547.4h1M571.5 554.3h1M558.4 566.6h1M576.0 540.1h1M553.9 561.7h1M560.3 567.4h1M574.9 541.5h1M560.0 569.7h1M574.3 549.7h1M568.9 540.6h1M561.2 570.0h1M568.1 542.8h1M567.9 544.8h1M560.8 567.9h1M565.6 562.6h1M553.0 565.3h1M553.5 571.8h1M555.1 562.3h1M570.1 544.4h1M569.2 560.7h1M564.9 564.7h1M573.7 552.7h1M573.1 558.5h1M566.8 542.9h1M563.8 546.1h1M562.2 566.5h1M571.8 553.5h1M576.0 553.3h1M561.2 566.7h1M554.4 571.0h1M567.5 565.3h1M567.0 544.0h1M555.0 561.8h1M575.2 547.3h1M570.9 559.1h1M552.9 555.8h1M566.8 562.2h1M556.4 566.1h1M571.3 554.6h1M554.7 557.4h1M554.5 561.3h1M573.8 555.2h1M575.7 546.9h1M567.2 566.0h1M554.4 566.1h1M558.4 552.1h1M564.5 564.1h1M571.5 541.5h1M560.8 548.3h1M551.4 563.2h1M572.6 556.2h1M570.0 543.6h1M557.5 554.7h1M577.0 540.7h1M567.2 561.0h1M563.1 566.4h1M565.6 563.5h1M567.0 561.1h1M564.6 565.1h1M575.3 551.6h1M557.5 569.2h1M573.1 547.7h1M551.8 562.3h1M555.6 557.2h1M572.8 550.5h1M569.7 544.1h1M553.4 567.9h1M564.7 568.2h1M570.2 557.0h1M566.8 545.2h1M572.4 556.9h1M555.6 558.0h1M566.9 541.7h1M573.4 540.7h1M562.1 567.3h1M572.3 545.4h1M552.5 560.5h1M571.9 543.0h1M570.5 541.7h1M575.8 542.9h1M557.6 566.3h1M571.5 555.3h1M552.7 556.3h1M555.7 552.4h1M551.9 558.9h1M556.2 571.6h1M559.5 547.1h1M572.6 545.6h1M574.0 539.8h1M572.9 546.1h1M568.3 561.5h1M557.8 549.0h1M577.7 546.2h1M573.1 545.7h1M556.7 555.3h1M571.9 543.7h1M565.3 543.3h1M561.2 548.6h1M576.2 540.9h1M573.2 555.8h1M555.0 561.8h1M570.1 541.6h1M556.4 566.9h1M555.2 565.2h1M572.1 545.7h1M574.3 551.1h1M559.9 566.8h1M574.8 542.7h1M561.0 549.6h1M558.1 551.5h1M556.4 556.8h1M571.3 555.9h1M555.5 568.2h1M561.8 566.1h1M568.8 560.4h1M555.9 567.6h1M554.4 564.6h1M571.3 559.0h1M564.4 563.6h1M555.4 572.5h1M574.8 544.1h1M552.7 565.5h1M559.0 566.3h1M576.4 545.2h1M554.9 563.6h1M571.3 557.4h1M561.9 565.9h1M559.4 566.4h1M566.5 544.6h1M554.6 559.5h1M551.4 565.7h1M563.1 567.6h1M575.6 551.6h1M562.2 544.6h1M574.1 555.5h1M565.6 564.1h1M564.1 564.7h1M563.4 568.8h1M557.0 567.4h1M566.4 565.5h1M553.8 564.3h1M571.1 542.0h1M557.7 548.6h1M552.8 556.2h1M550.7 562.6h1M575.1 546.1h1M554.7 557.3h1M555.0 561.6h1M572.3 544.3h1M573.5 542.3h1M550.8 568.6h1M557.3 566.7h1M556.5 552.5h1M573.1 540.6h1M554.4 556.5h1M554.9 561.9h1M564.8 544.2h1M567.8 544.8h1M566.1 543.2h1M556.7 556.4h1M565.5 545.7h1M573.8 549.4h1M556.2 555.3h1M569.7 558.4h1M562.5 546.4h1M570.1 544.5h1M573.3 548.1h1M560.4 548.3h1M567.1 561.9h1M561.3 547.9h1M556.2 555.7h1M569.0 559.0h1M569.1 540.3h1M570.5 544.0h1M572.9 549.7h1M564.3 568.3h1M562.2 547.1h1M552.4 564.0h1M574.0 546.4h1M559.6 566.4h1M564.1 563.8h1M577.0 546.2h1M550.1 566.5h1M555.1 556.8h1M555.1 572.3h1M563.7 545.0h1M575.1 540.7h1M573.9 545.4h1M574.6 556.0h1M552.1 565.8h1M552.0 565.0h1M557.2 572.5h1M555.7 566.7h1M556.8 566.7h1M552.4 557.7h1M559.7 550.6h1M570.1 560.5h1M569.2 540.5h1M575.2 540.8h1M572.8 545.9h1M574.3 541.2h1M575.0 544.8h1M565.1 543.4h1M571.4 555.0h1M555.5 552.6h1M556.5 555.3h1M565.3 544.3h1M554.2 558.4h1M565.5 564.6h1M559.8 567.1h1M564.3 545.4h1M562.7 544.8h1M560.2 569.9h1M551.9 569.3h1M553.3 556.6h1M553.5 558.8h1M555.6 568.5h1M556.4 565.8h1M553.8 561.4h1M569.6 559.8h1M572.0 543.7h1M560.9 566.0h1M560.0 568.2h1M574.1 546.8h1M572.5 554.9h1M556.8 567.4h1M572.8 557.4h1M556.6 555.3h1M554.8 554.8h1M570.4 560.2h1M567.8 541.6h1M565.7 566.7h1M553.8 570.6h1M559.7 566.4h1M575.8 539.2h1M562.4 548.4h1M562.6 565.2h1M555.5 571.4h1M553.0 570.0h1M570.8 555.8h1M554.1 553.9h1M571.9 558.5h1M564.1 546.4h1M561.8 566.0h1M569.1 560.3h1M551.5 565.6h1M553.6 564.9h1M564.3 566.2h1M560.6 567.9h1M555.1 560.7h1M566.3 562.8h1M574.0 554.4h1M572.3 556.6h1M560.0 548.2h1M552.7 562.3h1M557.2 552.7h1M560.2 550.3h1M556.5 566.2h1M551.6 567.9h1M576.7 542.8h1M563.1 566.4h1M553.2 556.4h1M571.9 543.4h1M555.2 559.7h1M550.7 566.7h1M573.2 543.5h1M555.0 556.0h1M571.7 557.7h1M573.0 545.2h1M573.2 543.2h1M560.9 548.1h1M563.4 545.4h1M561.4 566.6h1M570.5 556.8h1M558.5 570.6h1M576.1 540.0h1M556.4 554.2h1M558.6 567.0h1M569.0 542.1h1M555.4 565.2h1M568.3 543.8h1M570.3 541.5h1M567.7 544.8h1M554.6 559.3h1M561.5 547.6h1M554.2 564.6h1M569.8 544.5h1M555.5 572.8h1M560.4 547.6h1M571.4 540.2h1M555.8 565.2h1M559.1 548.8h1M569.0 560.8h1M569.1 561.0h1M560.6 545.2h1M555.2 569.1h1M562.0 565.9h1M567.1 545.0h1M565.5 563.6h1M553.1 555.8h1M573.1 557.8h1M557.2 555.4h1M558.5 550.7h1M554.6 560.1h1M572.5 552.7h1M550.2 567.6h1M566.9 544.7h1M563.9 546.2h1M571.0 559.3h1M556.8 569.4h1M553.7 570.8h1M550.9 566.6h1M567.7 544.5h1M576.5 550.8h1M556.9 551.6h1M569.6 558.0h1M571.1 555.1h1M564.2 542.3h1M572.5 551.9h1M575.1 539.5h1M556.7 551.8h1M557.8 567.1h1M569.8 543.8h1M559.8 549.6h1M572.8 552.1h1M567.2 562.5h1M570.3 544.5h1M568.0 563.6h1M556.2 567.5h1M568.7 540.6h1M572.8 545.0h1M573.7 543.8h1M556.8 566.4h1M555.3 560.2h1M563.6 545.2h1M554.7 561.4h1M553.3 567.9h1M551.7 567.2h1" stroke="#ff0000" stroke-width="1" opacity="0.9"/>
</g>
<rect x="527.1" y="488.3" width="111" height="96.4" fill="none" stroke="#858585" stroke-width="1.1"/>
<line x1="580.6" y1="488.3" x2="580.6" y2="584.7" stroke="#7a7a7a" stroke-width="1"/>
<line x1="527.1" y1="534.2" x2="638.1" y2="534.2" stroke="#7a7a7a" stroke-width="1"/>
<path d="M524.9,584.7H527.1M527.1,584.7V586.9M525.8,577.45H527.1M535.45,584.7V586M525.8,573.2H527.1M540.34,584.7V586M525.8,570.19H527.1M543.81,584.7V586M525.8,567.85H527.1M546.5,584.7V586M525.8,565.95H527.1M548.69,584.7V586M525.8,564.33H527.1M550.55,584.7V586M525.8,562.94H527.1M552.16,584.7V586M525.8,561.7H527.1M553.58,584.7V586M524.9,560.6H527.1M554.85,584.7V586.9M525.8,553.35H527.1M563.2,584.7V586M525.8,549.1H527.1M568.09,584.7V586M525.8,546.09H527.1M571.56,584.7V586M525.8,543.75H527.1M574.25,584.7V586M525.8,541.85H527.1M576.44,584.7V586M525.8,540.23H527.1M578.3,584.7V586M525.8,538.84H527.1M579.91,584.7V586M525.8,537.6H527.1M581.33,584.7V586M524.9,536.5H527.1M582.6,584.7V586.9M525.8,529.25H527.1M590.95,584.7V586M525.8,525H527.1M595.84,584.7V586M525.8,521.99H527.1M599.31,584.7V586M525.8,519.65H527.1M602,584.7V586M525.8,517.75H527.1M604.19,584.7V586M525.8,516.13H527.1M606.05,584.7V586M525.8,514.74H527.1M607.66,584.7V586M525.8,513.5H527.1M609.08,584.7V586M524.9,512.4H527.1M610.35,584.7V586.9M525.8,505.15H527.1M618.7,584.7V586M525.8,500.9H527.1M623.59,584.7V586M525.8,497.89H527.1M627.06,584.7V586M525.8,495.55H527.1M629.75,584.7V586M525.8,493.65H527.1M631.94,584.7V586M525.8,492.03H527.1M633.8,584.7V586M525.8,490.64H527.1M635.41,584.7V586M525.8,489.4H527.1M636.83,584.7V586" stroke="#999" stroke-width="0.5" fill="none"/>
<text x="523.1" y="563.2" font-size="7.3" fill="#505050" text-anchor="end">10<tspan dy="-2.7" font-size="4.8">0</tspan></text>
<text x="523.1" y="539.1" font-size="7.3" fill="#505050" text-anchor="end">10<tspan dy="-2.7" font-size="4.8">1</tspan></text>
<text x="523.1" y="515" font-size="7.3" fill="#505050" text-anchor="end">10<tspan dy="-2.7" font-size="4.8">2</tspan></text>
<text x="523.1" y="490.9" font-size="7.3" fill="#505050" text-anchor="end">10<tspan dy="-2.7" font-size="4.8">3</tspan></text>
<text x="555.45" y="593.3" font-size="7.3" fill="#505050" text-anchor="middle">10<tspan dy="-2.7" font-size="4.8">0</tspan></text>
<text x="583.2" y="593.3" font-size="7.3" fill="#505050" text-anchor="middle">10<tspan dy="-2.7" font-size="4.8">1</tspan></text>
<text x="610.95" y="593.3" font-size="7.3" fill="#505050" text-anchor="middle">10<tspan dy="-2.7" font-size="4.8">2</tspan></text>
<text x="638.7" y="593.3" font-size="7.3" fill="#505050" text-anchor="middle">10<tspan dy="-2.7" font-size="4.8">3</tspan></text>
<text x="528.1" y="498.9" font-size="8.2" fill="#222">F1</text>
<text x="540.9" y="509.7" font-size="8.2" fill="#222" text-anchor="middle">0.1%</text>
<text x="581.6" y="498.9" font-size="8.2" fill="#222">F2</text>
<text x="594.4" y="509.7" font-size="8.2" fill="#222" text-anchor="middle">5.9%</text>
<text x="528.1" y="544.8" font-size="8.2" fill="#222">F3</text>
<text x="540.9" y="555.6" font-size="8.2" fill="#222" text-anchor="middle">92.4%</text>
<text x="581.6" y="544.8" font-size="8.2" fill="#222">F4</text>
<text x="594.4" y="555.6" font-size="8.2" fill="#222" text-anchor="middle">1.7%</text>
<rect x="394.3" y="607" width="110.7" height="96.3" fill="#fff"/>
<clipPath id="cp17"><rect x="394.3" y="607" width="110.7" height="96.3"/></clipPath>
<g clip-path="url(#cp17)">
<path d="M484.9 628.3h0.9M440.2 653.9h0.9M462.2 641.1h0.9M430.6 665.4h0.9M475.0 644.8h0.9M442.7 670.0h0.9M459.2 640.4h0.9M479.2 617.4h0.9M437.6 639.6h0.9M495.4 638.0h0.9M468.4 641.7h0.9M448.6 649.8h0.9M473.6 623.7h0.9M487.6 633.1h0.9M432.2 656.0h0.9M458.6 640.1h0.9M476.8 625.9h0.9M463.2 654.8h0.9M425.1 665.8h0.9M438.5 653.7h0.9M484.1 632.7h0.9M457.1 640.4h0.9M450.8 658.5h0.9M494.0 626.5h0.9M439.6 658.6h0.9M427.1 685.6h0.9M422.4 674.6h0.9M428.4 670.2h0.9M452.6 663.6h0.9M466.3 648.4h0.9M430.2 659.5h0.9M454.7 667.5h0.9M443.9 675.0h0.9M467.7 654.4h0.9M440.5 669.2h0.9M475.8 625.4h0.9M472.4 645.3h0.9M461.3 647.9h0.9M454.8 651.9h0.9M487.0 631.2h0.9M451.3 653.6h0.9M463.3 652.8h0.9M438.8 666.3h0.9M445.4 660.1h0.9M477.1 639.7h0.9M469.5 642.6h0.9M464.2 666.6h0.9M487.8 643.3h0.9M467.3 655.8h0.9M425.6 671.1h0.9M462.8 645.1h0.9M442.3 673.0h0.9M474.6 645.1h0.9M472.0 633.2h0.9M480.1 642.1h0.9M465.1 630.3h0.9M447.3 658.2h0.9M427.6 656.1h0.9M450.9 666.6h0.9M497.0 622.6h0.9M455.2 660.5h0.9M480.1 635.0h0.9M445.8 640.2h0.9M450.3 654.2h0.9M469.5 633.6h0.9M485.4 630.7h0.9M454.8 652.2h0.9M478.8 632.3h0.9M482.2 620.9h0.9M446.1 655.3h0.9M450.6 655.9h0.9M450.6 651.8h0.9M440.5 660.6h0.9M457.5 656.2h0.9M475.1 624.6h0.9M465.4 644.6h0.9M451.0 650.6h0.9M440.0 656.9h0.9M449.7 653.8h0.9M487.9 636.8h0.9M482.3 624.1h0.9M459.5 650.1h0.9M496.9 629.3h0.9M474.1 634.6h0.9M448.0 652.7h0.9M457.3 634.6h0.9M456.8 650.2h0.9M471.2 635.5h0.9M438.3 667.4h0.9M440.9 661.0h0.9M447.2 659.3h0.9M433.3 673.3h0.9M486.6 623.5h0.9M448.8 656.8h0.9M446.2 663.0h0.9M489.4 622.8h0.9M445.1 660.2h0.9M462.4 637.5h0.9M447.7 658.3h0.9M473.7 649.5h0.9M444.9 671.8h0.9M458.3 658.3h0.9M489.6 625.2h0.9M448.3 654.5h0.9M434.3 659.8h0.9M459.8 633.7h0.9M436.7 651.9h0.9M445.5 650.7h0.9M447.9 639.4h0.9M442.9 667.3h0.9M456.1 646.3h0.9M461.1 648.9h0.9M451.1 655.2h0.9M467.4 636.0h0.9M467.1 636.5h0.9M475.0 637.8h0.9M459.3 651.0h0.9M477.8 634.0h0.9M472.9 648.8h0.9M431.3 667.3h0.9M471.8 653.4h0.9M462.4 678.0h0.9M489.6 620.6h0.9M429.2 663.4h0.9M488.8 630.1h0.9M442.1 668.6h0.9M489.7 626.9h0.9M467.5 637.9h0.9M473.1 650.8h0.9M427.3 668.8h0.9M451.1 651.0h0.9M433.4 666.5h0.9M435.2 656.9h0.9M462.3 662.1h0.9M442.0 661.6h0.9M477.6 648.4h0.9M438.6 654.1h0.9M454.5 646.8h0.9M468.5 639.6h0.9M465.0 634.4h0.9M446.6 642.2h0.9M454.5 647.6h0.9M492.8 629.6h0.9M472.6 657.9h0.9M462.2 643.5h0.9M486.8 625.6h0.9M441.4 672.9h0.9M459.7 648.1h0.9M476.5 631.0h0.9M449.5 680.8h0.9M479.4 655.1h0.9M472.1 683.3h0.9M451.4 653.4h0.9M455.5 668.9h0.9M461.2 654.7h0.9M481.4 678.0h0.9M480.3 668.1h0.9M471.4 667.5h0.9M451.9 686.7h0.9M481.6 653.9h0.9M475.1 670.2h0.9M454.0 686.1h0.9M457.9 664.7h0.9M481.2 667.1h0.9M480.9 653.2h0.9M452.3 673.2h0.9M467.4 671.1h0.9M474.5 675.6h0.9M464.3 661.0h0.9M449.5 664.0h0.9M452.6 675.3h0.9M474.6 680.8h0.9M475.6 666.0h0.9M480.9 674.0h0.9M475.6 687.5h0.9M472.6 680.2h0.9M475.2 679.9h0.9M479.6 663.8h0.9M467.3 665.3h0.9M468.8 662.7h0.9M477.4 669.3h0.9M481.7 663.4h0.9M474.4 665.4h0.9M468.9 669.6h0.9M451.3 677.0h0.9M480.4 661.7h0.9M451.5 655.6h0.9M471.7 687.1h0.9M451.7 659.5h0.9M474.9 667.0h0.9M479.1 677.3h0.9M474.5 686.2h0.9M461.4 657.2h0.9M452.9 685.8h0.9M466.0 660.9h0.9M482.0 658.9h0.9M451.5 659.7h0.9M449.2 668.2h0.9M459.8 682.8h0.9M413.5 622.6h0.9M463.3 643.7h0.9M485.5 616.1h0.9M400.5 658.3h0.9M433.5 647.2h0.9M436.2 684.5h0.9M417.8 631.5h0.9M429.7 622.8h0.9M400.5 680.6h0.9M484.5 609.9h0.9M418.9 673.4h0.9M429.6 611.9h0.9M457.4 701.8h0.9M413.2 673.4h0.9M464.5 690.0h0.9M408.9 663.6h0.9M416.6 666.2h0.9M413.3 632.8h0.9M491.8 687.0h0.9M500.2 627.8h0.9M482.6 626.2h0.9M471.2 629.4h0.9M497.6 618.4h0.9M495.7 632.6h0.9M499.6 613.6h0.9M480.3 630.0h0.9M484.0 624.3h0.9M487.3 637.2h0.9M501.1 620.3h0.9M498.0 617.6h0.9M471.9 635.9h0.9M487.0 632.6h0.9M481.6 625.0h0.9M481.6 621.3h0.9M475.2 631.4h0.9M489.0 631.4h0.9M502.4 623.2h0.9M484.4 624.6h0.9M493.6 620.5h0.9M487.6 630.6h0.9M477.2 632.4h0.9M487.4 631.6h0.9M499.8 617.5h0.9M487.1 623.1h0.9M485.3 630.5h0.9M471.8 638.6h0.9M473.7 632.6h0.9M501.8 622.9h0.9M473.5 628.7h0.9M491.9 620.5h0.9M484.4 620.9h0.9M483.5 630.0h0.9M497.1 616.2h0.9M503.3 620.8h0.9M486.0 634.7h0.9M500.8 622.1h0.9M486.5 621.6h0.9M486.5 622.9h0.9M489.1 635.4h0.9M487.6 622.2h0.9M495.8 614.4h0.9M471.5 633.1h0.9M476.4 632.9h0.9M494.7 618.8h0.9M474.4 632.5h0.9M487.8 630.1h0.9M494.0 619.6h0.9M490.2 620.3h0.9M501.2 630.1h0.9M499.6 619.1h0.9M503.3 621.0h0.9M484.0 625.8h0.9M480.9 635.4h0.9M473.5 628.6h0.9M495.0 620.1h0.9M492.7 619.0h0.9M476.9 631.9h0.9M488.9 619.2h0.9M484.3 631.8h0.9M496.0 619.7h0.9M487.6 631.4h0.9M499.9 624.0h0.9M502.3 619.8h0.9M484.5 621.8h0.9M502.0 622.7h0.9M482.8 630.9h0.9M482.3 624.1h0.9M482.9 620.5h0.9M477.8 626.8h0.9M491.0 629.4h0.9M501.9 616.4h0.9M499.1 625.5h0.9M492.5 634.2h0.9M483.3 620.4h0.9M496.6 613.4h0.9M479.4 627.1h0.9M487.7 635.1h0.9M501.4 623.0h0.9M471.3 627.3h0.9M490.3 630.2h0.9M491.3 633.7h0.9M487.1 630.0h0.9M498.1 626.1h0.9M479.2 631.5h0.9M479.3 622.4h0.9M483.3 623.6h0.9M501.4 617.8h0.9M490.0 629.6h0.9M489.7 630.1h0.9M487.2 623.2h0.9M502.6 628.2h0.9M501.6 618.5h0.9M474.3 633.5h0.9M496.2 628.8h0.9M480.9 620.4h0.9M494.3 613.3h0.9M484.8 630.7h0.9M500.3 621.1h0.9M488.8 629.9h0.9M476.8 633.5h0.9M499.2 616.5h0.9M483.1 624.5h0.9M479.1 625.2h0.9M495.0 620.0h0.9M486.1 630.3h0.9M489.8 630.0h0.9M487.0 634.1h0.9M486.1 621.5h0.9M494.2 629.3h0.9M492.9 632.6h0.9M497.4 627.1h0.9M488.5 618.0h0.9M488.8 621.5h0.9M493.0 617.6h0.9M484.9 625.6h0.9M485.0 625.3h0.9M477.2 622.7h0.9M482.4 630.2h0.9M488.0 634.6h0.9M483.1 621.8h0.9M488.4 620.8h0.9M493.1 619.2h0.9M503.2 621.7h0.9M478.7 631.9h0.9M484.0 630.4h0.9M473.3 630.8h0.9M494.9 628.3h0.9M482.7 620.2h0.9M482.6 620.4h0.9M486.5 620.6h0.9M502.9 621.0h0.9M491.4 629.4h0.9M503.7 621.5h0.9M503.0 622.1h0.9M498.3 626.3h0.9M494.0 617.8h0.9M485.8 624.1h0.9M421.6 689.5h0.9M444.7 649.7h0.9M435.6 652.7h0.9M438.9 677.0h0.9M436.3 654.1h0.9M431.4 686.8h0.9M438.9 681.2h0.9M445.1 662.2h0.9M442.1 665.2h0.9M418.6 667.6h0.9M416.0 685.9h0.9M423.0 663.0h0.9M415.8 678.2h0.9M417.4 689.4h0.9M444.3 657.1h0.9M428.6 686.0h0.9M427.7 661.2h0.9M429.6 683.3h0.9M419.8 668.3h0.9M443.1 658.0h0.9M428.5 654.5h0.9M429.3 660.8h0.9M436.0 684.0h0.9M424.3 687.2h0.9M427.8 660.3h0.9M415.3 692.0h0.9M442.1 670.6h0.9M440.8 670.8h0.9M419.4 688.1h0.9M437.6 675.1h0.9M432.3 654.9h0.9M443.6 654.7h0.9M443.3 648.9h0.9M412.4 681.8h0.9M431.5 656.4h0.9M420.6 686.6h0.9M435.6 653.8h0.9M419.0 688.8h0.9M438.2 653.3h0.9M418.0 685.5h0.9M420.3 687.2h0.9M440.4 670.9h0.9M438.1 655.5h0.9M441.3 668.7h0.9M430.1 688.4h0.9M442.0 666.0h0.9M440.8 669.0h0.9M426.7 656.9h0.9M435.5 683.2h0.9M440.2 672.3h0.9M444.6 660.6h0.9M446.0 656.7h0.9M416.2 689.7h0.9M439.0 656.2h0.9M446.3 658.6h0.9M425.9 686.4h0.9M422.0 662.0h0.9M418.4 674.3h0.9M430.6 658.7h0.9M442.2 676.6h0.9M445.2 652.6h0.9M447.3 661.9h0.9M419.3 682.5h0.9M427.1 660.4h0.9M440.5 655.0h0.9M419.3 692.1h0.9M423.5 691.8h0.9M440.1 671.3h0.9M434.5 681.5h0.9M430.1 682.6h0.9M414.7 681.3h0.9M423.1 685.4h0.9M425.0 662.2h0.9M418.9 665.6h0.9M412.3 682.0h0.9M448.9 657.0h0.9M444.4 669.7h0.9M435.7 654.9h0.9M442.7 673.5h0.9M443.3 671.3h0.9M419.3 670.5h0.9M431.4 685.8h0.9M415.8 686.8h0.9M421.7 690.6h0.9M442.6 658.0h0.9M429.3 655.2h0.9M439.0 650.6h0.9M436.1 677.4h0.9M425.6 664.2h0.9M436.7 656.3h0.9M420.4 686.7h0.9M416.8 689.4h0.9M437.9 652.6h0.9M414.4 689.4h0.9M443.0 669.8h0.9M425.6 657.5h0.9M416.3 670.0h0.9M421.0 672.5h0.9M441.1 657.0h0.9M427.0 687.3h0.9M438.6 673.5h0.9M418.7 678.1h0.9M414.3 692.6h0.9M422.9 668.7h0.9M443.0 664.8h0.9M425.3 688.8h0.9M444.2 647.1h0.9M415.0 691.5h0.9M446.0 647.4h0.9M415.8 678.4h0.9M440.4 675.6h0.9M433.3 682.4h0.9M415.6 682.7h0.9M423.9 686.8h0.9M428.2 689.5h0.9M426.3 657.7h0.9M424.1 688.8h0.9M425.2 663.0h0.9M441.2 669.6h0.9M432.9 683.0h0.9M435.1 679.3h0.9M438.7 653.2h0.9M423.7 661.9h0.9M438.2 676.5h0.9M422.5 690.2h0.9M417.8 687.5h0.9M422.8 689.3h0.9M417.7 685.6h0.9M437.4 651.1h0.9M439.3 675.3h0.9M434.4 680.8h0.9M443.5 674.9h0.9M442.6 659.7h0.9M417.7 691.0h0.9M442.4 660.1h0.9M428.1 659.6h0.9M438.7 654.6h0.9M419.8 676.0h0.9M430.2 683.4h0.9M443.5 663.6h0.9M428.6 658.4h0.9M419.4 681.4h0.9M439.0 652.4h0.9M442.5 665.9h0.9M429.8 682.9h0.9M428.6 686.7h0.9M425.1 661.2h0.9M440.4 672.9h0.9M422.3 685.4h0.9M424.0 687.5h0.9M418.2 674.3h0.9M423.3 686.3h0.9M421.2 667.0h0.9M435.3 678.0h0.9M419.6 686.6h0.9M425.0 665.1h0.9M421.3 685.3h0.9M447.3 651.5h0.9M446.7 648.4h0.9M422.0 670.8h0.9M437.7 656.3h0.9M440.4 646.8h0.9M438.6 678.1h0.9M420.8 671.8h0.9M428.6 659.7h0.9M437.1 655.3h0.9M442.5 656.0h0.9M439.2 676.2h0.9M443.3 674.1h0.9M445.3 658.8h0.9M430.0 655.6h0.9M431.6 658.6h0.9M422.0 684.4h0.9M412.3 686.5h0.9M415.9 679.8h0.9M431.0 657.0h0.9M420.7 663.0h0.9M419.6 687.6h0.9M440.0 673.6h0.9M444.7 659.0h0.9M421.1 693.3h0.9M428.8 687.1h0.9M428.9 684.7h0.9M440.6 668.8h0.9M415.4 676.4h0.9M441.5 667.0h0.9M419.4 681.3h0.9M426.9 662.7h0.9M422.9 668.6h0.9M424.2 665.5h0.9M426.0 684.4h0.9M417.5 678.2h0.9M428.5 661.4h0.9M419.3 675.1h0.9M439.0 673.5h0.9M419.6 675.8h0.9M426.3 686.3h0.9M446.7 656.7h0.9M446.6 656.3h0.9M417.8 680.0h0.9M431.8 681.7h0.9M435.3 678.7h0.9M417.9 689.7h0.9M420.5 674.4h0.9M418.2 679.2h0.9M417.3 684.6h0.9M438.3 656.0h0.9M438.9 673.6h0.9M420.0 669.4h0.9M441.5 667.3h0.9M426.1 659.2h0.9M420.0 685.1h0.9M418.6 667.6h0.9M448.1 649.2h0.9M435.7 655.0h0.9M438.6 675.6h0.9M418.5 678.3h0.9M432.9 682.0h0.9M440.1 675.4h0.9M420.1 674.1h0.9M415.2 679.0h0.9M435.1 679.1h0.9M436.0 682.9h0.9M420.0 665.6h0.9M442.5 674.9h0.9M417.2 685.5h0.9M420.3 683.0h0.9M445.2 658.0h0.9M412.1 685.0h0.9M421.0 686.5h0.9M424.6 690.4h0.9M419.0 689.4h0.9M442.8 666.5h0.9M441.3 648.4h0.9M418.1 677.0h0.9M419.8 677.7h0.9M422.9 685.2h0.9M427.1 661.2h0.9M441.3 667.8h0.9M419.6 685.8h0.9M441.2 667.4h0.9M432.2 682.6h0.9M440.8 668.4h0.9M440.1 672.6h0.9M423.2 663.9h0.9M438.5 651.0h0.9M424.3 661.4h0.9M418.3 674.9h0.9M422.7 666.0h0.9M441.0 655.7h0.9M437.5 655.4h0.9M446.7 651.7h0.9M428.0 683.6h0.9M423.6 685.0h0.9M446.3 664.8h0.9M412.5 685.0h0.9M415.1 688.3h0.9M437.7 678.6h0.9M427.9 688.2h0.9M417.3 687.1h0.9M419.2 665.3h0.9M422.0 687.3h0.9M444.8 669.3h0.9M421.4 668.2h0.9M416.8 693.9h0.9M424.3 687.4h0.9M439.5 655.1h0.9M429.7 688.6h0.9M441.6 673.3h0.9M443.8 660.9h0.9M435.3 677.8h0.9M423.1 684.9h0.9M419.3 674.0h0.9M435.8 656.3h0.9M414.5 682.3h0.9M434.7 652.5h0.9M425.7 687.9h0.9M434.1 679.2h0.9M419.0 670.1h0.9M422.9 664.5h0.9M438.6 680.3h0.9M425.7 692.2h0.9M426.7 661.9h0.9M424.9 690.3h0.9M419.7 680.9h0.9M413.5 678.0h0.9M426.3 686.4h0.9M442.5 659.0h0.9M443.1 665.7h0.9M419.8 666.5h0.9M422.4 690.5h0.9M431.5 688.8h0.9M429.7 656.5h0.9M418.7 681.9h0.9M444.4 658.5h0.9M443.8 662.7h0.9M431.4 687.8h0.9M444.7 659.0h0.9M434.2 679.5h0.9M426.1 659.0h0.9M418.0 669.5h0.9M446.8 649.2h0.9M437.6 654.2h0.9M438.4 656.3h0.9M435.3 681.5h0.9M429.2 661.0h0.9M422.2 663.6h0.9M440.5 670.2h0.9M443.5 666.2h0.9M433.8 680.2h0.9M447.2 659.9h0.9M418.3 678.7h0.9M414.3 681.0h0.9M427.6 684.9h0.9M416.7 688.5h0.9M419.3 687.6h0.9M442.3 663.3h0.9M445.3 651.6h0.9M423.3 689.8h0.9M419.4 679.1h0.9" stroke="#ff2828" stroke-width="0.9" opacity="0.4"/>
<ellipse cx="492" cy="625" rx="7" ry="2.4" transform="rotate(-25 492 625)" fill="#ff3030" opacity="0.3"/>
<path d="M488.9 626.5h1M492.6 623.7h1M495.2 626.3h1M485.9 626.4h1M495.8 628.3h1M492.0 622.6h1M488.7 626.7h1M489.2 628.8h1M486.8 629.4h1M490.2 627.9h1M492.7 627.6h1M496.0 625.9h1M499.1 621.2h1M488.8 629.8h1M486.2 624.1h1M501.9 622.4h1M492.7 625.9h1M490.2 625.8h1M503.7 621.2h1M490.7 624.7h1M491.9 622.2h1M494.4 624.5h1M479.9 628.9h1M486.3 631.4h1M489.6 626.3h1M484.2 624.8h1M496.1 621.3h1M492.8 626.5h1M493.6 625.4h1M489.2 625.8h1M490.6 620.8h1M497.5 620.3h1M490.6 627.2h1M496.2 619.6h1M495.4 619.7h1M493.4 623.7h1M493.3 625.2h1M487.0 626.0h1M496.3 622.4h1M491.0 626.2h1M493.5 623.9h1M490.8 623.5h1M487.2 628.8h1M490.2 624.6h1M495.2 625.6h1M493.8 626.2h1M491.5 627.5h1M495.6 623.2h1M492.5 626.0h1M498.8 622.7h1M489.6 624.5h1M497.9 620.0h1M494.0 618.9h1M497.3 624.6h1M496.7 627.1h1M486.6 624.3h1M488.6 630.6h1M487.9 628.3h1M490.3 626.6h1M493.1 626.3h1M484.6 630.0h1M494.8 624.1h1M492.7 628.7h1M493.6 627.5h1M489.8 626.1h1M480.0 629.9h1M482.0 629.0h1M499.8 620.1h1M496.4 622.3h1M498.6 624.1h1M498.0 625.0h1M493.2 625.2h1M490.7 624.9h1M491.7 623.6h1M503.1 618.2h1M488.9 626.7h1M490.0 625.1h1M490.0 625.2h1M493.5 621.9h1M486.6 625.8h1M490.0 625.2h1M489.4 626.9h1M493.5 626.7h1M499.5 623.8h1M493.5 623.8h1M479.7 628.9h1M497.2 625.8h1M493.0 623.3h1M501.4 621.8h1M490.9 624.7h1M495.7 625.6h1M490.5 627.9h1M494.9 623.4h1M488.9 631.0h1M480.7 627.9h1M496.8 623.5h1M487.5 626.8h1M482.0 626.7h1M486.5 626.3h1M495.0 627.1h1M492.2 625.8h1M493.1 622.6h1M490.8 624.4h1M495.5 619.8h1M495.5 628.5h1M490.9 626.8h1M493.8 624.0h1M490.8 626.3h1M488.4 628.4h1M489.2 629.1h1M495.1 623.7h1M491.2 628.3h1M494.0 624.5h1M503.1 620.8h1M489.6 625.3h1M491.9 623.6h1M496.5 628.0h1M490.4 626.3h1M500.0 619.3h1M487.6 625.0h1M495.9 626.9h1M497.7 618.7h1M481.9 625.6h1M496.7 627.0h1M495.3 625.0h1M491.2 626.2h1M495.4 622.2h1M504.2 619.3h1M501.4 621.7h1M491.2 627.2h1M494.7 624.1h1M485.9 625.1h1M493.5 620.2h1M483.0 629.0h1M503.2 622.2h1M494.3 625.5h1M493.7 625.7h1M494.7 624.7h1M496.6 623.5h1M494.7 623.1h1M485.9 630.1h1M486.6 628.7h1M492.2 627.5h1M497.1 625.2h1M493.1 622.9h1M484.4 630.9h1M495.2 624.1h1M488.9 621.4h1M488.5 625.7h1M485.3 626.9h1M485.6 629.1h1M487.8 625.5h1M490.8 628.0h1M486.1 631.4h1M501.9 620.2h1M486.2 623.6h1M490.6 624.2h1M484.1 628.7h1M494.6 623.1h1M486.4 626.1h1M490.6 627.8h1M494.4 623.7h1M495.8 627.2h1M489.0 624.6h1M488.1 628.8h1M496.3 625.3h1M487.3 626.9h1M500.9 624.3h1M499.3 617.6h1M488.8 625.7h1M497.8 625.0h1M500.8 621.4h1M489.6 628.2h1M494.8 623.2h1M485.8 628.0h1M495.8 624.7h1M484.1 631.5h1M497.7 620.9h1M499.9 621.7h1M496.9 619.0h1M499.6 622.8h1M498.1 622.4h1M493.2 621.9h1M489.9 626.7h1M494.8 622.7h1M488.2 627.1h1M494.2 620.0h1M490.0 624.4h1M485.4 623.0h1M484.3 624.3h1M494.1 618.5h1M486.8 628.3h1M500.0 624.0h1M494.1 626.5h1M490.6 624.4h1M483.5 630.2h1M487.9 626.0h1M488.8 627.4h1M484.0 630.4h1M487.1 628.2h1M491.8 627.0h1M493.0 621.2h1M493.2 622.8h1M500.5 625.9h1M494.8 625.2h1M487.6 626.1h1M494.0 620.8h1M495.1 623.1h1M496.0 622.2h1M493.6 626.7h1M495.5 623.4h1M497.3 627.9h1M493.9 624.1h1M490.3 625.0h1M494.9 623.4h1M489.2 622.1h1M498.4 618.4h1M494.0 625.1h1M488.2 626.8h1M497.6 624.7h1M490.5 624.3h1M490.3 625.2h1M502.7 623.2h1M497.0 624.5h1M493.5 624.9h1M493.2 625.7h1M490.5 621.7h1M486.3 625.8h1M500.4 618.7h1M482.8 629.2h1M499.6 621.6h1M494.2 626.4h1M491.6 626.2h1M503.9 620.9h1M492.8 626.1h1M491.0 624.6h1M488.2 625.8h1M493.9 624.5h1M500.2 618.8h1M493.2 623.6h1" stroke="#ff0000" stroke-width="1" opacity="0.55"/>
<polygon points="436.23,674.16 435.12,675.65 433.94,677.05 432.72,678.33 431.46,679.48 430.19,680.48 428.94,681.31 427.73,681.95 426.57,682.4 425.48,682.64 424.49,682.68 423.61,682.5 422.86,682.12 422.25,681.55 421.78,680.78 421.48,679.84 421.34,678.74 421.36,677.49 421.55,676.13 421.9,674.67 422.4,673.14 423.05,671.57 423.84,669.97 424.75,668.39 425.77,666.84 426.88,665.35 428.06,663.95 429.28,662.67 430.54,661.52 431.81,660.52 433.06,659.69 434.27,659.05 435.43,658.6 436.52,658.36 437.51,658.32 438.39,658.5 439.14,658.88 439.75,659.45 440.22,660.22 440.52,661.16 440.66,662.26 440.64,663.51 440.45,664.87 440.1,666.33 439.6,667.86 438.95,669.43 438.16,671.03 437.25,672.61" fill="#ff0000"/>
<path d="M439.7 665.8h1M429.6 682.1h1M443.7 662.4h1M435.9 678.2h1M422.0 676.2h1M441.7 664.4h1M435.2 678.4h1M443.3 663.8h1M434.3 677.2h1M422.4 677.1h1M435.4 659.2h1M422.0 668.9h1M434.3 675.5h1M425.7 682.9h1M439.6 663.7h1M424.0 666.9h1M440.2 660.1h1M422.0 677.3h1M439.4 660.3h1M438.0 660.0h1M422.2 680.2h1M423.5 665.5h1M438.5 656.9h1M438.9 658.3h1M430.6 679.3h1M441.8 656.0h1M418.6 679.9h1M434.1 659.8h1M423.4 670.8h1M427.6 685.8h1M428.1 680.8h1M423.4 666.6h1M439.8 663.2h1M440.0 667.2h1M424.0 682.3h1M427.1 683.4h1M432.2 679.6h1M435.2 676.0h1M421.8 677.4h1M422.8 686.4h1M421.9 678.1h1M422.1 686.7h1M424.5 682.8h1M427.2 665.5h1M443.3 665.5h1M435.4 658.9h1M426.1 664.9h1M441.6 660.8h1M432.6 660.9h1M439.1 661.0h1M429.4 680.2h1M436.1 674.1h1M440.6 666.1h1M428.2 681.5h1M429.8 659.1h1M426.5 662.9h1M442.0 655.0h1M440.3 658.2h1M435.4 659.9h1M421.0 676.6h1M439.0 660.7h1M438.2 660.3h1M441.5 656.0h1M437.8 670.3h1M437.9 670.6h1M439.0 672.3h1M432.5 657.8h1M429.9 661.9h1M439.6 669.0h1M439.5 666.0h1M435.9 676.7h1M438.7 657.9h1M420.6 679.0h1M429.2 681.1h1M435.4 656.5h1M432.4 680.7h1M423.8 671.7h1M427.3 664.3h1M441.1 663.4h1M436.6 674.1h1M429.8 662.5h1M439.5 664.1h1M436.0 673.5h1M419.9 680.4h1M435.3 659.5h1M437.4 675.3h1M436.5 657.7h1M442.6 661.0h1M423.2 667.2h1M439.6 663.7h1M441.7 655.6h1M437.4 659.3h1M437.8 672.8h1M426.7 665.7h1M426.6 664.1h1M443.0 657.1h1M442.8 660.4h1M442.7 661.7h1M435.8 676.5h1M439.5 664.6h1M437.6 653.8h1M439.3 668.1h1M441.7 658.9h1M436.4 674.2h1M429.5 683.8h1M425.8 665.8h1M440.2 666.8h1M422.4 681.4h1M439.1 656.3h1M418.5 681.4h1M422.9 680.4h1M443.7 663.7h1M425.6 668.1h1M437.8 671.5h1M441.9 654.2h1M435.8 659.0h1M422.1 682.8h1M437.1 673.8h1M418.2 678.8h1M423.7 680.7h1M427.8 664.3h1M442.4 660.4h1M428.3 681.4h1M443.2 656.6h1M437.0 659.3h1M436.9 672.0h1M431.6 678.7h1M438.7 659.6h1M439.6 664.0h1M437.6 657.1h1M417.8 682.0h1M428.1 682.3h1M432.5 678.1h1M433.9 656.7h1M422.5 673.3h1M432.6 681.1h1M421.6 686.4h1M436.4 675.0h1M431.3 661.9h1M423.3 680.3h1M442.9 656.0h1M436.7 655.0h1M432.6 677.4h1M421.5 668.8h1M432.6 656.9h1M427.2 681.0h1M433.9 658.3h1M429.7 679.9h1M430.9 660.7h1M424.2 666.8h1M430.8 683.1h1M427.1 684.0h1M431.9 679.4h1M441.4 654.0h1M426.4 665.6h1M426.1 667.6h1M424.5 665.6h1M444.1 660.5h1M419.8 673.4h1M436.7 672.4h1M438.6 654.6h1M423.4 681.3h1M427.7 682.3h1M421.7 679.5h1M423.1 679.8h1M421.7 676.8h1M430.4 681.5h1M424.8 664.3h1M430.1 680.8h1M427.5 683.8h1M421.3 676.7h1M432.2 678.8h1M427.2 666.0h1M436.6 658.3h1M437.6 671.1h1M427.0 684.4h1M419.6 676.7h1M420.3 672.4h1M420.8 680.5h1M438.6 659.5h1M433.8 677.2h1M427.0 662.0h1M440.8 663.3h1M423.0 669.6h1M423.4 682.4h1M422.6 678.6h1M422.3 670.6h1M427.9 662.1h1M429.1 680.9h1M427.4 665.0h1M435.9 659.1h1M436.6 656.0h1M443.5 661.0h1M440.6 661.0h1M433.7 656.5h1M421.9 682.5h1M441.3 664.6h1M423.1 684.8h1M434.3 657.7h1M424.9 666.5h1M421.5 684.7h1M428.0 683.5h1M438.0 674.0h1M432.4 677.9h1M439.6 661.6h1M422.5 672.5h1M437.1 672.1h1M423.1 684.2h1M421.7 676.5h1M420.5 686.8h1M421.4 677.3h1M421.8 672.8h1M437.1 659.9h1M440.6 665.3h1M419.2 684.5h1M434.7 678.0h1M443.7 656.5h1M424.2 684.3h1M441.0 669.7h1M427.5 665.0h1M437.0 674.6h1M433.7 676.3h1M440.0 667.0h1M426.8 683.1h1M436.0 676.8h1M434.1 678.1h1M439.8 673.6h1M428.9 661.5h1M440.5 664.4h1M428.0 663.8h1M427.3 663.6h1M425.6 685.3h1M422.3 679.3h1M443.8 656.7h1M431.6 679.4h1M435.3 659.3h1M432.9 658.8h1M423.6 668.0h1M423.9 681.9h1M427.0 666.3h1M425.4 681.3h1M442.0 661.1h1M437.1 659.9h1M423.0 672.6h1M433.9 677.9h1M439.4 662.5h1M420.9 682.8h1M441.7 655.3h1M419.9 678.0h1M422.4 681.0h1M439.9 653.8h1M422.5 681.4h1M423.6 666.5h1M433.3 660.5h1M423.2 682.0h1M439.8 654.8h1M419.7 673.8h1M428.4 684.1h1M435.1 675.0h1M427.8 681.7h1M423.7 671.8h1M426.6 664.9h1M436.0 658.2h1M435.5 659.6h1M425.4 666.8h1M427.0 663.9h1M434.1 678.1h1M423.2 686.1h1M423.7 665.0h1M420.9 674.6h1M424.4 686.5h1M426.6 666.7h1M422.8 679.7h1M424.0 670.2h1M425.8 667.8h1M439.1 666.9h1M444.4 661.0h1M436.0 659.2h1M435.6 658.3h1M437.1 672.2h1M439.6 669.4h1M434.3 675.8h1M431.8 679.7h1M436.1 659.8h1M426.6 681.1h1M435.6 675.8h1M422.9 671.3h1M425.9 682.3h1M422.1 672.0h1M438.6 668.4h1M440.8 667.9h1M429.4 680.5h1M442.3 663.3h1M422.6 671.1h1M436.3 674.2h1M420.8 676.0h1M423.3 685.7h1M421.6 683.3h1M435.3 675.4h1M436.8 672.6h1M430.7 680.5h1M429.6 682.3h1M437.9 657.3h1M436.4 658.9h1M441.2 663.1h1M427.0 663.4h1M441.4 669.2h1M438.5 675.2h1M423.0 680.5h1M439.0 658.0h1M432.4 680.4h1M424.0 681.2h1M439.4 662.6h1M422.2 670.2h1M441.8 668.7h1M421.3 682.9h1M427.7 682.8h1M443.3 659.9h1M428.6 681.1h1M422.2 674.4h1M440.2 669.7h1M436.3 657.8h1M429.2 683.4h1M421.1 684.1h1M435.4 655.0h1M421.8 679.8h1M433.6 658.0h1M443.4 659.6h1M429.1 660.6h1M428.8 684.4h1M433.9 676.4h1M434.6 679.9h1M431.8 683.0h1M422.1 679.3h1M422.1 672.1h1M421.9 678.3h1M436.2 657.9h1M424.8 669.6h1M422.5 676.9h1M439.5 660.6h1M428.2 681.9h1M419.6 681.7h1M432.8 677.8h1M422.1 678.0h1M427.8 682.9h1M423.7 685.5h1M422.5 675.4h1M441.0 661.8h1M433.9 659.4h1M442.5 661.7h1M439.9 667.8h1M428.7 663.5h1M438.2 658.7h1M421.0 672.7h1M444.3 657.7h1M437.5 676.8h1M421.6 680.6h1M422.9 684.4h1M432.7 678.3h1M434.3 659.8h1M440.2 654.8h1M435.9 654.6h1M426.0 667.3h1M440.8 664.5h1M440.2 671.1h1M440.0 662.0h1M426.2 683.5h1M430.3 684.0h1M436.7 675.3h1M433.0 659.8h1M427.2 666.1h1M439.2 666.8h1M423.0 669.3h1M422.0 677.7h1M444.5 660.2h1M428.8 663.4h1M425.8 681.2h1M419.1 674.8h1M427.0 683.6h1M426.9 681.9h1M430.5 661.6h1M432.5 660.3h1M436.7 672.3h1M441.8 666.9h1M421.8 679.8h1M441.7 659.6h1M423.8 685.7h1M420.3 675.1h1M428.5 683.9h1M425.0 687.1h1M428.5 660.0h1M439.3 657.6h1M428.0 681.5h1M422.3 669.8h1M437.9 656.2h1M423.9 667.9h1M418.3 683.5h1M440.3 662.4h1M422.5 673.6h1M423.9 667.4h1M422.3 675.7h1M439.6 661.9h1M440.7 666.0h1M441.7 655.2h1M422.6 676.1h1M433.1 679.1h1M434.2 657.6h1M439.3 666.0h1M426.8 681.2h1M441.3 662.8h1M424.5 669.3h1M431.0 683.6h1M435.0 678.8h1M430.5 680.4h1M417.8 680.3h1M439.2 653.8h1M420.5 684.6h1M423.2 672.9h1M422.6 681.1h1M431.8 679.2h1M430.3 680.7h1M422.0 677.3h1M422.3 678.5h1M422.3 674.8h1M442.7 659.5h1M425.7 663.6h1M436.8 658.8h1M443.8 659.3h1M430.3 680.4h1M440.7 662.5h1M426.0 684.6h1M435.0 659.9h1M437.0 671.9h1M420.5 685.4h1M441.1 668.2h1M420.4 675.3h1M442.4 659.2h1M427.9 663.6h1M440.1 659.0h1M418.1 683.9h1M423.3 670.0h1M439.3 666.1h1M437.1 673.5h1M429.2 663.8h1M422.9 680.0h1M422.4 681.0h1M427.1 683.0h1M432.2 682.2h1M432.1 661.1h1M439.5 657.3h1M419.3 685.8h1M436.8 659.5h1M432.8 680.5h1M426.6 682.2h1M434.7 655.9h1M424.6 682.0h1M422.0 671.8h1M432.8 660.7h1M429.3 684.7h1M428.6 684.5h1M421.4 683.0h1M430.7 683.7h1M423.3 665.9h1M431.7 657.9h1M420.9 675.7h1M421.7 677.8h1M435.9 654.8h1M428.9 663.8h1M440.9 666.2h1M439.1 654.7h1M435.3 676.0h1M439.2 661.5h1M428.3 680.6h1M427.6 682.1h1M429.3 683.4h1M424.5 669.6h1M439.5 661.2h1M432.1 661.1h1M423.8 664.9h1M421.8 678.7h1M443.0 658.1h1M421.7 676.7h1M431.5 678.9h1M437.9 671.0h1M432.0 660.3h1M432.3 656.9h1M426.6 665.9h1M428.2 663.3h1M432.1 657.1h1M433.0 658.3h1M438.1 673.8h1M439.7 653.7h1M442.2 657.7h1M437.8 670.3h1M427.0 682.8h1M424.6 683.5h1M422.8 683.9h1M420.2 681.6h1M434.7 659.7h1M420.2 681.7h1M425.4 681.2h1M440.1 664.2h1M423.1 681.6h1M432.2 660.4h1M440.3 669.6h1M419.1 681.7h1M428.8 660.5h1M422.0 677.3h1M424.2 683.4h1M438.3 658.0h1M443.7 664.3h1M435.3 679.0h1M425.0 667.5h1M437.7 658.8h1M439.3 666.2h1M426.0 684.0h1M441.1 669.0h1M440.8 663.1h1M439.9 665.3h1M435.4 656.9h1" stroke="#ff0000" stroke-width="1" opacity="0.9"/>
</g>
<rect x="394.3" y="607" width="110.7" height="96.3" fill="none" stroke="#858585" stroke-width="1.1"/>
<line x1="447.7" y1="607" x2="447.7" y2="703.3" stroke="#7a7a7a" stroke-width="1"/>
<line x1="394.3" y1="653.2" x2="505" y2="653.2" stroke="#7a7a7a" stroke-width="1"/>
<path d="M392.1,703.3H394.3M394.3,703.3V705.5M393,696.05H394.3M402.63,703.3V704.6M393,691.81H394.3M407.5,703.3V704.6M393,688.81H394.3M410.96,703.3V704.6M393,686.47H394.3M413.64,703.3V704.6M393,684.57H394.3M415.84,703.3V704.6M393,682.95H394.3M417.69,703.3V704.6M393,681.56H394.3M419.29,703.3V704.6M393,680.33H394.3M420.71,703.3V704.6M392.1,679.22H394.3M421.98,703.3V705.5M393,671.98H394.3M430.31,703.3V704.6M393,667.74H394.3M435.18,703.3V704.6M393,664.73H394.3M438.64,703.3V704.6M393,662.4H394.3M441.32,703.3V704.6M393,660.49H394.3M443.51,703.3V704.6M393,658.88H394.3M445.36,703.3V704.6M393,657.48H394.3M446.97,703.3V704.6M393,656.25H394.3M448.38,703.3V704.6M392.1,655.15H394.3M449.65,703.3V705.5M393,647.9H394.3M457.98,703.3V704.6M393,643.66H394.3M462.85,703.3V704.6M393,640.66H394.3M466.31,703.3V704.6M393,638.32H394.3M468.99,703.3V704.6M393,636.42H394.3M471.19,703.3V704.6M393,634.8H394.3M473.04,703.3V704.6M393,633.41H394.3M474.64,703.3V704.6M393,632.18H394.3M476.06,703.3V704.6M392.1,631.08H394.3M477.32,703.3V705.5M393,623.83H394.3M485.66,703.3V704.6M393,619.59H394.3M490.53,703.3V704.6M393,616.58H394.3M493.99,703.3V704.6M393,614.25H394.3M496.67,703.3V704.6M393,612.34H394.3M498.86,703.3V704.6M393,610.73H394.3M500.71,703.3V704.6M393,609.33H394.3M502.32,703.3V704.6M393,608.1H394.3M503.73,703.3V704.6" stroke="#999" stroke-width="0.5" fill="none"/>
<text x="390.3" y="681.82" font-size="7.3" fill="#505050" text-anchor="end">10<tspan dy="-2.7" font-size="4.8">0</tspan></text>
<text x="390.3" y="657.75" font-size="7.3" fill="#505050" text-anchor="end">10<tspan dy="-2.7" font-size="4.8">1</tspan></text>
<text x="390.3" y="633.68" font-size="7.3" fill="#505050" text-anchor="end">10<tspan dy="-2.7" font-size="4.8">2</tspan></text>
<text x="390.3" y="609.6" font-size="7.3" fill="#505050" text-anchor="end">10<tspan dy="-2.7" font-size="4.8">3</tspan></text>
<text x="422.58" y="711.9" font-size="7.3" fill="#505050" text-anchor="middle">10<tspan dy="-2.7" font-size="4.8">0</tspan></text>
<text x="450.25" y="711.9" font-size="7.3" fill="#505050" text-anchor="middle">10<tspan dy="-2.7" font-size="4.8">1</tspan></text>
<text x="477.93" y="711.9" font-size="7.3" fill="#505050" text-anchor="middle">10<tspan dy="-2.7" font-size="4.8">2</tspan></text>
<text x="505.6" y="711.9" font-size="7.3" fill="#505050" text-anchor="middle">10<tspan dy="-2.7" font-size="4.8">3</tspan></text>
<text x="395.3" y="617.6" font-size="8.2" fill="#222">F1</text>
<text x="408.1" y="628.4" font-size="8.2" fill="#222" text-anchor="middle">0.1%</text>
<text x="448.7" y="617.6" font-size="8.2" fill="#222">F2</text>
<text x="461.5" y="628.4" font-size="8.2" fill="#222" text-anchor="middle">5.3%</text>
<text x="395.3" y="663.8" font-size="8.2" fill="#222">F3</text>
<text x="408.1" y="674.6" font-size="8.2" fill="#222" text-anchor="middle">93.2%</text>
<text x="448.7" y="663.8" font-size="8.2" fill="#222">F4</text>
<text x="461.5" y="674.6" font-size="8.2" fill="#222" text-anchor="middle">1.4%</text>
<rect x="528" y="607.1" width="110.6" height="98.2" fill="#fff"/>
<clipPath id="cp18"><rect x="528" y="607.1" width="110.6" height="98.2"/></clipPath>
<g clip-path="url(#cp18)">
<path d="M581.4 660.1h0.9M584.1 676.6h0.9M608.3 655.3h0.9M566.0 675.8h0.9M618.4 639.5h0.9M574.1 669.1h0.9M605.9 645.1h0.9M597.8 645.8h0.9M620.8 631.1h0.9M594.0 653.3h0.9M589.0 654.6h0.9M623.6 633.4h0.9M629.8 638.3h0.9M609.4 639.3h0.9M575.0 660.0h0.9M593.8 631.5h0.9M564.6 670.7h0.9M617.8 628.4h0.9M590.3 652.5h0.9M619.0 614.6h0.9M597.0 639.9h0.9M603.3 641.8h0.9M620.4 630.9h0.9M609.1 644.6h0.9M574.7 670.2h0.9M599.9 646.1h0.9M613.1 630.3h0.9M586.8 660.4h0.9M569.9 671.1h0.9M580.6 669.8h0.9M610.3 633.7h0.9M606.4 633.4h0.9M589.9 667.5h0.9M625.9 632.4h0.9M625.0 630.2h0.9M598.3 657.1h0.9M620.7 629.6h0.9M568.6 665.1h0.9M592.2 661.7h0.9M622.1 632.9h0.9M617.9 641.6h0.9M579.8 654.4h0.9M559.7 668.3h0.9M623.1 635.6h0.9M586.8 648.6h0.9M576.1 655.7h0.9M588.2 659.8h0.9M605.2 645.5h0.9M596.3 640.4h0.9M559.1 666.9h0.9M569.2 666.7h0.9M596.1 647.1h0.9M580.8 657.4h0.9M583.2 662.9h0.9M627.6 632.4h0.9M593.2 677.3h0.9M601.1 662.5h0.9M582.1 659.0h0.9M570.3 667.4h0.9M588.7 640.5h0.9M594.2 651.2h0.9M597.4 634.7h0.9M617.9 627.9h0.9M578.6 647.3h0.9M614.4 619.8h0.9M603.9 639.9h0.9M621.2 621.6h0.9M579.0 656.0h0.9M579.9 664.3h0.9M621.5 635.1h0.9M576.6 666.2h0.9M599.9 654.2h0.9M570.7 679.2h0.9M570.1 671.5h0.9M623.3 631.7h0.9M582.5 643.7h0.9M571.8 673.6h0.9M570.6 679.4h0.9M570.1 674.4h0.9M617.1 640.9h0.9M618.1 641.0h0.9M582.8 679.3h0.9M590.9 648.7h0.9M596.2 638.4h0.9M589.6 645.2h0.9M586.6 645.9h0.9M582.6 648.0h0.9M609.1 634.7h0.9M599.0 636.7h0.9M577.3 663.5h0.9M595.4 653.8h0.9M600.9 655.2h0.9M602.2 651.6h0.9M606.4 633.2h0.9M563.1 663.6h0.9M586.9 654.8h0.9M603.7 642.1h0.9M596.5 639.6h0.9M575.2 659.0h0.9M618.0 633.3h0.9M610.6 646.5h0.9M600.3 639.2h0.9M559.4 673.3h0.9M582.0 667.3h0.9M583.6 678.4h0.9M621.9 637.5h0.9M614.8 635.0h0.9M613.1 653.2h0.9M611.2 657.4h0.9M564.9 688.4h0.9M605.4 635.0h0.9M616.3 642.2h0.9M637.1 641.9h0.9M564.8 662.6h0.9M580.3 656.1h0.9M582.4 660.5h0.9M589.6 663.3h0.9M614.5 613.5h0.9M594.4 649.4h0.9M560.9 671.6h0.9M569.6 659.8h0.9M563.4 668.7h0.9M606.8 646.3h0.9M589.9 655.3h0.9M574.9 654.8h0.9M595.9 652.4h0.9M611.6 632.7h0.9M621.4 637.9h0.9M600.8 668.3h0.9M618.5 649.3h0.9M593.2 649.1h0.9M604.2 642.3h0.9M601.5 651.8h0.9M602.5 639.9h0.9M607.8 654.8h0.9M588.4 665.8h0.9M574.5 660.4h0.9M561.9 674.2h0.9M631.6 625.1h0.9M590.9 654.9h0.9M613.2 638.2h0.9M560.4 669.8h0.9M594.8 647.7h0.9M624.2 639.0h0.9M586.0 654.3h0.9M608.8 639.8h0.9M585.0 648.3h0.9M581.2 663.4h0.9M589.2 685.9h0.9M584.7 680.5h0.9M601.0 682.6h0.9M586.7 682.3h0.9M608.1 674.7h0.9M589.1 677.2h0.9M588.4 678.8h0.9M614.3 659.7h0.9M585.7 676.4h0.9M612.3 662.3h0.9M612.2 668.7h0.9M591.3 664.6h0.9M607.9 664.1h0.9M610.2 660.7h0.9M588.5 669.1h0.9M595.1 657.7h0.9M609.0 662.7h0.9M584.5 677.3h0.9M585.1 663.2h0.9M600.9 674.8h0.9M583.2 689.7h0.9M598.6 683.6h0.9M612.5 686.4h0.9M590.1 687.3h0.9M594.7 683.8h0.9M606.2 680.6h0.9M601.4 664.3h0.9M590.9 667.0h0.9M600.9 656.5h0.9M606.7 678.8h0.9M602.2 664.4h0.9M608.0 675.2h0.9M587.5 658.2h0.9M606.7 660.5h0.9M590.6 662.7h0.9M598.8 654.9h0.9M583.7 675.3h0.9M586.6 684.5h0.9M591.1 682.9h0.9M603.6 662.7h0.9M586.5 682.6h0.9M605.6 683.9h0.9M612.1 674.2h0.9M610.8 688.9h0.9M610.2 680.6h0.9M589.4 678.1h0.9M594.1 657.7h0.9M591.3 686.6h0.9M594.6 686.9h0.9M585.1 682.1h0.9M548.0 673.6h0.9M537.7 617.8h0.9M614.2 672.0h0.9M607.8 644.3h0.9M605.7 684.9h0.9M567.5 684.7h0.9M566.6 690.2h0.9M624.2 621.4h0.9M621.7 693.4h0.9M592.0 647.4h0.9M595.6 634.0h0.9M622.9 668.0h0.9M548.8 616.4h0.9M581.0 628.2h0.9M552.0 692.2h0.9M540.0 672.9h0.9M580.2 638.5h0.9M605.4 622.8h0.9M533.3 676.0h0.9M559.9 678.5h0.9M615.4 624.6h0.9M620.6 638.4h0.9M615.5 629.0h0.9M603.1 641.6h0.9M635.2 625.1h0.9M633.4 621.9h0.9M637.8 629.1h0.9M621.1 634.1h0.9M629.4 633.0h0.9M634.2 619.7h0.9M634.0 622.0h0.9M635.4 622.7h0.9M634.2 620.7h0.9M603.3 640.1h0.9M633.6 633.6h0.9M611.0 626.7h0.9M633.5 622.3h0.9M610.7 637.2h0.9M622.8 618.1h0.9M613.3 640.6h0.9M636.3 615.1h0.9M612.0 640.3h0.9M626.3 632.5h0.9M629.7 622.4h0.9M617.7 638.0h0.9M629.1 622.5h0.9M628.2 621.1h0.9M630.0 619.8h0.9M606.3 638.1h0.9M617.8 635.2h0.9M615.9 622.6h0.9M632.1 631.0h0.9M624.2 618.8h0.9M632.5 632.0h0.9M614.9 625.1h0.9M630.7 629.5h0.9M615.9 624.4h0.9M632.3 618.4h0.9M617.3 628.4h0.9M612.7 632.4h0.9M616.3 626.2h0.9M621.9 633.8h0.9M617.0 630.3h0.9M618.1 634.2h0.9M633.5 615.2h0.9M626.0 621.5h0.9M625.4 636.7h0.9M621.6 622.3h0.9M609.1 633.2h0.9M632.3 628.0h0.9M609.5 635.9h0.9M636.4 621.0h0.9M637.7 619.2h0.9M631.2 615.0h0.9M628.2 622.8h0.9M619.6 633.3h0.9M615.9 627.9h0.9M609.5 635.5h0.9M607.3 628.9h0.9M624.2 622.7h0.9M616.6 629.1h0.9M630.5 632.3h0.9M628.3 633.3h0.9M614.9 630.5h0.9M616.7 634.7h0.9M614.1 637.1h0.9M621.1 623.8h0.9M633.7 618.1h0.9M618.8 627.4h0.9M608.4 635.6h0.9M633.3 629.0h0.9M630.1 629.5h0.9M609.7 630.8h0.9M617.2 627.2h0.9M616.6 631.4h0.9M617.2 632.5h0.9M615.1 641.9h0.9M615.1 636.7h0.9M623.4 624.7h0.9M615.9 624.9h0.9M634.9 625.4h0.9M632.4 629.1h0.9M612.8 635.0h0.9M635.0 621.2h0.9M624.8 635.2h0.9M637.5 624.2h0.9M628.4 615.7h0.9M619.6 633.4h0.9M620.7 633.4h0.9M629.0 621.5h0.9M618.4 628.2h0.9M618.5 641.1h0.9M627.6 622.0h0.9M634.0 626.3h0.9M607.2 636.4h0.9M635.1 622.3h0.9M631.5 618.4h0.9M629.3 620.7h0.9M636.7 622.8h0.9M616.9 630.0h0.9M616.7 625.0h0.9M629.1 632.6h0.9M628.7 622.6h0.9M633.2 618.0h0.9M635.3 625.7h0.9M622.8 633.6h0.9M618.4 637.1h0.9M603.0 634.3h0.9M629.9 621.9h0.9M621.2 639.6h0.9M629.3 620.5h0.9M628.8 631.0h0.9M628.0 636.4h0.9M634.9 623.0h0.9M616.4 629.3h0.9M621.7 633.4h0.9M632.8 618.3h0.9M633.3 628.5h0.9M620.7 635.3h0.9M613.5 631.3h0.9M601.6 638.2h0.9M620.1 634.5h0.9M617.1 632.7h0.9M604.4 638.7h0.9M634.8 625.4h0.9M612.0 630.0h0.9M630.0 637.0h0.9M574.9 676.5h0.9M553.2 680.5h0.9M576.9 654.4h0.9M557.5 668.6h0.9M562.5 686.5h0.9M549.6 696.3h0.9M565.0 685.4h0.9M549.3 693.8h0.9M552.0 674.5h0.9M559.8 691.0h0.9M584.8 661.8h0.9M552.9 685.0h0.9M555.5 688.1h0.9M577.1 665.7h0.9M568.5 687.0h0.9M574.6 674.4h0.9M572.9 676.0h0.9M554.0 669.0h0.9M552.2 688.0h0.9M559.6 694.0h0.9M551.1 688.8h0.9M562.4 665.3h0.9M579.8 660.8h0.9M548.5 691.6h0.9M563.0 664.8h0.9M571.3 679.2h0.9M560.9 665.7h0.9M560.8 692.2h0.9M558.4 669.2h0.9M553.1 685.0h0.9M576.0 679.9h0.9M566.1 657.3h0.9M575.4 656.7h0.9M571.5 659.5h0.9M547.7 691.4h0.9M549.8 675.4h0.9M576.9 670.1h0.9M559.9 688.4h0.9M574.4 678.2h0.9M549.4 694.6h0.9M566.5 687.2h0.9M563.1 688.6h0.9M577.5 658.1h0.9M557.2 693.7h0.9M548.2 678.6h0.9M553.9 687.3h0.9M563.2 687.4h0.9M551.2 672.2h0.9M584.7 663.2h0.9M567.6 661.3h0.9M552.2 688.9h0.9M568.4 661.0h0.9M582.7 655.1h0.9M568.8 659.8h0.9M552.1 693.8h0.9M570.6 655.9h0.9M579.2 660.9h0.9M574.2 659.8h0.9M549.7 693.1h0.9M570.0 681.9h0.9M575.0 678.6h0.9M574.0 658.4h0.9M572.5 680.8h0.9M545.3 688.2h0.9M583.9 664.8h0.9M581.9 659.3h0.9M547.6 693.4h0.9M561.7 662.9h0.9M568.1 657.1h0.9M584.9 662.7h0.9M578.6 652.2h0.9M559.3 663.8h0.9M577.6 655.7h0.9M557.7 671.0h0.9M571.2 653.4h0.9M570.8 679.9h0.9M549.3 686.7h0.9M582.7 661.1h0.9M567.3 685.0h0.9M578.4 674.2h0.9M576.8 675.5h0.9M577.7 673.2h0.9M577.4 657.2h0.9M557.3 669.6h0.9M555.4 697.0h0.9M574.8 655.6h0.9M579.1 667.6h0.9M552.4 676.4h0.9M544.7 687.2h0.9M576.9 655.4h0.9M574.7 679.6h0.9M554.8 693.6h0.9M553.5 686.9h0.9M560.9 688.9h0.9M550.3 685.0h0.9M583.0 657.4h0.9M560.6 664.7h0.9M585.0 657.2h0.9M576.8 661.2h0.9M552.8 679.6h0.9M546.7 695.2h0.9M581.3 658.3h0.9M562.8 664.1h0.9M572.1 659.4h0.9M577.4 667.7h0.9M547.4 691.9h0.9M557.5 671.2h0.9M576.3 677.3h0.9M567.8 684.5h0.9M563.2 658.6h0.9M573.0 680.1h0.9M560.9 688.4h0.9M552.8 684.9h0.9M584.6 663.4h0.9M575.8 671.2h0.9M572.4 659.4h0.9M554.5 671.3h0.9M557.6 691.2h0.9M584.2 653.0h0.9M568.6 660.2h0.9M553.5 692.3h0.9M574.0 683.2h0.9M572.0 679.8h0.9M568.7 686.9h0.9M555.3 692.7h0.9M553.7 669.1h0.9M576.1 655.8h0.9M547.6 683.9h0.9M566.0 660.2h0.9M576.1 659.4h0.9M564.3 657.0h0.9M577.3 672.7h0.9M572.8 652.9h0.9M581.1 652.9h0.9M561.9 686.8h0.9M557.3 691.7h0.9M570.9 653.6h0.9M560.8 665.8h0.9M566.8 689.2h0.9M576.2 657.3h0.9M552.7 669.4h0.9M575.0 678.7h0.9M572.3 655.6h0.9M552.4 682.0h0.9M571.8 684.8h0.9M567.8 661.1h0.9M553.2 689.6h0.9M568.5 660.9h0.9M576.6 669.3h0.9M583.0 652.2h0.9M551.4 690.2h0.9M582.8 655.1h0.9M551.4 677.3h0.9M554.3 677.2h0.9M566.2 661.8h0.9M558.6 666.0h0.9M553.3 686.0h0.9M550.6 694.1h0.9M559.7 689.6h0.9M577.8 665.2h0.9M572.2 682.7h0.9M561.1 690.4h0.9M575.6 679.8h0.9M577.5 660.9h0.9M554.4 696.5h0.9M568.2 682.0h0.9M573.3 675.5h0.9M554.3 690.4h0.9M562.1 688.0h0.9M578.2 653.6h0.9M578.6 657.3h0.9M583.6 652.5h0.9M573.8 681.5h0.9M570.3 679.6h0.9M555.0 668.0h0.9M574.5 652.8h0.9M551.1 693.9h0.9M551.3 676.8h0.9M568.1 654.3h0.9M552.1 671.8h0.9M557.1 668.4h0.9M546.8 680.1h0.9M565.8 687.2h0.9M550.8 684.8h0.9M581.4 659.7h0.9M581.4 653.3h0.9M555.4 670.8h0.9M550.0 697.5h0.9M563.1 660.9h0.9M579.5 673.4h0.9M579.3 653.9h0.9M582.0 667.2h0.9M558.2 693.9h0.9M553.5 691.0h0.9M577.4 672.2h0.9M546.2 683.9h0.9M549.8 696.9h0.9M551.2 690.8h0.9M567.4 685.7h0.9M558.7 667.3h0.9M549.6 689.0h0.9M577.6 665.8h0.9M562.2 665.2h0.9M554.0 673.5h0.9M562.3 664.2h0.9M552.8 691.2h0.9M555.7 674.2h0.9M550.0 676.0h0.9M546.8 692.5h0.9M546.9 683.2h0.9M562.1 658.9h0.9M572.6 677.6h0.9M552.5 676.8h0.9M577.5 651.1h0.9M568.5 686.1h0.9M577.4 661.5h0.9M553.2 695.6h0.9M558.0 689.8h0.9M546.3 693.6h0.9M553.3 689.7h0.9M567.8 682.3h0.9M575.6 679.4h0.9M567.8 686.3h0.9M554.7 676.2h0.9M580.1 670.6h0.9M550.5 676.3h0.9M547.6 692.0h0.9M569.0 681.5h0.9M582.0 664.3h0.9M570.2 653.4h0.9M553.4 693.4h0.9M582.2 657.3h0.9M559.0 695.5h0.9M578.9 660.5h0.9M556.3 688.9h0.9M581.4 664.8h0.9M564.4 692.0h0.9M570.0 658.7h0.9M577.7 671.1h0.9M565.9 684.5h0.9M564.1 664.0h0.9M571.9 678.2h0.9M559.5 693.8h0.9M577.1 667.0h0.9M577.9 658.6h0.9M582.1 660.0h0.9M578.5 654.4h0.9M583.1 667.8h0.9M556.1 693.8h0.9M581.2 659.8h0.9M584.9 661.8h0.9M580.0 663.9h0.9M552.3 675.8h0.9M565.4 686.1h0.9M573.5 659.3h0.9M560.0 689.6h0.9M560.0 687.7h0.9M572.0 654.9h0.9M582.7 658.8h0.9M575.8 658.4h0.9M563.8 658.0h0.9M566.3 685.8h0.9M571.5 658.9h0.9M553.4 694.0h0.9M575.1 655.5h0.9M552.6 687.7h0.9M552.3 691.1h0.9M577.6 651.8h0.9M557.1 670.8h0.9M547.4 691.2h0.9M561.1 687.5h0.9M553.5 679.4h0.9M578.8 650.8h0.9M559.4 668.7h0.9M578.2 665.5h0.9M576.1 661.0h0.9M552.6 682.7h0.9M558.5 668.2h0.9M557.2 689.4h0.9M574.7 650.5h0.9M576.5 675.1h0.9M552.7 683.2h0.9M566.4 686.8h0.9M557.3 669.6h0.9M553.7 675.2h0.9M577.9 653.3h0.9M576.6 662.2h0.9M577.1 674.1h0.9M555.8 693.4h0.9M548.3 677.1h0.9M560.6 667.5h0.9M572.3 652.5h0.9M549.8 676.0h0.9M566.7 659.5h0.9M554.0 676.3h0.9M575.5 674.0h0.9M553.2 679.6h0.9M564.5 690.0h0.9M573.3 657.6h0.9M566.6 661.6h0.9M557.6 669.5h0.9M551.3 693.7h0.9M551.8 676.5h0.9M557.6 693.5h0.9M556.2 669.4h0.9M577.4 664.5h0.9M552.8 682.7h0.9M574.6 660.0h0.9M571.8 652.5h0.9M552.7 686.7h0.9M578.5 665.6h0.9M545.9 693.4h0.9M550.7 690.6h0.9M573.3 656.5h0.9M569.8 655.1h0.9M552.8 678.8h0.9M552.8 685.9h0.9M576.4 672.1h0.9M557.8 694.9h0.9M550.3 696.1h0.9" stroke="#ff2828" stroke-width="0.9" opacity="0.4"/>
<ellipse cx="626" cy="627.5" rx="7.7" ry="2.4" transform="rotate(-25 626 627.5)" fill="#ff3030" opacity="0.3"/>
<path d="M628.4 626.4h1M628.9 627.0h1M622.6 629.3h1M631.1 623.9h1M635.6 620.8h1M630.5 623.7h1M624.1 627.6h1M622.1 626.3h1M625.4 630.5h1M621.4 631.8h1M625.3 630.7h1M623.5 625.3h1M635.9 622.8h1M627.2 628.0h1M627.8 626.1h1M630.8 626.5h1M628.5 625.7h1M623.7 628.1h1M624.8 629.2h1M622.6 625.8h1M627.2 626.1h1M627.2 626.0h1M632.3 626.8h1M627.5 630.4h1M628.9 627.1h1M624.9 626.8h1M628.5 621.4h1M623.3 624.9h1M628.4 626.3h1M625.6 629.8h1M634.7 624.2h1M623.2 628.3h1M626.0 624.6h1M627.9 628.0h1M622.2 628.4h1M623.2 624.4h1M631.1 625.6h1M613.9 634.9h1M627.2 626.1h1M625.4 629.1h1M626.4 625.9h1M637.6 624.1h1M619.4 625.4h1M616.8 626.8h1M626.2 626.5h1M619.6 625.0h1M623.6 628.3h1M623.1 624.2h1M631.5 621.6h1M622.0 627.7h1M628.7 631.5h1M625.8 626.6h1M619.5 626.3h1M628.2 625.5h1M630.5 624.2h1M621.6 627.0h1M619.1 625.6h1M627.7 625.9h1M625.4 625.6h1M628.2 627.9h1M625.9 626.6h1M624.3 629.8h1M631.6 622.1h1M629.9 626.3h1M627.6 625.0h1M627.2 626.2h1M627.3 627.7h1M629.0 625.6h1M618.1 631.1h1M626.9 626.4h1M630.2 627.1h1M629.6 626.5h1M626.7 625.9h1M624.3 627.6h1M617.9 626.0h1M612.7 632.0h1M631.7 627.6h1M635.4 623.0h1M624.1 624.9h1M637.7 620.9h1M629.7 621.1h1M622.9 624.2h1M618.1 628.7h1M626.6 628.8h1M616.9 632.9h1M623.9 628.2h1M631.4 625.4h1M624.4 627.3h1M629.7 624.6h1M628.2 624.4h1M623.8 625.9h1M616.8 633.7h1M615.9 628.2h1M624.1 627.8h1M615.1 629.5h1M634.2 620.9h1M628.9 626.3h1M629.3 622.1h1M629.6 630.4h1M627.5 626.3h1M617.4 631.5h1M627.0 628.0h1M620.8 628.6h1M628.6 626.0h1M620.4 631.6h1M634.3 623.4h1M632.6 620.5h1M626.4 622.4h1M624.3 629.9h1M624.9 625.5h1M624.5 627.2h1M623.3 628.8h1M621.0 629.8h1M636.9 624.1h1M625.3 623.9h1M630.5 627.3h1M618.8 625.5h1M622.6 624.4h1M622.8 626.2h1M627.8 630.6h1M622.4 629.6h1M633.2 625.7h1M623.2 626.9h1M635.4 624.3h1M619.6 626.8h1M623.1 629.1h1M627.3 628.0h1M628.6 626.4h1M627.8 625.8h1M624.1 627.6h1M624.6 625.5h1M621.7 629.7h1M627.4 629.5h1M621.6 630.7h1M626.9 628.3h1M619.1 627.3h1M621.9 626.2h1M629.4 627.4h1M623.8 628.1h1M615.1 634.9h1M632.9 626.6h1M632.1 622.3h1M626.6 625.6h1M633.5 625.1h1M626.2 626.2h1M627.5 626.2h1M622.1 626.6h1M627.8 627.8h1M625.1 629.2h1M632.9 626.9h1M624.5 625.8h1M626.7 628.1h1M627.2 622.4h1M626.8 628.2h1M617.9 628.2h1M626.0 628.5h1M622.4 628.7h1M625.3 629.1h1M626.0 628.8h1M636.6 620.8h1M635.0 626.8h1M634.7 620.4h1M627.5 629.5h1M617.0 627.9h1M622.1 629.9h1M628.1 626.3h1M631.1 628.3h1M621.3 628.3h1M621.4 625.3h1M622.2 628.8h1M625.7 626.1h1M621.1 628.3h1M613.2 633.9h1M629.3 622.3h1M628.9 626.8h1M627.3 624.6h1M627.6 628.0h1M623.2 629.5h1M620.1 634.0h1M628.6 626.6h1M626.4 629.0h1M618.5 635.0h1M632.8 626.6h1M625.2 623.3h1M634.0 628.8h1M618.6 633.0h1M617.1 627.1h1M629.4 625.1h1M623.7 627.4h1M621.2 628.2h1M626.8 625.3h1M627.4 624.5h1M633.3 626.2h1M623.9 630.9h1M628.9 626.2h1M629.0 626.8h1M619.5 632.9h1M624.1 623.4h1M622.1 629.0h1M623.2 631.3h1M627.2 626.0h1M616.9 629.5h1M615.6 634.9h1M623.8 629.3h1M626.8 629.1h1M612.9 632.4h1M627.2 629.1h1M631.0 623.3h1M627.0 626.3h1M632.1 623.3h1M632.3 628.0h1M625.0 626.9h1M624.5 626.1h1M618.0 633.4h1M627.4 630.3h1M634.8 623.8h1M628.3 626.5h1M634.2 619.7h1M623.2 628.3h1M624.3 627.6h1M623.1 628.3h1M630.5 624.5h1M623.5 629.0h1M614.5 634.8h1M625.8 628.7h1M625.2 627.0h1M625.7 628.8h1M626.5 622.7h1M633.4 625.0h1M627.9 625.2h1M631.2 626.0h1M625.0 626.7h1M632.2 626.7h1M628.4 622.9h1M627.4 629.5h1M618.7 627.4h1" stroke="#ff0000" stroke-width="1" opacity="0.55"/>
<polygon points="570.03,677.93 568.81,679.4 567.53,680.78 566.2,682.04 564.86,683.16 563.51,684.13 562.19,684.93 560.92,685.53 559.72,685.94 558.61,686.15 557.61,686.15 556.73,685.94 556,685.52 555.42,684.91 555,684.11 554.76,683.14 554.69,682.01 554.8,680.75 555.08,679.37 555.53,677.9 556.14,676.36 556.91,674.78 557.81,673.19 558.84,671.61 559.97,670.07 561.19,668.6 562.47,667.22 563.8,665.96 565.14,664.84 566.49,663.87 567.81,663.07 569.08,662.47 570.28,662.06 571.39,661.85 572.39,661.85 573.27,662.06 574,662.48 574.58,663.09 575,663.89 575.24,664.86 575.31,665.99 575.2,667.25 574.92,668.63 574.47,670.1 573.86,671.64 573.09,673.22 572.19,674.81 571.16,676.39" fill="#ff0000"/>
<path d="M568.1 663.9h1M558.0 673.0h1M553.9 682.8h1M572.8 660.2h1M558.6 690.4h1M552.9 682.6h1M563.1 663.4h1M559.1 667.9h1M562.4 667.5h1M555.7 676.6h1M559.0 671.7h1M559.7 670.3h1M557.0 674.5h1M552.8 685.2h1M569.4 678.9h1M576.1 667.6h1M558.5 685.2h1M575.3 663.6h1M567.2 684.6h1M570.3 662.3h1M555.7 675.5h1M578.1 663.2h1M552.6 679.2h1M572.2 678.8h1M551.7 681.6h1M560.4 670.4h1M562.4 684.2h1M568.8 660.6h1M576.8 663.2h1M559.2 669.8h1M555.9 684.6h1M570.8 661.3h1M565.7 662.7h1M563.2 684.5h1M573.9 669.8h1M554.7 683.6h1M571.6 674.4h1M576.4 661.0h1M559.4 684.6h1M555.3 687.3h1M553.1 680.3h1M573.5 677.5h1M575.5 660.3h1M577.5 667.4h1M569.0 659.7h1M554.5 676.8h1M575.9 660.1h1M574.6 668.0h1M551.1 687.7h1M555.6 686.8h1M576.8 665.7h1M574.8 665.4h1M553.4 689.4h1M572.8 672.2h1M552.4 678.1h1M573.4 663.4h1M564.4 684.2h1M578.1 665.0h1M568.9 678.3h1M572.4 673.7h1M561.2 688.7h1M570.9 662.8h1M575.3 666.9h1M552.8 683.1h1M561.5 665.1h1M568.3 681.5h1M567.5 660.0h1M556.6 670.4h1M556.8 674.1h1M569.6 658.9h1M572.9 662.7h1M568.6 663.6h1M572.7 672.5h1M573.4 658.9h1M566.5 661.9h1M570.7 676.0h1M561.7 687.5h1M571.9 675.2h1M555.7 683.7h1M574.3 668.0h1M570.7 676.1h1M577.3 662.2h1M565.8 685.0h1M559.6 668.7h1M557.2 684.1h1M557.2 675.9h1M561.3 688.2h1M572.0 660.7h1M575.3 658.4h1M565.5 681.7h1M566.9 664.3h1M557.9 674.2h1M554.8 686.2h1M573.9 671.0h1M570.8 658.9h1M566.3 665.0h1M555.9 677.8h1M562.8 685.3h1M559.3 689.7h1M567.1 661.2h1M560.2 686.0h1M577.8 662.4h1M558.5 686.4h1M573.7 671.1h1M562.1 666.8h1M560.3 688.2h1M573.7 669.6h1M551.5 688.2h1M567.7 663.4h1M551.4 681.3h1M553.6 686.2h1M553.0 684.4h1M557.1 687.9h1M573.9 665.1h1M555.0 675.4h1M557.1 684.4h1M572.3 678.0h1M573.9 670.4h1M576.4 665.9h1M575.0 664.1h1M554.8 686.9h1M561.4 669.1h1M573.7 669.8h1M562.7 687.4h1M568.4 662.4h1M556.2 684.2h1M570.3 677.2h1M560.2 670.0h1M574.1 668.5h1M576.7 666.0h1M553.6 682.7h1M556.3 676.4h1M575.7 660.4h1M554.0 682.1h1M551.1 682.0h1M558.8 672.2h1M576.1 661.6h1M573.5 674.3h1M565.9 684.0h1M571.6 674.5h1M560.1 688.0h1M555.4 688.5h1M575.1 661.9h1M576.8 672.2h1M574.1 663.1h1M568.1 680.9h1M574.7 666.4h1M573.6 658.0h1M575.9 661.6h1M578.1 660.9h1M569.9 680.6h1M576.9 661.3h1M566.9 682.3h1M559.3 670.1h1M575.9 665.9h1M563.4 683.2h1M575.1 669.3h1M574.2 664.0h1M575.9 673.4h1M555.2 689.1h1M576.0 664.5h1M575.0 673.7h1M577.9 662.9h1M578.0 664.6h1M556.0 672.2h1M570.9 658.1h1M573.7 675.3h1M569.5 682.0h1M573.6 664.2h1M565.2 663.9h1M563.2 662.8h1M573.3 657.3h1M555.8 674.1h1M570.9 679.8h1M556.5 685.1h1M561.9 687.0h1M571.1 662.1h1M576.1 667.4h1M575.0 660.2h1M574.2 664.7h1M559.1 686.1h1M568.0 681.7h1M555.5 682.8h1M555.8 675.2h1M567.1 684.3h1M573.1 663.5h1M573.9 665.0h1M571.7 663.2h1M568.5 680.1h1M571.9 663.4h1M574.1 667.9h1M559.1 684.9h1M568.1 679.8h1M555.0 678.0h1M574.7 671.1h1M568.0 682.1h1M573.6 671.6h1M573.1 676.3h1M574.3 672.2h1M569.9 678.9h1M554.8 684.9h1M568.5 663.1h1M570.5 661.7h1M573.0 662.5h1M555.6 682.0h1M572.9 674.2h1M576.9 669.6h1M561.3 668.7h1M573.6 672.6h1M558.1 670.3h1M554.9 681.3h1M554.8 686.3h1M575.8 670.0h1M556.3 682.9h1M558.1 672.1h1M558.2 689.1h1M570.8 675.6h1M555.8 685.5h1M579.0 662.6h1M556.8 685.1h1M556.4 684.5h1M573.7 671.8h1M563.8 684.0h1M573.8 665.3h1M554.6 684.8h1M570.8 662.1h1M573.2 676.5h1M555.7 679.9h1M572.1 663.2h1M572.0 663.3h1M559.8 671.4h1M571.7 675.9h1M574.7 661.6h1M571.5 662.3h1M555.4 676.1h1M576.0 673.1h1M574.7 665.0h1M559.8 666.0h1M565.7 684.3h1M555.5 677.2h1M556.0 681.9h1M553.4 675.5h1M575.0 668.5h1M553.8 682.2h1M556.1 690.8h1M553.0 681.5h1M555.8 683.2h1M575.3 663.2h1M574.2 667.5h1M572.5 661.8h1M570.7 676.7h1M578.1 667.8h1M568.7 663.4h1M569.7 681.5h1M566.7 682.5h1M556.7 671.8h1M574.2 666.9h1M558.0 689.6h1M558.0 689.6h1M578.2 659.0h1M573.3 676.7h1M573.9 668.8h1M566.7 663.1h1M562.7 663.7h1M551.4 680.9h1M572.1 673.7h1M576.1 660.6h1M565.1 664.2h1M573.7 663.5h1M563.9 662.1h1M568.7 680.1h1M560.4 670.0h1M579.3 663.1h1M555.7 683.8h1M556.2 690.7h1M565.6 681.5h1M553.0 685.9h1M556.8 670.2h1M555.5 676.3h1M555.7 677.8h1M557.9 669.1h1M569.4 680.3h1M555.9 685.8h1M557.7 671.9h1M568.2 663.3h1M561.9 666.3h1M569.9 659.7h1M551.0 685.9h1M568.5 661.6h1M563.4 683.2h1M558.8 672.3h1M571.3 663.4h1M555.2 681.3h1M556.8 669.8h1M554.7 680.6h1M569.2 663.2h1M578.9 665.3h1M556.3 678.5h1M559.4 671.2h1M573.9 670.9h1M576.6 665.0h1M557.8 685.6h1M556.5 687.0h1M574.7 660.0h1M564.3 683.7h1M576.5 668.2h1M568.0 679.8h1M575.1 667.4h1M577.5 658.3h1M568.7 678.7h1M554.5 674.6h1M556.3 676.1h1M561.7 664.1h1M574.8 663.3h1M553.1 685.1h1M571.6 662.7h1M554.5 682.5h1M555.1 685.2h1M557.7 670.6h1M573.6 675.3h1M557.1 686.6h1M572.2 657.7h1M560.5 669.7h1M573.6 662.5h1M574.5 662.7h1M573.4 664.5h1M554.8 682.5h1M552.4 683.8h1M554.2 685.8h1M572.3 662.9h1M575.9 665.8h1M571.1 662.9h1M572.3 663.5h1M558.8 669.5h1M572.9 661.0h1M559.5 671.4h1M571.3 674.9h1M565.1 684.1h1M554.0 687.4h1M560.3 684.5h1M555.4 681.3h1M573.9 670.4h1M573.8 664.7h1M570.9 677.0h1M558.9 672.0h1M556.5 684.1h1M577.4 659.9h1M570.5 679.1h1M569.0 681.4h1M573.3 662.2h1M574.0 664.9h1M575.5 666.4h1M573.8 672.1h1M555.1 689.8h1M562.3 683.9h1M565.8 681.6h1M569.6 680.7h1M564.8 665.7h1M567.1 662.5h1M563.9 666.8h1M565.2 682.9h1M571.4 662.3h1M568.0 679.3h1M573.8 665.0h1M573.6 673.7h1M570.6 679.5h1M554.5 680.3h1M575.7 668.6h1M571.2 675.3h1M572.9 661.5h1M574.6 672.9h1M555.5 679.1h1M574.1 665.3h1M567.9 680.7h1M557.7 673.9h1M563.7 663.9h1M555.8 676.9h1M565.5 682.4h1M568.6 661.4h1M552.1 680.9h1M556.7 672.3h1M556.8 686.0h1M571.9 658.9h1M574.8 657.5h1M552.3 689.8h1M574.3 667.6h1M555.0 686.5h1M556.9 684.8h1M557.8 689.6h1M563.7 683.2h1M561.0 688.7h1M560.8 665.0h1M564.3 686.7h1M576.5 670.1h1M554.3 680.8h1M559.0 672.3h1M576.4 669.0h1M575.8 671.9h1M557.2 670.1h1M575.0 670.7h1M564.2 663.6h1M557.3 673.0h1M568.7 681.9h1M559.5 688.3h1M574.8 663.0h1M556.7 684.2h1M559.7 688.7h1M556.6 673.8h1M571.7 674.6h1M560.3 685.1h1M556.1 674.5h1M574.9 668.5h1M574.0 659.3h1M554.2 680.7h1M559.6 667.4h1M560.4 670.6h1M566.1 681.2h1M574.1 661.8h1M560.8 668.4h1M560.8 669.4h1M568.5 681.7h1M562.7 665.4h1M552.1 687.1h1M578.8 663.9h1M573.4 673.6h1M558.6 689.6h1M570.0 676.9h1M558.4 673.4h1M571.9 662.8h1M561.7 684.6h1M551.9 686.5h1M572.2 674.0h1M566.7 680.9h1M572.9 663.9h1M578.2 663.3h1M569.7 659.0h1M557.7 672.9h1M556.1 682.2h1M555.7 681.3h1M553.3 676.3h1M553.6 675.3h1M570.8 675.9h1M565.6 683.0h1M553.9 674.5h1M560.2 670.1h1M574.1 666.6h1M576.4 661.8h1M570.6 663.3h1M572.0 674.1h1M561.8 666.0h1M573.6 663.3h1M567.4 683.4h1M574.2 666.7h1M570.5 663.2h1M564.3 684.2h1M553.2 681.9h1M575.1 667.7h1M572.8 678.4h1M563.5 666.6h1M555.6 683.0h1M567.0 664.4h1M559.9 685.1h1M575.0 668.9h1M571.6 678.8h1M555.3 680.8h1M567.1 660.3h1M557.2 674.2h1M555.1 680.3h1M555.6 679.7h1M572.3 658.7h1M577.0 665.5h1M573.8 671.1h1M558.5 669.4h1M568.5 661.3h1M573.9 662.2h1M575.3 669.4h1M556.6 686.8h1M557.3 675.7h1M558.1 672.3h1M557.6 689.5h1M556.3 685.0h1M573.0 663.8h1M575.3 658.5h1M558.6 671.3h1M565.5 662.6h1M561.6 687.7h1M555.9 680.3h1M562.5 685.2h1M562.2 685.8h1M559.3 688.6h1M577.8 667.2h1M568.6 659.0h1M559.2 690.2h1M568.0 679.5h1M559.5 669.7h1M578.3 663.1h1M569.3 678.5h1M569.1 678.7h1M570.7 661.9h1M576.7 661.7h1M565.0 683.1h1M559.8 684.6h1M557.1 672.5h1M555.6 685.3h1M560.3 670.4h1M572.7 678.2h1M567.2 664.1h1M553.1 678.3h1M578.7 663.1h1M568.5 679.6h1M551.5 682.1h1M561.2 666.7h1M576.5 661.2h1M556.2 686.0h1M574.3 664.8h1M563.8 666.9h1M558.6 685.2h1M574.6 664.4h1M558.8 670.9h1M559.2 688.0h1" stroke="#ff0000" stroke-width="1" opacity="0.9"/>
</g>
<rect x="528" y="607.1" width="110.6" height="98.2" fill="none" stroke="#858585" stroke-width="1.1"/>
<line x1="581.7" y1="607.1" x2="581.7" y2="705.3" stroke="#7a7a7a" stroke-width="1"/>
<line x1="528" y1="654.3" x2="638.6" y2="654.3" stroke="#7a7a7a" stroke-width="1"/>
<path d="M525.8,705.3H528M528,705.3V707.5M526.7,697.91H528M536.32,705.3V706.6M526.7,693.59H528M541.19,705.3V706.6M526.7,690.52H528M544.65,705.3V706.6M526.7,688.14H528M547.33,705.3V706.6M526.7,686.2H528M549.52,705.3V706.6M526.7,684.55H528M551.37,705.3V706.6M526.7,683.13H528M552.97,705.3V706.6M526.7,681.87H528M554.38,705.3V706.6M525.8,680.75H528M555.65,705.3V707.5M526.7,673.36H528M563.97,705.3V706.6M526.7,669.04H528M568.84,705.3V706.6M526.7,665.97H528M572.3,705.3V706.6M526.7,663.59H528M574.98,705.3V706.6M526.7,661.65H528M577.17,705.3V706.6M526.7,660H528M579.02,705.3V706.6M526.7,658.58H528M580.62,705.3V706.6M526.7,657.32H528M582.03,705.3V706.6M525.8,656.2H528M583.3,705.3V707.5M526.7,648.81H528M591.62,705.3V706.6M526.7,644.49H528M596.49,705.3V706.6M526.7,641.42H528M599.95,705.3V706.6M526.7,639.04H528M602.63,705.3V706.6M526.7,637.1H528M604.82,705.3V706.6M526.7,635.45H528M606.67,705.3V706.6M526.7,634.03H528M608.27,705.3V706.6M526.7,632.77H528M609.68,705.3V706.6M525.8,631.65H528M610.95,705.3V707.5M526.7,624.26H528M619.27,705.3V706.6M526.7,619.94H528M624.14,705.3V706.6M526.7,616.87H528M627.6,705.3V706.6M526.7,614.49H528M630.28,705.3V706.6M526.7,612.55H528M632.47,705.3V706.6M526.7,610.9H528M634.32,705.3V706.6M526.7,609.48H528M635.92,705.3V706.6M526.7,608.22H528M637.33,705.3V706.6" stroke="#999" stroke-width="0.5" fill="none"/>
<text x="524" y="683.35" font-size="7.3" fill="#505050" text-anchor="end">10<tspan dy="-2.7" font-size="4.8">0</tspan></text>
<text x="524" y="658.8" font-size="7.3" fill="#505050" text-anchor="end">10<tspan dy="-2.7" font-size="4.8">1</tspan></text>
<text x="524" y="634.25" font-size="7.3" fill="#505050" text-anchor="end">10<tspan dy="-2.7" font-size="4.8">2</tspan></text>
<text x="524" y="609.7" font-size="7.3" fill="#505050" text-anchor="end">10<tspan dy="-2.7" font-size="4.8">3</tspan></text>
<text x="556.25" y="713.9" font-size="7.3" fill="#505050" text-anchor="middle">10<tspan dy="-2.7" font-size="4.8">0</tspan></text>
<text x="583.9" y="713.9" font-size="7.3" fill="#505050" text-anchor="middle">10<tspan dy="-2.7" font-size="4.8">1</tspan></text>
<text x="611.55" y="713.9" font-size="7.3" fill="#505050" text-anchor="middle">10<tspan dy="-2.7" font-size="4.8">2</tspan></text>
<text x="639.2" y="713.9" font-size="7.3" fill="#505050" text-anchor="middle">10<tspan dy="-2.7" font-size="4.8">3</tspan></text>
<text x="529" y="617.7" font-size="8.2" fill="#222">F1</text>
<text x="541.8" y="628.5" font-size="8.2" fill="#222" text-anchor="middle">0.1%</text>
<text x="582.7" y="617.7" font-size="8.2" fill="#222">F2</text>
<text x="595.5" y="628.5" font-size="8.2" fill="#222" text-anchor="middle">5.2%</text>
<text x="529" y="664.9" font-size="8.2" fill="#222">F3</text>
<text x="541.8" y="675.7" font-size="8.2" fill="#222" text-anchor="middle">93.3%</text>
<text x="582.7" y="664.9" font-size="8.2" fill="#222">F4</text>
<text x="595.5" y="675.7" font-size="8.2" fill="#222" text-anchor="middle">1.4%</text>
<line x1="306" y1="500.1" x2="306" y2="563.1" stroke="#111" stroke-width="0.9"/>
<line x1="306" y1="563.1" x2="343.8" y2="563.1" stroke="#111" stroke-width="0.9"/>
<line x1="304.5" y1="563.1" x2="306" y2="563.1" stroke="#111" stroke-width="0.7"/>
<text x="303.8" y="564.9" font-size="4.9" font-weight="bold" fill="#222" text-anchor="end">0</text>
<line x1="304.5" y1="547.35" x2="306" y2="547.35" stroke="#111" stroke-width="0.7"/>
<text x="303.8" y="549.15" font-size="4.9" font-weight="bold" fill="#222" text-anchor="end">2</text>
<line x1="304.5" y1="531.6" x2="306" y2="531.6" stroke="#111" stroke-width="0.7"/>
<text x="303.8" y="533.4" font-size="4.9" font-weight="bold" fill="#222" text-anchor="end">4</text>
<line x1="304.5" y1="515.85" x2="306" y2="515.85" stroke="#111" stroke-width="0.7"/>
<text x="303.8" y="517.65" font-size="4.9" font-weight="bold" fill="#222" text-anchor="end">6</text>
<line x1="304.5" y1="500.1" x2="306" y2="500.1" stroke="#111" stroke-width="0.7"/>
<text x="303.8" y="501.9" font-size="4.9" font-weight="bold" fill="#222" text-anchor="end">8</text>
<line x1="315.65" y1="513.49" x2="315.65" y2="506.4" stroke="#111" stroke-width="0.9"/>
<line x1="312.65" y1="506.4" x2="318.65" y2="506.4" stroke="#111" stroke-width="0.9"/>
<rect x="309.3" y="513.49" width="12.7" height="49.61" fill="#ff0000" stroke="#111" stroke-width="1.1"/>
<line x1="334.75" y1="522.94" x2="334.75" y2="512.7" stroke="#111" stroke-width="0.9"/>
<line x1="331.75" y1="512.7" x2="337.75" y2="512.7" stroke="#111" stroke-width="0.9"/>
<rect x="328.3" y="522.94" width="12.9" height="40.16" fill="#0000ff" stroke="#111" stroke-width="1.1"/>
<path d="M314.9,494.8 V499.2 M314.9,497 H334.5 M334.5,494.8 V499.2" stroke="#222" stroke-width="0.9" fill="none"/>
<text x="324.7" y="492.6" font-size="4.6" fill="#222" text-anchor="middle">NS</text>
<text transform="translate(316.5,570) rotate(-45)" font-size="4.9" font-weight="bold" fill="#222" text-anchor="end">SPIN1</text>
<text transform="translate(336.5,570) rotate(-45)" font-size="4.9" font-weight="bold" fill="#222" text-anchor="end">PCDNA3.1</text>
<text x="325.3" y="592.6" font-size="4.6" font-weight="bold" fill="#222" text-anchor="middle">MKN45</text>
<text transform="translate(297.8,531.6) rotate(-90)" font-size="5.2" font-weight="bold" fill="#222" text-anchor="middle">Apoptosis rate(%)</text>
<line x1="305.4" y1="608.6" x2="305.4" y2="676.2" stroke="#111" stroke-width="0.9"/>
<line x1="305.4" y1="676.2" x2="343.8" y2="676.2" stroke="#111" stroke-width="0.9"/>
<line x1="303.9" y1="676.2" x2="305.4" y2="676.2" stroke="#111" stroke-width="0.7"/>
<text x="303.2" y="678" font-size="4.9" font-weight="bold" fill="#222" text-anchor="end">0</text>
<line x1="303.9" y1="659.3" x2="305.4" y2="659.3" stroke="#111" stroke-width="0.7"/>
<text x="303.2" y="661.1" font-size="4.9" font-weight="bold" fill="#222" text-anchor="end">2</text>
<line x1="303.9" y1="642.4" x2="305.4" y2="642.4" stroke="#111" stroke-width="0.7"/>
<text x="303.2" y="644.2" font-size="4.9" font-weight="bold" fill="#222" text-anchor="end">4</text>
<line x1="303.9" y1="625.5" x2="305.4" y2="625.5" stroke="#111" stroke-width="0.7"/>
<text x="303.2" y="627.3" font-size="4.9" font-weight="bold" fill="#222" text-anchor="end">6</text>
<line x1="303.9" y1="608.6" x2="305.4" y2="608.6" stroke="#111" stroke-width="0.7"/>
<text x="303.2" y="610.4" font-size="4.9" font-weight="bold" fill="#222" text-anchor="end">8</text>
<line x1="315.4" y1="639.02" x2="315.4" y2="628.88" stroke="#111" stroke-width="0.9"/>
<line x1="312.4" y1="628.88" x2="318.4" y2="628.88" stroke="#111" stroke-width="0.9"/>
<rect x="308.8" y="639.02" width="13.2" height="37.18" fill="#ff0000" stroke="#111" stroke-width="1.1"/>
<line x1="334.9" y1="639.02" x2="334.9" y2="627.19" stroke="#111" stroke-width="0.9"/>
<line x1="331.9" y1="627.19" x2="337.9" y2="627.19" stroke="#111" stroke-width="0.9"/>
<rect x="328.4" y="639.02" width="13" height="37.18" fill="#0000ff" stroke="#111" stroke-width="1.1"/>
<path d="M314.9,616.8 V621.2 M314.9,619 H334.5 M334.5,616.8 V621.2" stroke="#222" stroke-width="0.9" fill="none"/>
<text x="324.7" y="614.6" font-size="4.6" fill="#222" text-anchor="middle">NS</text>
<text transform="translate(316.5,683) rotate(-45)" font-size="4.9" font-weight="bold" fill="#222" text-anchor="end">SPIN1</text>
<text transform="translate(336.5,683) rotate(-45)" font-size="4.9" font-weight="bold" fill="#222" text-anchor="end">PCDNA3.1</text>
<text x="325.3" y="707.7" font-size="4.6" font-weight="bold" fill="#222" text-anchor="middle">BGC823</text>
<text transform="translate(297.2,642.4) rotate(-90)" font-size="5.2" font-weight="bold" fill="#222" text-anchor="middle">Apoptosis rate(%)</text>
<line x1="668" y1="492.7" x2="668" y2="561.1" stroke="#111" stroke-width="0.9"/>
<line x1="668" y1="561.1" x2="706.4" y2="561.1" stroke="#111" stroke-width="0.9"/>
<line x1="666.5" y1="561.1" x2="668" y2="561.1" stroke="#111" stroke-width="0.7"/>
<text x="665.8" y="562.9" font-size="4.9" font-weight="bold" fill="#222" text-anchor="end">0</text>
<line x1="666.5" y1="544" x2="668" y2="544" stroke="#111" stroke-width="0.7"/>
<text x="665.8" y="545.8" font-size="4.9" font-weight="bold" fill="#222" text-anchor="end">2</text>
<line x1="666.5" y1="526.9" x2="668" y2="526.9" stroke="#111" stroke-width="0.7"/>
<text x="665.8" y="528.7" font-size="4.9" font-weight="bold" fill="#222" text-anchor="end">4</text>
<line x1="666.5" y1="509.8" x2="668" y2="509.8" stroke="#111" stroke-width="0.7"/>
<text x="665.8" y="511.6" font-size="4.9" font-weight="bold" fill="#222" text-anchor="end">6</text>
<line x1="666.5" y1="492.7" x2="668" y2="492.7" stroke="#111" stroke-width="0.7"/>
<text x="665.8" y="494.5" font-size="4.9" font-weight="bold" fill="#222" text-anchor="end">8</text>
<line x1="677.75" y1="515.78" x2="677.75" y2="505.52" stroke="#111" stroke-width="0.9"/>
<line x1="674.75" y1="505.52" x2="680.75" y2="505.52" stroke="#111" stroke-width="0.9"/>
<rect x="670.4" y="515.78" width="14.7" height="45.32" fill="#ff0000" stroke="#111" stroke-width="1.1"/>
<line x1="698.7" y1="511.51" x2="698.7" y2="503.81" stroke="#111" stroke-width="0.9"/>
<line x1="695.7" y1="503.81" x2="701.7" y2="503.81" stroke="#111" stroke-width="0.9"/>
<rect x="691.6" y="511.51" width="14.2" height="49.59" fill="#0000ff" stroke="#111" stroke-width="1.1"/>
<path d="M677.8,495.5 V499.9 M677.8,497.7 H699.6 M699.6,495.5 V499.9" stroke="#222" stroke-width="0.9" fill="none"/>
<text x="688.7" y="493.3" font-size="4.6" fill="#222" text-anchor="middle">NS</text>
<text transform="translate(681,568) rotate(-45)" font-size="4.9" font-weight="bold" fill="#222" text-anchor="end">Si-SPIN1</text>
<text transform="translate(700,568) rotate(-45)" font-size="4.9" font-weight="bold" fill="#222" text-anchor="end">NC</text>
<text x="688" y="591.8" font-size="4.6" font-weight="bold" fill="#222" text-anchor="middle">MKN45</text>
<text transform="translate(659.8,526.9) rotate(-90)" font-size="5.2" font-weight="bold" fill="#222" text-anchor="middle">Apoptosis rate(%)</text>
<line x1="667.8" y1="610.2" x2="667.8" y2="675.8" stroke="#111" stroke-width="0.9"/>
<line x1="667.8" y1="675.8" x2="705" y2="675.8" stroke="#111" stroke-width="0.9"/>
<line x1="666.3" y1="675.8" x2="667.8" y2="675.8" stroke="#111" stroke-width="0.7"/>
<text x="665.6" y="677.6" font-size="4.9" font-weight="bold" fill="#222" text-anchor="end">0</text>
<line x1="666.3" y1="653.93" x2="667.8" y2="653.93" stroke="#111" stroke-width="0.7"/>
<text x="665.6" y="655.73" font-size="4.9" font-weight="bold" fill="#222" text-anchor="end">2</text>
<line x1="666.3" y1="632.07" x2="667.8" y2="632.07" stroke="#111" stroke-width="0.7"/>
<text x="665.6" y="633.87" font-size="4.9" font-weight="bold" fill="#222" text-anchor="end">4</text>
<line x1="666.3" y1="610.2" x2="667.8" y2="610.2" stroke="#111" stroke-width="0.7"/>
<text x="665.6" y="612" font-size="4.9" font-weight="bold" fill="#222" text-anchor="end">6</text>
<line x1="678.25" y1="633.71" x2="678.25" y2="617.31" stroke="#111" stroke-width="0.9"/>
<line x1="675.25" y1="617.31" x2="681.25" y2="617.31" stroke="#111" stroke-width="0.9"/>
<rect x="671.6" y="633.71" width="13.3" height="42.09" fill="#ff0000" stroke="#111" stroke-width="1.1"/>
<line x1="697.75" y1="633.16" x2="697.75" y2="617.31" stroke="#111" stroke-width="0.9"/>
<line x1="694.75" y1="617.31" x2="700.75" y2="617.31" stroke="#111" stroke-width="0.9"/>
<rect x="690.8" y="633.16" width="13.9" height="42.64" fill="#0000ff" stroke="#111" stroke-width="1.1"/>
<path d="M675.5,608.6 V613 M675.5,610.8 H697.5 M697.5,608.6 V613" stroke="#222" stroke-width="0.9" fill="none"/>
<text x="686.5" y="606.4" font-size="4.6" fill="#222" text-anchor="middle">NS</text>
<text transform="translate(681,683) rotate(-45)" font-size="4.9" font-weight="bold" fill="#222" text-anchor="end">Si-SPIN1</text>
<text transform="translate(699,683) rotate(-45)" font-size="4.9" font-weight="bold" fill="#222" text-anchor="end">NC</text>
<text x="688.5" y="703.8" font-size="4.6" font-weight="bold" fill="#222" text-anchor="middle">BGC823</text>
<text transform="translate(659.6,643) rotate(-90)" font-size="5.2" font-weight="bold" fill="#222" text-anchor="middle">Apoptosis rate(%)</text>
</svg></body></html>
